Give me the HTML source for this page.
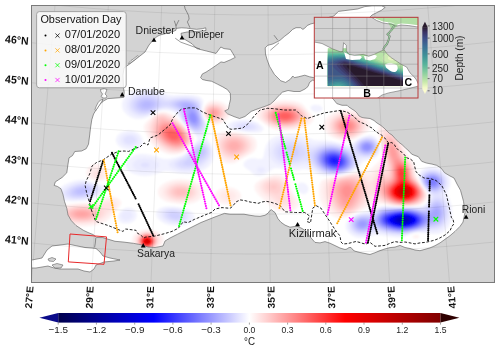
<!DOCTYPE html><html><head><meta charset="utf-8"><style>html,body{margin:0;padding:0;background:#fff;overflow:hidden}svg{display:block;will-change:transform} text{font-family:"Liberation Sans",sans-serif;}</style></head><body>
<svg width="500" height="350" viewBox="0 0 500 350">
<defs>
<clipPath id="frame"><rect x="31.2" y="5.4" width="463.1" height="276.90000000000003"/></clipPath>
<clipPath id="sea"><polygon points="96.5,237.5 93.0,234.5 88.0,232.5 83.4,230.3 76.0,225.5 71.3,220.6 68.0,215.0 66.8,208.3 64.5,201.4 63.0,194.5 61.0,188.8 57.6,186.5 54.2,185.4 55.3,181.9 58.7,179.7 62.2,177.4 66.8,172.8 67.9,164.8 69.0,157.9 72.5,155.6 74.8,151.5 81.6,151.0 86.2,148.7 88.5,144.2 89.7,135.0 90.5,128.0 91.8,119.7 93.6,114.0 96.4,109.4 99.8,104.3 103.8,100.8 107.8,98.6 116.0,98.0 123.8,97.4 124.2,92.0 123.5,88.0 123.0,75.0 124.0,68.0 126.4,66.3 132.0,62.2 138.0,57.5 145.0,52.0 149.0,45.0 153.6,39.5 157.0,36.5 160.0,35.0 168.0,33.0 173.0,31.5 176.0,30.2 176.0,28.4 181.7,27.8 186.3,28.1 190.9,28.7 196.6,29.3 202.3,28.7 205.7,27.8 206.0,30.5 196.0,31.5 187.0,32.0 181.0,33.3 181.6,37.4 192.0,43.8 196.8,48.6 206.4,51.0 216.0,53.4 220.8,47.0 224.0,48.6 230.4,49.4 232.8,53.4 235.2,57.4 230.4,59.8 224.0,62.5 221.0,61.9 217.3,64.6 211.7,68.4 206.1,72.1 202.4,73.9 200.6,77.6 202.4,79.5 206.1,80.4 211.7,81.3 217.3,84.1 222.8,86.9 227.5,89.7 230.3,93.4 230.6,99.0 229.3,104.5 228.4,109.2 224.7,111.0 227.5,113.8 234.0,116.6 239.5,118.5 245.0,116.5 251.2,111.4 256.0,109.5 260.8,107.8 266.0,106.0 270.4,104.2 274.0,101.0 277.6,97.0 280.0,94.5 282.4,92.2 288.0,90.5 294.0,91.5 300.0,91.5 305.0,89.0 308.0,86.5 309.6,82.4 312.8,80.0 318.0,82.0 326.0,92.0 333.4,99.3 336.8,103.6 342.0,105.3 347.1,105.3 348.8,107.0 355.0,111.0 357.0,113.0 359.0,116.0 362.0,117.5 365.0,118.0 370.0,118.5 374.0,120.5 377.0,123.0 381.0,125.5 384.0,128.0 387.0,131.0 389.5,133.5 391.9,134.9 395.3,138.7 398.7,142.1 402.1,144.7 405.6,148.1 409.0,151.1 411.6,154.1 413.7,155.0 418.3,156.7 421.7,161.3 426.3,163.0 432.0,164.1 436.5,165.3 441.1,168.1 444.5,172.7 450.0,176.0 454.0,178.0 457.0,184.0 460.5,190.3 463.5,201.3 465.0,212.4 463.0,222.1 460.0,226.4 455.0,231.4 450.0,235.7 445.0,239.3 440.0,242.9 435.0,245.7 430.0,247.9 425.0,249.3 420.0,250.7 415.0,250.0 410.0,248.5 405.0,247.5 400.0,245.4 395.0,247.1 390.0,247.6 385.0,248.9 380.0,250.6 375.0,252.7 370.0,254.5 365.0,253.5 360.0,252.5 355.0,251.2 353.0,250.0 351.0,247.5 349.0,247.5 347.0,249.0 345.0,249.5 340.0,248.0 335.0,245.6 330.0,243.2 325.0,241.6 320.0,242.9 315.0,242.4 310.0,236.8 306.0,231.0 302.0,228.5 297.0,226.0 295.0,226.4 290.0,227.2 285.0,225.1 281.0,222.3 278.0,218.8 276.0,214.6 275.0,212.5 273.0,211.1 271.5,209.7 270.0,210.4 268.0,213.2 265.0,215.3 260.0,216.3 255.0,216.0 250.0,215.3 244.0,214.2 230.0,214.2 224.4,213.4 214.0,217.3 201.0,222.5 188.0,229.0 177.6,234.2 170.0,238.0 165.0,241.0 163.0,246.0 155.0,247.5 148.0,247.0 140.0,244.5 133.4,243.3 123.0,242.0 115.0,241.3 102.8,237.6"/></clipPath>
<clipPath id="iclip"><rect x="314.3" y="17.3" width="103.69999999999999" height="80.7"/></clipPath>
<clipPath id="isea"><polygon points="314.3,42.0 322.0,43.5 332.8,49.0 340.0,51.7 342.8,51.5 343.6,42.7 346.3,45.4 346.3,50.8 349.0,54.4 354.4,55.3 363.4,54.4 368.8,56.2 374.2,54.4 379.6,51.7 384.1,49.9 386.8,53.5 390.4,57.1 395.8,60.7 401.2,64.3 406.6,67.0 410.0,72.9 414.3,77.0 416.5,80.0 418.5,84.3 418.5,86.0 408.6,88.6 398.0,91.0 388.6,92.9 382.0,95.0 377.0,98.5 314.0,98.5"/></clipPath>
<linearGradient id="cb" x1="0" x2="1" y1="0" y2="0"><stop offset="0.000" stop-color="#00004c"/><stop offset="0.025" stop-color="#00005e"/><stop offset="0.050" stop-color="#000070"/><stop offset="0.075" stop-color="#000082"/><stop offset="0.100" stop-color="#000094"/><stop offset="0.125" stop-color="#0000a6"/><stop offset="0.150" stop-color="#0000b8"/><stop offset="0.175" stop-color="#0000c9"/><stop offset="0.200" stop-color="#0000db"/><stop offset="0.225" stop-color="#0000ed"/><stop offset="0.250" stop-color="#0000ff"/><stop offset="0.275" stop-color="#1a1aff"/><stop offset="0.300" stop-color="#3333ff"/><stop offset="0.325" stop-color="#4d4dff"/><stop offset="0.350" stop-color="#6666ff"/><stop offset="0.375" stop-color="#8080ff"/><stop offset="0.400" stop-color="#9999ff"/><stop offset="0.425" stop-color="#b3b3ff"/><stop offset="0.450" stop-color="#ccccff"/><stop offset="0.475" stop-color="#e6e6ff"/><stop offset="0.500" stop-color="#ffffff"/><stop offset="0.525" stop-color="#ffe5e5"/><stop offset="0.550" stop-color="#ffcccc"/><stop offset="0.575" stop-color="#ffb2b2"/><stop offset="0.600" stop-color="#ff9999"/><stop offset="0.625" stop-color="#ff8080"/><stop offset="0.650" stop-color="#ff6666"/><stop offset="0.675" stop-color="#ff4c4c"/><stop offset="0.700" stop-color="#ff3333"/><stop offset="0.725" stop-color="#ff1919"/><stop offset="0.750" stop-color="#ff0000"/><stop offset="0.775" stop-color="#f20000"/><stop offset="0.800" stop-color="#e50000"/><stop offset="0.825" stop-color="#d90000"/><stop offset="0.850" stop-color="#cc0000"/><stop offset="0.875" stop-color="#bf0000"/><stop offset="0.900" stop-color="#b20000"/><stop offset="0.925" stop-color="#a60000"/><stop offset="0.950" stop-color="#990000"/><stop offset="0.975" stop-color="#8c0000"/><stop offset="1.000" stop-color="#800000"/></linearGradient>
<linearGradient id="deepv" x1="0" x2="0" y1="1" y2="0"><stop offset="0" stop-color="#fdfecc"/><stop offset="0.12" stop-color="#c6e8aa"/><stop offset="0.25" stop-color="#8fd1a0"/><stop offset="0.4" stop-color="#56b39b"/><stop offset="0.55" stop-color="#3e8f98"/><stop offset="0.7" stop-color="#3c6c95"/><stop offset="0.82" stop-color="#3e4d88"/><stop offset="0.92" stop-color="#3b3264"/><stop offset="1" stop-color="#281a2c"/></linearGradient>
<filter id="fblur" x="-5%" y="-5%" width="110%" height="110%"><feGaussianBlur stdDeviation="1.3"/></filter>
</defs>
<rect width="500" height="350" fill="#fff"/>
<g clip-path="url(#frame)">
<rect x="31.2" y="5.4" width="463.1" height="276.90000000000003" fill="#d3d3d3"/>
<polygon points="96.5,237.5 93.0,234.5 88.0,232.5 83.4,230.3 76.0,225.5 71.3,220.6 68.0,215.0 66.8,208.3 64.5,201.4 63.0,194.5 61.0,188.8 57.6,186.5 54.2,185.4 55.3,181.9 58.7,179.7 62.2,177.4 66.8,172.8 67.9,164.8 69.0,157.9 72.5,155.6 74.8,151.5 81.6,151.0 86.2,148.7 88.5,144.2 89.7,135.0 90.5,128.0 91.8,119.7 93.6,114.0 96.4,109.4 99.8,104.3 103.8,100.8 107.8,98.6 116.0,98.0 123.8,97.4 124.2,92.0 123.5,88.0 123.0,75.0 124.0,68.0 126.4,66.3 132.0,62.2 138.0,57.5 145.0,52.0 149.0,45.0 153.6,39.5 157.0,36.5 160.0,35.0 168.0,33.0 173.0,31.5 176.0,30.2 176.0,28.4 181.7,27.8 186.3,28.1 190.9,28.7 196.6,29.3 202.3,28.7 205.7,27.8 206.0,30.5 196.0,31.5 187.0,32.0 181.0,33.3 181.6,37.4 192.0,43.8 196.8,48.6 206.4,51.0 216.0,53.4 220.8,47.0 224.0,48.6 230.4,49.4 232.8,53.4 235.2,57.4 230.4,59.8 224.0,62.5 221.0,61.9 217.3,64.6 211.7,68.4 206.1,72.1 202.4,73.9 200.6,77.6 202.4,79.5 206.1,80.4 211.7,81.3 217.3,84.1 222.8,86.9 227.5,89.7 230.3,93.4 230.6,99.0 229.3,104.5 228.4,109.2 224.7,111.0 227.5,113.8 234.0,116.6 239.5,118.5 245.0,116.5 251.2,111.4 256.0,109.5 260.8,107.8 266.0,106.0 270.4,104.2 274.0,101.0 277.6,97.0 280.0,94.5 282.4,92.2 288.0,90.5 294.0,91.5 300.0,91.5 305.0,89.0 308.0,86.5 309.6,82.4 312.8,80.0 318.0,82.0 326.0,92.0 333.4,99.3 336.8,103.6 342.0,105.3 347.1,105.3 348.8,107.0 355.0,111.0 357.0,113.0 359.0,116.0 362.0,117.5 365.0,118.0 370.0,118.5 374.0,120.5 377.0,123.0 381.0,125.5 384.0,128.0 387.0,131.0 389.5,133.5 391.9,134.9 395.3,138.7 398.7,142.1 402.1,144.7 405.6,148.1 409.0,151.1 411.6,154.1 413.7,155.0 418.3,156.7 421.7,161.3 426.3,163.0 432.0,164.1 436.5,165.3 441.1,168.1 444.5,172.7 450.0,176.0 454.0,178.0 457.0,184.0 460.5,190.3 463.5,201.3 465.0,212.4 463.0,222.1 460.0,226.4 455.0,231.4 450.0,235.7 445.0,239.3 440.0,242.9 435.0,245.7 430.0,247.9 425.0,249.3 420.0,250.7 415.0,250.0 410.0,248.5 405.0,247.5 400.0,245.4 395.0,247.1 390.0,247.6 385.0,248.9 380.0,250.6 375.0,252.7 370.0,254.5 365.0,253.5 360.0,252.5 355.0,251.2 353.0,250.0 351.0,247.5 349.0,247.5 347.0,249.0 345.0,249.5 340.0,248.0 335.0,245.6 330.0,243.2 325.0,241.6 320.0,242.9 315.0,242.4 310.0,236.8 306.0,231.0 302.0,228.5 297.0,226.0 295.0,226.4 290.0,227.2 285.0,225.1 281.0,222.3 278.0,218.8 276.0,214.6 275.0,212.5 273.0,211.1 271.5,209.7 270.0,210.4 268.0,213.2 265.0,215.3 260.0,216.3 255.0,216.0 250.0,215.3 244.0,214.2 230.0,214.2 224.4,213.4 214.0,217.3 201.0,222.5 188.0,229.0 177.6,234.2 170.0,238.0 165.0,241.0 163.0,246.0 155.0,247.5 148.0,247.0 140.0,244.5 133.4,243.3 123.0,242.0 115.0,241.3 102.8,237.6" fill="#fff"/>
<polygon points="265.2,47.8 267.8,45.3 272.8,44.0 277.8,41.5 280.0,40.3 284.6,36.3 289.1,32.9 292.6,29.4 296.0,27.7 300.6,27.7 302.9,29.4 304.6,28.3 307.4,25.4 310.9,23.9 314.3,23.1 320.0,21.0 330.0,17.0 333.6,16.2 338.4,11.4 348.0,10.2 357.6,9.0 364.8,6.6 372.0,5.9 381.6,5.9 385.2,7.3 381.6,10.2 376.8,12.6 372.0,15.0 369.6,17.5 400.0,30.0 400.0,60.0 330.0,80.0 316.0,79.0 313.6,77.6 309.6,76.8 304.8,75.2 298.4,76.8 294.4,77.6 292.8,76.0 290.4,79.2 285.6,82.4 280.8,80.8 274.4,74.4 269.6,66.4 267.2,60.0 265.5,54.0" fill="#fff"/>
<polygon points="25.0,259.0 32.0,260.0 42.0,258.0 47.0,250.0 52.0,246.0 60.0,245.0 68.0,244.0 75.0,245.5 85.0,247.5 92.0,248.0 96.0,248.5 100.0,252.0 103.0,256.0 110.0,258.0 118.0,259.6 120.0,260.0 114.0,261.0 104.0,262.0 96.0,265.0 94.0,269.0 90.0,272.0 84.0,271.0 78.0,269.0 70.0,269.0 60.0,269.0 54.0,268.0 48.0,266.0 42.0,267.0 36.0,268.0 25.0,268.0" fill="#fff"/>
<g clip-path="url(#sea)"><g filter="url(#fblur)">
<path fill="#fff2f2" fill-rule="evenodd" d="M208.6 102.0 210.0 101.1 212.0 100.6 214.0 100.5 216.0 100.5 218.0 100.8 220.0 101.4 221.5 102.0 222.0 102.2 224.0 103.2 225.2 104.0 226.0 104.6 227.5 106.0 228.0 106.7 229.0 108.0 229.9 110.0 230.0 110.7 230.3 112.0 230.3 114.0 230.0 114.8 229.7 116.0 228.3 118.0 228.0 118.3 226.2 120.0 226.0 120.1 224.0 121.5 223.2 122.0 222.0 122.7 220.0 123.7 218.9 124.0 218.0 124.4 216.0 124.9 214.0 124.9 212.0 124.3 211.5 124.0 210.0 123.3 208.5 122.0 208.0 121.6 206.7 120.0 206.0 119.1 205.4 118.0 204.4 116.0 204.0 114.9 203.7 114.0 203.4 112.0 203.4 110.0 203.9 108.0 204.0 107.6 204.8 106.0 206.0 104.1 206.2 104.0 208.0 102.3 208.6 102.0ZM272.1 102.0 274.0 101.4 276.0 101.0 278.0 100.7 280.0 100.5 282.0 100.4 284.0 100.3 286.0 100.3 288.0 100.4 290.0 100.5 292.0 100.7 294.0 101.0 296.0 101.5 297.6 102.0 298.0 102.1 300.0 102.7 302.0 103.9 302.2 104.0 304.0 105.7 304.2 106.0 305.5 108.0 306.0 108.6 307.0 110.0 308.0 111.1 308.9 112.0 310.0 113.1 311.2 114.0 312.0 115.0 313.1 116.0 313.9 118.0 313.5 120.0 312.2 122.0 312.0 122.2 310.1 124.0 310.0 124.1 308.0 125.5 307.1 126.0 306.0 126.6 304.0 127.4 302.2 128.0 302.0 128.1 300.0 128.7 298.0 129.2 296.0 129.5 294.0 129.8 292.0 130.0 291.9 130.0 290.0 130.2 288.0 130.4 286.0 130.4 284.0 130.5 282.0 130.4 280.0 130.3 278.0 130.0 277.8 130.0 276.0 129.8 274.0 129.3 272.0 128.6 271.0 128.0 270.0 127.6 268.0 126.4 267.5 126.0 266.0 125.1 264.6 124.0 264.0 123.6 262.0 122.1 261.8 122.0 260.0 120.6 259.2 120.0 258.0 118.7 257.1 118.0 256.1 116.0 256.0 114.5 256.0 114.0 256.0 113.9 256.5 112.0 257.8 110.0 258.0 109.8 259.7 108.0 260.0 107.8 262.0 106.3 262.4 106.0 264.0 105.0 266.0 104.1 266.2 104.0 268.0 103.2 270.0 102.5 272.0 102.0 272.1 102.0ZM341.4 110.0 342.0 109.9 344.0 109.6 346.0 109.4 348.0 109.4 350.0 109.6 352.0 109.9 352.6 110.0 354.0 110.2 356.0 110.7 358.0 111.4 359.2 112.0 360.0 112.3 362.0 113.4 362.9 114.0 364.0 114.8 365.4 116.0 366.0 116.6 367.3 118.0 368.0 119.0 368.7 120.0 369.6 122.0 370.0 123.6 370.2 124.0 370.3 126.0 370.0 127.6 369.9 128.0 369.0 130.0 368.0 130.9 367.0 132.0 366.0 132.6 364.0 133.9 363.8 134.0 362.0 134.9 360.1 136.0 360.0 136.1 358.0 137.1 356.4 138.0 356.0 138.2 354.0 139.3 352.3 140.0 352.0 140.1 350.0 140.8 348.0 141.2 346.0 141.2 344.0 140.9 342.0 140.6 340.0 140.1 339.6 140.0 338.0 139.6 336.0 138.9 334.0 138.1 333.7 138.0 332.0 137.2 330.0 136.1 329.9 136.0 328.0 134.5 327.4 134.0 326.0 132.3 325.8 132.0 324.7 130.0 324.1 128.0 324.0 127.2 323.8 126.0 323.9 124.0 324.0 123.5 324.3 122.0 325.1 120.0 326.0 118.9 326.6 118.0 328.0 116.6 328.6 116.0 330.0 114.9 331.3 114.0 332.0 113.5 334.0 112.4 334.9 112.0 336.0 111.5 338.0 110.7 340.0 110.2 341.4 110.0ZM155.8 114.0 156.0 113.9 158.0 113.0 160.0 112.3 162.0 112.1 164.0 112.0 166.0 112.3 168.0 112.8 170.0 113.5 171.3 114.0 172.0 114.4 174.0 115.6 174.5 116.0 176.0 117.2 176.7 118.0 178.0 119.2 178.7 120.0 180.0 121.3 180.6 122.0 182.0 123.4 182.5 124.0 184.0 125.6 184.3 126.0 186.0 127.8 186.1 128.0 187.9 130.0 188.0 130.1 189.7 132.0 190.0 132.4 191.4 134.0 192.0 134.9 192.9 136.0 193.8 138.0 193.8 140.0 193.1 142.0 192.0 143.6 191.8 144.0 190.2 146.0 190.0 146.2 188.3 148.0 188.0 148.3 186.2 150.0 186.0 150.2 184.0 151.8 183.6 152.0 182.0 152.9 180.0 153.7 178.8 154.0 178.0 154.2 176.0 154.6 174.0 154.7 172.0 154.6 170.0 154.4 168.2 154.0 168.0 154.0 166.0 153.4 164.0 152.6 162.7 152.0 162.0 151.6 160.0 150.6 159.1 150.0 158.0 149.3 156.2 148.0 156.0 147.9 154.0 146.2 153.8 146.0 152.0 144.1 151.9 144.0 150.4 142.0 150.0 141.3 149.2 140.0 148.2 138.0 148.0 137.7 147.1 136.0 146.1 134.0 146.0 133.8 145.1 132.0 144.3 130.0 144.0 128.7 143.8 128.0 143.9 126.0 144.0 125.8 144.7 124.0 146.0 122.5 146.3 122.0 148.0 120.5 148.5 120.0 150.0 118.7 150.6 118.0 152.0 116.9 152.9 116.0 154.0 115.2 155.8 114.0ZM383.2 122.0 384.0 121.7 386.0 121.8 386.5 122.0 388.0 122.5 390.0 123.6 390.4 124.0 392.0 125.2 392.8 126.0 394.0 127.3 394.6 128.0 396.0 129.8 396.1 130.0 397.6 132.0 398.0 132.7 398.8 134.0 399.9 136.0 400.0 136.2 401.0 138.0 401.9 140.0 402.0 140.3 402.9 142.0 403.6 144.0 404.0 145.1 404.4 146.0 405.2 148.0 405.8 150.0 406.0 150.4 406.8 152.0 407.7 154.0 408.0 154.5 409.1 156.0 410.0 157.4 410.5 158.0 411.9 160.0 412.0 160.2 413.2 162.0 414.0 163.9 414.0 164.0 414.9 166.0 415.4 168.0 415.6 170.0 415.8 172.0 416.0 174.0 416.0 174.2 416.5 176.0 417.2 178.0 418.0 179.3 418.3 180.0 419.5 182.0 420.0 182.7 420.8 184.0 422.0 185.8 422.1 186.0 423.5 188.0 424.0 188.8 424.9 190.0 426.0 191.9 426.1 192.0 427.1 194.0 427.4 196.0 427.0 198.0 426.0 199.9 426.0 200.0 424.4 202.0 424.0 202.4 422.0 204.0 422.0 204.0 420.0 204.9 418.0 205.5 416.0 205.8 414.6 206.0 414.0 206.1 412.0 206.2 410.0 206.3 408.0 206.4 406.0 206.4 404.0 206.4 402.0 206.4 400.0 206.3 398.0 206.2 396.0 206.1 394.9 206.0 394.0 205.9 392.0 205.7 390.0 205.3 388.0 204.9 386.0 204.6 384.0 204.2 382.1 204.0 382.0 204.0 380.0 203.8 378.0 203.7 376.0 203.7 374.0 204.0 373.9 204.0 372.0 204.6 370.0 205.7 369.6 206.0 368.0 206.9 366.1 208.0 366.0 208.0 364.0 208.9 362.0 209.9 361.7 210.0 360.0 210.7 358.0 211.6 357.2 212.0 356.0 212.5 354.0 213.5 353.0 214.0 352.0 214.5 350.0 215.5 348.8 216.0 348.0 216.5 346.0 217.3 344.0 218.0 343.7 218.0 342.0 218.4 340.0 218.5 338.0 218.2 337.4 218.0 336.0 217.6 334.0 216.7 332.8 216.0 332.0 215.5 330.0 214.0 330.0 214.0 328.0 212.2 327.7 212.0 326.0 210.1 325.9 210.0 324.3 208.0 324.0 207.5 322.9 206.0 322.0 204.2 321.9 204.0 320.9 202.0 320.2 200.0 320.0 199.1 319.7 198.0 319.4 196.0 319.2 194.0 319.1 192.0 319.1 190.0 319.1 188.0 319.3 186.0 319.8 184.0 320.0 183.5 320.7 182.0 322.0 180.6 322.7 180.0 324.0 179.4 326.0 178.7 328.0 178.1 328.4 178.0 330.0 177.7 332.0 177.4 334.0 177.1 336.0 176.7 338.0 176.3 339.8 176.0 340.0 176.0 342.0 175.6 344.0 175.2 346.0 174.8 348.0 174.3 349.1 174.0 350.0 173.8 352.0 173.2 354.0 172.7 356.0 172.1 356.6 172.0 358.0 171.6 360.0 171.1 362.0 170.8 364.0 170.7 366.0 170.6 368.0 170.4 369.1 170.0 370.0 169.6 372.0 168.0 372.0 168.0 373.9 166.0 374.0 165.9 376.0 164.1 376.1 164.0 378.0 162.4 378.5 162.0 380.0 160.3 380.1 160.0 380.9 158.0 381.3 156.0 381.6 154.0 381.7 152.0 381.7 150.0 381.7 148.0 381.5 146.0 381.2 144.0 380.7 142.0 380.1 140.0 380.0 139.4 379.5 138.0 378.8 136.0 378.3 134.0 378.0 132.3 377.9 132.0 377.8 130.0 378.0 129.0 378.1 128.0 378.8 126.0 380.0 124.2 380.2 124.0 382.0 122.4 383.2 122.0ZM222.0 132.0 224.0 131.7 226.0 131.6 228.0 131.6 230.0 131.7 232.0 131.9 233.1 132.0 234.0 132.1 236.0 132.3 238.0 132.6 240.0 133.0 242.0 133.3 244.0 133.7 245.3 134.0 246.0 134.2 248.0 134.8 250.0 135.4 251.7 136.0 252.0 136.2 254.0 137.5 254.7 138.0 255.9 140.0 256.0 140.2 256.6 142.0 256.8 144.0 256.7 146.0 256.3 148.0 256.0 148.6 255.4 150.0 254.0 151.7 253.7 152.0 252.0 153.2 250.7 154.0 250.0 154.3 248.0 155.4 246.8 156.0 246.0 156.4 244.0 157.5 243.1 158.0 242.0 158.7 240.0 159.9 239.9 160.0 238.0 161.3 236.5 162.0 236.0 162.4 234.0 163.2 232.0 163.6 230.0 163.6 228.0 163.5 226.0 163.0 224.0 162.2 223.7 162.0 222.0 161.1 220.9 160.0 220.0 159.1 219.2 158.0 218.2 156.0 218.0 155.7 217.4 154.0 216.7 152.0 216.2 150.0 216.0 149.4 215.6 148.0 215.1 146.0 214.7 144.0 214.3 142.0 214.2 140.0 214.4 138.0 215.2 136.0 216.0 135.0 217.0 134.0 218.0 133.4 220.0 132.5 222.0 132.0 222.0 132.0ZM94.5 164.0 96.0 163.7 98.0 163.7 99.4 164.0 100.0 164.1 102.0 164.9 103.7 166.0 104.0 166.2 105.7 168.0 106.0 168.4 107.0 170.0 107.7 172.0 107.9 174.0 107.7 176.0 106.7 178.0 106.0 178.7 104.3 180.0 104.0 180.1 102.0 180.8 100.0 181.1 98.0 181.1 96.0 180.8 94.0 180.3 93.1 180.0 92.0 179.5 90.0 178.5 89.1 178.0 88.0 176.9 87.0 176.0 86.2 174.0 86.3 172.0 86.9 170.0 88.0 168.2 88.1 168.0 90.0 166.1 90.2 166.0 92.0 164.8 94.0 164.1 94.5 164.0ZM270.0 176.0 270.0 176.0 272.0 175.3 274.0 174.8 276.0 174.6 278.0 174.7 280.0 175.0 282.0 175.6 283.0 176.0 284.0 176.5 286.0 177.8 286.3 178.0 288.0 179.9 288.1 180.0 289.1 182.0 289.6 184.0 290.0 186.0 290.0 186.0 290.5 188.0 291.2 190.0 292.0 191.6 292.2 192.0 293.6 194.0 294.0 194.5 295.2 196.0 296.0 197.1 296.8 198.0 298.0 199.9 298.1 200.0 298.9 202.0 299.0 204.0 298.2 206.0 298.0 206.3 296.6 208.0 296.0 208.5 294.0 209.7 293.4 210.0 292.0 210.6 290.0 211.2 288.0 211.6 286.0 211.8 284.0 211.8 282.0 211.6 280.0 211.3 278.0 210.8 276.1 210.0 276.0 210.0 274.0 209.0 272.5 208.0 272.0 207.6 270.1 206.0 270.0 205.9 268.1 204.0 268.0 203.9 266.2 202.0 266.0 201.8 264.1 200.0 264.0 199.9 262.0 198.2 261.8 198.0 260.0 196.5 259.5 196.0 258.0 194.5 257.5 194.0 256.0 192.0 256.0 191.9 255.0 190.0 254.5 188.0 254.5 186.0 255.2 184.0 256.0 183.1 257.0 182.0 258.0 181.4 260.0 180.2 260.4 180.0 262.0 179.3 264.0 178.4 265.0 178.0 266.0 177.6 268.0 176.7 270.0 176.0ZM173.4 180.0 174.0 179.9 176.0 179.6 178.0 179.4 180.0 179.3 182.0 179.3 184.0 179.4 186.0 179.6 188.0 179.9 188.4 180.0 190.0 180.3 192.0 180.7 194.0 181.3 195.5 182.0 196.0 182.2 198.0 183.2 199.2 184.0 200.0 184.6 201.5 186.0 202.0 186.6 203.1 188.0 204.0 190.0 204.0 190.1 204.4 192.0 204.2 194.0 204.0 194.3 203.3 196.0 202.0 197.6 201.6 198.0 200.0 199.4 199.3 200.0 198.0 200.8 196.0 201.9 195.6 202.0 194.0 202.7 192.0 203.3 190.0 203.7 188.0 204.0 187.7 204.0 186.0 204.1 184.0 204.2 182.0 204.1 180.0 204.0 180.0 204.0 178.0 203.8 176.0 203.6 174.0 203.3 172.0 203.0 170.0 202.6 168.0 202.1 167.8 202.0 166.0 201.4 164.0 200.5 163.0 200.0 162.0 199.3 160.5 198.0 160.0 197.3 159.0 196.0 158.2 194.0 158.0 192.5 157.9 192.0 158.0 191.5 158.2 190.0 159.0 188.0 160.0 186.8 160.6 186.0 162.0 184.8 163.0 184.0 164.0 183.4 166.0 182.3 166.7 182.0 168.0 181.4 170.0 180.7 172.0 180.2 173.4 180.0ZM223.1 188.0 224.0 187.7 226.0 187.4 228.0 187.3 230.0 187.4 232.0 187.8 232.8 188.0 234.0 188.3 236.0 189.2 237.4 190.0 238.0 190.5 239.6 192.0 240.0 192.7 240.7 194.0 241.1 196.0 240.7 198.0 240.0 199.2 239.5 200.0 238.0 201.5 237.3 202.0 236.0 202.8 234.0 203.7 232.8 204.0 232.0 204.2 230.0 204.6 228.0 204.7 226.0 204.6 224.0 204.2 223.2 204.0 222.0 203.7 220.0 202.8 218.6 202.0 218.0 201.5 216.3 200.0 216.0 199.5 215.0 198.0 214.5 196.0 214.8 194.0 216.0 192.2 216.1 192.0 218.0 190.3 218.4 190.0 220.0 189.1 222.0 188.3 223.1 188.0ZM105.0 198.0 106.0 197.6 108.0 197.1 110.0 196.8 112.0 196.8 114.0 197.0 116.0 197.5 117.3 198.0 118.0 198.3 120.0 199.9 120.1 200.0 121.2 202.0 121.1 204.0 120.1 206.0 120.0 206.1 118.5 208.0 118.0 208.5 116.6 210.0 116.0 210.7 114.8 212.0 114.0 213.0 113.1 214.0 112.0 215.6 111.6 216.0 110.0 218.0 110.0 218.0 108.0 220.0 107.9 220.0 106.0 221.4 104.7 222.0 104.0 222.4 102.0 223.3 100.0 223.9 99.6 224.0 98.0 224.6 96.0 225.1 94.0 225.5 92.0 225.8 90.0 226.0 89.7 226.0 88.0 226.2 86.0 226.4 84.0 226.5 82.0 226.5 80.0 226.5 78.0 226.4 76.0 226.2 74.3 226.0 74.0 226.0 72.0 225.8 70.0 225.5 68.0 225.1 66.0 224.5 64.4 224.0 64.0 223.9 62.0 223.2 60.0 222.3 59.4 222.0 58.0 221.3 56.1 220.0 56.0 219.9 54.0 218.0 54.0 217.9 52.8 216.0 52.4 214.0 52.8 212.0 54.0 210.2 54.2 210.0 56.0 208.4 56.5 208.0 58.0 207.2 60.0 206.3 61.0 206.0 62.0 205.7 64.0 205.2 66.0 204.8 68.0 204.4 70.0 204.2 71.7 204.0 72.0 204.0 74.0 203.8 76.0 203.6 78.0 203.4 80.0 203.3 82.0 203.2 84.0 203.1 86.0 203.0 88.0 202.9 90.0 202.8 92.0 202.6 94.0 202.3 95.4 202.0 96.0 201.8 98.0 201.1 100.0 200.2 100.4 200.0 102.0 199.2 104.0 198.4 105.0 198.0ZM143.5 230.0 144.0 229.9 146.0 229.5 148.0 229.4 150.0 229.6 151.8 230.0 152.0 230.0 154.0 230.4 156.0 231.1 157.8 232.0 158.0 232.1 160.0 233.3 160.9 234.0 162.0 235.2 162.7 236.0 163.6 238.0 163.9 240.0 163.6 242.0 162.7 244.0 162.0 244.8 161.0 246.0 160.0 246.8 158.4 248.0 158.0 248.3 156.0 249.5 154.9 250.0 154.0 250.5 152.0 251.3 150.0 251.7 148.0 251.9 146.0 251.9 144.0 251.7 142.0 251.2 140.0 250.1 139.9 250.0 138.0 249.0 136.7 248.0 136.0 247.4 134.5 246.0 134.0 245.2 133.1 244.0 132.3 242.0 132.0 240.0 132.3 238.0 133.2 236.0 134.0 235.1 135.0 234.0 136.0 233.2 137.9 232.0 138.0 232.0 140.0 230.9 142.0 230.3 143.5 230.0ZM412.5 236.0 414.0 235.3 416.0 234.8 418.0 235.0 419.9 236.0 418.2 238.0 418.0 238.1 416.0 238.5 414.0 238.3 413.4 238.0 412.5 236.0Z"/>
<path fill="#ffeaea" fill-rule="evenodd" d="M208.2 104.0 210.0 103.0 212.0 102.5 214.0 102.4 216.0 102.5 218.0 102.9 220.0 103.5 221.0 104.0 222.0 104.5 224.0 105.9 224.2 106.0 226.0 108.0 226.0 108.0 227.2 110.0 227.7 112.0 227.7 114.0 227.1 116.0 226.0 117.6 225.8 118.0 224.0 119.6 223.5 120.0 222.0 121.0 220.0 122.0 219.9 122.0 218.0 122.8 216.0 123.2 214.0 123.2 212.0 122.9 210.2 122.0 210.0 121.9 208.0 120.5 207.6 120.0 206.0 118.0 206.0 118.0 205.0 116.0 204.3 114.0 204.0 112.1 204.0 112.0 204.0 111.8 204.1 110.0 204.7 108.0 205.9 106.0 206.0 105.9 208.0 104.1 208.2 104.0ZM272.7 104.0 274.0 103.6 276.0 103.1 278.0 102.7 280.0 102.5 282.0 102.4 284.0 102.3 286.0 102.3 288.0 102.4 290.0 102.5 292.0 102.7 294.0 103.1 296.0 103.6 297.0 104.0 298.0 104.3 300.0 105.1 301.3 106.0 302.0 106.5 303.5 108.0 304.0 108.5 305.3 110.0 306.0 110.8 307.1 112.0 308.0 113.1 308.9 114.0 310.0 115.9 310.0 116.0 310.3 118.0 310.0 118.9 309.6 120.0 308.1 122.0 308.0 122.1 306.0 123.8 305.7 124.0 304.0 125.1 302.0 126.0 302.0 126.0 300.0 126.9 298.0 127.5 296.0 127.9 295.6 128.0 294.0 128.4 292.0 128.7 290.0 128.9 288.0 129.1 286.0 129.2 284.0 129.2 282.0 129.1 280.0 128.9 278.0 128.6 276.0 128.2 275.4 128.0 274.0 127.7 272.0 126.9 270.2 126.0 270.0 125.9 268.0 124.8 266.8 124.0 266.0 123.5 264.0 122.0 264.0 122.0 262.0 120.2 261.7 120.0 260.1 118.0 260.0 117.6 259.4 116.0 259.5 114.0 260.0 112.8 260.3 112.0 261.8 110.0 262.0 109.8 264.0 108.1 264.1 108.0 266.0 106.7 267.4 106.0 268.0 105.7 270.0 104.8 272.0 104.2 272.7 104.0ZM343.4 112.0 344.0 111.9 346.0 111.7 348.0 111.7 350.0 111.9 350.6 112.0 352.0 112.2 354.0 112.6 356.0 113.2 357.7 114.0 358.0 114.1 360.0 115.1 361.2 116.0 362.0 116.6 363.5 118.0 364.0 118.6 365.2 120.0 366.0 121.7 366.2 122.0 366.8 124.0 367.0 126.0 366.7 128.0 366.0 129.5 365.8 130.0 364.1 132.0 364.0 132.1 362.0 133.6 361.5 134.0 360.0 134.9 358.1 136.0 358.0 136.1 356.0 137.1 354.1 138.0 354.0 138.1 352.0 138.9 350.0 139.4 348.0 139.7 346.0 139.7 344.0 139.5 342.0 139.2 340.0 138.7 338.0 138.1 337.9 138.0 336.0 137.3 334.0 136.3 333.5 136.0 332.0 135.0 330.8 134.0 330.0 133.1 329.0 132.0 328.0 130.1 327.9 130.0 327.2 128.0 327.0 126.0 327.1 124.0 327.8 122.0 328.0 121.6 328.8 120.0 330.0 118.5 330.4 118.0 332.0 116.6 332.8 116.0 334.0 115.2 336.0 114.1 336.3 114.0 338.0 113.2 340.0 112.6 342.0 112.2 343.4 112.0ZM157.4 114.0 158.0 113.7 160.0 113.1 162.0 112.9 164.0 112.9 166.0 113.3 168.0 113.9 168.2 114.0 170.0 114.8 172.0 115.9 172.2 116.0 174.0 117.1 175.1 118.0 176.0 118.6 177.5 120.0 178.0 120.4 179.7 122.0 180.0 122.3 181.7 124.0 182.0 124.3 183.6 126.0 184.0 126.4 185.4 128.0 186.0 128.7 187.2 130.0 188.0 131.0 188.9 132.0 190.0 133.4 190.5 134.0 191.8 136.0 192.0 136.6 192.6 138.0 192.7 140.0 192.0 142.0 192.0 142.0 190.8 144.0 190.0 145.0 189.2 146.0 188.0 147.2 187.2 148.0 186.0 149.1 184.8 150.0 184.0 150.7 182.0 151.8 181.4 152.0 180.0 152.6 178.0 153.1 176.0 153.3 174.0 153.3 172.0 153.1 170.0 152.8 168.0 152.2 167.6 152.0 166.0 151.4 164.0 150.5 163.2 150.0 162.0 149.3 160.0 148.0 160.0 148.0 158.0 146.6 157.3 146.0 156.0 144.8 155.1 144.0 154.0 142.8 153.3 142.0 152.0 140.2 151.9 140.0 150.6 138.0 150.0 136.9 149.5 136.0 148.5 134.0 148.0 132.7 147.7 132.0 147.1 130.0 146.9 128.0 147.1 126.0 147.8 124.0 148.0 123.8 149.0 122.0 150.0 120.9 150.6 120.0 152.0 118.5 152.3 118.0 154.0 116.4 154.3 116.0 156.0 114.8 157.4 114.0ZM382.6 128.0 384.0 126.8 386.0 126.3 388.0 126.6 390.0 127.6 390.5 128.0 392.0 129.1 392.9 130.0 394.0 131.2 394.7 132.0 396.0 133.8 396.1 134.0 397.5 136.0 398.0 136.9 398.7 138.0 399.7 140.0 400.0 140.7 400.7 142.0 401.5 144.0 402.0 145.3 402.3 146.0 403.1 148.0 403.8 150.0 404.0 150.6 404.6 152.0 405.5 154.0 406.0 154.9 406.7 156.0 408.0 157.9 408.1 158.0 409.7 160.0 410.0 160.5 411.1 162.0 412.0 163.7 412.2 164.0 413.1 166.0 413.7 168.0 414.0 169.6 414.1 170.0 414.5 172.0 414.9 174.0 415.4 176.0 416.0 177.2 416.3 178.0 417.6 180.0 418.0 180.5 418.9 182.0 420.0 183.5 420.3 184.0 421.6 186.0 422.0 186.5 423.0 188.0 424.0 189.6 424.3 190.0 425.4 192.0 426.0 193.6 426.2 194.0 426.4 196.0 426.0 197.7 425.9 198.0 424.8 200.0 424.0 201.1 423.1 202.0 422.0 202.9 420.2 204.0 420.0 204.1 418.0 204.8 416.0 205.3 414.0 205.6 412.0 205.8 410.0 205.9 408.9 206.0 408.0 206.0 406.0 206.1 404.0 206.1 402.0 206.1 400.3 206.0 400.0 206.0 398.0 205.9 396.0 205.7 394.0 205.5 392.0 205.1 390.0 204.7 388.0 204.3 386.8 204.0 386.0 203.8 384.0 203.2 382.0 202.7 380.0 202.2 379.3 202.0 378.0 201.5 376.0 200.8 374.0 200.1 372.0 200.0 370.0 201.1 369.1 202.0 368.0 203.0 367.2 204.0 366.0 205.0 365.0 206.0 364.0 206.7 362.2 208.0 362.0 208.1 360.0 209.3 358.8 210.0 358.0 210.4 356.0 211.4 355.0 212.0 354.0 212.5 352.0 213.4 350.7 214.0 350.0 214.3 348.0 215.1 346.0 215.7 344.0 216.0 342.0 216.0 340.0 215.7 338.0 215.1 336.0 214.1 335.9 214.0 334.0 212.8 333.0 212.0 332.0 211.1 330.9 210.0 330.0 209.0 329.2 208.0 328.0 206.3 327.8 206.0 326.5 204.0 326.0 203.1 325.4 202.0 324.5 200.0 324.0 198.5 323.8 198.0 323.3 196.0 322.9 194.0 322.7 192.0 322.6 190.0 322.8 188.0 323.1 186.0 323.8 184.0 324.0 183.6 325.0 182.0 326.0 181.1 327.5 180.0 328.0 179.8 330.0 179.0 332.0 178.4 333.3 178.0 334.0 177.9 336.0 177.4 338.0 177.0 340.0 176.6 342.0 176.2 342.9 176.0 344.0 175.8 346.0 175.4 348.0 175.0 350.0 174.5 352.0 174.1 352.7 174.0 354.0 173.7 356.0 173.4 358.0 173.2 360.0 173.2 362.0 173.5 363.7 174.0 364.0 174.1 366.0 174.9 368.0 175.7 370.0 175.6 372.0 174.2 372.1 174.0 373.7 172.0 374.0 171.7 375.3 170.0 376.0 169.2 377.3 168.0 378.0 167.3 379.9 166.0 380.0 165.9 382.0 164.3 382.2 164.0 382.9 162.0 383.0 160.0 383.0 158.0 382.9 156.0 382.8 154.0 382.7 152.0 382.6 150.0 382.5 148.0 382.3 146.0 382.0 144.0 382.0 144.0 381.6 142.0 381.2 140.0 380.8 138.0 380.6 136.0 380.5 134.0 380.7 132.0 381.3 130.0 382.0 128.7 382.6 128.0ZM223.0 134.0 224.0 133.7 226.0 133.3 228.0 133.0 230.0 133.0 232.0 133.0 234.0 133.1 236.0 133.3 238.0 133.6 240.0 133.9 240.3 134.0 242.0 134.4 244.0 134.9 246.0 135.6 247.3 136.0 248.0 136.4 250.0 137.6 250.6 138.0 252.0 139.7 252.3 140.0 253.2 142.0 253.6 144.0 253.6 146.0 253.2 148.0 252.2 150.0 252.0 150.2 250.3 152.0 250.0 152.2 248.0 153.6 247.4 154.0 246.0 154.8 244.0 156.0 243.9 156.0 242.0 157.1 240.2 158.0 240.0 158.2 238.0 159.2 236.0 159.9 235.7 160.0 234.0 160.5 232.0 160.8 230.0 160.7 228.0 160.4 226.8 160.0 226.0 159.8 224.0 158.9 222.8 158.0 222.0 157.4 220.7 156.0 220.0 155.1 219.4 154.0 218.4 152.0 218.0 150.8 217.7 150.0 217.1 148.0 216.7 146.0 216.4 144.0 216.4 142.0 216.7 140.0 217.6 138.0 218.0 137.4 219.3 136.0 220.0 135.5 222.0 134.4 223.0 134.0ZM93.9 168.0 94.0 168.0 96.0 167.4 98.0 167.4 100.0 168.0 100.0 168.0 102.0 169.3 102.7 170.0 103.9 172.0 104.0 172.5 104.3 174.0 104.0 175.6 103.9 176.0 102.4 178.0 102.0 178.3 100.0 179.1 98.0 179.3 96.0 179.1 94.0 178.5 92.8 178.0 92.0 177.4 90.6 176.0 90.0 174.4 89.9 174.0 90.0 172.9 90.1 172.0 91.3 170.0 92.0 169.3 93.9 168.0ZM269.0 178.0 270.0 177.6 272.0 177.0 274.0 176.7 276.0 176.6 278.0 176.9 280.0 177.4 281.4 178.0 282.0 178.3 284.0 179.7 284.4 180.0 286.0 182.0 286.0 182.1 286.9 184.0 287.5 186.0 288.0 187.8 288.0 188.0 288.7 190.0 289.6 192.0 290.0 192.6 290.9 194.0 292.0 195.6 292.3 196.0 293.6 198.0 294.0 198.9 294.5 200.0 294.8 202.0 294.3 204.0 294.0 204.4 292.5 206.0 292.0 206.4 290.0 207.4 288.0 208.0 288.0 208.0 286.0 208.3 284.0 208.3 282.0 208.1 281.5 208.0 280.0 207.7 278.0 206.9 276.3 206.0 276.0 205.8 274.0 204.3 273.6 204.0 272.0 202.4 271.6 202.0 270.0 200.4 269.6 200.0 268.0 198.6 267.4 198.0 266.0 197.0 264.8 196.0 264.0 195.4 262.4 194.0 262.0 193.6 260.5 192.0 260.0 191.2 259.3 190.0 258.6 188.0 258.6 186.0 259.3 184.0 260.0 183.2 261.1 182.0 262.0 181.4 264.0 180.2 264.3 180.0 266.0 179.2 268.0 178.3 269.0 178.0ZM175.1 182.0 176.0 181.8 178.0 181.6 180.0 181.4 182.0 181.4 184.0 181.6 186.0 181.8 186.8 182.0 188.0 182.2 190.0 182.7 192.0 183.4 193.3 184.0 194.0 184.3 196.0 185.6 196.5 186.0 198.0 187.5 198.5 188.0 199.6 190.0 199.9 192.0 199.6 194.0 198.5 196.0 198.0 196.6 196.6 198.0 196.0 198.4 194.0 199.7 193.3 200.0 192.0 200.6 190.0 201.3 188.0 201.8 186.6 202.0 186.0 202.1 184.0 202.3 182.0 202.4 180.0 202.3 178.0 202.2 176.7 202.0 176.0 201.9 174.0 201.6 172.0 201.1 170.0 200.4 168.9 200.0 168.0 199.6 166.0 198.4 165.5 198.0 164.0 196.5 163.5 196.0 162.5 194.0 162.2 192.0 162.5 190.0 163.5 188.0 164.0 187.5 165.5 186.0 166.0 185.6 168.0 184.4 168.7 184.0 170.0 183.4 172.0 182.7 174.0 182.2 175.1 182.0ZM222.3 192.0 224.0 191.2 226.0 190.7 228.0 190.5 230.0 190.7 232.0 191.2 233.6 192.0 234.0 192.3 235.7 194.0 236.0 195.1 236.2 196.0 236.0 196.9 235.7 198.0 234.0 199.7 233.6 200.0 232.0 200.8 230.0 201.3 228.0 201.5 226.0 201.3 224.0 200.8 222.4 200.0 222.0 199.7 220.3 198.0 220.0 197.1 219.7 196.0 220.0 194.9 220.3 194.0 222.0 192.2 222.3 192.0ZM106.9 200.0 108.0 199.7 110.0 199.6 112.0 199.7 113.2 200.0 114.0 200.3 116.0 201.5 116.6 202.0 117.4 204.0 116.9 206.0 116.0 207.4 115.6 208.0 114.0 209.8 113.8 210.0 112.0 211.7 111.7 212.0 110.0 213.8 109.8 214.0 108.0 215.9 107.9 216.0 106.0 217.7 105.7 218.0 104.0 219.2 102.7 220.0 102.0 220.4 100.0 221.4 98.2 222.0 98.0 222.1 96.0 222.8 94.0 223.3 92.0 223.7 90.0 224.0 89.6 224.0 88.0 224.2 86.0 224.4 84.0 224.6 82.0 224.6 80.0 224.6 78.0 224.4 76.0 224.2 74.4 224.0 74.0 224.0 72.0 223.7 70.0 223.3 68.0 222.8 66.0 222.1 65.8 222.0 64.0 221.3 62.0 220.3 61.5 220.0 60.0 218.9 58.9 218.0 58.0 216.7 57.5 216.0 57.0 214.0 57.5 212.0 58.0 211.4 59.0 210.0 60.0 209.3 62.0 208.0 62.0 208.0 64.0 207.1 66.0 206.4 67.6 206.0 68.0 205.9 70.0 205.5 72.0 205.1 74.0 204.8 76.0 204.6 78.0 204.4 80.0 204.3 82.0 204.2 84.0 204.2 86.0 204.2 88.0 204.2 90.0 204.2 92.0 204.2 94.0 204.1 95.4 204.0 96.0 203.9 98.0 203.5 100.0 202.8 101.7 202.0 102.0 201.9 104.0 201.0 106.0 200.2 106.9 200.0ZM141.8 232.0 142.0 231.9 144.0 231.2 146.0 230.9 148.0 230.8 150.0 231.0 152.0 231.5 153.3 232.0 154.0 232.2 156.0 233.1 157.4 234.0 158.0 234.5 159.6 236.0 160.0 236.8 160.8 238.0 161.2 240.0 160.9 242.0 160.0 243.5 159.8 244.0 158.0 246.0 158.0 246.0 156.0 247.7 155.6 248.0 154.0 249.1 152.0 249.9 151.6 250.0 150.0 250.6 148.0 251.0 146.0 251.0 144.0 250.5 142.8 250.0 142.0 249.8 140.0 248.8 138.9 248.0 138.0 247.2 136.8 246.0 136.0 244.7 135.4 244.0 134.6 242.0 134.4 240.0 134.8 238.0 136.0 236.1 136.1 236.0 138.0 234.1 138.1 234.0 140.0 232.7 141.8 232.0Z"/>
<path fill="#ffe1e1" fill-rule="evenodd" d="M211.5 104.0 212.0 103.9 214.0 103.7 216.0 103.9 216.5 104.0 218.0 104.3 220.0 105.0 221.7 106.0 222.0 106.2 224.0 108.0 224.0 108.0 225.3 110.0 225.9 112.0 225.9 114.0 225.3 116.0 224.0 117.7 223.8 118.0 222.0 119.5 221.2 120.0 220.0 120.7 218.0 121.5 216.0 121.9 214.0 122.0 212.0 121.7 210.0 120.9 208.8 120.0 208.0 119.4 206.8 118.0 206.0 116.8 205.6 116.0 204.9 114.0 204.6 112.0 204.8 110.0 205.6 108.0 206.0 107.3 207.3 106.0 208.0 105.3 210.0 104.3 211.5 104.0ZM279.2 104.0 280.0 103.9 282.0 103.6 284.0 103.5 286.0 103.5 288.0 103.6 290.0 103.9 290.8 104.0 292.0 104.2 294.0 104.5 296.0 105.0 298.0 105.8 298.3 106.0 300.0 106.8 301.6 108.0 302.0 108.3 303.7 110.0 304.0 110.3 305.6 112.0 306.0 112.6 307.1 114.0 307.9 116.0 308.0 118.0 307.2 120.0 306.0 121.4 305.4 122.0 304.0 123.2 302.7 124.0 302.0 124.4 300.0 125.4 298.3 126.0 298.0 126.1 296.0 126.8 294.0 127.2 292.0 127.6 290.0 127.8 288.0 128.0 286.8 128.0 286.0 128.0 284.0 128.0 283.3 128.0 282.0 127.9 280.0 127.8 278.0 127.5 276.0 127.1 274.0 126.5 272.9 126.0 272.0 125.7 270.0 124.7 268.8 124.0 268.0 123.5 266.0 122.1 265.9 122.0 264.0 120.3 263.7 120.0 262.3 118.0 262.0 116.9 261.7 116.0 261.9 114.0 262.0 113.8 262.8 112.0 264.0 110.5 264.5 110.0 266.0 108.7 267.1 108.0 268.0 107.4 270.0 106.4 271.2 106.0 272.0 105.6 274.0 105.0 276.0 104.5 278.0 104.1 279.2 104.0ZM159.7 114.0 160.0 113.9 162.0 113.7 164.0 113.8 164.7 114.0 166.0 114.4 168.0 115.2 169.7 116.0 170.0 116.2 172.0 117.2 173.2 118.0 174.0 118.4 176.0 119.8 176.2 120.0 178.0 121.4 178.6 122.0 180.0 123.2 180.8 124.0 182.0 125.1 182.8 126.0 184.0 127.2 184.7 128.0 186.0 129.5 186.5 130.0 188.0 131.9 188.1 132.0 189.6 134.0 190.0 134.7 190.9 136.0 191.6 138.0 191.7 140.0 191.0 142.0 190.0 143.7 189.8 144.0 188.2 146.0 188.0 146.2 186.1 148.0 186.0 148.1 184.0 149.6 183.3 150.0 182.0 150.8 180.0 151.5 178.0 151.9 177.3 152.0 176.0 152.1 174.0 152.1 173.5 152.0 172.0 151.8 170.0 151.4 168.0 150.7 166.5 150.0 166.0 149.8 164.0 148.7 162.8 148.0 162.0 147.5 160.0 146.0 160.0 146.0 158.0 144.4 157.6 144.0 156.0 142.4 155.6 142.0 154.0 140.0 154.0 140.0 152.6 138.0 152.0 137.0 151.4 136.0 150.5 134.0 150.0 132.6 149.8 132.0 149.3 130.0 149.1 128.0 149.4 126.0 150.0 124.3 150.1 124.0 151.1 122.0 152.0 120.7 152.4 120.0 153.8 118.0 154.0 117.8 155.7 116.0 156.0 115.8 158.0 114.6 159.7 114.0ZM341.1 114.0 342.0 113.7 344.0 113.4 346.0 113.2 348.0 113.2 350.0 113.4 352.0 113.7 352.9 114.0 354.0 114.3 356.0 114.9 358.0 116.0 358.0 116.0 360.0 117.2 360.9 118.0 362.0 119.1 362.8 120.0 363.9 122.0 364.0 122.2 364.7 124.0 364.9 126.0 364.6 128.0 364.0 129.3 363.7 130.0 362.1 132.0 362.0 132.1 360.0 133.7 359.6 134.0 358.0 135.0 356.1 136.0 356.0 136.1 354.0 137.0 352.0 137.7 350.7 138.0 350.0 138.2 348.0 138.5 346.0 138.5 344.0 138.3 342.5 138.0 342.0 137.9 340.0 137.4 338.0 136.7 336.5 136.0 336.0 135.8 334.0 134.5 333.3 134.0 332.0 132.7 331.3 132.0 330.1 130.0 330.0 129.7 329.4 128.0 329.1 126.0 329.3 124.0 330.0 122.1 330.0 122.0 331.2 120.0 332.0 119.1 333.1 118.0 334.0 117.2 336.0 116.0 336.0 116.0 338.0 114.9 340.0 114.3 341.1 114.0ZM385.1 130.0 386.0 129.5 388.0 129.5 389.1 130.0 390.0 130.3 392.0 131.8 392.2 132.0 394.0 133.9 394.1 134.0 395.6 136.0 396.0 136.5 397.0 138.0 398.0 139.8 398.1 140.0 399.2 142.0 400.0 143.9 400.1 144.0 401.0 146.0 401.7 148.0 402.0 149.0 402.4 150.0 403.2 152.0 404.0 154.0 404.0 154.1 405.1 156.0 406.0 157.3 406.5 158.0 408.0 159.9 408.1 160.0 409.6 162.0 410.0 162.6 410.9 164.0 411.9 166.0 412.0 166.5 412.6 168.0 413.2 170.0 413.5 172.0 413.8 174.0 414.0 174.6 414.5 176.0 415.5 178.0 416.0 178.7 416.9 180.0 418.0 181.4 418.4 182.0 419.8 184.0 420.0 184.3 421.2 186.0 422.0 187.2 422.5 188.0 423.8 190.0 424.0 190.6 424.8 192.0 425.5 194.0 425.6 196.0 425.0 198.0 424.0 199.6 423.8 200.0 422.0 201.8 421.8 202.0 420.0 203.2 418.3 204.0 418.0 204.1 416.0 204.7 414.0 205.1 412.0 205.4 410.0 205.6 408.0 205.7 406.0 205.8 404.0 205.8 402.0 205.7 400.0 205.7 398.0 205.5 396.0 205.3 394.0 205.0 392.0 204.6 390.0 204.1 389.4 204.0 388.0 203.6 386.0 202.9 384.0 202.2 383.3 202.0 382.0 201.5 380.0 200.5 379.0 200.0 378.0 199.3 376.3 198.0 376.0 197.7 374.1 196.0 374.0 195.9 372.0 194.5 370.0 195.0 369.3 196.0 368.0 197.8 367.9 198.0 366.7 200.0 366.0 201.0 365.4 202.0 364.0 203.7 363.8 204.0 362.0 205.9 361.9 206.0 360.0 207.6 359.5 208.0 358.0 209.0 356.5 210.0 356.0 210.3 354.0 211.4 352.8 212.0 352.0 212.4 350.0 213.2 348.0 213.9 347.2 214.0 346.0 214.3 344.0 214.4 342.0 214.2 341.2 214.0 340.0 213.7 338.0 212.9 336.6 212.0 336.0 211.6 334.1 210.0 334.0 209.9 332.3 208.0 332.0 207.6 330.8 206.0 330.0 204.7 329.6 204.0 328.5 202.0 328.0 201.0 327.5 200.0 326.7 198.0 326.1 196.0 326.0 195.3 325.7 194.0 325.4 192.0 325.4 190.0 325.5 188.0 325.9 186.0 326.0 185.8 326.7 184.0 328.0 182.2 328.1 182.0 330.0 180.6 330.9 180.0 332.0 179.6 334.0 178.9 336.0 178.2 336.8 178.0 338.0 177.7 340.0 177.3 342.0 176.9 344.0 176.5 346.0 176.0 346.2 176.0 348.0 175.7 350.0 175.3 352.0 175.0 354.0 174.8 356.0 174.7 358.0 174.8 360.0 175.2 362.0 176.0 362.0 176.0 364.0 177.3 364.9 178.0 366.0 179.1 367.1 180.0 368.0 181.0 370.0 182.0 372.0 180.5 372.2 180.0 373.3 178.0 374.0 177.0 374.5 176.0 375.8 174.0 376.0 173.7 377.4 172.0 378.0 171.4 379.8 170.0 380.0 169.9 382.0 169.0 384.0 168.3 384.4 168.0 385.4 166.0 385.5 164.0 385.3 162.0 384.9 160.0 384.5 158.0 384.2 156.0 384.0 154.7 383.9 154.0 383.6 152.0 383.4 150.0 383.3 148.0 383.0 146.0 382.8 144.0 382.5 142.0 382.3 140.0 382.1 138.0 382.1 136.0 382.4 134.0 383.2 132.0 384.0 130.7 385.1 130.0ZM223.2 136.0 224.0 135.6 226.0 134.9 228.0 134.4 230.0 134.2 232.0 134.1 234.0 134.2 236.0 134.4 238.0 134.6 240.0 135.0 242.0 135.5 243.5 136.0 244.0 136.2 246.0 137.2 247.4 138.0 248.0 138.6 249.4 140.0 250.0 141.0 250.5 142.0 251.1 144.0 251.2 146.0 250.7 148.0 250.0 149.3 249.6 150.0 248.0 151.7 247.7 152.0 246.0 153.2 244.9 154.0 244.0 154.5 242.0 155.6 241.3 156.0 240.0 156.7 238.0 157.5 236.5 158.0 236.0 158.2 234.0 158.7 232.0 158.8 230.0 158.7 228.0 158.2 227.4 158.0 226.0 157.5 224.0 156.4 223.5 156.0 222.0 154.6 221.5 154.0 220.2 152.0 220.0 151.6 219.3 150.0 218.7 148.0 218.3 146.0 218.2 144.0 218.4 142.0 219.1 140.0 220.0 138.6 220.5 138.0 222.0 136.7 223.2 136.0ZM94.4 172.0 96.0 171.1 98.0 171.1 99.7 172.0 100.0 172.5 100.6 174.0 100.0 175.8 99.9 176.0 98.0 176.8 96.0 176.7 94.6 176.0 94.0 175.2 93.5 174.0 94.0 172.6 94.4 172.0ZM267.8 180.0 268.0 179.9 270.0 179.2 272.0 178.7 274.0 178.4 276.0 178.5 278.0 178.9 280.0 179.6 280.6 180.0 282.0 181.0 283.1 182.0 284.0 183.4 284.4 184.0 285.2 186.0 285.7 188.0 286.0 189.1 286.3 190.0 287.0 192.0 288.0 193.8 288.1 194.0 289.4 196.0 290.0 197.0 290.6 198.0 291.2 200.0 291.0 202.0 290.0 203.5 289.4 204.0 288.0 204.8 286.0 205.3 284.0 205.4 282.0 205.2 280.0 204.5 278.9 204.0 278.0 203.4 276.1 202.0 276.0 201.9 274.0 200.0 274.0 200.0 272.0 198.1 271.9 198.0 270.0 196.6 269.2 196.0 268.0 195.2 266.4 194.0 266.0 193.7 264.0 192.0 264.0 192.0 262.5 190.0 262.0 188.9 261.6 188.0 261.6 186.0 262.0 184.9 262.4 184.0 264.0 182.3 264.3 182.0 266.0 180.9 267.8 180.0ZM174.1 184.0 176.0 183.5 178.0 183.2 180.0 183.1 182.0 183.1 184.0 183.2 186.0 183.5 187.9 184.0 188.0 184.0 190.0 184.7 192.0 185.6 192.7 186.0 194.0 186.9 195.2 188.0 196.0 189.3 196.5 190.0 196.9 192.0 196.5 194.0 196.0 194.8 195.2 196.0 194.0 197.1 192.7 198.0 192.0 198.4 190.0 199.3 188.0 200.0 187.9 200.0 186.0 200.5 184.0 200.7 182.0 200.9 180.0 200.8 178.0 200.7 176.0 200.4 174.4 200.0 174.0 199.9 172.0 199.3 170.0 198.4 169.3 198.0 168.0 197.0 166.8 196.0 166.0 194.7 165.5 194.0 165.1 192.0 165.5 190.0 166.0 189.3 166.8 188.0 168.0 187.0 169.3 186.0 170.0 185.6 172.0 184.7 174.0 184.0 174.1 184.0ZM227.8 194.0 228.0 194.0 228.2 194.0 230.0 194.8 230.9 196.0 230.0 197.2 228.2 198.0 228.0 198.0 227.8 198.0 226.0 197.2 225.1 196.0 226.0 194.8 227.8 194.0ZM103.8 204.0 104.0 203.9 106.0 203.1 108.0 202.6 110.0 202.5 112.0 203.1 113.1 204.0 113.3 206.0 112.1 208.0 112.0 208.1 110.0 210.0 110.0 210.0 108.0 211.8 107.8 212.0 106.1 214.0 106.0 214.1 104.4 216.0 104.0 216.3 102.1 218.0 102.0 218.0 100.0 219.3 98.7 220.0 98.0 220.3 96.0 221.1 94.0 221.7 92.7 222.0 92.0 222.2 90.0 222.6 88.0 222.9 86.0 223.1 84.0 223.2 82.0 223.3 80.0 223.2 78.0 223.1 76.0 222.9 74.0 222.6 72.0 222.2 71.3 222.0 70.0 221.7 68.0 221.1 66.0 220.3 65.5 220.0 64.0 219.2 62.4 218.0 62.0 217.6 60.7 216.0 60.2 214.0 60.7 212.0 62.0 210.5 62.5 210.0 64.0 209.0 66.0 208.0 66.0 208.0 68.0 207.2 70.0 206.7 72.0 206.2 73.4 206.0 74.0 205.9 76.0 205.6 78.0 205.4 80.0 205.3 82.0 205.2 84.0 205.1 86.0 205.2 88.0 205.3 90.0 205.4 92.0 205.5 94.0 205.7 96.0 205.7 98.0 205.7 100.0 205.4 102.0 204.8 103.8 204.0ZM145.6 232.0 146.0 231.9 148.0 231.8 149.1 232.0 150.0 232.1 152.0 232.5 154.0 233.3 155.2 234.0 156.0 234.6 157.6 236.0 158.0 236.6 159.0 238.0 159.4 240.0 159.2 242.0 158.1 244.0 158.0 244.1 156.6 246.0 156.0 246.5 154.0 248.0 154.0 248.0 152.0 249.3 150.0 249.8 148.3 250.0 148.0 250.1 146.0 250.0 145.8 250.0 144.0 249.8 142.0 249.1 140.3 248.0 140.0 247.8 138.1 246.0 138.0 245.8 136.6 244.0 136.0 242.0 136.0 241.0 135.9 240.0 136.0 239.7 136.3 238.0 137.5 236.0 138.0 235.6 139.9 234.0 140.0 233.9 142.0 232.7 144.0 232.2 145.6 232.0Z"/>
<path fill="#ffd9d9" fill-rule="evenodd" d="M208.9 106.0 210.0 105.4 212.0 104.8 214.0 104.7 216.0 104.9 218.0 105.4 219.3 106.0 220.0 106.3 222.0 107.8 222.3 108.0 223.8 110.0 224.0 110.7 224.5 112.0 224.5 114.0 224.0 115.3 223.7 116.0 222.1 118.0 222.0 118.1 220.0 119.5 218.9 120.0 218.0 120.4 216.0 120.9 214.0 121.1 212.0 120.8 210.1 120.0 210.0 120.0 208.0 118.5 207.6 118.0 206.2 116.0 206.0 115.5 205.5 114.0 205.2 112.0 205.5 110.0 206.0 108.9 206.6 108.0 208.0 106.5 208.9 106.0ZM274.6 106.0 276.0 105.6 278.0 105.1 280.0 104.8 282.0 104.6 284.0 104.5 286.0 104.5 288.0 104.6 290.0 104.8 292.0 105.1 294.0 105.6 295.2 106.0 296.0 106.2 298.0 107.0 299.7 108.0 300.0 108.2 302.0 109.8 302.3 110.0 304.0 111.9 304.1 112.0 305.6 114.0 306.0 115.3 306.3 116.0 306.1 118.0 306.0 118.3 305.2 120.0 304.0 121.3 303.3 122.0 302.0 123.0 300.2 124.0 300.0 124.1 298.0 125.0 296.0 125.7 294.8 126.0 294.0 126.2 292.0 126.7 290.0 127.0 288.0 127.2 286.0 127.2 284.0 127.2 282.0 127.1 280.0 126.9 278.0 126.6 276.0 126.0 275.9 126.0 274.0 125.5 272.0 124.6 270.8 124.0 270.0 123.6 268.0 122.3 267.6 122.0 266.0 120.6 265.4 120.0 264.0 118.0 264.0 117.8 263.5 116.0 263.8 114.0 264.0 113.6 264.8 112.0 266.0 110.6 266.6 110.0 268.0 109.0 269.6 108.0 270.0 107.8 272.0 106.8 274.0 106.2 274.6 106.0ZM157.3 116.0 158.0 115.6 160.0 114.8 162.0 114.6 164.0 114.8 166.0 115.5 167.2 116.0 168.0 116.4 170.0 117.5 171.0 118.0 172.0 118.5 174.0 119.6 174.6 120.0 176.0 120.8 177.5 122.0 178.0 122.4 179.9 124.0 180.0 124.1 182.0 125.9 182.1 126.0 184.0 128.0 184.0 128.0 185.7 130.0 186.0 130.3 187.4 132.0 188.0 132.9 188.8 134.0 189.9 136.0 190.0 136.2 190.7 138.0 190.7 140.0 190.1 142.0 190.0 142.1 188.9 144.0 188.0 145.1 187.2 146.0 186.0 147.1 184.9 148.0 184.0 148.7 182.0 149.8 181.4 150.0 180.0 150.5 178.0 151.0 176.0 151.1 174.0 151.0 172.0 150.7 170.0 150.1 169.8 150.0 168.0 149.4 166.0 148.4 165.3 148.0 164.0 147.3 162.1 146.0 162.0 145.9 160.0 144.4 159.6 144.0 158.0 142.6 157.4 142.0 156.0 140.4 155.7 140.0 154.3 138.0 154.0 137.6 153.0 136.0 152.1 134.0 152.0 133.6 151.4 132.0 151.0 130.0 150.9 128.0 151.2 126.0 151.9 124.0 152.0 123.9 152.8 122.0 153.9 120.0 154.0 119.9 155.2 118.0 156.0 117.2 157.3 116.0ZM338.9 116.0 340.0 115.5 342.0 114.9 344.0 114.6 346.0 114.4 348.0 114.4 350.0 114.6 352.0 114.9 354.0 115.5 355.1 116.0 356.0 116.4 358.0 117.5 358.7 118.0 360.0 119.1 360.9 120.0 362.0 121.7 362.2 122.0 363.0 124.0 363.2 126.0 362.9 128.0 362.0 130.0 362.0 130.0 360.4 132.0 360.0 132.3 358.0 133.9 357.8 134.0 356.0 135.0 354.0 136.0 353.9 136.0 352.0 136.7 350.0 137.2 348.0 137.4 346.0 137.4 344.0 137.2 342.0 136.9 340.0 136.3 339.4 136.0 338.0 135.5 336.0 134.3 335.5 134.0 334.0 132.8 333.2 132.0 332.0 130.2 331.8 130.0 331.0 128.0 330.8 126.0 331.0 124.0 331.8 122.0 332.0 121.7 333.1 120.0 334.0 119.1 335.3 118.0 336.0 117.5 338.0 116.4 338.9 116.0ZM387.5 132.0 388.0 131.9 388.2 132.0 390.0 132.5 392.0 133.9 392.1 134.0 394.0 136.0 394.0 136.0 395.5 138.0 396.0 138.7 396.8 140.0 397.9 142.0 398.0 142.2 398.9 144.0 399.8 146.0 400.0 146.6 400.6 148.0 401.3 150.0 402.0 152.0 402.0 152.0 402.9 154.0 403.8 156.0 404.0 156.3 405.2 158.0 406.0 159.0 406.9 160.0 408.0 161.4 408.5 162.0 409.8 164.0 410.0 164.3 411.0 166.0 411.7 168.0 412.0 169.2 412.2 170.0 412.7 172.0 413.1 174.0 413.6 176.0 414.0 176.8 414.7 178.0 416.0 179.8 416.1 180.0 417.8 182.0 418.0 182.2 419.3 184.0 420.0 184.9 420.7 186.0 422.0 187.9 422.1 188.0 423.3 190.0 424.0 191.7 424.2 192.0 424.8 194.0 424.8 196.0 424.1 198.0 424.0 198.1 422.7 200.0 422.0 200.8 420.6 202.0 420.0 202.4 418.0 203.4 416.4 204.0 416.0 204.1 414.0 204.6 412.0 205.0 410.0 205.2 408.0 205.4 406.0 205.4 404.0 205.5 402.0 205.4 400.0 205.3 398.0 205.1 396.0 204.9 394.0 204.6 392.0 204.1 391.5 204.0 390.0 203.6 388.0 202.9 386.0 202.1 385.8 202.0 384.0 201.2 382.0 200.1 381.7 200.0 380.0 198.8 379.0 198.0 378.0 197.0 377.1 196.0 376.0 194.4 375.7 194.0 374.7 192.0 374.1 190.0 374.0 189.3 373.7 188.0 373.8 186.0 374.0 184.9 374.1 184.0 374.6 182.0 375.3 180.0 376.0 178.4 376.2 178.0 377.4 176.0 378.0 175.1 379.2 174.0 380.0 173.3 382.0 172.5 384.0 172.4 386.0 172.3 386.3 172.0 387.6 170.0 387.8 168.0 387.7 166.0 387.3 164.0 386.8 162.0 386.3 160.0 386.0 158.8 385.8 158.0 385.2 156.0 384.8 154.0 384.5 152.0 384.3 150.0 384.0 148.0 384.0 147.6 383.8 146.0 383.6 144.0 383.4 142.0 383.3 140.0 383.3 138.0 383.6 136.0 384.0 134.8 384.4 134.0 386.0 132.3 387.5 132.0ZM227.4 136.0 228.0 135.8 230.0 135.5 232.0 135.3 234.0 135.3 236.0 135.4 238.0 135.7 239.3 136.0 240.0 136.2 242.0 136.8 244.0 137.8 244.5 138.0 246.0 139.2 246.9 140.0 248.0 141.6 248.2 142.0 248.9 144.0 249.0 146.0 248.6 148.0 248.0 149.0 247.4 150.0 246.0 151.5 245.4 152.0 244.0 153.0 242.5 154.0 242.0 154.3 240.0 155.3 238.3 156.0 238.0 156.1 236.0 156.7 234.0 157.1 232.0 157.2 230.0 156.9 228.0 156.4 227.0 156.0 226.0 155.5 224.0 154.2 223.8 154.0 222.0 152.0 222.0 151.9 220.9 150.0 220.2 148.0 220.0 146.7 219.9 146.0 219.9 144.0 220.0 143.4 220.3 142.0 221.3 140.0 222.0 139.2 223.3 138.0 224.0 137.5 226.0 136.5 227.4 136.0ZM351.5 176.0 352.0 175.9 354.0 175.9 355.9 176.0 356.0 176.0 358.0 176.4 360.0 177.2 361.3 178.0 362.0 178.6 363.4 180.0 364.0 180.8 364.9 182.0 365.9 184.0 366.0 184.2 366.8 186.0 367.2 188.0 367.3 190.0 367.1 192.0 366.6 194.0 366.0 195.5 365.9 196.0 365.0 198.0 364.0 199.9 363.9 200.0 362.8 202.0 362.0 203.0 361.3 204.0 360.0 205.5 359.5 206.0 358.0 207.4 357.3 208.0 356.0 208.9 354.4 210.0 354.0 210.2 352.0 211.3 350.3 212.0 350.0 212.1 348.0 212.7 346.0 213.1 344.0 213.1 342.0 212.8 340.0 212.0 339.9 212.0 338.0 211.0 336.7 210.0 336.0 209.4 334.7 208.0 334.0 207.1 333.2 206.0 332.0 204.1 332.0 204.0 330.8 202.0 330.0 200.1 329.9 200.0 329.1 198.0 328.4 196.0 328.0 194.0 328.0 194.0 327.7 192.0 327.6 190.0 327.8 188.0 328.0 187.1 328.2 186.0 329.1 184.0 330.0 182.8 330.7 182.0 332.0 181.1 333.8 180.0 334.0 179.9 336.0 179.2 338.0 178.6 339.9 178.0 340.0 178.0 342.0 177.6 344.0 177.2 346.0 176.8 348.0 176.4 350.0 176.1 351.5 176.0ZM267.4 182.0 268.0 181.7 270.0 180.9 272.0 180.3 274.0 180.1 276.0 180.3 278.0 180.9 280.0 182.0 280.0 182.0 281.8 184.0 282.0 184.4 282.8 186.0 283.3 188.0 283.7 190.0 284.0 191.6 284.1 192.0 284.7 194.0 285.8 196.0 286.0 196.4 286.7 198.0 286.9 200.0 286.0 201.2 284.0 202.0 282.0 201.6 280.0 200.6 279.1 200.0 278.0 199.1 276.7 198.0 276.0 197.5 274.0 196.1 273.9 196.0 272.0 194.9 270.5 194.0 270.0 193.7 268.0 192.4 267.4 192.0 266.0 190.7 265.4 190.0 264.4 188.0 264.2 186.0 265.1 184.0 266.0 183.2 267.4 182.0ZM173.1 186.0 174.0 185.6 176.0 185.1 178.0 184.7 180.0 184.5 182.0 184.5 184.0 184.7 186.0 185.0 188.0 185.6 188.9 186.0 190.0 186.5 192.0 187.8 192.3 188.0 193.8 190.0 194.0 190.6 194.3 192.0 194.0 193.4 193.8 194.0 192.3 196.0 192.0 196.2 190.0 197.5 188.9 198.0 188.0 198.4 186.0 198.9 184.0 199.3 182.0 199.5 180.0 199.4 178.0 199.3 176.0 198.9 174.0 198.4 173.1 198.0 172.0 197.5 170.0 196.2 169.7 196.0 168.2 194.0 168.0 193.3 167.7 192.0 168.0 190.7 168.2 190.0 169.7 188.0 170.0 187.8 172.0 186.5 173.1 186.0ZM69.5 208.0 70.0 207.8 72.0 207.3 74.0 206.9 76.0 206.5 78.0 206.3 80.0 206.2 82.0 206.1 84.0 206.1 86.0 206.2 88.0 206.3 90.0 206.5 92.0 206.7 94.0 207.0 96.0 207.4 98.0 207.7 99.8 208.0 100.0 208.1 102.0 208.6 103.7 210.0 103.6 212.0 102.8 214.0 102.0 215.1 101.4 216.0 100.0 217.2 99.1 218.0 98.0 218.6 96.0 219.6 95.1 220.0 94.0 220.4 92.0 221.0 90.0 221.4 88.0 221.7 86.0 221.9 85.1 222.0 84.0 222.1 82.0 222.1 80.0 222.1 78.9 222.0 78.0 221.9 76.0 221.7 74.0 221.4 72.0 221.0 70.0 220.4 69.0 220.0 68.0 219.6 66.0 218.5 65.2 218.0 64.0 216.8 63.3 216.0 62.7 214.0 63.3 212.0 64.0 211.3 65.3 210.0 66.0 209.6 68.0 208.6 69.5 208.0ZM141.2 234.0 142.0 233.5 144.0 232.7 146.0 232.4 148.0 232.4 150.0 232.6 152.0 233.2 153.5 234.0 154.0 234.2 156.0 235.8 156.2 236.0 157.7 238.0 158.0 239.4 158.2 240.0 158.0 241.2 157.9 242.0 157.2 244.0 156.0 245.4 155.6 246.0 154.0 247.4 153.0 248.0 152.0 248.6 150.0 249.4 148.0 249.7 146.0 249.7 144.0 249.3 142.0 248.5 141.3 248.0 140.0 247.1 138.8 246.0 138.0 244.7 137.5 244.0 136.7 242.0 136.7 240.0 137.2 238.0 138.0 236.9 138.6 236.0 140.0 234.7 141.2 234.0Z"/>
<path fill="#ffd0d0" fill-rule="evenodd" d="M211.2 106.0 212.0 105.8 214.0 105.6 216.0 105.9 216.4 106.0 218.0 106.5 220.0 107.5 220.6 108.0 222.0 109.4 222.4 110.0 223.2 112.0 223.2 114.0 222.4 116.0 222.0 116.5 220.5 118.0 220.0 118.4 218.0 119.4 216.0 120.0 215.8 120.0 214.0 120.2 212.8 120.0 212.0 119.9 210.0 119.1 208.5 118.0 208.0 117.5 206.9 116.0 206.1 114.0 206.0 113.4 205.9 112.0 206.0 111.2 206.3 110.0 207.6 108.0 208.0 107.6 210.0 106.3 211.2 106.0ZM278.4 106.0 280.0 105.7 282.0 105.5 284.0 105.3 286.0 105.3 288.0 105.5 290.0 105.7 291.5 106.0 292.0 106.1 294.0 106.5 296.0 107.2 297.8 108.0 298.0 108.1 300.0 109.3 300.8 110.0 302.0 111.1 302.8 112.0 304.0 113.7 304.2 114.0 304.8 116.0 304.6 118.0 304.0 119.1 303.5 120.0 302.0 121.5 301.4 122.0 300.0 123.0 298.0 124.0 297.9 124.0 296.0 124.8 294.0 125.4 292.0 125.8 290.7 126.0 290.0 126.1 288.0 126.4 286.0 126.5 284.0 126.5 282.0 126.3 280.0 126.1 279.6 126.0 278.0 125.7 276.0 125.2 274.0 124.6 272.8 124.0 272.0 123.7 270.0 122.5 269.2 122.0 268.0 121.0 266.9 120.0 266.0 118.7 265.5 118.0 265.0 116.0 265.3 114.0 266.0 112.8 266.4 112.0 268.0 110.4 268.5 110.0 270.0 109.0 271.9 108.0 272.0 107.9 274.0 107.1 276.0 106.5 278.0 106.1 278.4 106.0ZM159.4 116.0 160.0 115.8 162.0 115.6 164.0 115.9 164.4 116.0 166.0 116.7 168.0 117.7 168.6 118.0 170.0 118.7 172.0 119.6 172.7 120.0 174.0 120.6 176.0 121.8 176.2 122.0 178.0 123.2 178.9 124.0 180.0 124.9 181.2 126.0 182.0 126.7 183.2 128.0 184.0 128.8 185.0 130.0 186.0 131.2 186.6 132.0 188.0 134.0 188.0 134.0 189.1 136.0 189.8 138.0 189.8 140.0 189.2 142.0 188.0 143.9 188.0 144.0 186.1 146.0 186.0 146.1 184.0 147.7 183.5 148.0 182.0 148.9 180.0 149.6 178.0 150.0 177.9 150.0 176.0 150.1 174.5 150.0 174.0 150.0 172.0 149.6 170.0 149.0 168.0 148.2 167.6 148.0 166.0 147.2 164.0 146.0 164.0 146.0 162.0 144.6 161.3 144.0 160.0 142.9 159.0 142.0 158.0 140.9 157.2 140.0 156.0 138.4 155.7 138.0 154.5 136.0 154.0 134.9 153.5 134.0 152.9 132.0 152.5 130.0 152.5 128.0 152.9 126.0 153.6 124.0 154.0 123.0 154.5 122.0 155.4 120.0 156.0 119.0 156.7 118.0 158.0 116.8 159.4 116.0ZM342.4 116.0 344.0 115.6 346.0 115.4 348.0 115.4 350.0 115.6 351.6 116.0 352.0 116.1 354.0 116.7 356.0 117.6 356.6 118.0 358.0 119.0 359.2 120.0 360.0 121.1 360.7 122.0 361.5 124.0 361.8 126.0 361.5 128.0 360.5 130.0 360.0 130.7 358.8 132.0 358.0 132.6 356.0 134.0 356.0 134.0 354.0 135.0 352.0 135.7 350.7 136.0 350.0 136.2 348.0 136.4 346.0 136.5 344.0 136.2 342.9 136.0 342.0 135.8 340.0 135.2 338.0 134.3 337.5 134.0 336.0 132.9 334.9 132.0 334.0 130.9 333.3 130.0 332.5 128.0 332.2 126.0 332.5 124.0 333.3 122.0 334.0 121.0 334.8 120.0 336.0 119.0 337.4 118.0 338.0 117.6 340.0 116.7 342.0 116.1 342.4 116.0ZM385.4 136.0 386.0 135.1 388.0 134.1 390.0 134.5 392.0 135.8 392.2 136.0 394.0 137.8 394.1 138.0 395.6 140.0 396.0 140.6 396.8 142.0 397.8 144.0 398.0 144.3 398.8 146.0 399.6 148.0 400.0 149.1 400.3 150.0 401.1 152.0 401.8 154.0 402.0 154.4 402.8 156.0 404.0 157.9 404.1 158.0 405.7 160.0 406.0 160.3 407.5 162.0 408.0 162.6 409.0 164.0 410.0 165.8 410.1 166.0 411.0 168.0 411.6 170.0 411.9 172.0 412.0 172.5 412.3 174.0 412.9 176.0 413.8 178.0 414.0 178.2 415.4 180.0 416.0 180.6 417.2 182.0 418.0 182.9 418.8 184.0 420.0 185.6 420.3 186.0 421.6 188.0 422.0 188.7 422.8 190.0 423.6 192.0 424.0 193.7 424.1 194.0 424.0 195.4 424.0 196.0 423.2 198.0 422.0 199.7 421.8 200.0 420.0 201.6 419.4 202.0 418.0 202.8 416.0 203.6 414.6 204.0 414.0 204.2 412.0 204.6 410.0 204.8 408.0 205.0 406.0 205.1 404.0 205.1 402.0 205.1 400.0 205.0 398.0 204.8 396.0 204.5 394.0 204.1 393.5 204.0 392.0 203.6 390.0 203.0 388.0 202.2 387.6 202.0 386.0 201.2 384.0 200.2 383.7 200.0 382.0 198.8 380.9 198.0 380.0 197.0 379.0 196.0 378.0 194.4 377.7 194.0 376.8 192.0 376.2 190.0 376.0 188.0 376.0 186.0 376.3 184.0 376.8 182.0 377.6 180.0 378.0 179.1 378.8 178.0 380.0 176.6 381.1 176.0 382.0 175.6 384.0 175.5 386.0 175.7 388.0 175.1 388.6 174.0 389.1 172.0 389.3 170.0 389.2 168.0 389.0 166.0 388.6 164.0 388.1 162.0 388.0 161.7 387.4 160.0 386.8 158.0 386.2 156.0 386.0 155.0 385.7 154.0 385.3 152.0 385.0 150.0 384.8 148.0 384.6 146.0 384.4 144.0 384.3 142.0 384.4 140.0 384.7 138.0 385.4 136.0ZM226.3 138.0 228.0 137.3 230.0 136.8 232.0 136.5 234.0 136.4 236.0 136.6 238.0 136.9 240.0 137.5 241.4 138.0 242.0 138.3 244.0 139.6 244.5 140.0 246.0 141.8 246.1 142.0 246.9 144.0 247.1 146.0 246.6 148.0 246.0 149.1 245.4 150.0 244.0 151.4 243.3 152.0 242.0 152.8 240.0 154.0 239.9 154.0 238.0 154.8 236.0 155.4 234.0 155.7 232.0 155.7 230.0 155.4 228.0 154.8 226.5 154.0 226.0 153.7 224.0 152.0 224.0 152.0 222.6 150.0 222.0 148.5 221.8 148.0 221.5 146.0 221.6 144.0 222.0 142.6 222.2 142.0 223.6 140.0 224.0 139.6 226.0 138.2 226.3 138.0ZM343.3 178.0 344.0 177.9 346.0 177.5 348.0 177.2 350.0 177.0 352.0 177.0 354.0 177.0 356.0 177.4 357.8 178.0 358.0 178.1 360.0 179.4 360.7 180.0 362.0 181.5 362.4 182.0 363.5 184.0 364.0 185.5 364.2 186.0 364.6 188.0 364.8 190.0 364.6 192.0 364.2 194.0 364.0 194.7 363.6 196.0 362.8 198.0 362.0 199.5 361.8 200.0 360.6 202.0 360.0 202.8 359.2 204.0 358.0 205.4 357.5 206.0 356.0 207.4 355.4 208.0 354.0 208.9 352.3 210.0 352.0 210.2 350.0 211.0 348.0 211.6 346.0 211.9 344.0 211.8 342.0 211.4 340.0 210.5 339.1 210.0 338.0 209.2 336.7 208.0 336.0 207.1 335.1 206.0 334.0 204.1 333.9 204.0 332.9 202.0 332.0 200.1 332.0 200.0 331.1 198.0 330.5 196.0 330.0 194.1 330.0 194.0 329.6 192.0 329.6 190.0 329.8 188.0 330.0 187.1 330.3 186.0 331.2 184.0 332.0 183.1 333.0 182.0 334.0 181.4 336.0 180.2 336.4 180.0 338.0 179.5 340.0 178.8 342.0 178.3 343.3 178.0ZM273.7 182.0 274.0 182.0 274.1 182.0 276.0 182.4 278.0 183.4 278.8 184.0 280.0 185.8 280.1 186.0 280.6 188.0 280.5 190.0 280.0 191.9 280.0 192.0 278.0 193.4 276.0 193.4 274.0 192.9 272.0 192.1 271.8 192.0 270.0 191.0 268.7 190.0 268.0 189.2 267.2 188.0 267.0 186.0 268.0 184.2 268.2 184.0 270.0 182.9 272.0 182.2 273.7 182.0ZM178.6 186.0 180.0 185.9 182.0 185.9 183.4 186.0 184.0 186.1 186.0 186.5 188.0 187.3 189.3 188.0 190.0 188.6 191.4 190.0 192.0 192.0 191.4 194.0 190.0 195.4 189.3 196.0 188.0 196.7 186.0 197.5 184.0 197.9 183.3 198.0 182.0 198.1 180.0 198.1 178.7 198.0 178.0 197.9 176.0 197.5 174.0 196.7 172.7 196.0 172.0 195.4 170.6 194.0 170.0 192.0 170.6 190.0 172.0 188.6 172.7 188.0 174.0 187.3 176.0 186.5 178.0 186.1 178.6 186.0ZM73.2 208.0 74.0 207.8 76.0 207.4 78.0 207.2 80.0 207.0 82.0 206.9 84.0 206.9 86.0 207.0 88.0 207.2 90.0 207.5 92.0 207.9 92.5 208.0 94.0 208.4 96.0 209.0 98.0 209.8 98.4 210.0 100.0 211.9 100.1 212.0 100.0 214.0 100.0 214.0 98.9 216.0 98.0 216.7 96.3 218.0 96.0 218.2 94.0 219.1 92.0 219.8 91.4 220.0 90.0 220.4 88.0 220.8 86.0 221.0 84.0 221.2 82.0 221.2 80.0 221.2 78.0 221.0 76.0 220.8 74.0 220.4 72.6 220.0 72.0 219.8 70.0 219.1 68.0 218.1 67.8 218.0 66.0 216.4 65.6 216.0 64.9 214.0 65.6 212.0 66.0 211.7 68.0 210.0 68.0 210.0 70.0 209.0 72.0 208.3 73.2 208.0ZM142.5 234.0 144.0 233.3 146.0 232.8 148.0 232.8 150.0 233.1 152.0 233.9 152.2 234.0 154.0 234.9 155.3 236.0 156.0 236.9 156.8 238.0 157.4 240.0 157.3 242.0 156.4 244.0 156.0 244.4 154.9 246.0 154.0 246.7 152.0 248.0 152.0 248.0 150.0 249.0 148.0 249.3 146.0 249.3 144.0 248.9 142.3 248.0 142.0 247.9 140.0 246.4 139.6 246.0 138.2 244.0 138.0 243.3 137.4 242.0 137.4 240.0 138.0 238.3 138.1 238.0 139.5 236.0 140.0 235.5 142.0 234.2 142.5 234.0Z"/>
<path fill="#ffc8c8" fill-rule="evenodd" d="M208.8 108.0 210.0 107.2 212.0 106.6 214.0 106.5 216.0 106.8 218.0 107.4 219.0 108.0 220.0 108.8 221.2 110.0 222.0 111.9 222.1 112.0 222.0 114.0 222.0 114.1 221.1 116.0 220.0 117.2 218.9 118.0 218.0 118.5 216.0 119.1 214.0 119.4 212.0 119.1 210.0 118.3 209.6 118.0 208.0 116.5 207.7 116.0 206.8 114.0 206.6 112.0 207.1 110.0 208.0 108.7 208.8 108.0ZM274.1 108.0 276.0 107.3 278.0 106.8 280.0 106.4 282.0 106.2 284.0 106.1 286.0 106.1 288.0 106.2 290.0 106.4 292.0 106.8 294.0 107.3 295.7 108.0 296.0 108.1 298.0 109.1 299.4 110.0 300.0 110.5 301.6 112.0 302.0 112.6 303.0 114.0 303.5 116.0 303.2 118.0 302.0 120.0 302.0 120.0 300.0 121.8 299.7 122.0 298.0 123.0 296.0 123.9 295.7 124.0 294.0 124.6 292.0 125.1 290.0 125.4 288.0 125.7 286.0 125.8 284.0 125.7 282.0 125.6 280.0 125.4 278.0 125.0 276.0 124.5 274.8 124.0 274.0 123.7 272.0 122.8 270.7 122.0 270.0 121.5 268.3 120.0 268.0 119.6 266.9 118.0 266.4 116.0 266.7 114.0 267.9 112.0 268.0 111.9 270.0 110.1 270.2 110.0 272.0 108.9 274.0 108.0 274.1 108.0ZM158.5 118.0 160.0 117.1 162.0 116.8 164.0 117.2 166.0 118.0 166.0 118.0 168.0 118.9 170.0 119.8 170.4 120.0 172.0 120.6 174.0 121.6 174.7 122.0 176.0 122.7 177.9 124.0 178.0 124.1 180.0 125.6 180.4 126.0 182.0 127.5 182.5 128.0 184.0 129.6 184.3 130.0 185.9 132.0 186.0 132.1 187.3 134.0 188.0 135.4 188.3 136.0 188.9 138.0 189.0 140.0 188.3 142.0 188.0 142.5 187.0 144.0 186.0 145.1 185.0 146.0 184.0 146.8 182.0 148.0 181.9 148.0 180.0 148.7 178.0 149.1 176.0 149.2 174.0 149.1 172.0 148.7 170.0 148.0 170.0 148.0 168.0 147.2 166.0 146.1 165.8 146.0 164.0 144.9 162.8 144.0 162.0 143.3 160.5 142.0 160.0 141.5 158.6 140.0 158.0 139.3 157.0 138.0 156.0 136.4 155.8 136.0 154.8 134.0 154.2 132.0 154.0 130.7 153.9 130.0 153.9 128.0 154.0 127.6 154.3 126.0 155.1 124.0 156.0 122.1 156.0 122.0 157.0 120.0 158.0 118.5 158.5 118.0ZM339.5 118.0 340.0 117.7 342.0 117.0 344.0 116.6 346.0 116.4 348.0 116.4 350.0 116.6 352.0 117.0 354.0 117.7 354.5 118.0 356.0 118.8 357.6 120.0 358.0 120.4 359.3 122.0 360.0 123.5 360.2 124.0 360.5 126.0 360.2 128.0 360.0 128.4 359.2 130.0 358.0 131.3 357.3 132.0 356.0 132.9 354.1 134.0 354.0 134.0 352.0 134.8 350.0 135.3 348.0 135.6 346.0 135.6 344.0 135.4 342.0 134.9 340.0 134.2 339.6 134.0 338.0 133.1 336.5 132.0 336.0 131.5 334.7 130.0 334.0 128.4 333.8 128.0 333.5 126.0 333.8 124.0 334.0 123.5 334.7 122.0 336.0 120.4 336.4 120.0 338.0 118.8 339.5 118.0ZM230.5 138.0 232.0 137.7 234.0 137.6 236.0 137.8 237.2 138.0 238.0 138.2 240.0 138.9 242.0 140.0 242.0 140.0 244.0 142.0 244.0 142.0 245.0 144.0 245.2 146.0 244.8 148.0 244.0 149.2 243.4 150.0 242.0 151.2 241.0 152.0 240.0 152.6 238.0 153.5 236.2 154.0 236.0 154.1 234.0 154.3 232.0 154.3 230.5 154.0 230.0 153.9 228.0 153.1 226.3 152.0 226.0 151.8 224.4 150.0 224.0 149.2 223.5 148.0 223.1 146.0 223.3 144.0 224.0 142.3 224.1 142.0 226.0 140.0 226.0 140.0 228.0 138.8 230.0 138.1 230.5 138.0ZM386.1 138.0 388.0 136.2 390.0 136.3 392.0 137.5 392.5 138.0 394.0 139.5 394.3 140.0 395.7 142.0 396.0 142.4 396.9 144.0 397.8 146.0 398.0 146.4 398.7 148.0 399.4 150.0 400.0 151.6 400.2 152.0 400.9 154.0 401.8 156.0 402.0 156.3 403.1 158.0 404.0 159.1 404.7 160.0 406.0 161.3 406.6 162.0 408.0 163.8 408.2 164.0 409.4 166.0 410.0 167.4 410.3 168.0 410.9 170.0 411.4 172.0 411.7 174.0 412.0 175.4 412.2 176.0 413.2 178.0 414.0 179.1 414.7 180.0 416.0 181.3 416.6 182.0 418.0 183.6 418.3 184.0 419.8 186.0 420.0 186.2 421.2 188.0 422.0 189.5 422.3 190.0 423.1 192.0 423.5 194.0 423.3 196.0 422.4 198.0 422.0 198.6 420.9 200.0 420.0 200.8 418.2 202.0 418.0 202.1 416.0 203.0 414.0 203.7 412.7 204.0 412.0 204.1 410.0 204.5 408.0 204.7 406.0 204.8 404.0 204.8 402.0 204.8 400.0 204.6 398.0 204.4 396.0 204.1 395.5 204.0 394.0 203.7 392.0 203.1 390.0 202.4 389.1 202.0 388.0 201.5 386.0 200.4 385.3 200.0 384.0 199.1 382.5 198.0 382.0 197.4 380.6 196.0 380.0 195.1 379.3 194.0 378.4 192.0 378.0 190.4 377.9 190.0 377.6 188.0 377.7 186.0 378.0 184.5 378.1 184.0 378.8 182.0 380.0 180.0 380.0 180.0 382.0 178.4 384.0 178.1 386.0 178.1 386.5 178.0 388.0 177.7 389.7 176.0 390.0 175.4 390.3 174.0 390.4 172.0 390.4 170.0 390.3 168.0 390.1 166.0 390.0 165.3 389.7 164.0 389.1 162.0 388.5 160.0 388.0 158.6 387.8 158.0 387.1 156.0 386.6 154.0 386.1 152.0 386.0 151.2 385.8 150.0 385.5 148.0 385.4 146.0 385.3 144.0 385.3 142.0 385.5 140.0 386.0 138.2 386.1 138.0ZM348.7 178.0 350.0 177.9 352.0 178.0 352.3 178.0 354.0 178.2 356.0 178.9 358.0 179.9 358.1 180.0 360.0 181.8 360.1 182.0 361.4 184.0 362.0 185.5 362.2 186.0 362.6 188.0 362.8 190.0 362.7 192.0 362.3 194.0 362.0 194.9 361.7 196.0 360.8 198.0 360.0 199.6 359.8 200.0 358.7 202.0 358.0 203.0 357.3 204.0 356.0 205.6 355.7 206.0 354.0 207.6 353.5 208.0 352.0 208.9 350.0 209.9 349.8 210.0 348.0 210.5 346.0 210.8 344.0 210.6 342.0 210.1 341.8 210.0 340.0 209.0 338.7 208.0 338.0 207.3 336.9 206.0 336.0 204.5 335.7 204.0 334.7 202.0 334.0 200.5 333.8 200.0 333.0 198.0 332.3 196.0 332.0 194.9 331.8 194.0 331.4 192.0 331.3 190.0 331.6 188.0 332.0 186.5 332.1 186.0 333.2 184.0 334.0 183.2 335.2 182.0 336.0 181.5 338.0 180.5 339.1 180.0 340.0 179.7 342.0 179.2 344.0 178.7 346.0 178.3 348.0 178.0 348.7 178.0ZM271.0 186.0 272.0 185.2 274.0 184.9 276.0 185.8 276.2 186.0 276.5 188.0 276.0 188.6 274.0 189.2 272.0 188.5 271.3 188.0 271.0 186.0ZM176.2 188.0 178.0 187.5 180.0 187.2 182.0 187.2 184.0 187.5 185.8 188.0 186.0 188.1 188.0 189.3 188.8 190.0 189.6 192.0 188.8 194.0 188.0 194.7 186.0 195.9 185.8 196.0 184.0 196.5 182.0 196.8 180.0 196.7 178.0 196.5 176.2 196.0 176.0 195.9 174.0 194.7 173.2 194.0 172.4 192.0 173.2 190.0 174.0 189.3 176.0 188.1 176.2 188.0ZM78.1 208.0 80.0 207.8 82.0 207.8 84.0 207.8 86.0 207.9 86.6 208.0 88.0 208.2 90.0 208.5 92.0 209.0 94.0 209.7 94.7 210.0 96.0 210.9 97.3 212.0 97.6 214.0 96.5 216.0 96.0 216.4 94.0 217.8 93.7 218.0 92.0 218.7 90.0 219.3 88.0 219.8 86.7 220.0 86.0 220.1 84.0 220.3 82.0 220.3 80.0 220.3 78.0 220.1 77.4 220.0 76.0 219.8 74.0 219.3 72.0 218.7 70.4 218.0 70.0 217.8 68.0 216.2 67.8 216.0 67.0 214.0 67.8 212.0 68.0 211.8 70.0 210.3 70.5 210.0 72.0 209.4 74.0 208.8 76.0 208.3 78.0 208.0 78.1 208.0ZM143.6 234.0 144.0 233.8 146.0 233.3 148.0 233.2 150.0 233.6 150.9 234.0 152.0 234.4 154.0 235.6 154.5 236.0 156.0 238.0 156.0 238.1 156.7 240.0 156.6 242.0 156.0 243.2 155.8 244.0 154.1 246.0 154.0 246.1 152.0 247.6 151.1 248.0 150.0 248.6 148.0 249.0 146.0 249.0 144.0 248.5 143.1 248.0 142.0 247.5 140.2 246.0 140.0 245.8 138.6 244.0 138.1 242.0 138.0 240.0 138.6 238.0 140.0 236.2 140.2 236.0 142.0 234.6 143.6 234.0Z"/>
<path fill="#ffbfbf" fill-rule="evenodd" d="M210.3 108.0 212.0 107.4 214.0 107.3 216.0 107.6 217.0 108.0 218.0 108.5 219.9 110.0 220.0 110.1 220.9 112.0 220.9 114.0 220.0 115.8 219.9 116.0 218.0 117.5 216.9 118.0 216.0 118.3 214.0 118.6 212.0 118.3 211.2 118.0 210.0 117.4 208.5 116.0 208.0 115.2 207.5 114.0 207.3 112.0 207.9 110.0 208.0 109.9 210.0 108.1 210.3 108.0ZM276.4 108.0 278.0 107.5 280.0 107.1 282.0 106.9 284.0 106.7 286.0 106.7 288.0 106.9 290.0 107.1 292.0 107.5 293.6 108.0 294.0 108.1 296.0 108.9 298.0 110.0 298.0 110.0 300.0 111.7 300.4 112.0 301.8 114.0 302.0 114.9 302.3 116.0 302.0 117.8 302.0 118.0 300.7 120.0 300.0 120.6 298.1 122.0 298.0 122.1 296.0 123.1 294.0 123.8 293.4 124.0 292.0 124.4 290.0 124.8 288.0 125.0 286.0 125.2 284.0 125.1 282.0 125.0 280.0 124.8 278.0 124.3 276.9 124.0 276.0 123.7 274.0 122.9 272.2 122.0 272.0 121.9 270.0 120.4 269.6 120.0 268.1 118.0 268.0 117.5 267.6 116.0 268.0 114.0 268.0 114.0 269.3 112.0 270.0 111.4 271.8 110.0 272.0 109.9 274.0 108.8 276.0 108.1 276.4 108.0ZM341.9 118.0 342.0 117.9 344.0 117.4 346.0 117.2 348.0 117.2 350.0 117.4 352.0 117.9 352.1 118.0 354.0 118.8 356.0 120.0 356.0 120.0 358.0 122.0 358.0 122.0 359.0 124.0 359.3 126.0 359.0 128.0 358.0 129.8 357.9 130.0 356.0 131.9 355.8 132.0 354.0 133.1 352.0 133.9 351.8 134.0 350.0 134.5 348.0 134.8 346.0 134.8 344.0 134.5 342.0 134.0 342.0 134.0 340.0 133.2 338.0 132.0 338.0 132.0 336.0 130.0 336.0 129.9 335.0 128.0 334.7 126.0 335.0 124.0 336.0 122.0 336.0 122.0 338.0 120.0 338.0 120.0 340.0 118.8 341.9 118.0ZM159.0 120.0 160.0 119.0 162.0 118.3 164.0 118.6 166.0 119.4 167.6 120.0 168.0 120.1 170.0 120.8 172.0 121.5 173.0 122.0 174.0 122.4 176.0 123.5 176.7 124.0 178.0 124.8 179.5 126.0 180.0 126.4 181.7 128.0 182.0 128.3 183.6 130.0 184.0 130.5 185.2 132.0 186.0 133.2 186.6 134.0 187.6 136.0 188.0 137.6 188.1 138.0 188.1 140.0 188.0 140.3 187.4 142.0 186.1 144.0 186.0 144.1 184.0 145.9 183.9 146.0 182.0 147.1 180.0 147.9 179.4 148.0 178.0 148.3 176.0 148.4 174.0 148.2 173.2 148.0 172.0 147.8 170.0 147.1 168.0 146.2 167.6 146.0 166.0 145.1 164.3 144.0 164.0 143.8 162.0 142.2 161.8 142.0 160.0 140.2 159.8 140.0 158.2 138.0 158.0 137.7 156.9 136.0 156.0 134.0 156.0 134.0 155.4 132.0 155.1 130.0 155.2 128.0 155.7 126.0 156.0 125.4 156.6 124.0 157.7 122.0 158.0 121.4 159.0 120.0ZM229.0 140.0 230.0 139.6 232.0 139.1 234.0 139.0 236.0 139.1 238.0 139.6 239.0 140.0 240.0 140.5 241.9 142.0 242.0 142.2 243.1 144.0 243.4 146.0 242.8 148.0 242.0 149.2 241.3 150.0 240.0 151.0 238.2 152.0 238.0 152.1 236.0 152.7 234.0 152.9 232.0 152.9 230.0 152.4 229.2 152.0 228.0 151.3 226.4 150.0 226.0 149.4 225.2 148.0 224.8 146.0 225.1 144.0 226.0 142.4 226.3 142.0 228.0 140.6 229.0 140.0ZM386.9 140.0 388.0 138.4 390.0 138.1 392.0 139.1 392.9 140.0 394.0 141.2 394.6 142.0 395.9 144.0 396.0 144.2 396.9 146.0 397.8 148.0 398.0 148.4 398.6 150.0 399.3 152.0 400.0 153.9 400.0 154.0 400.9 156.0 402.0 157.9 402.1 158.0 403.8 160.0 404.0 160.2 405.7 162.0 406.0 162.3 407.4 164.0 408.0 164.8 408.8 166.0 409.7 168.0 410.0 169.0 410.3 170.0 410.8 172.0 411.2 174.0 411.6 176.0 412.0 177.1 412.5 178.0 414.0 180.0 414.0 180.0 416.0 182.0 416.0 182.0 417.8 184.0 418.0 184.2 419.4 186.0 420.0 186.9 420.8 188.0 421.8 190.0 422.0 190.5 422.6 192.0 422.9 194.0 422.6 196.0 422.0 197.3 421.7 198.0 420.0 199.9 419.9 200.0 418.0 201.5 417.1 202.0 416.0 202.5 414.0 203.2 412.0 203.7 410.6 204.0 410.0 204.1 408.0 204.3 406.0 204.5 404.0 204.5 402.0 204.4 400.0 204.3 398.0 204.1 397.6 204.0 396.0 203.7 394.0 203.2 392.0 202.6 390.5 202.0 390.0 201.8 388.0 200.8 386.6 200.0 386.0 199.5 384.0 198.0 384.0 198.0 382.0 196.0 382.0 196.0 380.6 194.0 380.0 192.5 379.7 192.0 379.2 190.0 379.1 188.0 379.3 186.0 379.9 184.0 380.0 183.7 381.1 182.0 382.0 181.1 384.0 180.2 385.4 180.0 386.0 179.9 388.0 179.4 390.0 178.1 390.1 178.0 390.9 176.0 391.2 174.0 391.3 172.0 391.2 170.0 391.1 168.0 391.0 166.0 390.6 164.0 390.1 162.0 390.0 161.7 389.4 160.0 388.7 158.0 388.0 156.0 388.0 156.0 387.4 154.0 386.9 152.0 386.6 150.0 386.3 148.0 386.2 146.0 386.1 144.0 386.3 142.0 386.9 140.0ZM342.0 180.0 344.0 179.6 346.0 179.2 348.0 179.0 350.0 179.0 352.0 179.1 354.0 179.6 355.1 180.0 356.0 180.5 358.0 182.0 358.0 182.1 359.4 184.0 360.0 185.2 360.4 186.0 360.9 188.0 361.0 190.0 360.9 192.0 360.5 194.0 360.0 195.6 359.9 196.0 359.0 198.0 358.0 200.0 358.0 200.0 356.9 202.0 356.0 203.4 355.6 204.0 354.0 205.9 353.9 206.0 352.0 207.6 351.4 208.0 350.0 208.7 348.0 209.4 346.0 209.6 344.0 209.4 342.0 208.7 340.8 208.0 340.0 207.4 338.6 206.0 338.0 205.1 337.3 204.0 336.3 202.0 336.0 201.2 335.5 200.0 334.7 198.0 334.0 196.0 334.0 196.0 333.5 194.0 333.1 192.0 333.0 190.0 333.3 188.0 333.9 186.0 334.0 185.8 335.1 184.0 336.0 183.2 337.4 182.0 338.0 181.7 340.0 180.8 342.0 180.0 342.0 180.0ZM176.4 190.0 178.0 189.3 180.0 188.9 182.0 188.9 184.0 189.3 185.6 190.0 186.0 190.5 186.8 192.0 186.0 193.5 185.6 194.0 184.0 194.7 182.0 195.1 180.0 195.1 178.0 194.7 176.4 194.0 176.0 193.5 175.2 192.0 176.0 190.5 176.4 190.0ZM73.3 210.0 74.0 209.8 76.0 209.2 78.0 208.9 80.0 208.7 82.0 208.6 84.0 208.6 86.0 208.8 88.0 209.1 90.0 209.6 91.4 210.0 92.0 210.3 94.0 211.4 94.8 212.0 95.4 214.0 94.3 216.0 94.0 216.2 92.0 217.5 90.9 218.0 90.0 218.3 88.0 218.9 86.0 219.2 84.0 219.4 82.0 219.5 80.0 219.4 78.0 219.2 76.0 218.8 74.0 218.3 73.1 218.0 72.0 217.4 70.0 216.1 69.9 216.0 69.0 214.0 69.9 212.0 70.0 211.9 72.0 210.6 73.3 210.0ZM145.1 234.0 146.0 233.7 148.0 233.7 149.4 234.0 150.0 234.1 152.0 234.8 153.7 236.0 154.0 236.3 155.5 238.0 156.0 239.8 156.1 240.0 156.0 241.2 156.0 242.0 155.3 244.0 154.0 245.6 153.6 246.0 152.0 247.3 150.3 248.0 150.0 248.1 148.0 248.7 146.0 248.6 144.0 248.0 143.9 248.0 142.0 247.2 140.6 246.0 140.0 245.2 139.0 244.0 138.4 242.0 138.4 240.0 139.1 238.0 140.0 236.8 140.8 236.0 142.0 235.0 144.0 234.2 145.1 234.0Z"/>
<path fill="#ffb7b7" fill-rule="evenodd" d="M279.0 108.0 280.0 107.8 282.0 107.5 284.0 107.4 286.0 107.4 288.0 107.5 290.0 107.8 290.9 108.0 292.0 108.2 294.0 108.8 296.0 109.7 296.5 110.0 298.0 111.0 299.2 112.0 300.0 113.1 300.7 114.0 301.2 116.0 300.8 118.0 300.0 119.2 299.4 120.0 298.0 121.1 296.6 122.0 296.0 122.3 294.0 123.1 292.0 123.7 290.6 124.0 290.0 124.1 288.0 124.4 286.0 124.6 284.0 124.5 282.0 124.4 280.0 124.1 279.6 124.0 278.0 123.7 276.0 123.0 274.0 122.2 273.7 122.0 272.0 120.9 270.8 120.0 270.0 119.0 269.3 118.0 268.7 116.0 269.2 114.0 270.0 112.8 270.6 112.0 272.0 110.9 273.3 110.0 274.0 109.6 276.0 108.8 278.0 108.2 279.0 108.0ZM209.0 110.0 210.0 109.1 212.0 108.3 214.0 108.1 216.0 108.5 218.0 109.5 218.6 110.0 219.8 112.0 219.8 114.0 218.6 116.0 218.0 116.4 216.0 117.4 214.0 117.8 212.0 117.5 210.0 116.5 209.5 116.0 208.2 114.0 208.0 112.0 209.0 110.0ZM339.6 120.0 340.0 119.7 342.0 118.8 344.0 118.3 346.0 118.0 348.0 118.0 350.0 118.3 352.0 118.8 354.0 119.7 354.4 120.0 356.0 121.3 356.7 122.0 357.9 124.0 358.0 124.8 358.2 126.0 358.0 127.1 357.8 128.0 356.7 130.0 356.0 130.6 354.3 132.0 354.0 132.2 352.0 133.1 350.0 133.7 348.0 133.9 346.0 134.0 344.0 133.7 342.0 133.1 340.0 132.2 339.6 132.0 338.0 130.7 337.3 130.0 336.1 128.0 336.0 127.2 335.8 126.0 336.0 124.8 336.1 124.0 337.3 122.0 338.0 121.3 339.6 120.0ZM159.7 122.0 160.0 121.6 162.0 120.3 164.0 120.3 166.0 120.7 168.0 121.2 170.0 121.8 170.7 122.0 172.0 122.4 174.0 123.2 175.4 124.0 176.0 124.3 178.0 125.6 178.5 126.0 180.0 127.2 180.9 128.0 182.0 129.1 182.8 130.0 184.0 131.4 184.5 132.0 185.8 134.0 186.0 134.4 186.8 136.0 187.3 138.0 187.3 140.0 186.5 142.0 186.0 142.8 185.0 144.0 184.0 145.0 182.5 146.0 182.0 146.3 180.0 147.1 178.0 147.5 176.0 147.6 174.0 147.4 172.0 146.9 170.0 146.2 169.5 146.0 168.0 145.3 166.0 144.1 165.8 144.0 164.0 142.7 163.1 142.0 162.0 141.0 161.0 140.0 160.0 138.9 159.3 138.0 158.0 136.0 158.0 135.9 157.1 134.0 156.5 132.0 156.3 130.0 156.5 128.0 157.1 126.0 158.0 124.3 158.2 124.0 159.7 122.0ZM389.6 140.0 390.0 139.9 390.3 140.0 392.0 140.7 393.2 142.0 394.0 142.8 394.8 144.0 396.0 146.0 396.0 146.0 396.9 148.0 397.8 150.0 398.0 150.7 398.5 152.0 399.2 154.0 400.0 156.0 400.0 156.0 401.1 158.0 402.0 159.1 402.8 160.0 404.0 161.1 404.8 162.0 406.0 163.2 406.7 164.0 408.0 165.8 408.1 166.0 409.1 168.0 409.8 170.0 410.0 171.0 410.3 172.0 410.6 174.0 411.1 176.0 411.8 178.0 412.0 178.3 413.3 180.0 414.0 180.6 415.4 182.0 416.0 182.6 417.3 184.0 418.0 184.8 419.0 186.0 420.0 187.5 420.3 188.0 421.4 190.0 422.0 191.8 422.1 192.0 422.3 194.0 422.0 195.8 422.0 196.0 421.0 198.0 420.0 199.1 419.1 200.0 418.0 200.8 416.0 202.0 415.9 202.0 414.0 202.8 412.0 203.4 410.0 203.7 408.0 204.0 407.9 204.0 406.0 204.1 404.0 204.2 402.0 204.1 400.4 204.0 400.0 204.0 398.0 203.7 396.0 203.3 394.0 202.8 392.0 202.1 391.8 202.0 390.0 201.2 388.0 200.1 387.8 200.0 386.0 198.7 385.1 198.0 384.0 196.9 383.1 196.0 382.0 194.2 381.8 194.0 380.9 192.0 380.5 190.0 380.5 188.0 380.9 186.0 381.8 184.0 382.0 183.7 384.0 182.2 384.4 182.0 386.0 181.4 388.0 180.7 389.3 180.0 390.0 179.6 391.2 178.0 391.9 176.0 392.0 175.2 392.1 174.0 392.1 172.0 392.0 170.0 392.0 168.8 392.0 168.0 391.8 166.0 391.5 164.0 391.0 162.0 390.3 160.0 390.0 159.1 389.6 158.0 388.9 156.0 388.2 154.0 388.0 153.2 387.7 152.0 387.4 150.0 387.1 148.0 387.0 146.0 387.1 144.0 387.6 142.0 388.0 140.9 389.6 140.0ZM228.8 142.0 230.0 141.3 232.0 140.6 234.0 140.4 236.0 140.6 238.0 141.3 239.2 142.0 240.0 142.7 241.0 144.0 241.4 146.0 240.8 148.0 240.0 148.9 238.8 150.0 238.0 150.4 236.0 151.2 234.0 151.5 232.0 151.3 230.0 150.6 229.0 150.0 228.0 149.1 227.2 148.0 226.7 146.0 227.1 144.0 228.0 142.8 228.8 142.0ZM347.5 180.0 348.0 180.0 350.0 180.0 350.0 180.0 352.0 180.3 354.0 181.1 355.6 182.0 356.0 182.4 357.5 184.0 358.0 184.9 358.6 186.0 359.2 188.0 359.4 190.0 359.2 192.0 358.8 194.0 358.1 196.0 358.0 196.3 357.3 198.0 356.3 200.0 356.0 200.5 355.2 202.0 354.0 203.8 353.9 204.0 352.1 206.0 352.0 206.1 350.0 207.4 348.7 208.0 348.0 208.2 346.0 208.5 344.0 208.2 343.5 208.0 342.0 207.3 340.4 206.0 340.0 205.5 339.0 204.0 338.0 202.1 337.9 202.0 337.1 200.0 336.4 198.0 336.0 196.9 335.7 196.0 335.1 194.0 334.8 192.0 334.7 190.0 335.0 188.0 335.7 186.0 336.0 185.5 337.1 184.0 338.0 183.2 339.8 182.0 340.0 181.9 342.0 181.1 344.0 180.5 346.0 180.1 347.5 180.0ZM76.7 210.0 78.0 209.7 80.0 209.5 82.0 209.4 84.0 209.5 86.0 209.7 87.8 210.0 88.0 210.1 90.0 210.8 92.0 211.8 92.3 212.0 93.3 214.0 92.1 216.0 92.0 216.0 90.0 217.1 88.0 217.9 87.6 218.0 86.0 218.3 84.0 218.5 82.0 218.6 80.0 218.5 78.0 218.3 76.5 218.0 76.0 217.9 74.0 217.1 72.1 216.0 72.0 215.9 71.0 214.0 72.0 212.2 72.1 212.0 74.0 211.0 76.0 210.2 76.7 210.0ZM141.3 236.0 142.0 235.5 144.0 234.5 146.0 234.1 148.0 234.1 150.0 234.4 152.0 235.2 153.2 236.0 154.0 236.8 155.0 238.0 155.7 240.0 155.6 242.0 154.9 244.0 154.0 245.1 153.2 246.0 152.0 247.0 150.0 247.8 149.2 248.0 148.0 248.3 146.0 248.3 145.0 248.0 144.0 247.8 142.0 246.8 141.0 246.0 140.0 244.7 139.5 244.0 138.7 242.0 138.7 240.0 139.5 238.0 140.0 237.4 141.3 236.0Z"/>
<path fill="#ffaeae" fill-rule="evenodd" d="M283.6 108.0 284.0 108.0 286.0 108.0 286.3 108.0 288.0 108.1 290.0 108.4 292.0 108.9 294.0 109.5 295.0 110.0 296.0 110.5 298.0 112.0 298.0 112.0 299.6 114.0 300.0 115.5 300.1 116.0 300.0 116.6 299.7 118.0 298.1 120.0 298.0 120.1 296.0 121.5 295.0 122.0 294.0 122.4 292.0 123.1 290.0 123.5 288.0 123.8 286.0 124.0 284.0 124.0 282.0 123.8 280.0 123.5 278.0 123.0 276.0 122.4 275.2 122.0 274.0 121.4 272.0 120.0 272.0 120.0 270.4 118.0 270.0 116.6 269.8 116.0 270.0 115.3 270.3 114.0 271.8 112.0 272.0 111.9 274.0 110.5 274.9 110.0 276.0 109.5 278.0 108.8 280.0 108.4 282.0 108.1 283.6 108.0ZM210.2 110.0 212.0 109.2 214.0 109.0 216.0 109.4 217.0 110.0 218.0 111.0 218.7 112.0 218.7 114.0 218.0 115.0 217.0 116.0 216.0 116.5 214.0 116.9 212.0 116.6 210.8 116.0 210.0 115.4 209.1 114.0 209.0 112.0 210.0 110.2 210.2 110.0ZM341.4 120.0 342.0 119.7 344.0 119.1 346.0 118.8 348.0 118.8 350.0 119.1 352.0 119.7 352.6 120.0 354.0 120.8 355.4 122.0 356.0 122.8 356.7 124.0 357.1 126.0 356.7 128.0 356.0 129.1 355.4 130.0 354.0 131.1 352.5 132.0 352.0 132.2 350.0 132.9 348.0 133.2 346.0 133.2 344.0 132.9 342.0 132.3 341.4 132.0 340.0 131.2 338.6 130.0 338.0 129.2 337.3 128.0 336.9 126.0 337.3 124.0 338.0 122.8 338.6 122.0 340.0 120.8 341.4 120.0ZM163.3 122.0 164.0 121.8 166.0 121.9 166.6 122.0 168.0 122.2 170.0 122.6 172.0 123.2 173.9 124.0 174.0 124.0 176.0 125.0 177.5 126.0 178.0 126.4 180.0 127.9 180.1 128.0 182.0 129.9 182.1 130.0 183.8 132.0 184.0 132.3 185.1 134.0 186.0 135.9 186.1 136.0 186.6 138.0 186.4 140.0 186.0 141.2 185.6 142.0 184.0 144.0 184.0 144.0 182.0 145.4 180.7 146.0 180.0 146.3 178.0 146.7 176.0 146.8 174.0 146.6 172.0 146.1 171.7 146.0 170.0 145.4 168.0 144.4 167.2 144.0 166.0 143.2 164.3 142.0 164.0 141.7 162.1 140.0 162.0 139.9 160.4 138.0 160.0 137.4 159.0 136.0 158.1 134.0 158.0 133.6 157.5 132.0 157.4 130.0 157.7 128.0 158.0 127.1 158.5 126.0 159.9 124.0 160.0 123.9 162.0 122.3 163.3 122.0ZM389.8 142.0 390.0 141.8 390.5 142.0 392.0 142.4 393.5 144.0 394.0 144.5 394.9 146.0 396.0 147.9 396.1 148.0 396.9 150.0 397.6 152.0 398.0 153.1 398.3 154.0 399.0 156.0 400.0 157.7 400.2 158.0 401.8 160.0 402.0 160.1 404.0 162.0 404.0 162.0 406.0 164.0 406.0 164.0 407.5 166.0 408.0 166.8 408.6 168.0 409.3 170.0 409.8 172.0 410.0 173.5 410.1 174.0 410.5 176.0 411.2 178.0 412.0 179.1 412.7 180.0 414.0 181.2 414.8 182.0 416.0 183.1 416.8 184.0 418.0 185.3 418.5 186.0 419.9 188.0 420.0 188.2 421.0 190.0 421.6 192.0 421.8 194.0 421.4 196.0 420.3 198.0 420.0 198.3 418.3 200.0 418.0 200.2 416.0 201.5 414.8 202.0 414.0 202.3 412.0 203.0 410.0 203.4 408.0 203.7 406.0 203.8 404.0 203.9 402.0 203.8 400.0 203.7 398.0 203.4 396.0 203.0 394.0 202.4 393.0 202.0 392.0 201.6 390.0 200.6 388.9 200.0 388.0 199.4 386.2 198.0 386.0 197.8 384.2 196.0 384.0 195.6 382.9 194.0 382.1 192.0 382.0 191.5 381.7 190.0 381.8 188.0 382.0 187.2 382.4 186.0 384.0 184.0 384.0 184.0 386.0 182.8 387.7 182.0 388.0 181.9 390.0 180.7 390.8 180.0 392.0 178.4 392.2 178.0 392.6 176.0 392.6 174.0 392.6 172.0 392.6 170.0 392.6 168.0 392.5 166.0 392.3 164.0 392.0 162.4 391.9 162.0 391.3 160.0 390.5 158.0 390.0 156.8 389.7 156.0 389.1 154.0 388.6 152.0 388.2 150.0 388.0 148.6 387.9 148.0 387.9 146.0 388.0 145.3 388.3 144.0 389.8 142.0ZM229.7 144.0 230.0 143.7 232.0 142.5 234.0 142.2 236.0 142.5 238.0 143.7 238.3 144.0 239.0 146.0 238.2 148.0 238.0 148.2 236.0 149.3 234.0 149.7 232.0 149.4 230.0 148.2 229.8 148.0 229.0 146.0 229.7 144.0ZM342.8 182.0 344.0 181.6 346.0 181.3 348.0 181.1 350.0 181.3 352.0 181.7 352.6 182.0 354.0 182.8 355.4 184.0 356.0 184.8 356.7 186.0 357.4 188.0 357.7 190.0 357.6 192.0 357.1 194.0 356.4 196.0 356.0 196.9 355.5 198.0 354.5 200.0 354.0 200.9 353.4 202.0 352.1 204.0 352.0 204.1 350.0 206.0 350.0 206.0 348.0 206.8 346.0 207.1 344.0 206.7 342.6 206.0 342.0 205.5 340.7 204.0 340.0 202.8 339.6 202.0 338.8 200.0 338.1 198.0 338.0 197.8 337.4 196.0 336.8 194.0 336.4 192.0 336.3 190.0 336.7 188.0 337.5 186.0 338.0 185.3 339.2 184.0 340.0 183.4 342.0 182.3 342.8 182.0ZM74.6 212.0 76.0 211.4 78.0 210.8 80.0 210.5 82.0 210.3 84.0 210.4 86.0 210.7 88.0 211.3 89.7 212.0 90.0 212.4 91.0 214.0 90.0 215.5 89.5 216.0 88.0 216.7 86.0 217.2 84.0 217.6 82.0 217.7 80.0 217.6 78.0 217.2 76.0 216.6 74.5 216.0 74.0 215.3 73.2 214.0 74.0 212.7 74.6 212.0ZM141.9 236.0 142.0 235.9 144.0 234.7 146.0 234.3 148.0 234.3 150.0 234.6 152.0 235.6 152.6 236.0 154.0 237.4 154.5 238.0 155.3 240.0 155.3 242.0 154.5 244.0 154.0 244.6 152.8 246.0 152.0 246.6 150.0 247.6 148.0 248.0 146.0 248.0 144.0 247.6 142.0 246.4 141.5 246.0 140.0 244.1 139.9 244.0 139.1 242.0 139.1 240.0 140.0 238.0 140.0 238.0 141.9 236.0Z"/>
<path fill="#ffa6a6" fill-rule="evenodd" d="M212.7 110.0 214.0 109.9 214.5 110.0 216.0 110.6 217.3 112.0 217.3 114.0 216.0 115.3 214.2 116.0 214.0 116.0 213.7 116.0 212.0 115.6 210.1 114.0 210.0 113.0 209.9 112.0 210.0 111.9 212.0 110.1 212.7 110.0ZM276.5 110.0 278.0 109.5 280.0 109.0 282.0 108.7 284.0 108.5 286.0 108.5 288.0 108.7 290.0 109.0 292.0 109.5 293.4 110.0 294.0 110.3 296.0 111.4 296.9 112.0 298.0 113.3 298.6 114.0 299.1 116.0 298.6 118.0 298.0 118.8 296.9 120.0 296.0 120.6 294.0 121.7 293.3 122.0 292.0 122.5 290.0 123.0 288.0 123.3 286.0 123.4 284.0 123.4 282.0 123.3 280.0 122.9 278.0 122.4 276.8 122.0 276.0 121.7 274.0 120.6 273.2 120.0 272.0 118.7 271.4 118.0 270.9 116.0 271.4 114.0 272.0 113.2 273.0 112.0 274.0 111.3 276.0 110.2 276.5 110.0ZM343.7 120.0 344.0 119.9 346.0 119.6 348.0 119.6 350.0 119.9 350.3 120.0 352.0 120.6 354.0 121.9 354.1 122.0 355.6 124.0 356.0 125.7 356.1 126.0 356.0 126.2 355.6 128.0 354.1 130.0 354.0 130.1 352.0 131.3 350.2 132.0 350.0 132.1 348.0 132.4 346.0 132.4 344.0 132.1 343.7 132.0 342.0 131.3 340.0 130.1 339.9 130.0 338.4 128.0 338.0 126.3 337.9 126.0 338.0 125.7 338.4 124.0 339.9 122.0 340.0 121.9 342.0 120.6 343.7 120.0ZM162.0 124.0 164.0 123.2 166.0 123.0 168.0 123.1 170.0 123.5 171.9 124.0 172.0 124.0 174.0 124.8 176.0 125.8 176.3 126.0 178.0 127.1 179.1 128.0 180.0 128.7 181.3 130.0 182.0 130.8 183.0 132.0 184.0 133.4 184.4 134.0 185.3 136.0 185.8 138.0 185.6 140.0 184.7 142.0 184.0 142.9 182.8 144.0 182.0 144.5 180.0 145.5 178.0 145.9 176.8 146.0 176.0 146.0 175.7 146.0 174.0 145.8 172.0 145.3 170.0 144.6 168.8 144.0 168.0 143.6 166.0 142.3 165.5 142.0 164.0 140.8 163.2 140.0 162.0 138.7 161.4 138.0 160.0 136.0 160.0 135.9 159.1 134.0 158.6 132.0 158.5 130.0 158.9 128.0 159.9 126.0 160.0 125.9 162.0 124.0 162.0 124.0ZM389.3 146.0 390.0 144.2 392.0 144.3 393.7 146.0 394.0 146.3 394.9 148.0 396.0 150.0 396.0 150.1 396.7 152.0 397.3 154.0 398.0 155.8 398.1 156.0 399.0 158.0 400.0 159.1 400.7 160.0 402.0 161.0 403.1 162.0 404.0 162.7 405.3 164.0 406.0 164.8 406.9 166.0 408.0 167.9 408.1 168.0 408.9 170.0 409.3 172.0 409.6 174.0 410.0 176.0 410.0 176.1 410.7 178.0 412.0 180.0 412.0 180.0 414.0 181.8 414.2 182.0 416.0 183.7 416.3 184.0 418.0 185.9 418.1 186.0 419.5 188.0 420.0 189.0 420.5 190.0 421.2 192.0 421.3 194.0 420.8 196.0 420.0 197.4 419.6 198.0 418.0 199.6 417.5 200.0 416.0 201.0 414.0 201.9 413.7 202.0 412.0 202.6 410.0 203.1 408.0 203.4 406.0 203.5 404.0 203.6 402.0 203.5 400.0 203.3 398.0 203.0 396.0 202.6 394.1 202.0 394.0 202.0 392.0 201.1 390.0 200.1 389.9 200.0 388.0 198.7 387.1 198.0 386.0 196.9 385.1 196.0 384.0 194.2 383.9 194.0 383.1 192.0 382.8 190.0 383.0 188.0 383.9 186.0 384.0 185.9 386.0 184.1 386.1 184.0 388.0 182.9 389.5 182.0 390.0 181.7 391.9 180.0 392.0 179.9 392.9 178.0 393.2 176.0 393.2 174.0 393.2 172.0 393.2 170.0 393.2 168.0 393.2 166.0 393.1 164.0 392.9 162.0 392.3 160.0 392.0 159.3 391.5 158.0 390.8 156.0 390.0 154.1 390.0 154.0 389.5 152.0 389.1 150.0 389.0 148.0 389.3 146.0ZM341.7 184.0 342.0 183.8 344.0 183.0 346.0 182.5 348.0 182.4 350.0 182.7 352.0 183.4 352.9 184.0 354.0 185.0 354.7 186.0 355.6 188.0 356.0 190.0 355.8 192.0 355.3 194.0 354.5 196.0 354.0 197.2 353.6 198.0 352.6 200.0 352.0 201.1 351.4 202.0 350.0 203.9 349.9 204.0 348.0 205.2 346.0 205.5 344.0 204.9 342.9 204.0 342.0 202.9 341.5 202.0 340.7 200.0 340.0 198.3 339.9 198.0 339.2 196.0 338.6 194.0 338.1 192.0 338.1 190.0 338.5 188.0 339.5 186.0 340.0 185.4 341.7 184.0ZM77.8 212.0 78.0 211.9 80.0 211.6 82.0 211.4 84.0 211.5 86.0 211.9 86.3 212.0 88.0 213.4 88.5 214.0 88.0 214.5 86.3 216.0 86.0 216.1 84.0 216.5 82.0 216.6 80.0 216.5 78.0 216.1 77.8 216.0 76.0 214.4 75.6 214.0 76.0 213.6 77.8 212.0ZM142.4 236.0 144.0 235.0 146.0 234.5 148.0 234.5 150.0 234.9 152.0 236.0 152.0 236.0 154.0 238.0 154.0 238.0 155.0 240.0 155.0 242.0 154.1 244.0 154.0 244.1 152.3 246.0 152.0 246.3 150.0 247.4 148.0 247.8 146.0 247.8 144.0 247.3 142.0 246.1 141.9 246.0 140.2 244.0 140.0 243.4 139.4 242.0 139.4 240.0 140.0 238.8 140.3 238.0 142.0 236.2 142.4 236.0Z"/>
<path fill="#ff9d9d" fill-rule="evenodd" d="M278.4 110.0 280.0 109.6 282.0 109.2 284.0 109.0 286.0 109.0 288.0 109.2 290.0 109.6 291.6 110.0 292.0 110.1 294.0 111.0 295.7 112.0 296.0 112.3 297.5 114.0 298.0 115.6 298.1 116.0 298.0 116.4 297.6 118.0 296.0 119.7 295.7 120.0 294.0 121.0 292.0 121.8 291.5 122.0 290.0 122.4 288.0 122.7 286.0 122.9 284.0 122.9 282.0 122.7 280.0 122.4 278.6 122.0 278.0 121.8 276.0 120.9 274.4 120.0 274.0 119.7 272.5 118.0 272.0 116.4 271.9 116.0 272.0 115.5 272.4 114.0 274.0 112.2 274.3 112.0 276.0 111.0 278.0 110.1 278.4 110.0ZM211.6 112.0 212.0 111.6 214.0 111.3 215.6 112.0 215.5 114.0 214.0 114.6 212.0 114.3 211.7 114.0 211.6 112.0ZM341.4 122.0 342.0 121.6 344.0 120.8 346.0 120.4 348.0 120.4 350.0 120.8 352.0 121.6 352.6 122.0 354.0 123.4 354.4 124.0 354.9 126.0 354.4 128.0 354.0 128.6 352.6 130.0 352.0 130.4 350.0 131.2 348.0 131.6 346.0 131.6 344.0 131.2 342.0 130.4 341.4 130.0 340.0 128.6 339.6 128.0 339.1 126.0 339.6 124.0 340.0 123.4 341.4 122.0ZM161.5 126.0 162.0 125.5 164.0 124.4 166.0 124.0 168.0 124.0 170.0 124.3 172.0 124.8 174.0 125.5 174.9 126.0 176.0 126.5 178.0 127.8 178.2 128.0 180.0 129.5 180.5 130.0 182.0 131.7 182.3 132.0 183.6 134.0 184.0 134.8 184.6 136.0 185.0 138.0 184.7 140.0 184.0 141.5 183.7 142.0 182.0 143.6 181.4 144.0 180.0 144.7 178.0 145.2 176.0 145.3 174.0 145.1 172.0 144.6 170.5 144.0 170.0 143.8 168.0 142.8 166.8 142.0 166.0 141.4 164.3 140.0 164.0 139.7 162.4 138.0 162.0 137.4 161.0 136.0 160.1 134.0 160.0 133.7 159.6 132.0 159.5 130.0 160.0 128.3 160.1 128.0 161.5 126.0ZM390.5 148.0 392.0 146.6 393.4 148.0 394.0 148.5 394.7 150.0 395.5 152.0 396.0 153.2 396.2 154.0 396.8 156.0 397.8 158.0 398.0 158.2 399.5 160.0 400.0 160.3 402.0 161.9 402.1 162.0 404.0 163.4 404.6 164.0 406.0 165.5 406.4 166.0 407.6 168.0 408.0 169.0 408.4 170.0 408.9 172.0 409.2 174.0 409.5 176.0 410.0 177.7 410.1 178.0 411.4 180.0 412.0 180.5 413.6 182.0 414.0 182.4 415.8 184.0 416.0 184.2 417.6 186.0 418.0 186.5 419.1 188.0 420.0 189.8 420.1 190.0 420.7 192.0 420.8 194.0 420.2 196.0 420.0 196.4 419.0 198.0 418.0 199.0 416.7 200.0 416.0 200.5 414.0 201.5 412.6 202.0 412.0 202.2 410.0 202.7 408.0 203.0 406.0 203.2 404.0 203.3 402.0 203.2 400.0 203.0 398.0 202.7 396.0 202.2 395.3 202.0 394.0 201.6 392.0 200.7 390.8 200.0 390.0 199.5 388.0 198.0 388.0 198.0 386.1 196.0 386.0 195.9 384.7 194.0 384.0 192.0 384.0 191.7 383.8 190.0 384.0 188.9 384.2 188.0 385.3 186.0 386.0 185.4 387.8 184.0 388.0 183.9 390.0 182.6 390.7 182.0 392.0 180.8 392.7 180.0 393.5 178.0 393.8 176.0 393.8 174.0 393.7 172.0 393.7 170.0 393.8 168.0 393.9 166.0 393.9 164.0 393.8 162.0 393.5 160.0 392.9 158.0 392.0 156.4 391.9 156.0 391.2 154.0 390.6 152.0 390.3 150.0 390.5 148.0ZM346.5 184.0 348.0 184.0 348.3 184.0 350.0 184.4 352.0 185.7 352.4 186.0 353.6 188.0 354.0 189.8 354.0 190.0 354.0 190.6 353.9 192.0 353.3 194.0 352.4 196.0 352.0 196.9 351.3 198.0 350.2 200.0 350.0 200.4 348.6 202.0 348.0 202.6 346.0 203.0 344.2 202.0 344.0 201.9 343.0 200.0 342.1 198.0 342.0 197.9 341.3 196.0 340.5 194.0 340.0 192.0 340.0 190.8 340.0 190.0 340.0 189.9 340.5 188.0 341.9 186.0 342.0 185.9 344.0 184.7 346.0 184.0 346.5 184.0ZM79.6 214.0 80.0 213.8 82.0 213.4 84.0 213.8 84.5 214.0 84.0 214.2 82.0 214.6 80.0 214.2 79.6 214.0ZM142.8 236.0 144.0 235.3 146.0 234.8 148.0 234.7 150.0 235.2 151.5 236.0 152.0 236.3 153.7 238.0 154.0 238.7 154.6 240.0 154.6 242.0 154.0 243.4 153.8 244.0 152.0 245.9 151.9 246.0 150.0 247.2 148.0 247.6 146.0 247.6 144.0 247.1 142.3 246.0 142.0 245.8 140.4 244.0 140.0 242.6 139.7 242.0 139.8 240.0 140.0 239.6 140.6 238.0 142.0 236.5 142.8 236.0Z"/>
<path fill="#ff9191" fill-rule="evenodd" d="M280.7 110.0 282.0 109.8 284.0 109.6 286.0 109.6 288.0 109.8 289.3 110.0 290.0 110.1 292.0 110.8 294.0 111.7 294.5 112.0 296.0 113.4 296.5 114.0 297.1 116.0 296.5 118.0 296.0 118.6 294.5 120.0 294.0 120.3 292.0 121.2 290.0 121.8 289.1 122.0 288.0 122.2 286.0 122.4 284.0 122.4 282.0 122.2 281.0 122.0 280.0 121.8 278.0 121.2 276.0 120.2 275.6 120.0 274.0 118.5 273.5 118.0 272.9 116.0 273.5 114.0 274.0 113.4 275.5 112.0 276.0 111.7 278.0 110.8 280.0 110.1 280.7 110.0ZM343.2 122.0 344.0 121.7 346.0 121.2 348.0 121.2 350.0 121.7 350.8 122.0 352.0 122.8 353.2 124.0 353.8 126.0 353.1 128.0 352.0 129.2 350.7 130.0 350.0 130.3 348.0 130.7 346.0 130.8 344.0 130.3 343.2 130.0 342.0 129.2 340.8 128.0 340.2 126.0 340.8 124.0 342.0 122.8 343.2 122.0ZM163.4 126.0 164.0 125.6 166.0 125.0 168.0 124.9 170.0 125.1 172.0 125.5 173.2 126.0 174.0 126.3 176.0 127.3 177.1 128.0 178.0 128.6 179.6 130.0 180.0 130.3 181.5 132.0 182.0 132.7 182.9 134.0 183.8 136.0 184.0 137.1 184.2 138.0 184.0 139.2 183.9 140.0 182.6 142.0 182.0 142.6 180.0 143.8 179.5 144.0 178.0 144.4 176.0 144.5 174.0 144.3 172.7 144.0 172.0 143.8 170.0 143.0 168.1 142.0 168.0 142.0 166.0 140.5 165.4 140.0 164.0 138.7 163.4 138.0 162.0 136.1 162.0 136.0 161.0 134.0 160.5 132.0 160.6 130.0 161.4 128.0 162.0 127.2 163.4 126.0ZM393.7 154.0 394.0 152.9 394.2 154.0 394.0 155.2 393.7 154.0ZM395.6 160.0 396.0 159.0 397.1 160.0 398.0 160.2 400.0 161.4 400.8 162.0 402.0 162.6 403.8 164.0 404.0 164.1 405.8 166.0 406.0 166.3 407.1 168.0 407.9 170.0 408.0 170.3 408.5 172.0 408.8 174.0 409.1 176.0 409.6 178.0 410.0 178.7 410.9 180.0 412.0 181.1 413.0 182.0 414.0 182.8 415.3 184.0 416.0 184.7 417.2 186.0 418.0 187.1 418.7 188.0 419.7 190.0 420.0 191.2 420.2 192.0 420.3 194.0 420.0 195.0 419.7 196.0 418.3 198.0 418.0 198.3 416.0 200.0 416.0 200.0 414.0 201.1 412.0 201.8 411.4 202.0 410.0 202.4 408.0 202.7 406.0 202.9 404.0 203.0 402.0 202.9 400.0 202.7 398.0 202.4 396.6 202.0 396.0 201.8 394.0 201.2 392.0 200.2 391.6 200.0 390.0 198.9 388.8 198.0 388.0 197.2 386.8 196.0 386.0 194.7 385.5 194.0 384.8 192.0 384.7 190.0 385.2 188.0 386.0 186.8 386.6 186.0 388.0 184.8 389.0 184.0 390.0 183.4 391.7 182.0 392.0 181.8 393.4 180.0 394.0 178.5 394.2 178.0 394.3 176.0 394.3 174.0 394.2 172.0 394.2 170.0 394.4 168.0 394.5 166.0 394.8 164.0 395.1 162.0 395.6 160.0ZM343.3 188.0 344.0 187.3 346.0 186.2 348.0 186.1 350.0 187.1 350.8 188.0 351.6 190.0 351.4 192.0 350.6 194.0 350.0 195.2 349.2 196.0 348.0 197.3 346.0 197.6 344.4 196.0 344.0 195.6 343.2 194.0 342.5 192.0 342.4 190.0 343.3 188.0ZM143.3 236.0 144.0 235.6 146.0 235.0 148.0 235.0 150.0 235.5 151.0 236.0 152.0 236.6 153.4 238.0 154.0 239.4 154.3 240.0 154.3 242.0 154.0 242.7 153.5 244.0 152.0 245.7 151.5 246.0 150.0 247.0 148.0 247.5 146.0 247.4 144.0 246.9 142.6 246.0 142.0 245.5 140.7 244.0 140.0 242.0 140.1 240.0 140.9 238.0 142.0 236.9 143.3 236.0Z"/>
<path fill="#ff8080" fill-rule="evenodd" d="M278.2 112.0 280.0 111.4 282.0 110.9 284.0 110.7 286.0 110.7 288.0 110.9 290.0 111.4 291.7 112.0 292.0 112.1 294.0 113.6 294.4 114.0 295.1 116.0 294.4 118.0 294.0 118.4 292.0 119.8 291.7 120.0 290.0 120.6 288.0 121.1 286.0 121.3 284.0 121.3 282.0 121.1 280.0 120.6 278.3 120.0 278.0 119.8 276.0 118.3 275.6 118.0 274.9 116.0 275.6 114.0 276.0 113.6 278.0 112.1 278.2 112.0ZM344.2 124.0 346.0 123.4 348.0 123.4 349.8 124.0 350.0 124.2 350.9 126.0 350.0 127.8 349.8 128.0 348.0 128.6 346.0 128.6 344.2 128.0 344.0 127.8 343.1 126.0 344.0 124.2 344.2 124.0ZM164.3 128.0 166.0 127.1 168.0 126.7 170.0 126.7 172.0 127.1 174.0 127.8 174.5 128.0 176.0 128.8 177.7 130.0 178.0 130.2 179.8 132.0 180.0 132.2 181.3 134.0 182.0 135.6 182.2 136.0 182.4 138.0 182.0 139.7 181.9 140.0 180.0 142.0 180.0 142.0 178.0 142.8 176.0 143.0 174.0 142.8 172.0 142.3 171.2 142.0 170.0 141.4 168.0 140.3 167.6 140.0 166.0 138.6 165.4 138.0 164.0 136.2 163.9 136.0 162.9 134.0 162.6 132.0 162.9 130.0 164.0 128.3 164.3 128.0ZM396.9 164.0 398.0 163.0 400.0 163.2 401.9 164.0 402.0 164.0 404.0 165.4 404.5 166.0 406.0 167.8 406.1 168.0 407.1 170.0 407.6 172.0 407.9 174.0 408.0 174.7 408.2 176.0 408.6 178.0 409.7 180.0 410.0 180.3 411.8 182.0 412.0 182.2 414.0 183.8 414.3 184.0 416.0 185.6 416.3 186.0 417.8 188.0 418.0 188.3 418.9 190.0 419.4 192.0 419.4 194.0 418.7 196.0 418.0 196.9 417.2 198.0 416.0 199.0 414.5 200.0 414.0 200.3 412.0 201.1 410.0 201.7 408.5 202.0 408.0 202.1 406.0 202.3 404.0 202.4 402.0 202.3 400.0 202.1 399.5 202.0 398.0 201.7 396.0 201.2 394.0 200.3 393.3 200.0 392.0 199.3 390.2 198.0 390.0 197.8 388.3 196.0 388.0 195.6 387.0 194.0 386.4 192.0 386.4 190.0 387.1 188.0 388.0 186.8 388.7 186.0 390.0 184.9 391.0 184.0 392.0 183.2 393.2 182.0 394.0 181.0 394.7 180.0 395.2 178.0 395.3 176.0 395.2 174.0 395.1 172.0 395.2 170.0 395.4 168.0 395.9 166.0 396.0 165.6 396.9 164.0ZM144.3 236.0 146.0 235.4 148.0 235.4 150.0 236.0 150.0 236.0 152.0 237.2 152.8 238.0 153.7 240.0 153.8 242.0 153.0 244.0 152.0 245.1 150.8 246.0 150.0 246.5 148.0 247.1 146.0 247.1 144.0 246.4 143.3 246.0 142.0 244.9 141.2 244.0 140.4 242.0 140.5 240.0 141.5 238.0 142.0 237.5 144.0 236.1 144.3 236.0Z"/>
<path fill="#ff6f6f" fill-rule="evenodd" d="M282.4 112.0 284.0 111.8 286.0 111.8 287.6 112.0 288.0 112.1 290.0 112.8 292.0 113.9 292.1 114.0 293.0 116.0 292.1 118.0 292.0 118.0 290.0 119.2 288.0 119.9 287.4 120.0 286.0 120.2 284.0 120.2 282.6 120.0 282.0 119.9 280.0 119.2 278.0 118.0 278.0 118.0 277.0 116.0 277.9 114.0 278.0 113.9 280.0 112.8 282.0 112.1 282.4 112.0ZM165.6 130.0 166.0 129.7 168.0 128.7 170.0 128.4 172.0 128.7 174.0 129.4 175.2 130.0 176.0 130.5 177.9 132.0 178.0 132.1 179.5 134.0 180.0 135.1 180.4 136.0 180.4 138.0 180.0 139.0 179.3 140.0 178.0 140.8 176.0 141.3 174.0 141.2 172.0 140.7 170.5 140.0 170.0 139.7 168.0 138.3 167.6 138.0 166.0 136.1 165.9 136.0 165.0 134.0 164.8 132.0 165.6 130.0ZM397.5 166.0 398.0 165.4 400.0 164.8 402.0 165.3 403.0 166.0 404.0 166.7 405.1 168.0 406.0 169.6 406.2 170.0 406.8 172.0 407.1 174.0 407.3 176.0 407.6 178.0 408.0 178.7 408.6 180.0 410.0 181.4 410.6 182.0 412.0 183.0 413.2 184.0 414.0 184.6 415.4 186.0 416.0 186.7 417.0 188.0 418.0 189.9 418.1 190.0 418.6 192.0 418.5 194.0 418.0 195.2 417.7 196.0 416.0 198.0 416.0 198.0 414.0 199.4 412.9 200.0 412.0 200.4 410.0 201.1 408.0 201.5 406.0 201.8 404.0 201.8 402.0 201.8 400.0 201.5 398.0 201.1 396.0 200.5 394.9 200.0 394.0 199.6 392.0 198.3 391.6 198.0 390.0 196.5 389.5 196.0 388.3 194.0 388.0 193.0 387.7 192.0 387.8 190.0 388.0 189.5 388.6 188.0 390.0 186.4 390.3 186.0 392.0 184.5 392.5 184.0 394.0 182.6 394.6 182.0 395.8 180.0 396.0 179.2 396.3 178.0 396.2 176.0 396.1 174.0 396.0 172.0 396.2 170.0 396.6 168.0 397.5 166.0ZM145.6 236.0 146.0 235.9 148.0 235.8 148.5 236.0 150.0 236.4 152.0 237.8 152.2 238.0 153.3 240.0 153.4 242.0 152.5 244.0 152.0 244.6 150.1 246.0 150.0 246.1 148.0 246.7 146.0 246.7 144.0 246.0 144.0 246.0 142.0 244.4 141.7 244.0 140.8 242.0 140.9 240.0 142.0 238.1 142.1 238.0 144.0 236.5 145.6 236.0Z"/>
<path fill="#ff5e5e" fill-rule="evenodd" d="M281.1 114.0 282.0 113.6 284.0 113.3 286.0 113.3 288.0 113.6 288.9 114.0 290.0 115.2 290.5 116.0 290.0 116.7 288.9 118.0 288.0 118.3 286.0 118.7 284.0 118.7 282.0 118.3 281.1 118.0 280.0 116.7 279.5 116.0 280.0 115.2 281.1 114.0ZM167.7 132.0 168.0 131.6 170.0 130.7 172.0 130.7 174.0 131.4 175.1 132.0 176.0 132.7 177.2 134.0 178.0 135.7 178.1 136.0 178.0 136.8 177.7 138.0 176.0 139.1 174.0 139.2 172.0 138.7 170.6 138.0 170.0 137.5 168.4 136.0 168.0 135.2 167.5 134.0 167.7 132.0ZM397.8 168.0 398.0 167.7 400.0 166.3 402.0 166.6 403.9 168.0 404.0 168.1 405.2 170.0 406.0 172.0 406.0 172.1 406.3 174.0 406.4 176.0 406.7 178.0 407.5 180.0 408.0 180.5 409.5 182.0 410.0 182.4 412.0 183.9 412.1 184.0 414.0 185.5 414.5 186.0 416.0 187.7 416.2 188.0 417.3 190.0 417.8 192.0 417.6 194.0 416.7 196.0 416.0 196.9 414.9 198.0 414.0 198.6 412.0 199.7 411.3 200.0 410.0 200.5 408.0 201.0 406.0 201.2 404.0 201.3 402.0 201.2 400.0 201.0 398.0 200.5 396.6 200.0 396.0 199.8 394.0 198.8 392.8 198.0 392.0 197.3 390.7 196.0 390.0 195.0 389.4 194.0 388.8 192.0 389.0 190.0 390.0 188.0 390.0 188.0 391.6 186.0 392.0 185.7 393.8 184.0 394.0 183.8 395.7 182.0 396.0 181.6 396.9 180.0 397.3 178.0 397.2 176.0 397.0 174.0 396.9 172.0 397.2 170.0 397.8 168.0ZM142.6 238.0 144.0 236.9 146.0 236.2 148.0 236.2 150.0 236.8 151.7 238.0 152.0 238.5 152.9 240.0 153.0 242.0 152.0 244.0 152.0 244.0 150.0 245.7 149.1 246.0 148.0 246.4 146.0 246.4 145.0 246.0 144.0 245.6 142.2 244.0 142.0 243.7 141.2 242.0 141.3 240.0 142.0 238.9 142.6 238.0Z"/>
<path fill="#ff4d4d" fill-rule="evenodd" d="M399.8 168.0 400.0 167.8 402.0 167.9 402.1 168.0 404.0 169.7 404.2 170.0 405.0 172.0 405.3 174.0 405.4 176.0 405.5 178.0 406.0 179.0 406.4 180.0 408.0 181.7 408.3 182.0 410.0 183.2 411.1 184.0 412.0 184.7 413.6 186.0 414.0 186.4 415.4 188.0 416.0 189.0 416.5 190.0 417.0 192.0 416.8 194.0 416.0 195.6 415.8 196.0 414.0 197.8 413.7 198.0 412.0 199.0 410.0 199.9 409.5 200.0 408.0 200.4 406.0 200.7 404.0 200.8 402.0 200.7 400.0 200.4 398.5 200.0 398.0 199.9 396.0 199.1 394.0 198.0 394.0 198.0 392.0 196.3 391.7 196.0 390.4 194.0 390.0 192.2 389.9 192.0 390.0 191.4 390.1 190.0 391.1 188.0 392.0 187.0 392.8 186.0 394.0 184.9 395.0 184.0 396.0 182.9 396.9 182.0 398.0 180.1 398.0 180.0 398.4 178.0 398.2 176.0 398.0 175.0 397.9 174.0 397.9 172.0 398.0 171.1 398.3 170.0 399.8 168.0ZM143.1 238.0 144.0 237.3 146.0 236.5 148.0 236.5 150.0 237.2 151.1 238.0 152.0 239.2 152.5 240.0 152.6 242.0 152.0 243.2 151.6 244.0 150.0 245.3 148.1 246.0 148.0 246.0 146.0 246.0 146.0 246.0 144.0 245.3 142.6 244.0 142.0 242.8 141.6 242.0 141.8 240.0 142.0 239.6 143.1 238.0Z"/>
<path fill="#ff3b3b" fill-rule="evenodd" d="M399.8 170.0 400.0 169.8 402.0 169.6 402.5 170.0 404.0 172.0 404.0 172.1 404.3 174.0 404.2 176.0 404.2 178.0 404.9 180.0 406.0 180.9 407.0 182.0 408.0 182.6 410.0 184.0 410.0 184.0 412.0 185.4 412.7 186.0 414.0 187.3 414.6 188.0 415.8 190.0 416.0 190.9 416.2 192.0 416.0 193.8 416.0 194.0 414.9 196.0 414.0 196.9 412.6 198.0 412.0 198.3 410.0 199.2 408.0 199.8 406.9 200.0 406.0 200.1 404.0 200.2 402.0 200.1 401.1 200.0 400.0 199.8 398.0 199.3 396.0 198.4 395.3 198.0 394.0 197.1 392.8 196.0 392.0 194.9 391.4 194.0 390.9 192.0 391.1 190.0 392.0 188.4 392.2 188.0 394.0 186.0 394.0 186.0 396.0 184.1 396.1 184.0 398.0 182.1 398.1 182.0 399.5 180.0 399.7 178.0 399.4 176.0 399.1 174.0 399.1 172.0 399.8 170.0ZM143.6 238.0 144.0 237.7 146.0 236.8 148.0 236.8 150.0 237.5 150.6 238.0 152.0 239.9 152.0 240.0 152.2 242.0 152.0 242.4 151.2 244.0 150.0 245.0 148.0 245.7 146.0 245.7 144.0 244.9 143.0 244.0 142.0 242.0 142.1 240.0 143.6 238.0Z"/>
<path fill="#ff2a2a" fill-rule="evenodd" d="M401.3 174.0 402.0 172.2 402.4 174.0 402.0 175.6 401.3 174.0ZM399.6 182.0 400.0 181.4 402.0 180.1 404.0 180.8 405.5 182.0 406.0 182.2 408.0 183.5 408.8 184.0 410.0 184.7 411.7 186.0 412.0 186.2 413.8 188.0 414.0 188.3 415.0 190.0 415.5 192.0 415.2 194.0 414.0 196.0 414.0 196.0 412.0 197.6 411.4 198.0 410.0 198.6 408.0 199.3 406.0 199.6 404.0 199.7 402.0 199.6 400.0 199.3 398.0 198.7 396.5 198.0 396.0 197.7 394.0 196.2 393.8 196.0 392.3 194.0 392.0 192.7 391.8 192.0 392.0 190.8 392.1 190.0 393.2 188.0 394.0 187.1 395.0 186.0 396.0 185.1 397.3 184.0 398.0 183.3 399.6 182.0ZM144.1 238.0 146.0 237.1 148.0 237.1 150.0 237.9 150.1 238.0 151.7 240.0 151.8 242.0 150.7 244.0 150.0 244.6 148.0 245.5 146.0 245.4 144.0 244.5 143.4 244.0 142.3 242.0 142.5 240.0 144.0 238.1 144.1 238.0Z"/>
<path fill="#ff1a1a" fill-rule="evenodd" d="M398.5 184.0 400.0 182.8 402.0 182.1 404.0 182.3 406.0 183.1 407.5 184.0 408.0 184.3 410.0 185.5 410.7 186.0 412.0 187.0 413.0 188.0 414.0 189.5 414.3 190.0 414.7 192.0 414.4 194.0 414.0 194.6 413.0 196.0 412.0 196.8 410.1 198.0 410.0 198.0 408.0 198.7 406.0 199.1 404.0 199.2 402.0 199.1 400.0 198.7 398.0 198.1 397.9 198.0 396.0 196.9 394.8 196.0 394.0 195.1 393.2 194.0 392.7 192.0 393.0 190.0 394.0 188.2 394.1 188.0 396.0 186.0 396.0 186.0 398.0 184.3 398.5 184.0ZM144.8 238.0 146.0 237.4 148.0 237.4 149.4 238.0 150.0 238.3 151.3 240.0 151.5 242.0 150.3 244.0 150.0 244.3 148.0 245.2 146.0 245.2 144.0 244.2 143.8 244.0 142.7 242.0 142.8 240.0 144.0 238.5 144.8 238.0Z"/>
<path fill="#ff0909" fill-rule="evenodd" d="M400.0 184.0 400.0 184.0 402.0 183.2 404.0 183.3 405.9 184.0 406.0 184.0 408.0 185.0 409.7 186.0 410.0 186.2 412.0 187.9 412.2 188.0 413.5 190.0 414.0 192.0 413.6 194.0 412.1 196.0 412.0 196.1 410.0 197.3 408.4 198.0 408.0 198.1 406.0 198.6 404.0 198.7 402.0 198.6 400.0 198.2 399.5 198.0 398.0 197.4 396.0 196.2 395.8 196.0 394.1 194.0 394.0 193.6 393.5 192.0 393.9 190.0 394.0 189.8 395.1 188.0 396.0 187.0 397.1 186.0 398.0 185.3 400.0 184.0ZM145.4 238.0 146.0 237.7 148.0 237.7 148.7 238.0 150.0 238.8 151.0 240.0 151.2 242.0 150.0 243.9 149.9 244.0 148.0 244.9 146.0 244.9 144.3 244.0 144.0 243.7 143.0 242.0 143.2 240.0 144.0 238.9 145.4 238.0Z"/>
<path fill="#fb0000" fill-rule="evenodd" d="M398.2 186.0 400.0 184.9 402.0 184.2 404.0 184.2 406.0 184.8 408.0 185.7 408.5 186.0 410.0 187.0 411.2 188.0 412.0 188.9 412.7 190.0 413.2 192.0 412.7 194.0 412.0 195.0 411.0 196.0 410.0 196.7 408.0 197.5 406.1 198.0 406.0 198.0 404.0 198.2 402.0 198.0 401.8 198.0 400.0 197.6 398.0 196.7 396.8 196.0 396.0 195.2 395.0 194.0 394.4 192.0 394.7 190.0 396.0 188.0 396.0 188.0 398.0 186.2 398.2 186.0ZM143.5 240.0 144.0 239.4 146.0 238.1 148.0 238.0 150.0 239.2 150.6 240.0 150.8 242.0 150.0 243.4 149.3 244.0 148.0 244.6 146.0 244.6 144.8 244.0 144.0 243.2 143.3 242.0 143.5 240.0Z"/>
<path fill="#f20000" fill-rule="evenodd" d="M399.6 186.0 400.0 185.7 402.0 185.0 404.0 185.0 406.0 185.5 407.1 186.0 408.0 186.4 410.0 187.7 410.3 188.0 411.9 190.0 412.0 190.3 412.4 192.0 412.0 193.7 411.9 194.0 410.0 196.0 410.0 196.0 408.0 196.9 406.0 197.4 404.0 197.6 402.0 197.5 400.0 196.9 398.0 196.0 397.9 196.0 396.0 194.1 395.9 194.0 395.2 192.0 395.6 190.0 396.0 189.4 397.0 188.0 398.0 187.1 399.6 186.0ZM143.9 240.0 144.0 239.8 146.0 238.4 148.0 238.4 150.0 239.7 150.3 240.0 150.5 242.0 150.0 242.8 148.7 244.0 148.0 244.3 146.0 244.3 145.4 244.0 144.0 242.7 143.6 242.0 143.9 240.0Z"/>
<path fill="#ea0000" fill-rule="evenodd" d="M401.6 186.0 402.0 185.8 404.0 185.7 405.0 186.0 406.0 186.2 408.0 187.2 409.3 188.0 410.0 188.7 411.1 190.0 411.6 192.0 411.0 194.0 410.0 195.0 408.7 196.0 408.0 196.3 406.0 196.9 404.0 197.0 402.0 196.9 400.0 196.3 399.3 196.0 398.0 195.1 396.8 194.0 396.1 192.0 396.5 190.0 398.0 188.0 398.0 188.0 400.0 186.6 401.6 186.0ZM144.3 240.0 146.0 238.7 148.0 238.7 149.9 240.0 150.0 240.6 150.2 242.0 150.0 242.3 148.1 244.0 148.0 244.1 146.0 244.0 145.9 244.0 144.0 242.1 143.9 242.0 144.0 241.5 144.3 240.0Z"/>
<path fill="#e10000" fill-rule="evenodd" d="M399.2 188.0 400.0 187.4 402.0 186.7 404.0 186.5 406.0 187.0 408.0 187.9 408.1 188.0 410.0 189.8 410.2 190.0 410.7 192.0 410.1 194.0 410.0 194.1 408.0 195.6 407.0 196.0 406.0 196.3 404.0 196.5 402.0 196.3 401.0 196.0 400.0 195.6 398.0 194.2 397.8 194.0 397.0 192.0 397.4 190.0 398.0 189.2 399.2 188.0ZM144.7 240.0 146.0 239.1 148.0 239.0 149.4 240.0 149.8 242.0 148.0 243.7 146.0 243.6 144.4 242.0 144.7 240.0Z"/>
<path fill="#d90000" fill-rule="evenodd" d="M400.7 188.0 402.0 187.5 404.0 187.3 406.0 187.7 406.6 188.0 408.0 188.9 409.1 190.0 409.8 192.0 408.9 194.0 408.0 194.7 406.0 195.6 404.0 195.8 402.0 195.6 400.0 194.7 399.0 194.0 398.0 192.2 397.9 192.0 398.0 191.7 398.4 190.0 400.0 188.4 400.7 188.0ZM145.2 240.0 146.0 239.4 148.0 239.4 148.9 240.0 149.3 242.0 148.0 243.2 146.0 243.2 144.8 242.0 145.2 240.0Z"/>
<path fill="#d00000" fill-rule="evenodd" d="M399.6 190.0 400.0 189.6 402.0 188.4 404.0 188.1 406.0 188.7 408.0 189.9 408.1 190.0 408.7 192.0 408.0 193.5 407.6 194.0 406.0 194.7 404.0 195.0 402.0 194.8 400.3 194.0 400.0 193.7 399.0 192.0 399.6 190.0ZM145.7 240.0 146.0 239.8 148.0 239.7 148.4 240.0 148.9 242.0 148.0 242.8 146.0 242.8 145.2 242.0 145.7 240.0Z"/>
<path fill="#c80000" fill-rule="evenodd" d="M401.2 190.0 402.0 189.5 404.0 189.2 406.0 189.7 406.5 190.0 407.5 192.0 406.0 193.8 405.5 194.0 404.0 194.2 402.3 194.0 402.0 193.9 400.3 192.0 401.2 190.0ZM145.7 242.0 146.0 240.6 148.0 240.4 148.4 242.0 148.0 242.4 146.0 242.3 145.7 242.0Z"/>
<path fill="#bf0000" fill-rule="evenodd" d="M402.2 192.0 404.0 190.8 405.5 192.0 404.0 192.6 402.2 192.0Z"/>
<path fill="#f2f2ff" fill-rule="evenodd" d="M137.5 90.0 138.0 89.8 140.0 89.3 142.0 89.0 144.0 88.8 146.0 88.7 148.0 88.7 150.0 88.8 152.0 89.0 154.0 89.3 156.0 89.8 156.5 90.0 158.0 90.4 160.0 91.0 162.0 91.9 162.2 92.0 164.0 92.8 166.0 93.8 166.5 94.0 168.0 94.5 170.0 94.9 172.0 95.2 174.0 95.2 176.0 95.2 178.0 95.1 180.0 95.0 182.0 94.9 184.0 94.8 186.0 94.8 188.0 94.8 190.0 94.8 192.0 95.0 194.0 95.2 196.0 95.7 197.0 96.0 198.0 96.3 200.0 97.2 201.1 98.0 202.0 98.8 202.8 100.0 203.3 102.0 203.1 104.0 202.6 106.0 202.3 108.0 202.1 110.0 202.2 112.0 202.6 114.0 203.2 116.0 204.0 117.9 204.0 118.0 205.1 120.0 206.0 121.8 206.1 122.0 207.3 124.0 208.0 125.8 208.1 126.0 208.5 128.0 208.2 130.0 208.0 130.5 207.5 132.0 206.6 134.0 206.0 135.9 206.0 136.0 206.0 136.1 206.4 138.0 207.9 140.0 208.0 140.1 209.5 142.0 210.0 142.6 210.8 144.0 211.8 146.0 212.0 146.4 212.6 148.0 213.1 150.0 213.5 152.0 213.7 154.0 213.7 156.0 213.4 158.0 212.9 160.0 212.0 162.0 212.0 162.0 210.7 164.0 210.0 164.9 209.0 166.0 208.0 166.9 206.7 168.0 206.0 168.5 204.0 169.8 203.5 170.0 202.0 170.8 200.0 171.6 198.9 172.0 198.0 172.3 196.0 172.9 194.0 173.2 192.0 173.5 190.0 173.7 188.0 173.7 186.0 173.8 184.0 173.7 182.0 173.6 180.0 173.4 178.0 173.1 176.0 172.8 174.0 172.4 172.3 172.0 172.0 171.9 170.0 171.5 168.0 171.2 166.0 171.1 164.0 171.3 162.0 171.8 161.6 172.0 160.0 172.6 158.0 173.3 156.0 174.0 156.0 174.0 154.0 174.6 152.0 175.1 150.0 175.5 148.0 175.7 146.0 175.8 144.0 175.8 142.0 175.7 140.0 175.5 138.0 175.1 136.0 174.6 134.3 174.0 134.0 173.9 132.0 173.0 130.2 172.0 130.0 171.8 128.0 170.2 127.8 170.0 126.3 168.0 126.0 167.0 125.7 166.0 125.6 164.0 126.0 163.0 126.3 162.0 127.7 160.0 128.0 159.7 130.0 158.0 130.0 158.0 132.0 156.6 133.3 156.0 134.0 155.6 136.0 154.8 138.0 154.4 140.0 154.1 142.0 154.0 144.0 154.1 146.0 154.2 148.0 154.4 150.0 154.7 152.0 155.2 154.0 155.8 154.7 156.0 156.0 156.4 158.0 157.2 160.0 157.9 160.3 158.0 162.0 158.6 164.0 159.0 166.0 159.2 168.0 159.0 170.0 158.8 172.0 158.4 173.6 158.0 174.0 157.9 176.0 157.5 178.0 157.0 180.0 156.3 180.7 156.0 182.0 155.5 184.0 154.3 184.4 154.0 186.0 152.8 186.7 152.0 188.0 150.8 188.6 150.0 190.0 148.5 190.5 148.0 192.0 146.3 192.3 146.0 194.0 144.0 194.0 144.0 195.7 142.0 196.0 141.5 197.1 140.0 197.3 138.0 196.0 136.2 195.9 136.0 194.0 134.3 193.8 134.0 192.0 132.5 191.6 132.0 190.0 130.5 189.5 130.0 188.0 128.4 187.6 128.0 186.0 126.2 185.8 126.0 184.1 124.0 184.0 123.9 182.4 122.0 182.0 121.5 180.8 120.0 180.0 118.8 179.3 118.0 178.0 116.0 178.0 116.0 176.4 114.0 176.0 113.6 174.0 112.2 173.5 112.0 172.0 111.4 170.0 110.8 168.0 110.4 166.0 110.2 164.0 110.2 162.0 110.3 160.0 110.7 158.0 111.4 156.5 112.0 156.0 112.2 154.0 113.3 152.7 114.0 152.0 114.5 150.0 115.7 149.4 116.0 148.0 116.9 146.0 117.7 145.0 118.0 144.0 118.4 142.0 118.8 140.0 119.1 138.0 119.1 136.0 118.9 134.0 118.4 132.9 118.0 132.0 117.7 130.0 116.8 128.8 116.0 128.0 115.5 126.2 114.0 126.0 113.8 124.4 112.0 124.0 111.4 123.1 110.0 122.3 108.0 122.0 106.1 122.0 106.0 122.0 104.0 122.0 103.9 122.3 102.0 123.1 100.0 124.0 98.6 124.4 98.0 126.0 96.1 126.1 96.0 128.0 94.4 128.5 94.0 130.0 93.0 132.0 92.0 132.0 92.0 134.0 91.1 136.0 90.4 137.5 90.0ZM311.3 106.0 312.0 105.5 314.0 104.9 316.0 104.8 318.0 105.1 320.0 105.7 320.6 106.0 322.0 107.2 322.6 108.0 322.3 110.0 322.0 110.3 320.0 111.5 318.3 112.0 318.0 112.0 316.0 112.0 316.0 112.0 314.0 111.5 312.0 110.4 311.5 110.0 310.3 108.0 311.3 106.0ZM239.4 120.0 240.0 119.9 242.0 119.7 244.0 119.7 246.0 119.7 248.0 120.0 248.2 120.0 250.0 120.2 252.0 120.7 254.0 121.3 255.7 122.0 256.0 122.1 258.0 123.1 259.4 124.0 260.0 124.5 261.9 126.0 262.0 126.1 263.4 128.0 263.3 130.0 262.0 131.2 260.0 132.0 260.0 132.0 258.0 132.4 256.0 132.6 254.0 132.6 252.0 132.5 250.0 132.4 248.0 132.2 246.7 132.0 246.0 131.9 244.0 131.6 242.0 131.3 240.0 131.0 238.0 130.6 236.0 130.3 234.7 130.0 234.0 129.8 232.0 129.2 230.0 128.6 228.3 128.0 228.0 127.6 226.8 126.0 228.0 124.4 228.2 124.0 230.0 122.9 231.6 122.0 232.0 121.8 234.0 121.0 236.0 120.5 238.0 120.1 239.4 120.0ZM122.6 132.0 124.0 131.4 126.0 130.9 128.0 130.6 130.0 130.6 132.0 130.7 134.0 131.2 136.0 132.0 136.0 132.0 138.0 133.1 139.1 134.0 140.0 134.8 141.0 136.0 142.0 137.8 142.1 138.0 142.7 140.0 142.8 142.0 142.3 144.0 142.0 144.6 141.1 146.0 140.0 147.2 138.8 148.0 138.0 148.6 136.0 149.5 134.0 149.9 132.9 150.0 132.0 150.1 130.0 150.0 129.8 150.0 128.0 149.8 126.0 149.5 124.0 148.8 122.2 148.0 122.0 147.9 120.0 146.8 119.0 146.0 118.0 145.0 117.1 144.0 116.2 142.0 116.0 140.8 115.9 140.0 116.0 139.2 116.2 138.0 117.2 136.0 118.0 135.0 119.1 134.0 120.0 133.3 122.0 132.2 122.6 132.0ZM277.5 136.0 278.0 135.9 280.0 135.5 282.0 135.2 284.0 134.9 286.0 134.8 288.0 134.6 290.0 134.5 292.0 134.5 294.0 134.5 296.0 134.6 298.0 134.8 300.0 135.1 302.0 135.6 303.5 136.0 304.0 136.1 306.0 136.8 308.0 137.7 308.7 138.0 310.0 138.5 312.0 139.3 314.0 139.9 314.4 140.0 316.0 140.2 318.0 140.3 320.0 140.4 322.0 140.4 324.0 140.4 326.0 140.5 328.0 140.7 330.0 141.0 332.0 141.3 334.0 141.7 335.2 142.0 336.0 142.2 338.0 142.6 340.0 143.1 342.0 143.6 343.4 144.0 344.0 144.1 346.0 144.6 348.0 144.9 350.0 144.7 351.2 144.0 352.0 143.6 354.0 142.0 354.0 142.0 356.0 140.5 356.7 140.0 358.0 139.2 360.0 138.1 360.2 138.0 362.0 137.1 364.0 136.3 365.3 136.0 366.0 135.7 368.0 135.3 370.0 135.1 372.0 135.4 373.5 136.0 374.0 136.2 376.0 137.7 376.2 138.0 377.8 140.0 378.0 140.4 378.8 142.0 379.5 144.0 379.9 146.0 380.0 148.0 379.9 150.0 379.5 152.0 378.6 154.0 378.0 154.9 377.0 156.0 376.0 156.9 374.0 158.0 374.0 158.0 372.0 159.0 370.0 159.6 368.0 160.0 367.8 160.0 366.0 160.5 364.0 161.2 362.7 162.0 362.0 162.7 361.2 164.0 360.0 165.7 359.8 166.0 358.0 167.9 357.9 168.0 356.0 169.3 355.1 170.0 354.0 170.5 352.0 171.5 350.8 172.0 350.0 172.3 348.0 173.0 346.0 173.5 344.1 174.0 344.0 174.0 342.0 174.5 340.0 174.9 338.0 175.2 336.0 175.4 334.0 175.6 332.0 175.7 330.0 175.8 328.0 175.8 326.0 175.7 324.0 175.5 322.0 175.2 320.0 174.7 318.1 174.0 318.0 174.0 316.0 173.2 314.0 172.2 313.5 172.0 312.0 171.2 310.0 170.2 309.4 170.0 308.0 169.5 306.0 169.2 304.0 169.2 302.0 169.5 300.0 169.8 298.6 170.0 298.0 170.1 296.0 170.4 294.0 170.5 292.0 170.4 290.0 170.3 288.0 170.0 287.8 170.0 286.0 169.7 284.0 169.4 282.0 169.0 280.0 168.6 278.0 168.3 276.0 168.2 274.0 168.3 272.0 169.2 271.2 170.0 270.0 170.8 268.8 172.0 268.0 172.5 266.0 173.8 265.7 174.0 264.0 174.7 262.0 175.4 260.0 175.8 258.0 175.8 256.0 175.4 254.0 174.5 253.3 174.0 252.0 172.7 251.2 172.0 250.0 170.8 248.9 170.0 248.0 169.4 246.0 168.2 245.8 168.0 244.0 166.2 243.8 166.0 243.5 164.0 244.0 162.9 244.4 162.0 246.0 160.5 246.7 160.0 248.0 159.4 250.0 158.7 252.0 158.3 254.0 158.3 256.0 158.5 258.0 159.0 260.0 159.3 262.0 158.9 262.9 158.0 263.6 156.0 264.0 154.2 264.0 154.0 264.4 152.0 264.8 150.0 265.3 148.0 266.0 146.0 266.0 146.0 266.9 144.0 268.0 142.2 268.2 142.0 269.9 140.0 270.0 139.9 272.0 138.3 272.6 138.0 274.0 137.2 276.0 136.4 277.5 136.0ZM425.2 168.0 426.0 167.7 428.0 167.1 430.0 166.8 432.0 166.7 434.0 166.8 436.0 167.1 438.0 167.6 439.0 168.0 440.0 168.3 442.0 169.2 443.3 170.0 444.0 170.4 445.9 172.0 446.0 172.1 447.7 174.0 448.0 174.4 449.1 176.0 449.9 178.0 450.0 178.6 450.4 180.0 450.6 182.0 450.5 184.0 450.0 186.0 450.0 186.0 449.5 188.0 448.7 190.0 448.0 191.7 447.9 192.0 447.6 194.0 447.9 196.0 448.0 196.2 448.8 198.0 449.7 200.0 450.0 200.9 450.5 202.0 451.2 204.0 451.6 206.0 451.9 208.0 452.0 208.6 452.2 210.0 452.3 212.0 452.3 214.0 452.1 216.0 452.0 216.4 451.8 218.0 451.4 220.0 450.8 222.0 450.0 223.7 449.9 224.0 448.9 226.0 448.0 227.3 447.5 228.0 446.0 229.6 445.6 230.0 444.0 231.4 443.0 232.0 442.0 232.6 440.0 233.4 438.0 233.9 436.9 234.0 436.0 234.1 434.0 234.2 432.0 234.0 431.8 234.0 430.0 233.8 428.0 233.6 426.0 233.4 424.0 233.1 422.0 232.8 420.0 232.6 418.0 232.6 416.0 232.7 414.0 233.1 412.0 233.6 410.6 234.0 410.0 234.3 408.0 235.4 406.2 236.0 406.0 236.1 404.0 237.0 402.0 237.4 400.0 237.5 398.0 237.5 396.0 237.4 394.0 237.2 392.0 237.0 390.0 236.7 388.0 236.4 386.0 236.1 385.5 236.0 384.0 235.8 382.0 235.5 380.0 235.2 378.0 234.9 376.0 235.0 374.0 235.5 372.2 236.0 372.0 236.1 370.0 236.9 368.0 237.5 366.0 237.9 364.9 238.0 364.0 238.1 362.0 238.2 360.0 238.1 359.4 238.0 358.0 237.8 356.0 237.4 354.0 236.6 352.8 236.0 352.0 235.6 350.0 234.1 349.8 234.0 348.0 232.1 347.9 232.0 346.5 230.0 346.0 228.4 345.8 228.0 345.5 226.0 345.8 224.0 346.0 223.6 346.5 222.0 348.0 220.0 348.0 220.0 350.0 218.2 350.2 218.0 352.0 216.8 353.2 216.0 354.0 215.6 356.0 214.5 357.3 214.0 358.0 213.7 360.0 212.9 362.0 212.4 364.0 212.0 364.1 212.0 366.0 211.6 368.0 211.3 370.0 210.9 372.0 210.2 372.6 210.0 374.0 209.3 376.0 208.2 376.4 208.0 378.0 207.2 380.0 206.5 382.0 206.2 384.0 206.1 386.0 206.1 388.0 206.3 390.0 206.5 392.0 206.6 394.0 206.8 396.0 206.9 398.0 206.9 400.0 207.0 402.0 207.0 404.0 207.0 406.0 207.1 408.0 207.1 410.0 207.0 412.0 207.0 414.0 207.0 416.0 206.9 418.0 206.8 420.0 206.6 422.0 206.1 422.4 206.0 424.0 205.1 425.4 204.0 426.0 203.3 427.1 202.0 428.0 200.7 428.5 200.0 429.4 198.0 429.7 196.0 429.1 194.0 428.0 192.7 427.6 192.0 426.0 190.0 426.0 190.0 424.5 188.0 424.0 187.4 423.1 186.0 422.0 184.4 421.8 184.0 420.6 182.0 420.0 180.6 419.7 180.0 419.0 178.0 418.8 176.0 419.0 174.0 419.8 172.0 420.0 171.6 421.5 170.0 422.0 169.5 424.0 168.4 425.2 168.0ZM71.0 182.0 72.0 181.6 74.0 180.9 76.0 180.5 78.0 180.2 80.0 180.0 82.0 180.1 84.0 180.2 86.0 180.6 88.0 181.1 90.0 181.7 90.8 182.0 92.0 182.4 94.0 183.0 96.0 183.5 97.7 184.0 98.0 184.1 100.0 184.7 102.0 185.3 103.8 186.0 104.0 186.2 105.8 188.0 105.6 190.0 104.2 192.0 104.0 192.2 102.0 193.8 101.8 194.0 100.0 195.2 98.8 196.0 98.0 196.4 96.0 197.5 94.9 198.0 94.0 198.4 92.0 199.1 90.0 199.7 88.5 200.0 88.0 200.1 86.0 200.4 84.0 200.7 82.0 200.9 80.0 201.1 78.0 201.2 76.0 201.3 74.0 201.4 72.0 201.4 70.0 201.3 68.0 201.2 66.0 201.0 64.0 200.7 62.0 200.3 61.2 200.0 60.0 199.5 58.0 198.1 57.9 198.0 56.6 196.0 56.4 194.0 56.9 192.0 58.0 190.3 58.2 190.0 60.0 188.1 60.1 188.0 62.0 186.5 62.7 186.0 64.0 185.1 66.0 184.1 66.2 184.0 68.0 183.1 70.0 182.3 71.0 182.0ZM297.9 184.0 298.0 183.9 300.0 182.7 302.0 182.4 304.0 182.9 305.8 184.0 306.0 184.1 307.5 186.0 308.0 187.1 308.3 188.0 308.4 190.0 308.0 191.3 307.7 192.0 306.0 193.6 304.6 194.0 304.0 194.1 303.4 194.0 302.0 193.7 300.0 192.7 299.2 192.0 298.0 190.7 297.5 190.0 296.9 188.0 297.0 186.0 297.9 184.0ZM126.2 208.0 128.0 207.6 130.0 207.7 131.1 208.0 132.0 208.3 134.0 209.5 134.6 210.0 136.0 211.9 136.0 212.0 136.7 214.0 136.8 216.0 136.1 218.0 136.0 218.2 134.8 220.0 134.0 220.8 132.3 222.0 132.0 222.2 130.0 223.0 128.0 223.5 126.0 223.6 124.0 223.4 122.0 222.9 120.4 222.0 120.0 221.7 118.4 220.0 118.0 218.9 117.7 218.0 117.8 216.0 118.0 215.6 118.6 214.0 120.0 212.0 120.0 212.0 122.0 210.1 122.2 210.0 124.0 208.8 126.0 208.0 126.2 208.0ZM160.6 208.0 162.0 207.4 164.0 206.9 166.0 206.6 168.0 206.4 170.0 206.4 172.0 206.4 174.0 206.6 176.0 206.8 178.0 207.1 180.0 207.5 182.0 207.9 182.3 208.0 184.0 208.4 186.0 209.0 188.0 209.8 188.4 210.0 190.0 210.8 191.8 212.0 192.0 212.2 193.7 214.0 194.0 214.7 194.6 216.0 194.5 218.0 194.0 219.1 193.6 220.0 192.0 221.6 191.5 222.0 190.0 222.9 188.0 223.9 187.6 224.0 186.0 224.6 184.0 225.2 182.0 225.5 180.0 225.7 178.0 225.8 176.0 225.8 174.0 225.7 172.0 225.5 170.0 225.2 168.0 224.7 166.1 224.0 166.0 224.0 164.0 223.2 162.0 222.0 161.9 222.0 160.0 220.6 159.3 220.0 158.0 218.5 157.6 218.0 156.5 216.0 156.1 214.0 156.4 212.0 157.7 210.0 158.0 209.7 160.0 208.3 160.6 208.0Z"/>
<path fill="#eaeaff" fill-rule="evenodd" d="M142.1 92.0 144.0 91.7 146.0 91.6 148.0 91.6 150.0 91.7 151.9 92.0 152.0 92.0 154.0 92.4 156.0 92.9 158.0 93.6 159.0 94.0 160.0 94.4 162.0 95.4 163.3 96.0 164.0 96.3 166.0 97.0 168.0 97.4 170.0 97.5 172.0 97.4 174.0 97.3 176.0 97.1 178.0 96.9 180.0 96.7 182.0 96.6 184.0 96.6 186.0 96.6 188.0 96.6 190.0 96.7 192.0 97.0 194.0 97.3 196.0 98.0 196.1 98.0 198.0 98.7 199.8 100.0 200.0 100.2 201.3 102.0 201.7 104.0 201.6 106.0 201.4 108.0 201.4 110.0 201.6 112.0 202.0 113.8 202.0 114.0 202.7 116.0 203.4 118.0 204.0 119.4 204.3 120.0 205.2 122.0 205.9 124.0 206.0 124.5 206.4 126.0 206.3 128.0 206.0 128.8 205.6 130.0 204.5 132.0 204.0 132.7 202.8 134.0 202.0 134.9 200.0 135.6 198.0 135.3 196.0 134.3 195.6 134.0 194.0 133.1 192.8 132.0 192.0 131.5 190.4 130.0 190.0 129.6 188.4 128.0 188.0 127.6 186.6 126.0 186.0 125.4 184.8 124.0 184.0 123.0 183.2 122.0 182.0 120.3 181.7 120.0 180.4 118.0 180.0 117.2 179.3 116.0 178.1 114.0 178.0 113.8 176.2 112.0 176.0 111.8 174.0 110.8 172.0 110.0 171.8 110.0 170.0 109.5 168.0 109.1 166.0 109.0 164.0 109.0 162.0 109.3 160.0 109.9 159.7 110.0 158.0 110.5 156.0 111.4 154.7 112.0 154.0 112.4 152.0 113.5 151.0 114.0 150.0 114.6 148.0 115.5 146.4 116.0 146.0 116.2 144.0 116.6 142.0 116.8 140.0 116.8 138.0 116.5 136.3 116.0 136.0 115.9 134.0 115.2 132.0 114.0 131.9 114.0 130.0 112.5 129.4 112.0 128.0 110.2 127.8 110.0 126.8 108.0 126.4 106.0 126.3 104.0 126.8 102.0 127.8 100.0 128.0 99.7 129.3 98.0 130.0 97.4 131.7 96.0 132.0 95.8 134.0 94.6 135.2 94.0 136.0 93.6 138.0 92.9 140.0 92.4 142.0 92.0 142.1 92.0ZM239.5 122.0 240.0 121.9 242.0 121.7 244.0 121.6 246.0 121.6 248.0 121.8 249.6 122.0 250.0 122.1 252.0 122.5 254.0 123.1 256.0 123.9 256.1 124.0 258.0 125.4 258.8 126.0 259.6 128.0 258.0 129.7 257.6 130.0 256.0 130.5 254.0 130.9 252.0 131.0 250.0 131.1 248.0 131.0 246.0 130.8 244.0 130.6 242.0 130.3 240.1 130.0 240.0 130.0 238.0 129.5 236.0 128.9 234.0 128.2 233.3 128.0 232.0 126.6 231.5 126.0 232.0 125.3 233.1 124.0 234.0 123.6 236.0 122.8 238.0 122.3 239.5 122.0ZM125.7 134.0 126.0 133.9 128.0 133.5 130.0 133.4 132.0 133.5 133.8 134.0 134.0 134.1 136.0 135.0 137.3 136.0 138.0 136.7 138.9 138.0 139.5 140.0 139.3 142.0 138.0 144.0 138.0 144.0 136.0 145.4 134.7 146.0 134.0 146.3 132.0 146.7 130.0 146.8 128.0 146.7 126.0 146.2 125.5 146.0 124.0 145.4 122.0 144.0 122.0 144.0 120.5 142.0 120.0 140.0 120.5 138.0 122.0 136.0 122.0 136.0 124.0 134.7 125.7 134.0ZM284.6 138.0 286.0 137.8 288.0 137.6 290.0 137.5 292.0 137.6 294.0 137.7 295.8 138.0 296.0 138.0 298.0 138.5 300.0 139.1 302.0 139.8 302.4 140.0 304.0 140.7 306.0 141.8 306.5 142.0 308.0 142.8 310.0 143.5 312.0 144.0 312.0 144.0 314.0 144.1 314.8 144.0 316.0 143.9 318.0 143.6 320.0 143.2 322.0 142.9 324.0 142.7 326.0 142.6 328.0 142.6 330.0 142.6 332.0 142.8 334.0 143.1 336.0 143.5 338.0 144.0 338.1 144.0 340.0 144.4 342.0 145.0 344.0 145.6 345.1 146.0 346.0 146.3 348.0 146.8 350.0 147.0 352.0 146.1 352.1 146.0 353.8 144.0 354.0 143.9 355.8 142.0 356.0 141.8 358.0 140.2 358.3 140.0 360.0 139.0 362.0 138.1 362.2 138.0 364.0 137.3 366.0 136.7 368.0 136.5 370.0 136.5 372.0 136.9 374.0 137.9 374.2 138.0 376.0 139.4 376.4 140.0 377.8 142.0 378.0 142.5 378.6 144.0 379.0 146.0 379.1 148.0 378.9 150.0 378.3 152.0 378.0 152.5 377.0 154.0 376.0 155.0 374.5 156.0 374.0 156.3 372.0 157.3 370.0 157.8 368.9 158.0 368.0 158.2 366.0 158.5 364.0 158.7 362.0 159.0 360.2 160.0 360.0 160.3 359.3 162.0 358.6 164.0 358.0 165.0 357.5 166.0 356.0 167.7 355.8 168.0 354.0 169.4 353.1 170.0 352.0 170.6 350.0 171.5 348.9 172.0 348.0 172.3 346.0 173.0 344.0 173.5 342.0 173.9 341.6 174.0 340.0 174.3 338.0 174.6 336.0 174.8 334.0 175.0 332.0 175.0 330.0 175.0 328.0 174.9 326.0 174.6 324.0 174.1 323.5 174.0 322.0 173.6 320.0 172.8 318.4 172.0 318.0 171.8 316.0 170.6 315.1 170.0 314.0 169.2 312.4 168.0 312.0 167.6 310.0 166.2 309.6 166.0 308.0 165.1 306.0 164.6 304.0 164.5 302.0 164.9 300.0 165.3 298.0 165.8 296.7 166.0 296.0 166.1 294.0 166.4 292.0 166.6 290.0 166.6 288.0 166.5 286.0 166.3 284.5 166.0 284.0 165.9 282.0 165.4 280.0 164.9 278.0 164.1 277.6 164.0 276.0 163.2 274.0 162.0 274.0 162.0 272.0 160.1 271.9 160.0 270.6 158.0 270.0 156.5 269.8 156.0 269.3 154.0 269.3 152.0 269.5 150.0 270.0 148.4 270.1 148.0 271.1 146.0 272.0 144.7 272.6 144.0 274.0 142.6 274.8 142.0 276.0 141.1 278.0 140.0 278.1 140.0 280.0 139.2 282.0 138.6 284.0 138.1 284.6 138.0ZM197.7 142.0 198.0 141.6 200.0 140.3 202.0 140.0 204.0 140.5 206.0 141.6 206.5 142.0 208.0 143.2 208.7 144.0 210.0 145.9 210.1 146.0 211.0 148.0 211.6 150.0 211.9 152.0 211.9 154.0 211.6 156.0 210.9 158.0 210.0 159.7 209.8 160.0 208.2 162.0 208.0 162.2 206.2 164.0 206.0 164.2 204.0 165.9 203.9 166.0 202.0 167.3 200.8 168.0 200.0 168.5 198.0 169.4 196.3 170.0 196.0 170.1 194.0 170.7 192.0 171.1 190.0 171.4 188.0 171.5 186.0 171.5 184.0 171.5 182.0 171.3 180.0 171.0 178.0 170.5 176.3 170.0 176.0 169.9 174.0 169.1 172.0 168.1 171.8 168.0 170.0 166.6 169.2 166.0 168.7 164.0 170.0 162.6 170.4 162.0 172.0 161.2 174.0 160.1 174.1 160.0 176.0 159.3 178.0 158.6 179.4 158.0 180.0 157.8 182.0 156.9 183.7 156.0 184.0 155.8 186.0 154.3 186.3 154.0 188.0 152.2 188.1 152.0 189.8 150.0 190.0 149.8 191.6 148.0 192.0 147.5 193.4 146.0 194.0 145.4 195.5 144.0 196.0 143.4 197.7 142.0ZM136.5 160.0 138.0 159.3 140.0 158.7 142.0 158.3 144.0 158.1 146.0 158.2 148.0 158.3 150.0 158.7 152.0 159.3 153.9 160.0 154.0 160.1 156.0 161.2 157.2 162.0 158.0 162.9 159.0 164.0 158.9 166.0 158.0 167.0 157.1 168.0 156.0 168.7 154.0 169.9 153.9 170.0 152.0 170.7 150.0 171.3 148.0 171.7 146.0 171.8 144.0 171.8 142.0 171.6 140.0 171.2 138.0 170.6 136.6 170.0 136.0 169.7 134.0 168.1 133.9 168.0 132.8 166.0 132.8 164.0 133.9 162.0 134.0 161.9 136.0 160.3 136.5 160.0ZM257.7 168.0 258.0 167.8 260.0 167.2 262.0 167.2 264.0 167.9 264.2 168.0 264.9 170.0 264.0 171.2 263.1 172.0 262.0 172.4 260.0 172.5 258.5 172.0 258.0 171.4 257.2 170.0 257.7 168.0ZM425.7 170.0 426.0 169.9 428.0 169.2 430.0 168.9 432.0 168.8 434.0 168.9 436.0 169.2 438.0 169.8 438.5 170.0 440.0 170.5 442.0 171.7 442.4 172.0 444.0 173.2 444.8 174.0 446.0 175.6 446.3 176.0 447.4 178.0 447.9 180.0 448.0 181.1 448.1 182.0 448.0 183.4 448.0 184.0 447.6 186.0 446.8 188.0 446.0 189.5 445.7 190.0 444.7 192.0 444.0 194.0 444.3 196.0 445.3 198.0 446.0 199.1 446.5 200.0 447.6 202.0 448.0 203.1 448.4 204.0 449.0 206.0 449.5 208.0 449.7 210.0 449.8 212.0 449.8 214.0 449.6 216.0 449.3 218.0 448.7 220.0 448.0 221.7 447.9 222.0 446.9 224.0 446.0 225.3 445.5 226.0 444.0 227.6 443.5 228.0 442.0 229.1 440.2 230.0 440.0 230.1 438.0 230.8 436.0 231.2 434.0 231.4 432.0 231.4 430.0 231.5 428.0 231.5 426.0 231.6 424.0 231.7 422.0 231.7 420.0 231.7 418.0 231.8 416.0 232.0 416.0 232.0 414.0 232.4 412.0 233.0 410.0 233.6 408.4 234.0 408.0 234.2 406.0 235.0 404.0 235.4 402.0 235.7 400.0 235.7 398.0 235.7 396.0 235.6 394.0 235.4 392.0 235.2 390.0 234.9 388.0 234.6 386.0 234.2 385.0 234.0 384.0 233.8 382.0 233.5 380.0 233.0 378.0 232.6 376.0 232.5 374.0 232.9 372.0 233.7 371.2 234.0 370.0 234.5 368.0 235.2 366.0 235.7 364.0 236.0 363.3 236.0 362.0 236.1 361.0 236.0 360.0 235.9 358.0 235.6 356.0 235.1 354.0 234.1 353.9 234.0 352.0 232.8 351.1 232.0 350.0 230.8 349.4 230.0 348.4 228.0 348.0 226.2 347.9 226.0 348.0 224.1 348.0 224.0 348.5 222.0 349.9 220.0 350.0 219.9 351.9 218.0 352.0 217.9 354.0 216.6 355.0 216.0 356.0 215.5 358.0 214.6 359.9 214.0 360.0 213.9 362.0 213.4 364.0 213.1 366.0 212.9 368.0 212.7 370.0 212.5 372.0 212.0 372.0 212.0 374.0 211.0 375.7 210.0 376.0 209.8 378.0 208.6 379.3 208.0 380.0 207.7 382.0 207.1 384.0 206.8 386.0 206.8 388.0 206.9 390.0 207.0 392.0 207.1 394.0 207.2 396.0 207.2 398.0 207.3 400.0 207.3 402.0 207.3 404.0 207.4 406.0 207.4 408.0 207.4 410.0 207.4 412.0 207.4 414.0 207.5 416.0 207.5 418.0 207.5 420.0 207.4 422.0 207.1 424.0 206.4 424.7 206.0 426.0 204.9 426.9 204.0 428.0 202.6 428.5 202.0 429.8 200.0 430.0 199.6 430.9 198.0 431.2 196.0 430.3 194.0 430.0 193.8 428.6 192.0 428.0 191.5 426.7 190.0 426.0 189.3 425.0 188.0 424.0 186.7 423.5 186.0 422.2 184.0 422.0 183.5 421.2 182.0 420.4 180.0 420.0 178.3 419.9 178.0 419.9 176.0 420.0 175.7 420.6 174.0 422.0 172.2 422.2 172.0 424.0 170.7 425.7 170.0ZM80.0 182.0 80.0 182.0 82.0 181.8 84.0 181.9 84.9 182.0 86.0 182.1 88.0 182.5 90.0 183.0 92.0 183.6 93.4 184.0 94.0 184.2 96.0 185.0 98.0 185.8 98.4 186.0 100.0 187.2 100.9 188.0 101.3 190.0 100.3 192.0 100.0 192.2 98.2 194.0 98.0 194.1 96.0 195.5 95.1 196.0 94.0 196.6 92.0 197.5 90.5 198.0 90.0 198.2 88.0 198.7 86.0 199.2 84.0 199.5 82.0 199.8 80.0 200.0 79.2 200.0 78.0 200.1 76.0 200.1 74.0 200.1 72.0 200.0 71.6 200.0 70.0 199.8 68.0 199.5 66.0 198.9 64.0 198.1 63.8 198.0 62.0 196.4 61.7 196.0 61.0 194.0 61.4 192.0 62.0 191.1 62.7 190.0 64.0 188.7 64.7 188.0 66.0 187.1 67.8 186.0 68.0 185.9 70.0 184.8 72.0 184.0 72.1 184.0 74.0 183.3 76.0 182.7 78.0 182.3 80.0 182.0ZM169.2 208.0 170.0 207.9 172.0 207.9 173.4 208.0 174.0 208.0 176.0 208.3 178.0 208.6 180.0 209.1 182.0 209.7 183.0 210.0 184.0 210.4 186.0 211.4 187.0 212.0 188.0 212.8 189.3 214.0 190.0 215.4 190.3 216.0 190.2 218.0 190.0 218.2 188.8 220.0 188.0 220.6 186.0 221.8 185.6 222.0 184.0 222.6 182.0 223.2 180.0 223.5 178.0 223.6 176.0 223.6 174.0 223.5 172.0 223.3 170.0 222.8 168.0 222.1 167.7 222.0 166.0 221.2 164.0 220.0 164.0 220.0 162.0 218.2 161.8 218.0 160.5 216.0 160.1 214.0 160.5 212.0 162.0 210.4 162.4 210.0 164.0 209.2 166.0 208.5 168.0 208.1 169.2 208.0ZM123.2 212.0 124.0 211.4 126.0 210.7 128.0 210.5 130.0 211.1 131.4 212.0 132.0 212.9 132.6 214.0 132.7 216.0 132.0 217.4 131.6 218.0 130.0 219.3 128.5 220.0 128.0 220.2 126.0 220.4 124.0 220.0 123.9 220.0 122.0 218.8 121.3 218.0 120.8 216.0 121.4 214.0 122.0 213.2 123.2 212.0Z"/>
<path fill="#e1e1ff" fill-rule="evenodd" d="M142.4 94.0 144.0 93.7 146.0 93.6 148.0 93.6 150.0 93.7 151.6 94.0 152.0 94.1 154.0 94.5 156.0 95.1 158.0 96.0 158.1 96.0 160.0 96.9 162.0 97.9 162.1 98.0 164.0 98.8 166.0 99.4 168.0 99.5 170.0 99.4 172.0 99.1 174.0 98.7 176.0 98.4 178.0 98.2 180.0 98.0 180.5 98.0 182.0 97.9 184.0 97.8 186.0 97.8 188.0 97.9 188.9 98.0 190.0 98.1 192.0 98.3 194.0 98.8 196.0 99.5 196.9 100.0 198.0 100.7 199.4 102.0 200.0 103.2 200.3 104.0 200.6 106.0 200.6 108.0 200.7 110.0 201.0 112.0 201.5 114.0 202.0 115.7 202.1 116.0 202.8 118.0 203.6 120.0 204.0 121.3 204.3 122.0 204.8 124.0 205.0 126.0 204.6 128.0 204.0 129.2 203.6 130.0 202.0 131.8 201.8 132.0 200.0 133.1 198.0 133.4 196.0 132.9 194.2 132.0 194.0 131.9 192.0 130.5 191.4 130.0 190.0 128.8 189.2 128.0 188.0 126.8 187.3 126.0 186.0 124.5 185.6 124.0 184.0 122.0 184.0 122.0 182.6 120.0 182.0 118.9 181.4 118.0 180.5 116.0 180.0 114.8 179.6 114.0 178.2 112.0 178.0 111.8 176.0 110.4 175.2 110.0 174.0 109.5 172.0 108.8 170.0 108.2 168.9 108.0 168.0 107.8 166.0 107.6 164.0 107.8 163.3 108.0 162.0 108.2 160.0 108.8 158.0 109.6 157.2 110.0 156.0 110.5 154.0 111.5 153.0 112.0 152.0 112.5 150.0 113.5 148.6 114.0 148.0 114.2 146.0 114.8 144.0 115.1 142.0 115.1 140.0 114.9 138.0 114.4 136.9 114.0 136.0 113.6 134.0 112.5 133.3 112.0 132.0 110.8 131.2 110.0 130.0 108.0 130.0 107.9 129.4 106.0 129.4 104.0 130.0 102.0 130.0 102.0 131.1 100.0 132.0 99.0 133.1 98.0 134.0 97.3 136.0 96.1 136.2 96.0 138.0 95.2 140.0 94.5 142.0 94.1 142.4 94.0ZM238.9 124.0 240.0 123.7 242.0 123.4 244.0 123.2 246.0 123.2 248.0 123.4 250.0 123.7 251.4 124.0 252.0 124.2 254.0 125.2 255.2 126.0 255.5 128.0 254.0 128.8 252.0 129.4 250.0 129.7 248.0 129.7 246.0 129.6 244.0 129.4 242.0 129.0 240.0 128.6 238.0 128.0 237.9 128.0 236.0 126.1 235.9 126.0 236.0 126.0 238.0 124.5 238.9 124.0ZM127.8 136.0 128.0 135.9 130.0 135.8 132.0 136.0 132.0 136.0 134.0 136.9 135.4 138.0 136.0 139.3 136.2 140.0 136.0 140.9 135.6 142.0 134.0 143.3 132.4 144.0 132.0 144.1 130.0 144.3 128.0 144.1 127.6 144.0 126.0 143.3 124.3 142.0 124.0 141.2 123.6 140.0 124.0 138.8 124.3 138.0 126.0 136.7 127.8 136.0ZM364.8 138.0 366.0 137.7 368.0 137.5 370.0 137.6 371.3 138.0 372.0 138.2 374.0 139.1 375.0 140.0 376.0 141.0 376.7 142.0 377.7 144.0 378.0 145.1 378.2 146.0 378.3 148.0 378.0 149.8 378.0 150.0 377.1 152.0 376.0 153.4 375.3 154.0 374.0 155.0 372.0 156.0 371.8 156.0 370.0 156.7 368.0 157.0 366.0 157.2 364.0 157.2 362.0 157.1 360.0 157.1 358.0 158.0 358.0 158.0 357.6 160.0 357.3 162.0 356.8 164.0 356.0 165.6 355.8 166.0 354.2 168.0 354.0 168.1 352.0 169.6 351.5 170.0 350.0 170.8 348.0 171.7 347.1 172.0 346.0 172.4 344.0 173.0 342.0 173.4 340.0 173.8 338.4 174.0 338.0 174.1 336.0 174.3 334.0 174.4 332.0 174.4 330.0 174.2 328.2 174.0 328.0 174.0 326.0 173.6 324.0 173.1 322.0 172.3 321.4 172.0 320.0 171.3 318.0 170.0 318.0 170.0 316.0 168.5 315.3 168.0 314.0 166.7 313.2 166.0 312.0 164.7 311.2 164.0 310.0 162.8 308.9 162.0 308.0 161.2 306.0 160.6 304.0 160.7 302.0 161.2 300.0 161.8 299.5 162.0 298.0 162.5 296.0 163.0 294.0 163.4 292.0 163.6 290.0 163.7 288.0 163.6 286.0 163.3 284.0 162.8 282.0 162.2 281.5 162.0 280.0 161.3 278.0 160.1 277.8 160.0 276.0 158.4 275.7 158.0 274.3 156.0 274.0 155.1 273.6 154.0 273.4 152.0 273.7 150.0 274.0 149.1 274.4 148.0 275.8 146.0 276.0 145.8 277.9 144.0 278.0 143.9 280.0 142.7 281.5 142.0 282.0 141.8 284.0 141.1 286.0 140.7 288.0 140.5 290.0 140.4 292.0 140.4 294.0 140.7 296.0 141.1 298.0 141.7 298.7 142.0 300.0 142.5 302.0 143.6 302.8 144.0 304.0 144.8 305.9 146.0 306.0 146.1 308.0 147.1 310.0 147.6 312.0 147.5 314.0 147.0 316.0 146.4 317.2 146.0 318.0 145.8 320.0 145.2 322.0 144.7 324.0 144.4 326.0 144.1 328.0 144.0 330.0 144.0 332.0 144.1 334.0 144.3 336.0 144.6 338.0 145.1 340.0 145.6 341.2 146.0 342.0 146.2 344.0 146.9 346.0 147.7 346.8 148.0 348.0 148.5 350.0 149.1 352.0 149.2 353.0 148.0 354.0 146.6 354.2 146.0 355.4 144.0 356.0 143.3 357.1 142.0 358.0 141.3 359.8 140.0 360.0 139.9 362.0 138.9 364.0 138.2 364.8 138.0ZM197.4 144.0 198.0 143.5 200.0 142.6 202.0 142.4 204.0 142.8 206.0 143.9 206.1 144.0 208.0 145.7 208.2 146.0 209.4 148.0 210.0 149.7 210.1 150.0 210.4 152.0 210.2 154.0 210.0 154.8 209.6 156.0 208.6 158.0 208.0 158.8 206.9 160.0 206.0 161.0 204.9 162.0 204.0 162.8 202.5 164.0 202.0 164.4 200.0 165.8 199.6 166.0 198.0 166.9 196.0 167.9 195.6 168.0 194.0 168.6 192.0 169.1 190.0 169.4 188.0 169.6 186.0 169.6 184.0 169.5 182.0 169.2 180.0 168.7 178.0 168.0 177.9 168.0 176.0 166.8 175.1 166.0 174.4 164.0 175.7 162.0 176.0 161.8 178.0 160.5 178.9 160.0 180.0 159.5 182.0 158.6 183.0 158.0 184.0 157.5 186.0 156.0 186.0 156.0 188.0 154.0 188.0 154.0 189.5 152.0 190.0 151.4 191.0 150.0 192.0 148.9 192.8 148.0 194.0 146.7 194.8 146.0 196.0 144.9 197.4 144.0ZM140.9 164.0 142.0 163.3 144.0 162.7 146.0 162.6 148.0 163.2 149.4 164.0 149.4 166.0 148.0 166.8 146.0 167.4 144.0 167.3 142.0 166.7 140.9 166.0 140.9 164.0ZM424.7 172.0 426.0 171.3 428.0 170.6 430.0 170.3 432.0 170.2 434.0 170.3 436.0 170.6 438.0 171.2 439.7 172.0 440.0 172.1 442.0 173.4 442.7 174.0 444.0 175.4 444.5 176.0 445.6 178.0 446.0 179.2 446.3 180.0 446.6 182.0 446.4 184.0 446.0 185.3 445.8 186.0 444.9 188.0 444.0 189.5 443.6 190.0 442.2 192.0 442.0 192.4 440.9 194.0 440.9 196.0 442.0 197.4 442.4 198.0 444.0 199.9 444.0 200.0 445.4 202.0 446.0 203.2 446.4 204.0 447.2 206.0 447.7 208.0 448.0 210.0 448.0 210.7 448.1 212.0 448.0 214.0 448.0 214.3 447.8 216.0 447.4 218.0 446.8 220.0 446.0 221.7 445.9 222.0 444.6 224.0 444.0 224.7 442.7 226.0 442.0 226.6 440.0 227.9 439.7 228.0 438.0 228.7 436.0 229.2 434.0 229.4 432.0 229.6 430.0 229.8 428.0 230.0 428.0 230.0 426.0 230.3 424.0 230.7 422.0 230.9 420.0 231.1 418.0 231.3 416.0 231.5 414.0 231.9 413.2 232.0 412.0 232.4 410.0 233.0 408.0 233.5 406.0 234.0 405.7 234.0 404.0 234.4 402.0 234.7 400.0 234.7 398.0 234.7 396.0 234.5 394.0 234.2 392.7 234.0 392.0 233.9 390.0 233.7 388.0 233.4 386.0 233.1 384.0 232.6 382.0 232.0 381.9 232.0 380.0 231.5 378.0 231.0 376.0 230.8 374.0 231.1 372.0 231.9 371.8 232.0 370.0 232.9 368.0 233.6 366.7 234.0 366.0 234.2 364.0 234.6 362.0 234.7 360.0 234.5 358.0 234.1 357.8 234.0 356.0 233.4 354.0 232.3 353.6 232.0 352.0 230.6 351.4 230.0 350.2 228.0 350.0 227.3 349.6 226.0 349.5 224.0 350.0 222.5 350.1 222.0 351.3 220.0 352.0 219.3 353.4 218.0 354.0 217.6 356.0 216.4 356.8 216.0 358.0 215.5 360.0 214.8 362.0 214.4 364.0 214.1 366.0 214.0 368.0 214.0 368.3 214.0 370.0 213.9 372.0 213.5 374.0 212.5 374.8 212.0 376.0 211.2 377.7 210.0 378.0 209.8 380.0 208.7 382.0 208.0 382.1 208.0 384.0 207.6 386.0 207.5 388.0 207.5 390.0 207.5 392.0 207.6 394.0 207.6 396.0 207.6 398.0 207.6 400.0 207.6 402.0 207.7 404.0 207.7 406.0 207.7 408.0 207.7 410.0 207.8 412.0 207.8 414.0 207.9 415.8 208.0 416.0 208.0 418.0 208.1 420.0 208.2 422.0 208.1 422.5 208.0 424.0 207.6 426.0 206.5 426.5 206.0 428.0 204.4 428.3 204.0 429.9 202.0 430.0 201.8 431.4 200.0 432.0 199.0 432.8 198.0 433.4 196.0 432.0 194.1 431.9 194.0 430.0 192.5 429.6 192.0 428.0 190.7 427.4 190.0 426.0 188.6 425.6 188.0 424.0 186.0 424.0 186.0 422.7 184.0 422.0 182.5 421.7 182.0 421.0 180.0 420.7 178.0 421.0 176.0 422.0 174.2 422.2 174.0 424.0 172.4 424.7 172.0ZM77.2 184.0 78.0 183.8 80.0 183.4 82.0 183.2 84.0 183.2 86.0 183.3 88.0 183.7 89.4 184.0 90.0 184.1 92.0 184.8 94.0 185.6 95.0 186.0 96.0 186.7 97.6 188.0 98.0 189.4 98.2 190.0 98.0 190.4 97.3 192.0 96.0 193.3 95.2 194.0 94.0 194.8 92.0 195.9 91.8 196.0 90.0 196.8 88.0 197.4 86.0 197.9 85.7 198.0 84.0 198.3 82.0 198.6 80.0 198.8 78.0 198.9 76.0 199.0 74.0 198.9 72.0 198.6 70.0 198.3 69.1 198.0 68.0 197.6 66.0 196.4 65.5 196.0 64.4 194.0 64.7 192.0 65.9 190.0 66.0 189.9 68.0 188.1 68.1 188.0 70.0 186.8 71.6 186.0 72.0 185.8 74.0 185.0 76.0 184.3 77.2 184.0ZM167.0 210.0 168.0 209.7 170.0 209.4 172.0 209.3 174.0 209.4 176.0 209.6 177.9 210.0 178.0 210.0 180.0 210.6 182.0 211.4 183.3 212.0 184.0 212.5 186.0 214.0 186.0 214.1 187.1 216.0 186.8 218.0 186.0 218.9 184.9 220.0 184.0 220.5 182.0 221.2 180.0 221.7 178.0 221.9 176.0 222.0 174.0 221.8 172.0 221.5 170.0 220.9 168.0 220.1 167.9 220.0 166.0 218.8 165.0 218.0 164.0 216.7 163.5 216.0 163.0 214.0 163.8 212.0 164.0 211.8 166.0 210.4 167.0 210.0ZM125.8 216.0 126.0 215.5 126.5 216.0 126.0 216.1 125.8 216.0Z"/>
<path fill="#d9d9ff" fill-rule="evenodd" d="M141.2 96.0 142.0 95.8 144.0 95.4 146.0 95.2 148.0 95.2 150.0 95.4 152.0 95.8 152.8 96.0 154.0 96.3 156.0 97.1 157.9 98.0 158.0 98.0 160.0 99.2 161.4 100.0 162.0 100.5 164.0 101.5 166.0 101.9 168.0 101.8 170.0 101.2 172.0 100.6 174.0 100.0 174.1 100.0 176.0 99.6 178.0 99.2 180.0 99.0 182.0 98.8 184.0 98.7 186.0 98.7 188.0 98.9 190.0 99.1 192.0 99.4 193.9 100.0 194.0 100.0 196.0 100.9 197.5 102.0 198.0 102.5 199.0 104.0 199.5 106.0 199.8 108.0 200.0 109.7 200.0 110.0 200.4 112.0 200.9 114.0 201.5 116.0 202.0 117.4 202.2 118.0 202.9 120.0 203.5 122.0 203.8 124.0 203.7 126.0 203.0 128.0 202.0 129.6 201.6 130.0 200.0 131.3 198.0 131.9 196.0 131.7 194.0 130.9 192.6 130.0 192.0 129.6 190.1 128.0 190.0 127.9 188.1 126.0 188.0 125.9 186.3 124.0 186.0 123.6 184.8 122.0 184.0 120.8 183.4 120.0 182.3 118.0 182.0 117.1 181.5 116.0 180.8 114.0 180.0 112.2 179.9 112.0 178.0 110.2 177.7 110.0 176.0 109.1 174.0 108.2 173.4 108.0 172.0 107.4 170.0 106.6 168.0 106.0 167.9 106.0 166.0 105.4 164.0 106.0 164.0 106.0 162.0 106.6 160.0 107.6 159.3 108.0 158.0 108.5 156.0 109.5 155.1 110.0 154.0 110.5 152.0 111.5 150.9 112.0 150.0 112.4 148.0 113.1 146.0 113.5 144.0 113.7 142.0 113.6 140.0 113.2 138.0 112.5 136.9 112.0 136.0 111.4 134.2 110.0 134.0 109.8 132.7 108.0 132.0 106.0 132.0 104.0 132.6 102.0 134.0 100.1 134.0 100.0 136.0 98.3 136.5 98.0 138.0 97.2 140.0 96.4 141.2 96.0ZM241.7 126.0 242.0 125.9 244.0 125.4 246.0 125.3 248.0 125.5 250.0 126.0 250.1 126.0 250.0 126.2 248.4 128.0 248.0 128.0 246.0 128.1 245.3 128.0 244.0 127.5 242.0 126.3 241.7 126.0ZM361.4 140.0 362.0 139.7 364.0 138.9 366.0 138.5 368.0 138.4 370.0 138.5 372.0 139.1 373.5 140.0 374.0 140.3 375.7 142.0 376.0 142.5 376.8 144.0 377.4 146.0 377.5 148.0 377.0 150.0 376.0 151.9 375.9 152.0 374.0 153.8 373.7 154.0 372.0 155.0 370.0 155.6 368.0 156.0 367.1 156.0 366.0 156.1 364.9 156.0 364.0 156.0 362.0 155.7 360.0 155.2 358.0 154.5 356.6 154.0 356.0 153.4 355.1 154.0 355.4 156.0 355.6 158.0 355.8 160.0 355.8 162.0 355.4 164.0 354.5 166.0 354.0 166.6 352.8 168.0 352.0 168.6 350.1 170.0 350.0 170.0 348.0 171.0 346.0 171.8 345.4 172.0 344.0 172.4 342.0 172.9 340.0 173.3 338.0 173.6 336.0 173.7 334.0 173.8 332.0 173.8 330.0 173.6 328.0 173.3 326.0 172.8 324.0 172.1 323.9 172.0 322.0 171.2 320.0 170.0 320.0 170.0 318.0 168.5 317.3 168.0 316.0 166.7 315.3 166.0 314.0 164.4 313.6 164.0 312.2 162.0 312.0 161.7 310.8 160.0 310.0 158.3 309.7 158.0 308.6 156.0 308.4 154.0 310.0 152.5 310.3 152.0 312.0 150.9 313.2 150.0 314.0 149.6 316.0 148.5 316.9 148.0 318.0 147.5 320.0 146.7 322.0 146.1 322.6 146.0 324.0 145.7 326.0 145.3 328.0 145.1 330.0 145.0 332.0 145.1 334.0 145.3 336.0 145.7 337.5 146.0 338.0 146.1 340.0 146.6 342.0 147.3 343.8 148.0 344.0 148.1 346.0 148.9 348.0 149.9 348.1 150.0 350.0 151.0 351.9 152.0 352.0 152.1 354.0 153.2 354.9 152.0 354.8 150.0 355.0 148.0 355.6 146.0 356.0 145.4 356.6 144.0 358.0 142.5 358.4 142.0 360.0 140.8 361.4 140.0ZM284.4 144.0 286.0 143.5 288.0 143.2 290.0 143.1 292.0 143.2 294.0 143.5 295.7 144.0 296.0 144.1 298.0 145.0 299.8 146.0 300.0 146.1 302.0 147.8 302.3 148.0 304.0 150.0 304.0 150.0 305.3 152.0 305.6 154.0 304.0 155.5 303.6 156.0 302.0 157.0 300.6 158.0 300.0 158.3 298.0 159.3 296.1 160.0 296.0 160.0 294.0 160.5 292.0 160.8 290.0 160.9 288.0 160.8 286.0 160.4 284.4 160.0 284.0 159.9 282.0 158.9 280.6 158.0 280.0 157.5 278.6 156.0 278.0 154.8 277.6 154.0 277.3 152.0 277.6 150.0 278.0 149.2 278.7 148.0 280.0 146.5 280.6 146.0 282.0 145.1 284.0 144.1 284.4 144.0ZM196.4 146.0 198.0 145.0 200.0 144.3 202.0 144.2 204.0 144.7 206.0 146.0 206.0 146.0 207.7 148.0 208.0 148.7 208.5 150.0 208.8 152.0 208.5 154.0 208.0 155.2 207.6 156.0 206.2 158.0 206.0 158.2 204.1 160.0 204.0 160.1 202.0 161.7 201.5 162.0 200.0 163.1 198.7 164.0 198.0 164.4 196.0 165.6 195.2 166.0 194.0 166.5 192.0 167.1 190.0 167.6 188.0 167.8 186.0 167.8 184.0 167.5 182.0 167.0 180.0 166.1 179.8 166.0 178.7 164.0 179.8 162.0 180.0 161.9 182.0 160.6 182.9 160.0 184.0 159.4 186.0 158.1 186.1 158.0 188.0 156.3 188.2 156.0 189.6 154.0 190.0 153.5 190.9 152.0 192.0 150.4 192.3 150.0 194.0 148.0 194.0 148.0 196.0 146.3 196.4 146.0ZM427.4 172.0 428.0 171.7 430.0 171.3 432.0 171.1 434.0 171.3 436.0 171.7 436.9 172.0 438.0 172.4 440.0 173.4 440.9 174.0 442.0 175.0 443.0 176.0 444.0 177.6 444.3 178.0 445.0 180.0 445.3 182.0 445.1 184.0 444.5 186.0 444.0 186.9 443.4 188.0 442.0 189.9 441.9 190.0 440.0 191.9 439.8 192.0 438.0 193.5 436.0 193.9 434.0 193.6 432.0 192.7 431.1 192.0 430.0 191.5 428.2 190.0 428.0 189.9 426.1 188.0 426.0 187.9 424.5 186.0 424.0 185.2 423.2 184.0 422.3 182.0 422.0 181.0 421.7 180.0 421.6 178.0 422.0 176.4 422.1 176.0 423.7 174.0 424.0 173.7 426.0 172.5 427.4 172.0ZM75.2 186.0 76.0 185.7 78.0 185.1 80.0 184.7 82.0 184.4 84.0 184.4 86.0 184.5 88.0 184.8 90.0 185.4 91.8 186.0 92.0 186.1 94.0 187.4 94.9 188.0 95.6 190.0 94.8 192.0 94.0 192.7 92.5 194.0 92.0 194.3 90.0 195.3 88.4 196.0 88.0 196.2 86.0 196.8 84.0 197.2 82.0 197.5 80.0 197.7 78.0 197.8 76.0 197.8 74.0 197.6 72.0 197.2 70.0 196.5 69.1 196.0 68.0 194.9 67.4 194.0 67.4 192.0 68.0 191.0 68.6 190.0 70.0 188.8 71.1 188.0 72.0 187.4 74.0 186.5 75.2 186.0ZM433.4 200.0 434.0 199.3 436.0 198.1 438.0 198.0 440.0 198.8 441.5 200.0 442.0 200.4 443.4 202.0 444.0 202.8 444.7 204.0 445.6 206.0 446.0 207.3 446.2 208.0 446.6 210.0 446.8 212.0 446.7 214.0 446.4 216.0 446.0 217.7 445.9 218.0 445.2 220.0 444.1 222.0 444.0 222.2 442.5 224.0 442.0 224.5 440.0 226.0 440.0 226.0 438.0 227.0 436.0 227.5 434.0 227.8 432.5 228.0 432.0 228.1 430.0 228.4 428.0 228.8 426.0 229.3 424.0 229.7 422.5 230.0 422.0 230.1 420.0 230.5 418.0 230.8 416.0 231.1 414.0 231.4 412.0 231.8 411.2 232.0 410.0 232.4 408.0 233.0 406.0 233.4 404.0 233.7 402.0 233.8 400.0 233.8 398.0 233.8 396.0 233.6 394.0 233.4 392.0 233.2 390.0 232.8 388.0 232.5 386.0 232.0 386.0 232.0 384.0 231.6 382.0 231.1 380.0 230.4 378.9 230.0 378.0 229.7 376.0 229.4 374.0 229.6 373.1 230.0 372.0 230.4 370.0 231.5 368.8 232.0 368.0 232.4 366.0 233.0 364.0 233.4 362.0 233.5 360.0 233.3 358.0 232.9 356.0 232.0 356.0 232.0 354.0 230.7 353.2 230.0 352.0 228.4 351.7 228.0 351.0 226.0 350.9 224.0 351.4 222.0 352.0 221.0 352.7 220.0 354.0 218.7 354.9 218.0 356.0 217.3 358.0 216.3 359.0 216.0 360.0 215.6 362.0 215.2 364.0 215.0 366.0 215.0 368.0 215.1 370.0 215.1 372.0 214.8 373.8 214.0 374.0 213.9 376.0 212.4 376.5 212.0 378.0 210.9 379.4 210.0 380.0 209.7 382.0 208.8 384.0 208.3 386.0 208.1 388.0 208.0 390.0 208.0 392.0 208.0 394.0 208.0 396.0 208.0 396.3 208.0 398.0 208.0 400.0 208.0 402.0 208.0 404.0 208.0 404.2 208.0 406.0 208.0 408.0 208.1 410.0 208.1 412.0 208.2 414.0 208.3 416.0 208.5 418.0 208.7 420.0 208.8 422.0 208.9 424.0 208.7 425.8 208.0 426.0 207.9 428.0 206.1 428.1 206.0 429.7 204.0 430.0 203.6 431.4 202.0 432.0 201.3 433.4 200.0ZM167.2 212.0 168.0 211.6 170.0 211.0 172.0 210.7 174.0 210.8 176.0 211.0 178.0 211.5 179.5 212.0 180.0 212.2 182.0 213.4 182.9 214.0 184.0 215.8 184.1 216.0 184.0 216.6 183.6 218.0 182.0 219.2 180.1 220.0 180.0 220.0 178.0 220.4 176.0 220.4 174.0 220.3 172.7 220.0 172.0 219.8 170.0 219.1 168.1 218.0 168.0 217.9 166.3 216.0 166.0 214.9 165.8 214.0 166.0 213.7 167.2 212.0Z"/>
<path fill="#d0d0ff" fill-rule="evenodd" d="M140.3 98.0 142.0 97.4 144.0 97.0 146.0 96.8 148.0 96.8 150.0 97.0 152.0 97.4 153.9 98.0 154.0 98.0 156.0 99.0 157.7 100.0 158.0 100.3 160.0 102.0 160.0 102.0 160.9 104.0 160.0 105.3 159.6 106.0 158.0 107.0 156.8 108.0 156.0 108.4 154.0 109.4 153.0 110.0 152.0 110.4 150.0 111.3 148.0 111.9 147.5 112.0 146.0 112.3 144.0 112.3 142.0 112.1 141.6 112.0 140.0 111.5 138.0 110.6 137.1 110.0 136.0 108.9 135.2 108.0 134.4 106.0 134.4 104.0 135.1 102.0 136.0 100.9 136.9 100.0 138.0 99.2 140.0 98.1 140.3 98.0ZM179.4 100.0 180.0 99.9 182.0 99.7 184.0 99.6 186.0 99.6 188.0 99.8 189.7 100.0 190.0 100.0 192.0 100.5 194.0 101.2 195.6 102.0 196.0 102.3 197.6 104.0 198.0 104.8 198.5 106.0 198.9 108.0 199.3 110.0 199.7 112.0 200.0 112.8 200.3 114.0 200.9 116.0 201.6 118.0 202.0 119.4 202.2 120.0 202.7 122.0 202.8 124.0 202.5 126.0 202.0 127.2 201.5 128.0 200.0 129.6 199.2 130.0 198.0 130.5 196.0 130.6 194.3 130.0 194.0 129.9 192.0 128.7 191.1 128.0 190.0 127.1 188.9 126.0 188.0 125.0 187.1 124.0 186.0 122.6 185.5 122.0 184.2 120.0 184.0 119.5 183.2 118.0 182.5 116.0 182.0 114.0 182.0 114.0 181.3 112.0 180.0 110.4 179.6 110.0 178.0 109.0 176.2 108.0 176.0 107.9 174.0 106.8 172.4 106.0 172.0 105.5 170.7 104.0 172.0 102.6 172.5 102.0 174.0 101.4 176.0 100.7 178.0 100.2 179.4 100.0ZM363.1 140.0 364.0 139.7 366.0 139.2 368.0 139.1 370.0 139.4 371.8 140.0 372.0 140.1 374.0 141.4 374.6 142.0 376.0 144.0 376.0 144.1 376.6 146.0 376.6 148.0 376.1 150.0 376.0 150.2 374.8 152.0 374.0 152.7 372.0 154.0 372.0 154.0 370.0 154.8 368.0 155.2 366.0 155.3 364.0 155.1 362.0 154.6 360.6 154.0 360.0 153.7 358.0 152.2 357.7 152.0 356.6 150.0 356.4 148.0 356.8 146.0 357.8 144.0 358.0 143.7 359.6 142.0 360.0 141.7 362.0 140.5 363.1 140.0ZM199.4 146.0 200.0 145.8 202.0 145.8 202.5 146.0 204.0 146.6 205.7 148.0 206.0 148.4 206.8 150.0 207.1 152.0 206.7 154.0 206.0 155.3 205.5 156.0 204.0 157.6 203.6 158.0 202.0 159.2 200.7 160.0 200.0 160.5 198.0 161.7 197.5 162.0 196.0 162.9 194.0 164.0 194.0 164.0 192.0 164.7 190.0 165.3 188.0 165.5 186.0 165.3 184.0 164.3 183.6 164.0 184.0 163.0 184.4 162.0 186.0 160.9 187.0 160.0 188.0 159.3 189.2 158.0 190.0 156.8 190.4 156.0 191.3 154.0 192.0 152.7 192.3 152.0 193.7 150.0 194.0 149.6 195.6 148.0 196.0 147.7 198.0 146.5 199.4 146.0ZM283.7 148.0 284.0 147.8 286.0 146.8 288.0 146.2 290.0 146.0 292.0 146.2 294.0 146.7 296.0 147.6 296.6 148.0 298.0 149.4 298.5 150.0 299.1 152.0 298.7 154.0 298.0 154.8 296.8 156.0 296.0 156.5 294.0 157.3 292.0 157.8 290.0 158.0 288.0 157.8 286.0 157.2 284.0 156.2 283.7 156.0 282.0 154.1 282.0 154.0 281.5 152.0 282.0 150.0 282.0 149.9 283.7 148.0ZM320.3 148.0 322.0 147.3 324.0 146.7 326.0 146.3 328.0 146.1 330.0 146.0 332.0 146.1 334.0 146.2 336.0 146.5 338.0 146.9 340.0 147.5 341.4 148.0 342.0 148.2 344.0 149.0 345.9 150.0 346.0 150.1 348.0 151.2 349.3 152.0 350.0 152.6 351.7 154.0 352.0 154.4 353.2 156.0 354.0 158.0 354.0 158.1 354.5 160.0 354.6 162.0 354.2 164.0 354.0 164.4 353.3 166.0 352.0 167.5 351.6 168.0 350.0 169.2 348.8 170.0 348.0 170.4 346.0 171.3 344.0 171.9 343.7 172.0 342.0 172.5 340.0 172.8 338.0 173.1 336.0 173.3 334.0 173.3 332.0 173.2 330.0 173.0 328.0 172.6 326.1 172.0 326.0 172.0 324.0 171.2 322.0 170.2 321.8 170.0 320.0 168.8 318.9 168.0 318.0 167.1 316.9 166.0 316.0 164.9 315.2 164.0 314.0 162.0 314.0 161.9 313.0 160.0 312.4 158.0 312.3 156.0 312.8 154.0 314.0 152.4 314.2 152.0 316.0 150.4 316.6 150.0 318.0 149.1 320.0 148.1 320.3 148.0ZM425.3 174.0 426.0 173.5 428.0 172.7 430.0 172.2 432.0 172.1 434.0 172.2 436.0 172.6 438.0 173.4 439.1 174.0 440.0 174.5 441.7 176.0 442.0 176.4 443.1 178.0 443.9 180.0 444.0 180.8 444.2 182.0 444.0 183.6 444.0 184.0 443.3 186.0 442.1 188.0 442.0 188.1 440.2 190.0 440.0 190.2 438.0 191.6 436.5 192.0 436.0 192.2 434.0 192.2 433.6 192.0 432.0 191.6 430.0 190.7 429.2 190.0 428.0 189.2 426.8 188.0 426.0 187.2 425.1 186.0 424.0 184.4 423.7 184.0 422.8 182.0 422.3 180.0 422.4 178.0 423.2 176.0 424.0 175.0 425.3 174.0ZM79.5 186.0 80.0 185.9 82.0 185.6 84.0 185.5 86.0 185.6 88.0 186.0 88.0 186.0 90.0 186.7 92.0 187.8 92.2 188.0 93.2 190.0 92.4 192.0 92.0 192.3 90.0 193.9 89.8 194.0 88.0 194.8 86.0 195.5 84.4 196.0 84.0 196.1 82.0 196.4 80.0 196.6 78.0 196.7 76.0 196.5 74.0 196.2 73.3 196.0 72.0 195.4 70.2 194.0 70.0 192.6 69.9 192.0 70.0 191.9 71.2 190.0 72.0 189.3 73.9 188.0 74.0 187.9 76.0 187.1 78.0 186.4 79.5 186.0ZM433.3 202.0 434.0 201.3 436.0 200.4 438.0 200.3 440.0 201.0 441.3 202.0 442.0 202.6 443.1 204.0 444.0 205.6 444.2 206.0 444.9 208.0 445.3 210.0 445.5 212.0 445.5 214.0 445.2 216.0 444.6 218.0 444.0 219.5 443.8 220.0 442.5 222.0 442.0 222.6 440.4 224.0 440.0 224.3 438.0 225.4 436.1 226.0 436.0 226.0 434.0 226.5 432.0 226.8 430.0 227.2 428.0 227.7 427.0 228.0 426.0 228.3 424.0 228.9 422.0 229.4 420.0 229.9 419.2 230.0 418.0 230.2 416.0 230.6 414.0 231.0 412.0 231.5 410.0 231.9 409.3 232.0 408.0 232.4 406.0 232.8 404.0 233.1 402.0 233.3 400.0 233.3 398.0 233.2 396.0 233.0 394.0 232.7 392.0 232.4 390.0 232.0 390.0 232.0 388.0 231.7 386.0 231.3 384.0 230.8 382.0 230.1 381.7 230.0 380.0 229.4 378.0 228.6 376.0 228.1 374.0 228.2 372.0 229.1 370.4 230.0 370.0 230.2 368.0 231.2 366.0 231.9 365.6 232.0 364.0 232.4 362.0 232.5 360.0 232.3 358.9 232.0 358.0 231.8 356.0 230.8 354.9 230.0 354.0 229.1 353.1 228.0 352.2 226.0 352.1 224.0 352.6 222.0 353.9 220.0 354.0 219.9 356.0 218.2 356.4 218.0 358.0 217.2 360.0 216.5 362.0 216.1 362.7 216.0 364.0 215.9 366.0 216.0 366.5 216.0 368.0 216.1 370.0 216.3 372.0 216.1 372.3 216.0 374.0 215.2 375.5 214.0 376.0 213.6 377.9 212.0 378.0 211.9 380.0 210.5 381.0 210.0 382.0 209.5 384.0 208.9 386.0 208.7 388.0 208.5 390.0 208.5 392.0 208.4 394.0 208.4 396.0 208.3 398.0 208.3 400.0 208.3 402.0 208.3 404.0 208.3 406.0 208.3 408.0 208.4 410.0 208.5 412.0 208.6 414.0 208.7 416.0 209.0 418.0 209.2 420.0 209.5 422.0 209.7 424.0 209.7 426.0 209.2 427.7 208.0 428.0 207.7 429.5 206.0 430.0 205.4 431.2 204.0 432.0 203.1 433.3 202.0ZM169.1 214.0 170.0 213.2 172.0 212.4 174.0 212.3 176.0 212.7 178.0 213.3 179.4 214.0 180.0 214.7 180.9 216.0 180.0 217.6 179.6 218.0 178.0 218.5 176.0 218.7 174.0 218.5 172.0 218.0 172.0 218.0 170.0 216.6 169.3 216.0 169.1 214.0Z"/>
<path fill="#c8c8ff" fill-rule="evenodd" d="M139.9 100.0 140.0 100.0 142.0 99.1 144.0 98.5 146.0 98.3 148.0 98.3 150.0 98.5 152.0 99.0 154.0 99.8 154.3 100.0 156.0 101.3 156.8 102.0 157.7 104.0 156.9 106.0 156.0 106.7 154.4 108.0 154.0 108.2 152.0 109.2 150.3 110.0 150.0 110.1 148.0 110.7 146.0 111.0 144.0 110.9 142.0 110.5 140.5 110.0 140.0 109.7 138.0 108.2 137.8 108.0 136.7 106.0 136.7 104.0 137.6 102.0 138.0 101.6 139.9 100.0ZM175.8 102.0 176.0 101.9 178.0 101.3 180.0 100.9 182.0 100.6 184.0 100.5 186.0 100.5 188.0 100.6 190.0 101.0 192.0 101.5 193.4 102.0 194.0 102.3 196.0 103.8 196.1 104.0 197.3 106.0 198.0 108.0 198.0 108.1 198.5 110.0 199.0 112.0 199.7 114.0 200.0 114.9 200.3 116.0 201.0 118.0 201.5 120.0 201.9 122.0 201.8 124.0 201.3 126.0 200.0 128.0 200.0 128.0 198.0 129.2 196.0 129.5 194.0 129.0 192.3 128.0 192.0 127.8 190.0 126.2 189.8 126.0 188.0 124.1 187.9 124.0 186.3 122.0 186.0 121.5 185.0 120.0 184.1 118.0 184.0 117.7 183.5 116.0 183.1 114.0 182.6 112.0 182.0 111.0 181.3 110.0 180.0 109.0 178.5 108.0 178.0 107.7 176.0 106.5 175.1 106.0 174.0 104.3 173.8 104.0 174.0 103.8 175.8 102.0ZM365.7 140.0 366.0 139.9 368.0 139.8 369.0 140.0 370.0 140.2 372.0 140.9 373.5 142.0 374.0 142.5 375.1 144.0 375.8 146.0 375.8 148.0 375.2 150.0 374.0 151.6 373.6 152.0 372.0 153.1 370.0 153.9 369.7 154.0 368.0 154.4 366.0 154.5 364.0 154.2 363.4 154.0 362.0 153.6 360.0 152.5 359.4 152.0 358.0 150.0 358.0 150.0 357.5 148.0 357.8 146.0 358.0 145.6 358.8 144.0 360.0 142.7 360.8 142.0 362.0 141.2 364.0 140.4 365.7 140.0ZM198.0 148.0 198.0 148.0 200.0 147.4 202.0 147.6 202.9 148.0 204.0 148.9 204.8 150.0 205.2 152.0 204.6 154.0 204.0 154.9 203.0 156.0 202.0 156.8 200.0 158.0 200.0 158.0 198.0 158.8 196.0 159.3 194.0 159.2 193.1 158.0 193.0 156.0 193.3 154.0 194.0 152.0 194.0 152.0 195.4 150.0 196.0 149.4 198.0 148.0ZM323.2 148.0 324.0 147.7 326.0 147.2 328.0 146.9 330.0 146.8 332.0 146.8 334.0 147.0 336.0 147.3 338.0 147.7 338.9 148.0 340.0 148.3 342.0 149.0 344.0 150.0 344.1 150.0 346.0 151.0 347.5 152.0 348.0 152.3 350.0 154.0 350.0 154.0 351.7 156.0 352.0 156.6 352.8 158.0 353.3 160.0 353.5 162.0 353.2 164.0 352.2 166.0 352.0 166.3 350.5 168.0 350.0 168.4 348.0 169.7 347.5 170.0 346.0 170.7 344.0 171.4 342.0 172.0 341.8 172.0 340.0 172.4 338.0 172.6 336.0 172.8 334.0 172.8 332.0 172.7 330.0 172.4 328.5 172.0 328.0 171.9 326.0 171.3 324.0 170.4 323.3 170.0 322.0 169.2 320.3 168.0 320.0 167.7 318.2 166.0 318.0 165.7 316.6 164.0 316.0 163.0 315.4 162.0 314.6 160.0 314.2 158.0 314.3 156.0 314.9 154.0 316.0 152.5 316.4 152.0 318.0 150.6 318.9 150.0 320.0 149.3 322.0 148.4 323.2 148.0ZM289.8 152.0 290.0 151.9 290.3 152.0 290.0 152.1 289.8 152.0ZM427.0 174.0 428.0 173.5 430.0 173.0 432.0 172.8 434.0 173.0 436.0 173.4 437.3 174.0 438.0 174.3 440.0 175.6 440.4 176.0 442.0 177.9 442.0 178.0 443.0 180.0 443.3 182.0 443.0 184.0 442.2 186.0 442.0 186.4 440.9 188.0 440.0 188.9 438.4 190.0 438.0 190.3 436.0 191.1 434.0 191.2 432.0 190.8 430.3 190.0 430.0 189.9 428.0 188.5 427.5 188.0 426.0 186.5 425.6 186.0 424.3 184.0 424.0 183.4 423.4 182.0 422.9 180.0 423.2 178.0 424.0 176.4 424.3 176.0 426.0 174.5 427.0 174.0ZM77.1 188.0 78.0 187.7 80.0 187.1 82.0 186.8 84.0 186.8 86.0 187.0 88.0 187.5 89.2 188.0 90.0 188.8 90.7 190.0 90.0 191.7 89.9 192.0 88.0 193.3 86.7 194.0 86.0 194.3 84.0 194.8 82.0 195.2 80.0 195.4 78.0 195.4 76.0 195.0 74.0 194.3 73.4 194.0 72.5 192.0 73.7 190.0 74.0 189.8 76.0 188.6 77.1 188.0ZM432.9 204.0 434.0 203.1 436.0 202.1 438.0 202.1 440.0 202.9 441.3 204.0 442.0 204.8 442.8 206.0 443.6 208.0 444.0 209.4 444.1 210.0 444.4 212.0 444.3 214.0 444.0 215.9 444.0 216.0 443.4 218.0 442.4 220.0 442.0 220.6 440.8 222.0 440.0 222.7 438.0 223.9 437.9 224.0 436.0 224.7 434.0 225.1 432.0 225.5 430.0 226.0 430.0 226.0 428.0 226.6 426.0 227.4 424.4 228.0 424.0 228.1 422.0 228.8 420.0 229.3 418.0 229.8 416.8 230.0 416.0 230.2 414.0 230.6 412.0 231.1 410.0 231.5 408.0 231.9 407.2 232.0 406.0 232.3 404.0 232.6 402.0 232.7 400.0 232.7 398.0 232.6 396.0 232.3 394.0 232.0 393.9 232.0 392.0 231.7 390.0 231.4 388.0 231.1 386.0 230.6 384.0 230.0 384.0 230.0 382.0 229.4 380.0 228.5 378.9 228.0 378.0 227.6 376.0 226.8 374.0 226.8 372.0 227.7 371.6 228.0 370.0 229.0 368.3 230.0 368.0 230.1 366.0 231.0 364.0 231.4 362.0 231.6 360.0 231.3 358.0 230.7 356.6 230.0 356.0 229.6 354.4 228.0 354.0 227.3 353.4 226.0 353.2 224.0 353.7 222.0 354.0 221.5 355.1 220.0 356.0 219.3 358.0 218.0 358.0 218.0 360.0 217.2 362.0 216.8 364.0 216.7 366.0 216.8 368.0 217.1 370.0 217.5 372.0 217.5 374.0 216.6 374.6 216.0 376.0 214.8 376.7 214.0 378.0 212.9 379.0 212.0 380.0 211.3 382.0 210.2 382.7 210.0 384.0 209.6 386.0 209.2 388.0 209.0 390.0 208.9 392.0 208.9 394.0 208.8 396.0 208.7 398.0 208.6 400.0 208.6 402.0 208.6 404.0 208.6 406.0 208.6 408.0 208.7 410.0 208.8 412.0 208.9 414.0 209.1 416.0 209.4 418.0 209.8 419.2 210.0 420.0 210.1 422.0 210.5 424.0 210.6 426.0 210.4 426.8 210.0 428.0 209.3 429.3 208.0 430.0 207.2 431.0 206.0 432.0 204.8 432.9 204.0Z"/>
<path fill="#bfbfff" fill-rule="evenodd" d="M144.9 100.0 146.0 99.8 148.0 99.8 149.2 100.0 150.0 100.2 152.0 100.9 153.7 102.0 154.0 102.4 154.9 104.0 154.2 106.0 154.0 106.2 152.0 107.8 151.6 108.0 150.0 108.7 148.0 109.3 146.0 109.5 144.0 109.3 142.0 108.7 140.8 108.0 140.0 107.2 139.2 106.0 139.2 104.0 140.0 102.6 140.4 102.0 142.0 101.0 144.0 100.2 144.9 100.0ZM179.3 102.0 180.0 101.8 182.0 101.5 184.0 101.3 186.0 101.3 188.0 101.5 190.0 101.9 190.5 102.0 192.0 102.5 194.0 103.6 194.5 104.0 196.0 105.9 196.1 106.0 196.9 108.0 197.6 110.0 198.0 110.9 198.3 112.0 199.0 114.0 199.7 116.0 200.0 116.9 200.3 118.0 200.8 120.0 201.0 122.0 200.9 124.0 200.1 126.0 200.0 126.2 198.0 128.0 197.8 128.0 196.0 128.4 194.0 128.0 194.0 128.0 192.0 126.9 190.8 126.0 190.0 125.3 188.7 124.0 188.0 123.1 187.1 122.0 186.0 120.2 185.8 120.0 184.9 118.0 184.4 116.0 184.1 114.0 184.0 113.2 183.8 112.0 182.9 110.0 182.0 109.1 180.6 108.0 180.0 107.6 178.0 106.3 177.5 106.0 176.4 104.0 178.0 102.7 179.3 102.0ZM362.0 142.0 362.0 142.0 364.0 141.0 366.0 140.6 368.0 140.5 370.0 140.9 372.0 141.8 372.3 142.0 374.0 143.7 374.2 144.0 375.0 146.0 375.0 148.0 374.3 150.0 374.0 150.4 372.4 152.0 372.0 152.3 370.0 153.2 368.0 153.6 366.0 153.7 364.0 153.4 362.0 152.6 361.0 152.0 360.0 151.1 359.1 150.0 358.5 148.0 358.7 146.0 359.7 144.0 360.0 143.7 362.0 142.0ZM326.5 148.0 328.0 147.7 330.0 147.5 332.0 147.5 334.0 147.7 335.9 148.0 336.0 148.0 338.0 148.4 340.0 149.0 342.0 149.8 342.4 150.0 344.0 150.7 346.0 151.9 346.1 152.0 348.0 153.4 348.7 154.0 350.0 155.4 350.5 156.0 351.7 158.0 352.0 159.0 352.3 160.0 352.5 162.0 352.2 164.0 352.0 164.4 351.3 166.0 350.0 167.4 349.5 168.0 348.0 169.0 346.3 170.0 346.0 170.1 344.0 170.9 342.0 171.5 340.0 171.9 339.3 172.0 338.0 172.2 336.0 172.3 334.0 172.3 332.0 172.1 331.3 172.0 330.0 171.8 328.0 171.3 326.0 170.6 324.8 170.0 324.0 169.6 322.0 168.3 321.6 168.0 320.0 166.6 319.3 166.0 318.0 164.3 317.7 164.0 316.6 162.0 316.0 160.4 315.8 160.0 315.5 158.0 315.7 156.0 316.0 155.3 316.5 154.0 318.0 152.1 318.1 152.0 320.0 150.5 320.8 150.0 322.0 149.4 324.0 148.6 326.0 148.1 326.5 148.0ZM198.1 150.0 200.0 149.5 201.9 150.0 202.0 150.1 202.7 152.0 202.0 153.8 201.9 154.0 200.0 155.2 198.0 155.7 196.0 154.3 195.9 154.0 196.0 153.4 196.3 152.0 198.0 150.0 198.1 150.0ZM429.2 174.0 430.0 173.8 432.0 173.6 434.0 173.7 435.0 174.0 436.0 174.2 438.0 175.1 439.2 176.0 440.0 176.7 441.1 178.0 442.0 180.0 442.0 180.0 442.4 182.0 442.1 184.0 442.0 184.2 441.3 186.0 440.0 187.6 439.6 188.0 438.0 189.3 436.2 190.0 436.0 190.1 434.0 190.3 432.1 190.0 432.0 190.0 430.0 189.2 428.2 188.0 428.0 187.9 426.2 186.0 426.0 185.8 424.8 184.0 424.0 182.2 423.9 182.0 423.6 180.0 423.9 178.0 424.0 177.9 425.3 176.0 426.0 175.4 428.0 174.3 429.2 174.0ZM76.8 190.0 78.0 189.4 80.0 188.7 82.0 188.2 84.0 188.2 86.0 188.7 87.9 190.0 86.9 192.0 86.0 192.5 84.0 193.3 82.0 193.9 80.7 194.0 80.0 194.0 79.4 194.0 78.0 193.8 76.0 192.5 75.6 192.0 76.0 191.3 76.8 190.0ZM435.5 204.0 436.0 203.7 438.0 203.7 438.6 204.0 440.0 204.7 441.2 206.0 442.0 207.2 442.4 208.0 443.0 210.0 443.2 212.0 443.2 214.0 442.8 216.0 442.1 218.0 442.0 218.2 440.9 220.0 440.0 221.0 438.8 222.0 438.0 222.5 436.0 223.3 434.0 223.9 433.4 224.0 432.0 224.3 430.0 224.8 428.0 225.6 427.2 226.0 426.0 226.5 424.0 227.4 422.5 228.0 422.0 228.2 420.0 228.8 418.0 229.3 416.0 229.8 414.9 230.0 414.0 230.2 412.0 230.7 410.0 231.1 408.0 231.5 406.0 231.8 404.0 232.0 404.0 232.0 402.0 232.1 400.0 232.1 398.6 232.0 398.0 232.0 396.0 231.8 394.0 231.6 392.0 231.2 390.0 230.9 388.0 230.4 386.3 230.0 386.0 229.9 384.0 229.4 382.0 228.6 380.7 228.0 380.0 227.7 378.0 226.6 376.7 226.0 376.0 225.5 374.0 225.1 372.2 226.0 372.0 226.1 370.0 227.7 369.6 228.0 368.0 229.0 366.0 230.0 366.0 230.0 364.0 230.5 362.0 230.7 360.0 230.4 358.7 230.0 358.0 229.7 356.0 228.3 355.7 228.0 354.5 226.0 354.2 224.0 354.8 222.0 356.0 220.4 356.4 220.0 358.0 218.9 360.0 218.0 360.2 218.0 362.0 217.6 364.0 217.5 366.0 217.7 367.3 218.0 368.0 218.2 370.0 218.8 372.0 219.1 374.0 218.2 374.1 218.0 376.0 216.1 376.0 216.0 377.8 214.0 378.0 213.8 380.0 212.1 380.2 212.0 382.0 210.9 384.0 210.2 384.8 210.0 386.0 209.8 388.0 209.5 390.0 209.4 392.0 209.3 394.0 209.1 396.0 209.0 398.0 208.9 400.0 208.9 402.0 208.8 404.0 208.8 406.0 208.9 408.0 209.0 410.0 209.1 412.0 209.3 414.0 209.6 416.0 209.9 416.6 210.0 418.0 210.3 420.0 210.7 422.0 211.2 424.0 211.5 426.0 211.5 428.0 210.7 428.9 210.0 430.0 208.9 430.8 208.0 432.0 206.6 432.6 206.0 434.0 204.7 435.5 204.0Z"/>
<path fill="#b7b7ff" fill-rule="evenodd" d="M145.1 102.0 146.0 101.8 148.0 101.8 148.9 102.0 150.0 102.5 151.6 104.0 151.0 106.0 150.0 106.6 148.0 107.4 146.0 107.6 144.0 107.1 142.4 106.0 142.2 104.0 144.0 102.5 145.1 102.0ZM179.1 104.0 180.0 103.5 182.0 102.7 184.0 102.3 186.0 102.3 188.0 102.5 190.0 103.0 192.0 103.7 192.5 104.0 194.0 105.3 194.6 106.0 195.7 108.0 196.0 108.4 196.6 110.0 197.5 112.0 198.0 113.0 198.4 114.0 199.0 116.0 199.7 118.0 200.0 119.5 200.1 120.0 200.2 122.0 200.0 123.5 199.9 124.0 198.6 126.0 198.0 126.6 196.0 127.3 194.0 127.0 192.0 126.0 192.0 126.0 190.0 124.4 189.6 124.0 188.0 122.1 187.9 122.0 186.7 120.0 186.0 118.5 185.8 118.0 185.3 116.0 185.1 114.0 185.0 112.0 184.5 110.0 184.0 109.4 182.7 108.0 182.0 107.4 180.0 106.0 180.0 106.0 179.1 104.0ZM363.4 142.0 364.0 141.7 366.0 141.2 368.0 141.2 370.0 141.6 370.8 142.0 372.0 142.7 373.3 144.0 374.0 145.5 374.2 146.0 374.2 148.0 374.0 148.6 373.3 150.0 372.0 151.3 371.0 152.0 370.0 152.5 368.0 153.0 366.0 153.0 364.0 152.6 362.5 152.0 362.0 151.7 360.2 150.0 360.0 149.5 359.4 148.0 359.6 146.0 360.0 145.2 360.7 144.0 362.0 142.8 363.4 142.0ZM322.7 150.0 324.0 149.4 326.0 148.8 328.0 148.4 330.0 148.2 332.0 148.2 334.0 148.3 336.0 148.6 338.0 149.1 340.0 149.7 340.7 150.0 342.0 150.5 344.0 151.5 344.8 152.0 346.0 152.8 347.6 154.0 348.0 154.4 349.5 156.0 350.0 156.8 350.7 158.0 351.4 160.0 351.6 162.0 351.3 164.0 350.4 166.0 350.0 166.4 348.5 168.0 348.0 168.3 346.0 169.6 345.1 170.0 344.0 170.4 342.0 171.0 340.0 171.5 338.0 171.7 336.0 171.8 334.0 171.8 332.0 171.6 330.0 171.3 328.0 170.7 326.2 170.0 326.0 169.9 324.0 168.9 322.7 168.0 322.0 167.4 320.4 166.0 320.0 165.5 318.7 164.0 318.0 162.7 317.6 162.0 316.9 160.0 316.6 158.0 316.9 156.0 317.9 154.0 318.0 153.8 319.6 152.0 320.0 151.7 322.0 150.4 322.7 150.0ZM426.5 176.0 428.0 175.1 430.0 174.5 432.0 174.3 434.0 174.4 436.0 175.0 438.0 176.0 438.0 176.0 440.0 177.9 440.1 178.0 441.2 180.0 441.5 182.0 441.3 184.0 440.3 186.0 440.0 186.4 438.4 188.0 438.0 188.3 436.0 189.3 434.0 189.6 432.0 189.3 430.0 188.6 429.2 188.0 428.0 187.2 426.8 186.0 426.0 185.0 425.3 184.0 424.5 182.0 424.2 180.0 424.8 178.0 426.0 176.4 426.5 176.0ZM434.7 206.0 436.0 205.4 438.0 205.4 439.0 206.0 440.0 206.7 440.9 208.0 441.7 210.0 442.0 211.4 442.1 212.0 442.1 214.0 442.0 214.3 441.6 216.0 440.8 218.0 440.0 219.1 439.2 220.0 438.0 221.0 436.0 222.0 436.0 222.0 434.0 222.5 432.0 223.0 430.0 223.6 429.3 224.0 428.0 224.5 426.0 225.6 425.4 226.0 424.0 226.7 422.0 227.6 420.9 228.0 420.0 228.3 418.0 228.9 416.0 229.4 414.0 229.8 413.2 230.0 412.0 230.3 410.0 230.8 408.0 231.2 406.0 231.5 404.0 231.6 402.0 231.7 400.0 231.7 398.0 231.6 396.0 231.4 394.0 231.1 392.0 230.7 390.0 230.3 388.7 230.0 388.0 229.9 386.0 229.4 384.0 228.8 382.2 228.0 382.0 227.9 380.0 226.9 378.6 226.0 378.0 225.5 376.0 224.1 375.8 224.0 374.0 222.1 372.0 222.7 371.8 224.0 370.2 226.0 370.0 226.2 368.0 227.9 367.9 228.0 366.0 229.0 364.0 229.6 362.0 229.8 360.0 229.5 358.0 228.6 357.1 228.0 356.0 226.6 355.6 226.0 355.3 224.0 355.9 222.0 356.0 221.8 357.7 220.0 358.0 219.8 360.0 218.9 362.0 218.4 364.0 218.4 366.0 218.7 368.0 219.3 369.7 220.0 370.0 220.3 372.0 221.8 374.0 221.8 374.4 220.0 375.6 218.0 376.0 217.6 377.0 216.0 378.0 214.8 378.7 214.0 380.0 212.9 381.2 212.0 382.0 211.5 384.0 210.7 386.0 210.3 388.0 210.0 388.2 210.0 390.0 209.8 392.0 209.7 394.0 209.5 396.0 209.3 398.0 209.2 400.0 209.2 402.0 209.1 404.0 209.1 406.0 209.2 408.0 209.3 410.0 209.4 412.0 209.7 414.0 210.0 414.2 210.0 416.0 210.3 418.0 210.8 420.0 211.3 422.0 211.9 422.7 212.0 424.0 212.3 426.0 212.5 428.0 212.1 428.2 212.0 430.0 210.7 430.6 210.0 432.0 208.4 432.4 208.0 434.0 206.4 434.7 206.0Z"/>
<path fill="#aeaeff" fill-rule="evenodd" d="M182.7 104.0 184.0 103.7 186.0 103.5 188.0 103.7 189.5 104.0 190.0 104.2 192.0 105.4 192.7 106.0 194.0 107.6 194.3 108.0 195.5 110.0 196.0 110.7 196.6 112.0 197.6 114.0 198.0 114.9 198.4 116.0 198.9 118.0 199.3 120.0 199.3 122.0 198.7 124.0 198.0 125.0 196.4 126.0 196.0 126.2 194.0 126.0 193.9 126.0 192.0 125.0 190.7 124.0 190.0 123.4 188.8 122.0 188.0 120.8 187.5 120.0 186.7 118.0 186.2 116.0 186.2 114.0 186.3 112.0 186.1 110.0 186.0 109.8 184.9 108.0 184.0 107.1 182.7 106.0 182.7 104.0ZM365.5 142.0 366.0 141.9 368.0 141.8 368.7 142.0 370.0 142.4 372.0 143.6 372.4 144.0 373.4 146.0 373.4 148.0 372.4 150.0 372.0 150.4 370.0 151.7 369.1 152.0 368.0 152.3 366.0 152.3 364.5 152.0 364.0 151.9 362.0 150.7 361.3 150.0 360.3 148.0 360.5 146.0 361.7 144.0 362.0 143.7 364.0 142.5 365.5 142.0ZM324.7 150.0 326.0 149.5 328.0 149.1 330.0 148.9 332.0 148.8 334.0 148.9 336.0 149.2 338.0 149.7 338.9 150.0 340.0 150.3 342.0 151.2 343.6 152.0 344.0 152.2 346.0 153.6 346.5 154.0 348.0 155.4 348.5 156.0 349.8 158.0 350.0 158.5 350.6 160.0 350.9 162.0 350.5 164.0 350.0 165.0 349.5 166.0 348.0 167.6 347.5 168.0 346.0 169.0 344.0 169.9 343.8 170.0 342.0 170.6 340.0 171.0 338.0 171.3 336.0 171.4 334.0 171.4 332.0 171.2 330.0 170.8 328.0 170.1 327.7 170.0 326.0 169.3 324.0 168.1 323.8 168.0 322.0 166.6 321.4 166.0 320.0 164.4 319.7 164.0 318.5 162.0 318.0 160.3 317.9 160.0 317.7 158.0 318.0 156.2 318.0 156.0 319.0 154.0 320.0 152.9 321.0 152.0 322.0 151.3 324.0 150.3 324.7 150.0ZM427.8 176.0 428.0 175.9 430.0 175.1 432.0 174.9 434.0 175.1 436.0 175.7 436.6 176.0 438.0 176.9 439.2 178.0 440.0 179.3 440.4 180.0 440.7 182.0 440.4 184.0 440.0 184.9 439.3 186.0 438.0 187.3 436.9 188.0 436.0 188.5 434.0 188.9 432.0 188.7 430.2 188.0 430.0 187.9 428.0 186.6 427.4 186.0 426.0 184.2 425.9 184.0 425.1 182.0 424.9 180.0 425.6 178.0 426.0 177.5 427.8 176.0ZM434.4 208.0 436.0 207.2 438.0 207.3 438.9 208.0 440.0 209.3 440.3 210.0 440.8 212.0 440.8 214.0 440.3 216.0 440.0 216.7 439.2 218.0 438.0 219.3 436.9 220.0 436.0 220.5 434.0 221.1 432.0 221.6 431.0 222.0 430.0 222.3 428.0 223.4 427.2 224.0 426.0 224.7 424.0 225.9 423.9 226.0 422.0 227.0 420.0 227.8 419.5 228.0 418.0 228.5 416.0 229.0 414.0 229.5 412.0 229.9 411.6 230.0 410.0 230.4 408.0 230.8 406.0 231.1 404.0 231.3 402.0 231.3 400.0 231.3 398.0 231.2 396.0 230.9 394.0 230.6 392.0 230.2 391.0 230.0 390.0 229.8 388.0 229.4 386.0 228.9 384.0 228.2 383.6 228.0 382.0 227.3 380.0 226.1 379.8 226.0 378.0 224.5 377.4 224.0 376.1 222.0 376.0 220.0 376.6 218.0 377.9 216.0 378.0 215.9 379.6 214.0 380.0 213.6 382.0 212.2 382.3 212.0 384.0 211.2 386.0 210.7 388.0 210.4 390.0 210.2 392.0 210.0 392.5 210.0 394.0 209.9 396.0 209.7 398.0 209.5 400.0 209.4 402.0 209.4 404.0 209.4 406.0 209.5 408.0 209.6 410.0 209.8 411.9 210.0 412.0 210.0 414.0 210.3 416.0 210.7 418.0 211.2 420.0 211.9 420.5 212.0 422.0 212.5 424.0 213.1 426.0 213.6 428.0 213.5 430.0 212.5 430.5 212.0 432.0 210.4 432.4 210.0 434.0 208.2 434.4 208.0ZM359.5 220.0 360.0 219.7 362.0 219.3 364.0 219.3 366.0 219.6 367.0 220.0 368.0 220.7 369.5 222.0 369.7 224.0 368.6 226.0 368.0 226.5 366.1 228.0 366.0 228.0 364.0 228.7 362.0 228.9 360.0 228.5 358.8 228.0 358.0 227.4 356.8 226.0 356.4 224.0 357.1 222.0 358.0 221.0 359.5 220.0Z"/>
<path fill="#a6a6ff" fill-rule="evenodd" d="M188.0 106.0 188.0 106.0 188.0 106.0 190.0 106.8 191.8 108.0 192.0 108.1 194.0 110.0 194.0 110.0 195.5 112.0 196.0 112.6 196.7 114.0 197.6 116.0 198.0 117.2 198.2 118.0 198.5 120.0 198.4 122.0 198.0 123.0 197.3 124.0 196.0 124.9 194.0 124.9 192.0 124.1 191.9 124.0 190.0 122.3 189.8 122.0 188.4 120.0 188.0 119.1 187.6 118.0 187.2 116.0 187.3 114.0 187.7 112.0 188.0 110.3 188.1 110.0 188.0 108.9 187.9 108.0 188.0 106.0ZM362.8 144.0 364.0 143.2 366.0 142.6 368.0 142.6 370.0 143.2 371.3 144.0 372.0 145.0 372.6 146.0 372.6 148.0 372.0 149.1 371.3 150.0 370.0 150.9 368.0 151.5 366.0 151.6 364.0 151.0 362.4 150.0 362.0 149.4 361.3 148.0 361.4 146.0 362.0 145.0 362.8 144.0ZM327.0 150.0 328.0 149.7 330.0 149.5 332.0 149.4 334.0 149.5 336.0 149.8 336.8 150.0 338.0 150.3 340.0 150.9 342.0 151.8 342.4 152.0 344.0 152.9 345.5 154.0 346.0 154.4 347.6 156.0 348.0 156.5 349.0 158.0 349.8 160.0 350.0 161.6 350.1 162.0 350.0 162.4 349.7 164.0 348.7 166.0 348.0 166.7 346.6 168.0 346.0 168.4 344.0 169.4 342.4 170.0 342.0 170.1 340.0 170.6 338.0 170.9 336.0 171.0 334.0 170.9 332.0 170.7 330.0 170.2 329.2 170.0 328.0 169.6 326.0 168.7 324.9 168.0 324.0 167.4 322.3 166.0 322.0 165.7 320.6 164.0 320.0 163.0 319.4 162.0 318.7 160.0 318.6 158.0 319.0 156.0 320.0 154.2 320.2 154.0 322.0 152.2 322.3 152.0 324.0 151.0 326.0 150.2 327.0 150.0ZM429.5 176.0 430.0 175.8 432.0 175.6 434.0 175.8 434.8 176.0 436.0 176.4 438.0 177.8 438.2 178.0 439.5 180.0 440.0 182.0 439.6 184.0 438.4 186.0 438.0 186.4 436.0 187.7 434.7 188.0 434.0 188.2 432.0 188.0 431.9 188.0 430.0 187.3 428.1 186.0 428.0 185.9 426.5 184.0 426.0 182.9 425.6 182.0 425.6 180.0 426.0 178.8 426.5 178.0 428.0 176.7 429.5 176.0ZM396.0 210.0 398.0 209.8 400.0 209.7 402.0 209.7 404.0 209.7 406.0 209.8 408.0 209.9 409.1 210.0 410.0 210.1 412.0 210.3 414.0 210.7 416.0 211.1 418.0 211.7 418.9 212.0 420.0 212.4 422.0 213.1 424.0 213.9 424.2 214.0 426.0 214.7 428.0 215.2 430.0 214.8 430.8 214.0 432.0 212.9 432.7 212.0 434.0 210.5 434.7 210.0 436.0 209.3 438.0 209.7 438.3 210.0 439.2 212.0 439.2 214.0 438.6 216.0 438.0 217.0 436.9 218.0 436.0 218.6 434.0 219.2 432.0 219.7 431.4 220.0 430.0 220.5 428.2 222.0 428.0 222.1 426.0 223.7 425.7 224.0 424.0 225.2 422.8 226.0 422.0 226.4 420.0 227.3 418.2 228.0 418.0 228.1 416.0 228.7 414.0 229.2 412.0 229.6 410.1 230.0 410.0 230.0 408.0 230.4 406.0 230.7 404.0 230.9 402.0 231.0 400.0 230.9 398.0 230.8 396.0 230.5 394.0 230.2 393.2 230.0 392.0 229.8 390.0 229.4 388.0 228.9 386.0 228.4 385.0 228.0 384.0 227.6 382.0 226.7 380.9 226.0 380.0 225.3 378.5 224.0 378.0 223.1 377.2 222.0 377.0 220.0 377.5 218.0 378.0 217.2 378.6 216.0 380.0 214.4 380.4 214.0 382.0 212.8 383.5 212.0 384.0 211.8 386.0 211.2 388.0 210.8 390.0 210.6 392.0 210.4 394.0 210.2 396.0 210.0 396.0 210.0ZM358.4 222.0 360.0 220.8 362.0 220.2 364.0 220.2 366.0 220.9 367.5 222.0 368.0 223.6 368.1 224.0 368.0 224.1 367.0 226.0 366.0 226.7 364.0 227.7 362.0 228.0 360.0 227.4 358.1 226.0 358.0 225.8 357.5 224.0 358.0 222.7 358.4 222.0Z"/>
<path fill="#9d9dff" fill-rule="evenodd" d="M189.6 112.0 190.0 111.4 192.0 110.8 194.0 112.0 194.0 112.0 195.7 114.0 196.0 114.5 196.7 116.0 197.3 118.0 197.6 120.0 197.1 122.0 196.0 123.4 194.0 123.8 192.0 122.8 191.1 122.0 190.0 120.8 189.4 120.0 188.6 118.0 188.3 116.0 188.7 114.0 189.6 112.0ZM364.0 144.0 366.0 143.3 368.0 143.3 370.0 144.0 370.1 144.0 371.6 146.0 371.7 148.0 370.1 150.0 370.0 150.1 368.0 150.8 366.0 150.8 364.0 150.2 363.7 150.0 362.2 148.0 362.3 146.0 364.0 144.0 364.0 144.0ZM331.4 150.0 332.0 150.0 332.5 150.0 334.0 150.1 336.0 150.3 338.0 150.8 340.0 151.5 341.1 152.0 342.0 152.4 344.0 153.6 344.5 154.0 346.0 155.2 346.8 156.0 348.0 157.7 348.2 158.0 349.1 160.0 349.4 162.0 349.0 164.0 348.0 165.8 347.9 166.0 346.0 167.7 345.6 168.0 344.0 168.9 342.0 169.7 340.7 170.0 340.0 170.2 338.0 170.5 336.0 170.6 334.0 170.5 332.0 170.2 331.0 170.0 330.0 169.7 328.0 169.1 326.0 168.1 325.9 168.0 324.0 166.7 323.2 166.0 322.0 164.7 321.4 164.0 320.2 162.0 320.0 161.3 319.6 160.0 319.4 158.0 320.0 156.0 320.0 155.9 321.2 154.0 322.0 153.2 323.7 152.0 324.0 151.8 326.0 150.9 328.0 150.4 330.0 150.1 331.4 150.0ZM427.4 178.0 428.0 177.5 430.0 176.5 432.0 176.2 434.0 176.4 436.0 177.2 437.2 178.0 438.0 178.9 438.7 180.0 439.2 182.0 438.8 184.0 438.0 185.2 437.3 186.0 436.0 186.9 434.0 187.5 432.0 187.4 430.0 186.6 429.1 186.0 428.0 185.1 427.2 184.0 426.3 182.0 426.3 180.0 427.4 178.0ZM401.2 210.0 402.0 210.0 404.0 210.0 404.3 210.0 406.0 210.1 408.0 210.2 410.0 210.4 412.0 210.6 414.0 211.0 416.0 211.5 417.5 212.0 418.0 212.2 420.0 212.9 422.0 213.8 422.5 214.0 424.0 214.8 426.0 215.9 426.3 216.0 428.0 217.6 428.5 218.0 428.0 220.0 428.0 220.0 426.7 222.0 426.0 222.5 424.6 224.0 424.0 224.4 422.0 225.8 421.7 226.0 420.0 226.8 418.0 227.6 416.9 228.0 416.0 228.3 414.0 228.8 412.0 229.3 410.0 229.7 408.3 230.0 408.0 230.1 406.0 230.4 404.0 230.5 402.0 230.6 400.0 230.5 398.0 230.4 396.0 230.1 395.5 230.0 394.0 229.8 392.0 229.4 390.0 229.0 388.0 228.5 386.5 228.0 386.0 227.9 384.0 227.1 382.0 226.0 381.9 226.0 380.0 224.5 379.5 224.0 378.2 222.0 378.0 220.6 377.9 220.0 378.0 219.5 378.3 218.0 379.3 216.0 380.0 215.2 381.2 214.0 382.0 213.4 384.0 212.3 384.9 212.0 386.0 211.7 388.0 211.3 390.0 211.0 392.0 210.7 394.0 210.5 396.0 210.3 398.0 210.1 400.0 210.0 401.2 210.0ZM435.0 214.0 436.0 213.2 436.4 214.0 436.0 214.8 435.0 214.0ZM360.1 222.0 362.0 221.4 364.0 221.4 365.3 222.0 366.0 223.0 366.4 224.0 366.0 224.7 364.9 226.0 364.0 226.5 362.0 226.7 360.0 226.1 359.9 226.0 359.0 224.0 360.0 222.1 360.1 222.0Z"/>
<path fill="#9090ff" fill-rule="evenodd" d="M190.5 114.0 192.0 113.1 194.0 113.8 194.2 114.0 195.6 116.0 196.0 116.9 196.3 118.0 196.4 120.0 196.0 121.2 195.0 122.0 194.0 122.3 193.1 122.0 192.0 121.4 190.7 120.0 190.0 118.7 189.7 118.0 189.6 116.0 190.0 114.6 190.5 114.0ZM363.4 146.0 364.0 145.3 366.0 144.1 368.0 144.0 370.0 145.3 370.6 146.0 370.6 148.0 370.0 148.8 368.1 150.0 368.0 150.0 366.0 150.1 365.8 150.0 364.0 148.9 363.3 148.0 363.4 146.0ZM325.1 152.0 326.0 151.6 328.0 150.9 330.0 150.6 332.0 150.5 334.0 150.6 336.0 150.9 338.0 151.3 339.8 152.0 340.0 152.1 342.0 153.0 343.6 154.0 344.0 154.3 345.9 156.0 346.0 156.1 347.5 158.0 348.0 159.2 348.4 160.0 348.7 162.0 348.3 164.0 348.0 164.5 347.1 166.0 346.0 167.0 344.7 168.0 344.0 168.4 342.0 169.2 340.0 169.7 338.3 170.0 338.0 170.0 336.0 170.1 334.0 170.1 333.6 170.0 332.0 169.8 330.0 169.3 328.0 168.5 327.0 168.0 326.0 167.4 324.0 166.0 324.0 166.0 322.2 164.0 322.0 163.7 321.0 162.0 320.3 160.0 320.3 158.0 320.8 156.0 322.0 154.3 322.2 154.0 324.0 152.6 325.1 152.0ZM428.5 178.0 430.0 177.2 432.0 176.9 434.0 177.1 436.0 178.0 436.0 178.0 437.9 180.0 438.0 180.4 438.4 182.0 438.0 183.7 437.9 184.0 436.1 186.0 436.0 186.1 434.0 186.7 432.0 186.7 430.0 186.0 430.0 186.0 428.0 184.2 427.8 184.0 427.0 182.0 427.0 180.0 428.0 178.5 428.5 178.0ZM386.5 212.0 388.0 211.7 390.0 211.4 392.0 211.1 394.0 210.8 396.0 210.6 398.0 210.4 400.0 210.3 402.0 210.2 404.0 210.2 406.0 210.3 408.0 210.4 410.0 210.6 412.0 211.0 414.0 211.4 416.0 211.9 416.3 212.0 418.0 212.6 420.0 213.4 421.2 214.0 422.0 214.5 424.0 215.7 424.5 216.0 426.0 217.7 426.3 218.0 426.5 220.0 426.0 220.7 425.5 222.0 424.0 223.5 423.6 224.0 422.0 225.1 420.7 226.0 420.0 226.3 418.0 227.2 416.0 227.9 415.8 228.0 414.0 228.5 412.0 229.0 410.0 229.4 408.0 229.8 406.0 230.0 406.0 230.0 404.0 230.2 402.0 230.2 400.0 230.2 398.2 230.0 398.0 230.0 396.0 229.8 394.0 229.4 392.0 229.0 390.0 228.6 388.0 228.0 388.0 228.0 386.0 227.4 384.0 226.6 382.9 226.0 382.0 225.4 380.3 224.0 380.0 223.5 379.0 222.0 378.6 220.0 379.0 218.0 380.0 216.1 380.1 216.0 382.0 214.0 382.0 214.0 384.0 212.8 386.0 212.1 386.5 212.0ZM361.4 224.0 362.0 223.5 364.0 224.0 362.0 224.5 361.4 224.0Z"/>
<path fill="#8080ff" fill-rule="evenodd" d="M328.4 152.0 330.0 151.7 332.0 151.5 334.0 151.6 336.0 151.9 336.5 152.0 338.0 152.4 340.0 153.1 341.7 154.0 342.0 154.2 344.0 155.7 344.4 156.0 346.0 157.9 346.1 158.0 347.0 160.0 347.3 162.0 346.9 164.0 346.0 165.4 345.5 166.0 344.0 167.2 342.5 168.0 342.0 168.2 340.0 168.9 338.0 169.2 336.0 169.3 334.0 169.2 332.0 168.9 330.0 168.3 329.2 168.0 328.0 167.4 326.0 166.2 325.7 166.0 324.0 164.4 323.7 164.0 322.4 162.0 322.0 160.6 321.8 160.0 321.8 158.0 322.0 157.4 322.5 156.0 324.0 154.2 324.3 154.0 326.0 152.9 328.0 152.1 328.4 152.0ZM428.9 180.0 430.0 179.0 432.0 178.4 434.0 178.7 435.9 180.0 436.0 180.1 436.6 182.0 436.0 183.8 435.9 184.0 434.0 185.1 432.0 185.2 430.0 184.4 429.6 184.0 428.5 182.0 428.9 180.0ZM390.6 212.0 392.0 211.8 394.0 211.4 396.0 211.1 398.0 210.9 400.0 210.8 402.0 210.7 404.0 210.7 406.0 210.8 408.0 211.0 410.0 211.2 412.0 211.6 413.8 212.0 414.0 212.1 416.0 212.7 418.0 213.5 419.2 214.0 420.0 214.5 422.0 215.8 422.2 216.0 423.9 218.0 424.0 218.6 424.3 220.0 424.0 220.7 423.6 222.0 422.0 223.8 421.8 224.0 420.0 225.3 418.9 226.0 418.0 226.4 416.0 227.2 414.0 227.9 413.5 228.0 412.0 228.4 410.0 228.8 408.0 229.2 406.0 229.5 404.0 229.6 402.0 229.6 400.0 229.6 398.0 229.4 396.0 229.1 394.0 228.8 392.0 228.3 390.9 228.0 390.0 227.8 388.0 227.2 386.0 226.5 384.9 226.0 384.0 225.5 382.0 224.1 381.9 224.0 380.4 222.0 380.0 220.3 379.9 220.0 380.0 219.5 380.2 218.0 381.4 216.0 382.0 215.3 383.7 214.0 384.0 213.8 386.0 213.0 388.0 212.5 390.0 212.1 390.6 212.0Z"/>
<path fill="#6f6fff" fill-rule="evenodd" d="M326.5 154.0 328.0 153.3 330.0 152.7 332.0 152.5 334.0 152.5 336.0 152.8 338.0 153.4 339.5 154.0 340.0 154.2 342.0 155.4 342.8 156.0 344.0 157.2 344.7 158.0 345.7 160.0 346.0 162.0 345.5 164.0 344.0 165.9 343.9 166.0 342.0 167.2 340.0 168.0 339.9 168.0 338.0 168.4 336.0 168.5 334.0 168.4 332.0 168.0 332.0 168.0 330.0 167.3 328.0 166.4 327.4 166.0 326.0 164.8 325.1 164.0 324.0 162.3 323.8 162.0 323.2 160.0 323.3 158.0 324.0 156.3 324.2 156.0 326.0 154.3 326.5 154.0ZM431.1 182.0 432.0 180.9 434.0 181.9 434.1 182.0 434.0 182.1 432.0 182.8 431.1 182.0ZM394.3 212.0 396.0 211.7 398.0 211.5 400.0 211.3 402.0 211.2 404.0 211.2 406.0 211.3 408.0 211.5 410.0 211.8 411.1 212.0 412.0 212.2 414.0 212.7 416.0 213.4 417.4 214.0 418.0 214.3 420.0 215.6 420.6 216.0 422.0 217.7 422.2 218.0 422.7 220.0 422.0 222.0 422.0 222.0 420.3 224.0 420.0 224.2 418.0 225.6 417.2 226.0 416.0 226.5 414.0 227.2 412.0 227.8 411.1 228.0 410.0 228.3 408.0 228.6 406.0 228.9 404.0 229.0 402.0 229.1 400.0 229.0 398.0 228.8 396.0 228.5 394.0 228.1 393.7 228.0 392.0 227.6 390.0 227.0 388.0 226.4 387.0 226.0 386.0 225.6 384.0 224.5 383.4 224.0 382.0 222.4 381.7 222.0 381.1 220.0 381.4 218.0 382.0 217.0 382.7 216.0 384.0 214.9 385.7 214.0 386.0 213.9 388.0 213.3 390.0 212.8 392.0 212.4 394.0 212.0 394.3 212.0Z"/>
<path fill="#5d5dff" fill-rule="evenodd" d="M329.3 154.0 330.0 153.8 332.0 153.5 334.0 153.5 336.0 153.8 336.8 154.0 338.0 154.4 340.0 155.3 341.1 156.0 342.0 156.7 343.3 158.0 344.0 159.2 344.4 160.0 344.7 162.0 344.1 164.0 344.0 164.1 342.1 166.0 342.0 166.1 340.0 167.0 338.0 167.5 336.0 167.6 334.0 167.5 332.0 167.1 330.0 166.4 329.3 166.0 328.0 165.2 326.6 164.0 326.0 163.2 325.2 162.0 324.5 160.0 324.7 158.0 325.9 156.0 326.0 155.9 328.0 154.5 329.3 154.0ZM398.0 212.0 400.0 211.8 402.0 211.7 404.0 211.7 406.0 211.8 407.7 212.0 408.0 212.0 410.0 212.3 412.0 212.8 414.0 213.4 415.7 214.0 416.0 214.2 418.0 215.3 419.1 216.0 420.0 217.0 420.8 218.0 421.3 220.0 420.7 222.0 420.0 222.8 419.0 224.0 418.0 224.7 416.0 225.8 415.6 226.0 414.0 226.6 412.0 227.2 410.0 227.7 408.4 228.0 408.0 228.1 406.0 228.3 404.0 228.5 402.0 228.5 400.0 228.4 398.0 228.2 396.8 228.0 396.0 227.9 394.0 227.5 392.0 226.9 390.0 226.3 389.1 226.0 388.0 225.6 386.0 224.7 384.9 224.0 384.0 223.2 382.9 222.0 382.3 220.0 382.6 218.0 384.0 216.1 384.1 216.0 386.0 214.8 388.0 214.0 388.1 214.0 390.0 213.5 392.0 213.0 394.0 212.6 396.0 212.3 398.0 212.0 398.0 212.0Z"/>
<path fill="#4d4dff" fill-rule="evenodd" d="M327.8 156.0 328.0 155.9 330.0 154.9 332.0 154.5 334.0 154.5 336.0 154.8 338.0 155.4 339.2 156.0 340.0 156.5 341.8 158.0 342.0 158.3 343.1 160.0 343.3 162.0 342.6 164.0 342.0 164.6 340.0 166.0 339.9 166.0 338.0 166.5 336.0 166.7 334.0 166.6 332.0 166.2 331.6 166.0 330.0 165.2 328.2 164.0 328.0 163.8 326.6 162.0 326.0 160.3 325.9 160.0 326.0 159.4 326.2 158.0 327.8 156.0ZM390.7 214.0 392.0 213.7 394.0 213.2 396.0 212.8 398.0 212.5 400.0 212.3 402.0 212.2 404.0 212.2 406.0 212.3 408.0 212.5 410.0 212.9 412.0 213.3 414.0 214.0 414.0 214.0 416.0 215.0 417.7 216.0 418.0 216.3 419.6 218.0 420.0 219.7 420.1 220.0 420.0 220.3 419.5 222.0 418.0 223.6 417.6 224.0 416.0 225.0 414.0 226.0 414.0 226.0 412.0 226.7 410.0 227.2 408.0 227.6 406.0 227.8 404.0 228.0 402.0 228.0 400.0 227.9 398.0 227.7 396.0 227.3 394.0 226.9 392.0 226.3 391.1 226.0 390.0 225.6 388.0 224.8 386.5 224.0 386.0 223.6 384.2 222.0 384.0 221.5 383.4 220.0 383.8 218.0 384.0 217.8 385.7 216.0 386.0 215.8 388.0 214.9 390.0 214.2 390.7 214.0Z"/>
<path fill="#3c3cff" fill-rule="evenodd" d="M330.5 156.0 332.0 155.6 334.0 155.5 336.0 155.8 336.6 156.0 338.0 156.6 340.0 157.8 340.2 158.0 341.6 160.0 341.9 162.0 340.8 164.0 340.0 164.6 338.0 165.5 336.0 165.8 334.0 165.6 332.0 165.0 330.0 164.1 329.9 164.0 328.0 162.0 328.0 162.0 327.4 160.0 327.9 158.0 328.0 157.8 330.0 156.2 330.5 156.0ZM393.1 214.0 394.0 213.8 396.0 213.3 398.0 213.0 400.0 212.8 402.0 212.7 404.0 212.7 406.0 212.8 408.0 213.0 410.0 213.4 412.0 213.9 412.3 214.0 414.0 214.7 416.0 215.7 416.4 216.0 418.0 217.6 418.4 218.0 419.0 220.0 418.3 222.0 418.0 222.4 416.4 224.0 416.0 224.2 414.0 225.3 412.3 226.0 412.0 226.1 410.0 226.7 408.0 227.1 406.0 227.3 404.0 227.5 402.0 227.5 400.0 227.4 398.0 227.1 396.0 226.8 394.0 226.3 393.1 226.0 392.0 225.6 390.0 224.8 388.2 224.0 388.0 223.9 386.0 222.4 385.6 222.0 384.7 220.0 385.2 218.0 386.0 217.1 387.4 216.0 388.0 215.7 390.0 215.0 392.0 214.3 393.1 214.0Z"/>
<path fill="#2b2bff" fill-rule="evenodd" d="M329.9 158.0 330.0 157.9 332.0 157.0 334.0 156.7 336.0 157.1 338.0 157.9 338.2 158.0 340.0 159.9 340.1 160.0 340.3 162.0 340.0 162.4 338.5 164.0 338.0 164.2 336.0 164.6 334.0 164.5 332.3 164.0 332.0 163.9 330.0 162.3 329.7 162.0 329.1 160.0 329.9 158.0ZM395.3 214.0 396.0 213.8 398.0 213.5 400.0 213.2 402.0 213.1 404.0 213.1 406.0 213.3 408.0 213.5 410.0 213.9 410.3 214.0 412.0 214.5 414.0 215.4 415.1 216.0 416.0 216.7 417.3 218.0 417.9 220.0 417.2 222.0 416.0 223.2 415.1 224.0 414.0 224.6 412.0 225.5 410.4 226.0 410.0 226.1 408.0 226.6 406.0 226.8 404.0 227.0 402.0 227.0 400.0 226.9 398.0 226.6 396.0 226.2 395.2 226.0 394.0 225.6 392.0 224.9 390.0 224.1 389.8 224.0 388.0 222.8 387.0 222.0 386.0 220.1 386.0 220.0 386.0 219.8 386.6 218.0 388.0 216.8 389.3 216.0 390.0 215.7 392.0 215.0 394.0 214.4 395.3 214.0Z"/>
<path fill="#1a1aff" fill-rule="evenodd" d="M331.2 160.0 332.0 159.0 334.0 158.2 336.0 158.7 337.9 160.0 338.0 160.8 338.1 162.0 338.0 162.1 336.0 163.0 334.0 162.9 332.0 162.0 331.9 162.0 331.2 160.0ZM397.9 214.0 398.0 214.0 400.0 213.7 402.0 213.6 404.0 213.6 406.0 213.7 408.0 214.0 408.0 214.0 410.0 214.5 412.0 215.1 413.9 216.0 414.0 216.1 416.0 217.8 416.2 218.0 416.8 220.0 416.2 222.0 416.0 222.2 414.0 223.9 413.9 224.0 412.0 224.9 410.0 225.6 408.2 226.0 408.0 226.1 406.0 226.4 404.0 226.5 402.0 226.5 400.0 226.4 398.0 226.1 397.5 226.0 396.0 225.6 394.0 225.0 392.0 224.3 391.4 224.0 390.0 223.1 388.4 222.0 388.0 221.2 387.3 220.0 388.0 218.2 388.1 218.0 390.0 216.7 391.1 216.0 392.0 215.7 394.0 215.0 396.0 214.4 397.9 214.0Z"/>
<path fill="#0909ff" fill-rule="evenodd" d="M392.9 216.0 394.0 215.6 396.0 215.0 398.0 214.5 400.0 214.2 402.0 214.1 404.0 214.1 406.0 214.2 408.0 214.5 410.0 215.0 412.0 215.8 412.5 216.0 414.0 217.1 415.1 218.0 415.8 220.0 415.1 222.0 414.0 222.9 412.5 224.0 412.0 224.3 410.0 225.0 408.0 225.5 406.0 225.9 404.3 226.0 404.0 226.0 402.0 226.0 401.6 226.0 400.0 225.9 398.0 225.6 396.0 225.1 394.0 224.4 393.0 224.0 392.0 223.4 390.0 222.1 389.9 222.0 388.8 220.0 389.6 218.0 390.0 217.7 392.0 216.5 392.9 216.0Z"/>
<path fill="#0000f9" fill-rule="evenodd" d="M394.6 216.0 396.0 215.5 398.0 215.0 400.0 214.7 402.0 214.5 404.0 214.5 406.0 214.7 408.0 215.1 410.0 215.6 411.1 216.0 412.0 216.5 414.0 218.0 414.0 218.0 414.8 220.0 414.0 222.0 414.0 222.0 412.0 223.5 411.1 224.0 410.0 224.4 408.0 225.0 406.0 225.3 404.0 225.5 402.0 225.5 400.0 225.4 398.0 225.0 396.0 224.5 394.6 224.0 394.0 223.7 392.0 222.5 391.3 222.0 390.2 220.0 391.1 218.0 392.0 217.4 394.0 216.3 394.6 216.0Z"/>
<path fill="#0000ed" fill-rule="evenodd" d="M396.3 216.0 398.0 215.6 400.0 215.2 402.0 215.0 404.0 215.0 406.0 215.2 408.0 215.6 409.5 216.0 410.0 216.2 412.0 217.4 412.8 218.0 413.7 220.0 412.8 222.0 412.0 222.6 410.0 223.8 409.5 224.0 408.0 224.4 406.0 224.8 404.0 225.0 402.0 225.0 400.0 224.8 398.0 224.5 396.3 224.0 396.0 223.9 394.0 222.8 392.6 222.0 392.0 220.9 391.5 220.0 392.0 219.0 392.6 218.0 394.0 217.1 396.0 216.1 396.3 216.0Z"/>
<path fill="#0000e1" fill-rule="evenodd" d="M398.5 216.0 400.0 215.7 402.0 215.5 404.0 215.5 406.0 215.7 407.4 216.0 408.0 216.2 410.0 217.0 411.6 218.0 412.0 218.7 412.6 220.0 412.0 221.4 411.7 222.0 410.0 223.0 408.0 223.9 407.6 224.0 406.0 224.3 404.0 224.5 402.0 224.5 400.0 224.3 398.3 224.0 398.0 223.9 396.0 223.1 394.0 222.0 394.0 222.0 392.9 220.0 394.0 218.0 394.0 218.0 396.0 216.9 398.0 216.1 398.5 216.0Z"/>
<path fill="#0000d5" fill-rule="evenodd" d="M395.4 218.0 396.0 217.7 398.0 216.9 400.0 216.3 402.0 216.0 404.0 216.0 406.0 216.3 408.0 216.9 410.0 217.8 410.3 218.0 411.5 220.0 410.4 222.0 410.0 222.2 408.0 223.1 406.0 223.7 404.0 224.0 404.0 224.0 402.0 224.0 402.0 224.0 400.0 223.7 398.0 223.2 396.0 222.3 395.4 222.0 394.2 220.0 395.4 218.0Z"/>
<path fill="#0000c9" fill-rule="evenodd" d="M397.0 218.0 398.0 217.6 400.0 217.0 402.0 216.7 404.0 216.7 406.0 217.0 408.0 217.6 408.8 218.0 410.0 219.6 410.2 220.0 410.0 220.4 408.9 222.0 408.0 222.4 406.0 223.0 404.0 223.3 402.0 223.3 400.0 223.0 398.0 222.4 397.0 222.0 396.0 220.7 395.6 220.0 396.0 219.3 397.0 218.0Z"/>
<path fill="#0000be" fill-rule="evenodd" d="M399.0 218.0 400.0 217.7 402.0 217.4 404.0 217.4 406.0 217.7 406.9 218.0 408.0 219.0 408.8 220.0 408.0 221.1 406.9 222.0 406.0 222.3 404.0 222.6 402.0 222.6 400.0 222.3 399.0 222.0 398.0 221.1 397.1 220.0 398.0 218.9 399.0 218.0Z"/>
<path fill="#0000b2" fill-rule="evenodd" d="M399.0 220.0 400.0 219.1 402.0 218.3 404.0 218.3 406.0 219.1 407.0 220.0 406.0 220.9 404.0 221.8 402.0 221.8 400.0 220.9 399.0 220.0Z"/>
</g></g>
<polygon points="96.5,237.5 93.0,234.5 88.0,232.5 83.4,230.3 76.0,225.5 71.3,220.6 68.0,215.0 66.8,208.3 64.5,201.4 63.0,194.5 61.0,188.8 57.6,186.5 54.2,185.4 55.3,181.9 58.7,179.7 62.2,177.4 66.8,172.8 67.9,164.8 69.0,157.9 72.5,155.6 74.8,151.5 81.6,151.0 86.2,148.7 88.5,144.2 89.7,135.0 90.5,128.0 91.8,119.7 93.6,114.0 96.4,109.4 99.8,104.3 103.8,100.8 107.8,98.6 116.0,98.0 123.8,97.4 124.2,92.0 123.5,88.0 123.0,75.0 124.0,68.0 126.4,66.3 132.0,62.2 138.0,57.5 145.0,52.0 149.0,45.0 153.6,39.5 157.0,36.5 160.0,35.0 168.0,33.0 173.0,31.5 176.0,30.2 176.0,28.4 181.7,27.8 186.3,28.1 190.9,28.7 196.6,29.3 202.3,28.7 205.7,27.8 206.0,30.5 196.0,31.5 187.0,32.0 181.0,33.3 181.6,37.4 192.0,43.8 196.8,48.6 206.4,51.0 216.0,53.4 220.8,47.0 224.0,48.6 230.4,49.4 232.8,53.4 235.2,57.4 230.4,59.8 224.0,62.5 221.0,61.9 217.3,64.6 211.7,68.4 206.1,72.1 202.4,73.9 200.6,77.6 202.4,79.5 206.1,80.4 211.7,81.3 217.3,84.1 222.8,86.9 227.5,89.7 230.3,93.4 230.6,99.0 229.3,104.5 228.4,109.2 224.7,111.0 227.5,113.8 234.0,116.6 239.5,118.5 245.0,116.5 251.2,111.4 256.0,109.5 260.8,107.8 266.0,106.0 270.4,104.2 274.0,101.0 277.6,97.0 280.0,94.5 282.4,92.2 288.0,90.5 294.0,91.5 300.0,91.5 305.0,89.0 308.0,86.5 309.6,82.4 312.8,80.0 318.0,82.0 326.0,92.0 333.4,99.3 336.8,103.6 342.0,105.3 347.1,105.3 348.8,107.0 355.0,111.0 357.0,113.0 359.0,116.0 362.0,117.5 365.0,118.0 370.0,118.5 374.0,120.5 377.0,123.0 381.0,125.5 384.0,128.0 387.0,131.0 389.5,133.5 391.9,134.9 395.3,138.7 398.7,142.1 402.1,144.7 405.6,148.1 409.0,151.1 411.6,154.1 413.7,155.0 418.3,156.7 421.7,161.3 426.3,163.0 432.0,164.1 436.5,165.3 441.1,168.1 444.5,172.7 450.0,176.0 454.0,178.0 457.0,184.0 460.5,190.3 463.5,201.3 465.0,212.4 463.0,222.1 460.0,226.4 455.0,231.4 450.0,235.7 445.0,239.3 440.0,242.9 435.0,245.7 430.0,247.9 425.0,249.3 420.0,250.7 415.0,250.0 410.0,248.5 405.0,247.5 400.0,245.4 395.0,247.1 390.0,247.6 385.0,248.9 380.0,250.6 375.0,252.7 370.0,254.5 365.0,253.5 360.0,252.5 355.0,251.2 353.0,250.0 351.0,247.5 349.0,247.5 347.0,249.0 345.0,249.5 340.0,248.0 335.0,245.6 330.0,243.2 325.0,241.6 320.0,242.9 315.0,242.4 310.0,236.8 306.0,231.0 302.0,228.5 297.0,226.0 295.0,226.4 290.0,227.2 285.0,225.1 281.0,222.3 278.0,218.8 276.0,214.6 275.0,212.5 273.0,211.1 271.5,209.7 270.0,210.4 268.0,213.2 265.0,215.3 260.0,216.3 255.0,216.0 250.0,215.3 244.0,214.2 230.0,214.2 224.4,213.4 214.0,217.3 201.0,222.5 188.0,229.0 177.6,234.2 170.0,238.0 165.0,241.0 163.0,246.0 155.0,247.5 148.0,247.0 140.0,244.5 133.4,243.3 123.0,242.0 115.0,241.3 102.8,237.6" fill="none" stroke="#4a4a4a" stroke-width="0.55" stroke-linejoin="round"/>
<polygon points="265.2,47.8 267.8,45.3 272.8,44.0 277.8,41.5 280.0,40.3 284.6,36.3 289.1,32.9 292.6,29.4 296.0,27.7 300.6,27.7 302.9,29.4 304.6,28.3 307.4,25.4 310.9,23.9 314.3,23.1 320.0,21.0 330.0,17.0 333.6,16.2 338.4,11.4 348.0,10.2 357.6,9.0 364.8,6.6 372.0,5.9 381.6,5.9 385.2,7.3 381.6,10.2 376.8,12.6 372.0,15.0 369.6,17.5 400.0,30.0 400.0,60.0 330.0,80.0 316.0,79.0 313.6,77.6 309.6,76.8 304.8,75.2 298.4,76.8 294.4,77.6 292.8,76.0 290.4,79.2 285.6,82.4 280.8,80.8 274.4,74.4 269.6,66.4 267.2,60.0 265.5,54.0" fill="none" stroke="#4a4a4a" stroke-width="0.55" stroke-linejoin="round"/>
<polygon points="25.0,259.0 32.0,260.0 42.0,258.0 47.0,250.0 52.0,246.0 60.0,245.0 68.0,244.0 75.0,245.5 85.0,247.5 92.0,248.0 96.0,248.5 100.0,252.0 103.0,256.0 110.0,258.0 118.0,259.6 120.0,260.0 114.0,261.0 104.0,262.0 96.0,265.0 94.0,269.0 90.0,272.0 84.0,271.0 78.0,269.0 70.0,269.0 60.0,269.0 54.0,268.0 48.0,266.0 42.0,267.0 36.0,268.0 25.0,268.0" fill="none" stroke="#4a4a4a" stroke-width="0.55" stroke-linejoin="round"/>
<polygon points="100.5,89.5 104.0,88.5 107.0,89.5 106.0,92.0 105.0,94.0 107.0,96.0 106.0,98.0 103.0,98.0 101.0,96.5 102.5,94.0 101.0,92.0" fill="#fff" stroke="#4a4a4a" stroke-width="0.5"/>
<polygon points="103.0,99.5 101.5,102.0 99.5,105.0 97.5,108.0 95.8,110.5 95.0,109.5 96.3,106.0 98.2,102.5 100.5,100.0" fill="#fff" stroke="#4a4a4a" stroke-width="0.5"/>
<polygon points="128.5,63.3 131.0,60.5 134.0,58.5 137.5,55.6 138.3,56.4 135.0,59.5 131.5,62.0 129.0,64.0" fill="#fff" stroke="#4a4a4a" stroke-width="0.5"/>
<polygon points="48.0,259.0 52.0,257.5 56.0,259.0 53.5,261.5 49.0,261.0" fill="#d3d3d3" stroke="#4a4a4a" stroke-width="0.5"/>
<polygon points="52.0,265.0 57.0,263.5 63.0,265.0 61.0,268.0 55.0,268.0" fill="#d3d3d3" stroke="#4a4a4a" stroke-width="0.5"/>
<polyline points="184.0,4.0 185.1,8.7 186.9,12.1 188.6,15.6 189.1,19.0 187.4,21.9 188.6,24.7 190.0,27.8" fill="none" stroke="#4a4a4a" stroke-width="0.55"/>
<polyline points="174.3,20.7 176.0,25.9 178.9,20.1" fill="none" stroke="#4a4a4a" stroke-width="0.55"/>
<polyline points="176.0,25.9 176.0,28.5" fill="none" stroke="#4a4a4a" stroke-width="0.55"/>
<polyline points="95.8,238.0 95.3,243.0 94.6,247.3" fill="none" stroke="#4a4a4a" stroke-width="0.55"/>
<polyline points="175.2,38.2 180.8,42.2 192.0,46.2 200.0,49.0" fill="none" stroke="#4a4a4a" stroke-width="0.55"/>
<polyline points="274.0,35.2 277.8,40.2" fill="none" stroke="#4a4a4a" stroke-width="0.55"/>
<polyline points="270.3,50.3 279.0,42.8" fill="none" stroke="#4a4a4a" stroke-width="0.55"/>
<path d="M20.0 281.9 L25.0 282.4 L30.0 282.9 L35.0 283.4 L40.0 283.8 L45.0 284.3 L50.0 284.7 L55.0 285.2 L60.0 285.6 L65.0 286.0 L70.0 286.4 L75.0 286.8 L80.0 287.2 L85.0 287.5 L90.0 287.9 L95.0 288.3 L100.0 288.6 L105.0 288.9 L110.0 289.2 L115.0 289.5 L120.0 289.8 L125.0 290.1 L130.0 290.4 L135.0 290.7 L140.0 290.9 L145.0 291.2 L150.0 291.4 L155.0 291.6 L160.0 291.8 L165.0 292.0 L170.0 292.2 L175.0 292.4 L180.0 292.6 L185.0 292.7 L190.0 292.9 L195.0 293.0 L200.0 293.1 L205.0 293.3 L210.0 293.4 L215.0 293.5 L220.0 293.5 L225.0 293.6 L230.0 293.7 L235.0 293.7 L240.0 293.8 L245.0 293.8 L250.0 293.8 L255.0 293.8 L260.0 293.8 L265.0 293.8 L270.0 293.8 L275.0 293.8 L280.0 293.7 L285.0 293.7 L290.0 293.6 L295.0 293.6 L300.0 293.5 L305.0 293.4 L310.0 293.3 L315.0 293.2 L320.0 293.0 L325.0 292.9 L330.0 292.8 L335.0 292.6 L340.0 292.4 L345.0 292.3 L350.0 292.1 L355.0 291.9 L360.0 291.7 L365.0 291.4 L370.0 291.2 L375.0 291.0 L380.0 290.7 L385.0 290.5 L390.0 290.2 L395.0 289.9 L400.0 289.6 L405.0 289.3 L410.0 289.0 L415.0 288.7 L420.0 288.3 L425.0 288.0 L430.0 287.6 L435.0 287.2 L440.0 286.9 L445.0 286.5 L450.0 286.1 L455.0 285.7 L460.0 285.2 L465.0 284.8 L470.0 284.4 L475.0 283.9 L480.0 283.5 L485.0 283.0 L490.0 282.5 L495.0 282.0 L500.0 281.5 M20.0 241.8 L25.0 242.4 L30.0 242.8 L35.0 243.3 L40.0 243.8 L45.0 244.3 L50.0 244.7 L55.0 245.2 L60.0 245.6 L65.0 246.0 L70.0 246.4 L75.0 246.8 L80.0 247.2 L85.0 247.6 L90.0 248.0 L95.0 248.3 L100.0 248.7 L105.0 249.0 L110.0 249.3 L115.0 249.6 L120.0 249.9 L125.0 250.2 L130.0 250.5 L135.0 250.8 L140.0 251.0 L145.0 251.3 L150.0 251.5 L155.0 251.7 L160.0 251.9 L165.0 252.1 L170.0 252.3 L175.0 252.5 L180.0 252.7 L185.0 252.9 L190.0 253.0 L195.0 253.2 L200.0 253.3 L205.0 253.4 L210.0 253.5 L215.0 253.6 L220.0 253.7 L225.0 253.8 L230.0 253.8 L235.0 253.9 L240.0 253.9 L245.0 254.0 L250.0 254.0 L255.0 254.0 L260.0 254.0 L265.0 254.0 L270.0 254.0 L275.0 253.9 L280.0 253.9 L285.0 253.8 L290.0 253.8 L295.0 253.7 L300.0 253.6 L305.0 253.5 L310.0 253.4 L315.0 253.3 L320.0 253.2 L325.0 253.0 L330.0 252.9 L335.0 252.7 L340.0 252.6 L345.0 252.4 L350.0 252.2 L355.0 252.0 L360.0 251.8 L365.0 251.5 L370.0 251.3 L375.0 251.1 L380.0 250.8 L385.0 250.5 L390.0 250.3 L395.0 250.0 L400.0 249.7 L405.0 249.4 L410.0 249.0 L415.0 248.7 L420.0 248.4 L425.0 248.0 L430.0 247.7 L435.0 247.3 L440.0 246.9 L445.0 246.5 L450.0 246.1 L455.0 245.7 L460.0 245.2 L465.0 244.8 L470.0 244.4 L475.0 243.9 L480.0 243.4 L485.0 242.9 L490.0 242.5 L495.0 241.9 L500.0 241.4 M20.0 201.8 L25.0 202.3 L30.0 202.8 L35.0 203.3 L40.0 203.8 L45.0 204.2 L50.0 204.7 L55.0 205.2 L60.0 205.6 L65.0 206.0 L70.0 206.4 L75.0 206.8 L80.0 207.2 L85.0 207.6 L90.0 208.0 L95.0 208.4 L100.0 208.7 L105.0 209.0 L110.0 209.4 L115.0 209.7 L120.0 210.0 L125.0 210.3 L130.0 210.6 L135.0 210.9 L140.0 211.1 L145.0 211.4 L150.0 211.6 L155.0 211.8 L160.0 212.1 L165.0 212.3 L170.0 212.5 L175.0 212.6 L180.0 212.8 L185.0 213.0 L190.0 213.1 L195.0 213.3 L200.0 213.4 L205.0 213.5 L210.0 213.6 L215.0 213.7 L220.0 213.8 L225.0 213.9 L230.0 214.0 L235.0 214.0 L240.0 214.1 L245.0 214.1 L250.0 214.1 L255.0 214.1 L260.0 214.1 L265.0 214.1 L270.0 214.1 L275.0 214.1 L280.0 214.0 L285.0 214.0 L290.0 213.9 L295.0 213.9 L300.0 213.8 L305.0 213.7 L310.0 213.6 L315.0 213.4 L320.0 213.3 L325.0 213.2 L330.0 213.0 L335.0 212.9 L340.0 212.7 L345.0 212.5 L350.0 212.3 L355.0 212.1 L360.0 211.9 L365.0 211.7 L370.0 211.4 L375.0 211.2 L380.0 210.9 L385.0 210.6 L390.0 210.4 L395.0 210.1 L400.0 209.8 L405.0 209.4 L410.0 209.1 L415.0 208.8 L420.0 208.4 L425.0 208.1 L430.0 207.7 L435.0 207.3 L440.0 206.9 L445.0 206.5 L450.0 206.1 L455.0 205.7 L460.0 205.2 L465.0 204.8 L470.0 204.3 L475.0 203.9 L480.0 203.4 L485.0 202.9 L490.0 202.4 L495.0 201.9 L500.0 201.4 M20.0 161.7 L25.0 162.2 L30.0 162.8 L35.0 163.3 L40.0 163.7 L45.0 164.2 L50.0 164.7 L55.0 165.1 L60.0 165.6 L65.0 166.0 L70.0 166.5 L75.0 166.9 L80.0 167.3 L85.0 167.7 L90.0 168.0 L95.0 168.4 L100.0 168.8 L105.0 169.1 L110.0 169.4 L115.0 169.8 L120.0 170.1 L125.0 170.4 L130.0 170.7 L135.0 170.9 L140.0 171.2 L145.0 171.5 L150.0 171.7 L155.0 171.9 L160.0 172.2 L165.0 172.4 L170.0 172.6 L175.0 172.8 L180.0 173.0 L185.0 173.1 L190.0 173.3 L195.0 173.4 L200.0 173.6 L205.0 173.7 L210.0 173.8 L215.0 173.9 L220.0 174.0 L225.0 174.1 L230.0 174.1 L235.0 174.2 L240.0 174.2 L245.0 174.3 L250.0 174.3 L255.0 174.3 L260.0 174.3 L265.0 174.3 L270.0 174.3 L275.0 174.2 L280.0 174.2 L285.0 174.1 L290.0 174.1 L295.0 174.0 L300.0 173.9 L305.0 173.8 L310.0 173.7 L315.0 173.6 L320.0 173.4 L325.0 173.3 L330.0 173.2 L335.0 173.0 L340.0 172.8 L345.0 172.6 L350.0 172.4 L355.0 172.2 L360.0 172.0 L365.0 171.8 L370.0 171.5 L375.0 171.3 L380.0 171.0 L385.0 170.7 L390.0 170.4 L395.0 170.1 L400.0 169.8 L405.0 169.5 L410.0 169.2 L415.0 168.8 L420.0 168.5 L425.0 168.1 L430.0 167.7 L435.0 167.3 L440.0 166.9 L445.0 166.5 L450.0 166.1 L455.0 165.7 L460.0 165.2 L465.0 164.8 L470.0 164.3 L475.0 163.8 L480.0 163.4 L485.0 162.9 L490.0 162.3 L495.0 161.8 L500.0 161.3 M20.0 121.6 L25.0 122.2 L30.0 122.7 L35.0 123.2 L40.0 123.7 L45.0 124.2 L50.0 124.7 L55.0 125.1 L60.0 125.6 L65.0 126.0 L70.0 126.5 L75.0 126.9 L80.0 127.3 L85.0 127.7 L90.0 128.1 L95.0 128.4 L100.0 128.8 L105.0 129.2 L110.0 129.5 L115.0 129.8 L120.0 130.1 L125.0 130.5 L130.0 130.8 L135.0 131.0 L140.0 131.3 L145.0 131.6 L150.0 131.8 L155.0 132.1 L160.0 132.3 L165.0 132.5 L170.0 132.7 L175.0 132.9 L180.0 133.1 L185.0 133.2 L190.0 133.4 L195.0 133.6 L200.0 133.7 L205.0 133.8 L210.0 133.9 L215.0 134.0 L220.0 134.1 L225.0 134.2 L230.0 134.3 L235.0 134.3 L240.0 134.4 L245.0 134.4 L250.0 134.4 L255.0 134.4 L260.0 134.4 L265.0 134.4 L270.0 134.4 L275.0 134.4 L280.0 134.3 L285.0 134.3 L290.0 134.2 L295.0 134.1 L300.0 134.1 L305.0 134.0 L310.0 133.8 L315.0 133.7 L320.0 133.6 L325.0 133.4 L330.0 133.3 L335.0 133.1 L340.0 132.9 L345.0 132.7 L350.0 132.5 L355.0 132.3 L360.0 132.1 L365.0 131.9 L370.0 131.6 L375.0 131.4 L380.0 131.1 L385.0 130.8 L390.0 130.5 L395.0 130.2 L400.0 129.9 L405.0 129.6 L410.0 129.2 L415.0 128.9 L420.0 128.5 L425.0 128.1 L430.0 127.8 L435.0 127.4 L440.0 127.0 L445.0 126.5 L450.0 126.1 L455.0 125.7 L460.0 125.2 L465.0 124.8 L470.0 124.3 L475.0 123.8 L480.0 123.3 L485.0 122.8 L490.0 122.3 L495.0 121.7 L500.0 121.2 M20.0 81.5 L25.0 82.1 L30.0 82.6 L35.0 83.1 L40.0 83.7 L45.0 84.2 L50.0 84.6 L55.0 85.1 L60.0 85.6 L65.0 86.0 L70.0 86.5 L75.0 86.9 L80.0 87.3 L85.0 87.7 L90.0 88.1 L95.0 88.5 L100.0 88.9 L105.0 89.2 L110.0 89.6 L115.0 89.9 L120.0 90.2 L125.0 90.5 L130.0 90.8 L135.0 91.1 L140.0 91.4 L145.0 91.7 L150.0 91.9 L155.0 92.2 L160.0 92.4 L165.0 92.6 L170.0 92.8 L175.0 93.0 L180.0 93.2 L185.0 93.4 L190.0 93.5 L195.0 93.7 L200.0 93.8 L205.0 94.0 L210.0 94.1 L215.0 94.2 L220.0 94.3 L225.0 94.3 L230.0 94.4 L235.0 94.5 L240.0 94.5 L245.0 94.6 L250.0 94.6 L255.0 94.6 L260.0 94.6 L265.0 94.6 L270.0 94.6 L275.0 94.5 L280.0 94.5 L285.0 94.4 L290.0 94.4 L295.0 94.3 L300.0 94.2 L305.0 94.1 L310.0 94.0 L315.0 93.9 L320.0 93.7 L325.0 93.6 L330.0 93.4 L335.0 93.2 L340.0 93.1 L345.0 92.9 L350.0 92.7 L355.0 92.4 L360.0 92.2 L365.0 92.0 L370.0 91.7 L375.0 91.5 L380.0 91.2 L385.0 90.9 L390.0 90.6 L395.0 90.3 L400.0 90.0 L405.0 89.6 L410.0 89.3 L415.0 88.9 L420.0 88.6 L425.0 88.2 L430.0 87.8 L435.0 87.4 L440.0 87.0 L445.0 86.6 L450.0 86.1 L455.0 85.7 L460.0 85.2 L465.0 84.7 L470.0 84.3 L475.0 83.8 L480.0 83.2 L485.0 82.7 L490.0 82.2 L495.0 81.7 L500.0 81.1 M20.0 41.5 L25.0 42.0 L30.0 42.6 L35.0 43.1 L40.0 43.6 L45.0 44.1 L50.0 44.6 L55.0 45.1 L60.0 45.6 L65.0 46.0 L70.0 46.5 L75.0 46.9 L80.0 47.3 L85.0 47.7 L90.0 48.1 L95.0 48.5 L100.0 48.9 L105.0 49.3 L110.0 49.6 L115.0 50.0 L120.0 50.3 L125.0 50.6 L130.0 50.9 L135.0 51.2 L140.0 51.5 L145.0 51.8 L150.0 52.0 L155.0 52.3 L160.0 52.5 L165.0 52.7 L170.0 52.9 L175.0 53.1 L180.0 53.3 L185.0 53.5 L190.0 53.7 L195.0 53.8 L200.0 54.0 L205.0 54.1 L210.0 54.2 L215.0 54.3 L220.0 54.4 L225.0 54.5 L230.0 54.6 L235.0 54.6 L240.0 54.7 L245.0 54.7 L250.0 54.7 L255.0 54.7 L260.0 54.7 L265.0 54.7 L270.0 54.7 L275.0 54.7 L280.0 54.6 L285.0 54.6 L290.0 54.5 L295.0 54.4 L300.0 54.3 L305.0 54.2 L310.0 54.1 L315.0 54.0 L320.0 53.9 L325.0 53.7 L330.0 53.5 L335.0 53.4 L340.0 53.2 L345.0 53.0 L350.0 52.8 L355.0 52.5 L360.0 52.3 L365.0 52.1 L370.0 51.8 L375.0 51.5 L380.0 51.3 L385.0 51.0 L390.0 50.7 L395.0 50.4 L400.0 50.0 L405.0 49.7 L410.0 49.3 L415.0 49.0 L420.0 48.6 L425.0 48.2 L430.0 47.8 L435.0 47.4 L440.0 47.0 L445.0 46.6 L450.0 46.1 L455.0 45.6 L460.0 45.2 L465.0 44.7 L470.0 44.2 L475.0 43.7 L480.0 43.2 L485.0 42.7 L490.0 42.1 L495.0 41.6 L500.0 41.0 M20.0 1.3 L25.0 1.9 L30.0 2.5 L35.0 3.0 L40.0 3.5 L45.0 4.1 L50.0 4.6 L55.0 5.1 L60.0 5.5 L65.0 6.0 L70.0 6.5 L75.0 6.9 L80.0 7.3 L85.0 7.8 L90.0 8.2 L95.0 8.6 L100.0 8.9 L105.0 9.3 L110.0 9.7 L115.0 10.0 L120.0 10.4 L125.0 10.7 L130.0 11.0 L135.0 11.3 L140.0 11.6 L145.0 11.9 L150.0 12.1 L155.0 12.4 L160.0 12.6 L165.0 12.8 L170.0 13.1 L175.0 13.3 L180.0 13.4 L185.0 13.6 L190.0 13.8 L195.0 14.0 L200.0 14.1 L205.0 14.2 L210.0 14.4 L215.0 14.5 L220.0 14.6 L225.0 14.6 L230.0 14.7 L235.0 14.8 L240.0 14.8 L245.0 14.9 L250.0 14.9 L255.0 14.9 L260.0 14.9 L265.0 14.9 L270.0 14.9 L275.0 14.8 L280.0 14.8 L285.0 14.7 L290.0 14.7 L295.0 14.6 L300.0 14.5 L305.0 14.4 L310.0 14.3 L315.0 14.1 L320.0 14.0 L325.0 13.8 L330.0 13.7 L335.0 13.5 L340.0 13.3 L345.0 13.1 L350.0 12.9 L355.0 12.7 L360.0 12.4 L365.0 12.2 L370.0 11.9 L375.0 11.6 L380.0 11.3 L385.0 11.1 L390.0 10.7 L395.0 10.4 L400.0 10.1 L405.0 9.7 L410.0 9.4 L415.0 9.0 L420.0 8.6 L425.0 8.2 L430.0 7.8 L435.0 7.4 L440.0 7.0 L445.0 6.5 L450.0 6.1 L455.0 5.6 L460.0 5.1 L465.0 4.7 L470.0 4.2 L475.0 3.6 L480.0 3.1 L485.0 2.6 L490.0 2.0 L495.0 1.5 L500.0 0.9 M20.0 -38.8 L25.0 -38.2 L30.0 -37.6 L35.0 -37.1 L40.0 -36.5 L45.0 -36.0 L50.0 -35.5 L55.0 -35.0 L60.0 -34.5 L65.0 -34.0 L70.0 -33.6 L75.0 -33.1 L80.0 -32.7 L85.0 -32.2 L90.0 -31.8 L95.0 -31.4 L100.0 -31.0 L105.0 -30.6 L110.0 -30.3 L115.0 -29.9 L120.0 -29.6 L125.0 -29.3 L130.0 -28.9 L135.0 -28.6 L140.0 -28.3 L145.0 -28.1 L150.0 -27.8 L155.0 -27.5 L160.0 -27.3 L165.0 -27.1 L170.0 -26.8 L175.0 -26.6 L180.0 -26.4 L185.0 -26.2 L190.0 -26.1 L195.0 -25.9 L200.0 -25.8 L205.0 -25.6 L210.0 -25.5 L215.0 -25.4 L220.0 -25.3 L225.0 -25.2 L230.0 -25.1 L235.0 -25.1 L240.0 -25.0 L245.0 -25.0 L250.0 -25.0 L255.0 -25.0 L260.0 -25.0 L265.0 -25.0 L270.0 -25.0 L275.0 -25.0 L280.0 -25.1 L285.0 -25.1 L290.0 -25.2 L295.0 -25.3 L300.0 -25.4 L305.0 -25.5 L310.0 -25.6 L315.0 -25.7 L320.0 -25.9 L325.0 -26.0 L330.0 -26.2 L335.0 -26.4 L340.0 -26.6 L345.0 -26.8 L350.0 -27.0 L355.0 -27.2 L360.0 -27.5 L365.0 -27.7 L370.0 -28.0 L375.0 -28.3 L380.0 -28.6 L385.0 -28.9 L390.0 -29.2 L395.0 -29.5 L400.0 -29.9 L405.0 -30.2 L410.0 -30.6 L415.0 -31.0 L420.0 -31.3 L425.0 -31.7 L430.0 -32.2 L435.0 -32.6 L440.0 -33.0 L445.0 -33.5 L450.0 -33.9 L455.0 -34.4 L460.0 -34.9 L465.0 -35.4 L470.0 -35.9 L475.0 -36.4 L480.0 -37.0 L485.0 -37.5 L490.0 -38.1 L495.0 -38.6 L500.0 -39.2 M24.4 363.7 L26.1 343.5 L27.8 323.4 L29.6 303.3 L31.3 283.2 L33.0 263.2 L34.7 243.2 L36.4 223.3 L38.1 203.4 L39.8 183.5 L41.5 163.7 L43.2 143.9 L44.9 124.2 L46.6 104.4 L48.2 84.8 L49.9 65.1 L51.6 45.6 L53.3 26.0 L54.9 6.5 L56.6 -13.0 L58.3 -32.4 L59.9 -51.8 L61.6 -71.2 L63.2 -90.5 L64.9 -109.8 M85.9 368.2 L87.2 348.0 L88.4 327.9 L89.7 307.7 L90.9 287.6 L92.2 267.6 L93.4 247.6 L94.7 227.6 L95.9 207.7 L97.1 187.8 L98.4 167.9 L99.6 148.1 L100.8 128.3 L102.0 108.5 L103.3 88.8 L104.5 69.2 L105.7 49.5 L106.9 30.0 L108.1 10.4 L109.3 -9.1 L110.6 -28.6 L111.8 -48.0 L113.0 -67.4 L114.2 -86.8 L115.4 -106.1 M147.6 371.3 L148.4 351.1 L149.1 330.9 L149.9 310.8 L150.7 290.6 L151.5 270.6 L152.2 250.5 L153.0 230.5 L153.8 210.6 L154.6 190.6 L155.3 170.8 L156.1 150.9 L156.9 131.1 L157.6 111.3 L158.4 91.6 L159.1 71.9 L159.9 52.3 L160.7 32.7 L161.4 13.1 L162.2 -6.5 L162.9 -25.9 L163.7 -45.4 L164.4 -64.8 L165.2 -84.2 L165.9 -103.5 M209.3 373.0 L209.6 352.8 L209.9 332.6 L210.2 312.4 L210.5 292.3 L210.8 272.2 L211.1 252.1 L211.4 232.1 L211.7 212.1 L212.0 192.2 L212.3 172.3 L212.6 152.4 L212.9 132.6 L213.2 112.8 L213.5 93.1 L213.8 73.4 L214.1 53.7 L214.4 34.1 L214.7 14.5 L215.0 -5.0 L215.3 -24.5 L215.6 -44.0 L215.9 -63.4 L216.2 -82.8 L216.5 -102.2 M271.0 373.2 L270.8 353.0 L270.7 332.8 L270.5 312.6 L270.3 292.5 L270.2 272.4 L270.0 252.3 L269.8 232.3 L269.7 212.3 L269.5 192.4 L269.4 172.5 L269.2 152.6 L269.0 132.8 L268.9 113.0 L268.7 93.3 L268.6 73.6 L268.4 53.9 L268.2 34.3 L268.1 14.7 L267.9 -4.8 L267.7 -24.4 L267.6 -43.8 L267.4 -63.3 L267.3 -82.6 L267.1 -102.0 M332.7 372.0 L332.1 351.8 L331.4 331.6 L330.8 311.4 L330.2 291.3 L329.5 271.2 L328.9 251.1 L328.3 231.1 L327.6 211.2 L327.0 191.2 L326.4 171.4 L325.8 151.5 L325.1 131.7 L324.5 111.9 L323.9 92.2 L323.3 72.5 L322.6 52.8 L322.0 33.2 L321.4 13.6 L320.8 -5.9 L320.2 -25.4 L319.6 -44.9 L318.9 -64.3 L318.3 -83.7 L317.7 -103.0 M394.4 369.3 L393.3 349.1 L392.2 328.9 L391.0 308.8 L389.9 288.7 L388.8 268.6 L387.7 248.6 L386.6 228.6 L385.5 208.7 L384.4 188.8 L383.4 168.9 L382.3 149.1 L381.2 129.3 L380.1 109.5 L379.0 89.8 L377.9 70.1 L376.8 50.5 L375.8 30.9 L374.7 11.3 L373.6 -8.2 L372.5 -27.7 L371.5 -47.1 L370.4 -66.5 L369.3 -85.9 L368.3 -105.2 M456.0 365.2 L454.4 345.0 L452.8 324.9 L451.2 304.8 L449.6 284.7 L448.1 264.7 L446.5 244.7 L444.9 224.7 L443.4 204.8 L441.8 184.9 L440.3 165.1 L438.7 145.3 L437.1 125.5 L435.6 105.8 L434.1 86.1 L432.5 66.5 L431.0 46.9 L429.4 27.3 L427.9 7.8 L426.4 -11.7 L424.9 -31.2 L423.3 -50.6 L421.8 -69.9 L420.3 -89.3 L418.8 -108.6" fill="none" stroke="#000" stroke-opacity="0.09" stroke-width="0.8"/>
<path d="M91.4 210.0 L89.7 203.7 L88.5 199.1 L87.0 194.5 L85.1 185.4 L86.2 180.8 L89.7 173.9 L92.0 166.0 L96.5 162.5 L102.9 160.0 L111.4 154.3 L118.6 151.4 L124.0 151.0 L128.6 151.4 L136.0 148.0 L140.0 147.0 L144.0 143.0 L148.0 145.0 L150.0 138.0 L158.0 135.0 L164.0 130.0 L170.0 125.0 L173.0 118.0 L175.7 115.0 L178.0 112.0 L181.4 109.3 L188.6 107.9 L195.7 107.9 L202.9 112.1 L210.0 115.0 L217.3 117.5 L222.8 119.4 L225.6 124.0 L228.5 128.5 L231.4 129.3 L239.0 128.5 L242.9 127.9 L248.8 123.1 L254.4 115.7 L260.0 110.1 L267.4 108.3 L272.9 108.6 L284.3 110.0 L295.7 110.0 L301.4 115.7 L307.1 118.6 L315.7 115.7 L324.3 112.9 L340.3 110.4 L347.1 112.1 L354.0 116.5 L358.0 121.0 L361.0 122.5 L365.0 124.0 L368.0 126.0 L372.0 128.0 L375.0 131.0 L378.0 133.0 L381.4 135.0 L384.8 138.0 L388.4 142.8 L391.9 142.6 L394.4 144.7 L396.1 147.7 L398.7 150.3 L402.1 152.4 L404.6 155.0 L406.8 157.8 L410.3 159.0 L413.7 161.8 L414.8 167.0 L416.0 171.5 L418.3 174.4 L424.0 178.0 L430.0 178.5 L436.0 180.5 L441.8 185.6 L446.5 195.0 L449.6 209.2 L451.5 217.8 L453.0 219.3 L454.0 223.6 L452.0 226.4 L450.0 230.7 L445.0 235.0 L440.0 237.9 L435.0 240.0 L430.0 241.4 L425.0 242.4 L420.0 242.9 L415.0 243.9 L410.0 242.9 L405.0 242.0 L400.0 242.4 L395.0 241.6 L390.0 243.3 L385.0 245.4 L380.0 245.9 L375.0 246.3 L370.0 242.4 L366.0 244.0 L363.0 243.5 L360.0 242.5 L356.0 241.5 L352.0 242.5 L348.0 243.5 L343.0 244.0 L341.0 242.0 L340.0 236.0 L336.0 231.0 L332.0 225.0 L329.9 221.6 L325.3 214.8 L320.8 208.0 L316.2 205.7 L312.8 208.0 L310.5 222.8 L307.1 221.6 L309.4 215.9 L304.8 212.5 L295.7 212.5 L285.0 211.8 L280.0 205.5 L275.0 203.4 L270.0 202.0 L266.0 201.3 L262.0 202.0 L258.0 203.4 L255.0 202.7 L250.0 202.0 L245.0 200.6 L240.0 199.9 L236.0 202.0 L232.0 206.9 L230.0 208.3 L222.0 207.6 L215.0 209.0 L212.0 212.2 L204.0 215.4 L194.4 219.4 L188.0 222.6 L183.2 221.8 L178.4 228.2 L172.0 231.4 L164.0 233.8 L154.4 236.2 L145.7 237.1 L143.8 238.1 L141.2 235.5 L137.1 232.9 L136.0 230.3 L125.6 229.0 L122.9 231.4 L108.6 225.7 L95.7 221.4 L91.4 210.0" fill="none" stroke="#000" stroke-width="0.85" stroke-dasharray="2.8 1.7"/>
<path d="M102.9 161.4 L90.0 201.4" fill="none" stroke="#000" stroke-width="2.1" stroke-linecap="round" stroke-dasharray="0 1.9"/>
<path d="M112.0 152.9 L135.7 198.6" fill="none" stroke="#000" stroke-width="2.1" stroke-linecap="round" stroke-dasharray="0 1.9"/>
<path d="M138.6 204.3 L153.7 236.6" fill="none" stroke="#000" stroke-width="2.1" stroke-linecap="round" stroke-dasharray="0 1.9"/>
<path d="M340.9 111.4 L377.6 234.6" fill="none" stroke="#000" stroke-width="2.1" stroke-linecap="round" stroke-dasharray="0 1.9"/>
<path d="M388.1 143.7 L367.8 243.0" fill="none" stroke="#000" stroke-width="2.1" stroke-linecap="round" stroke-dasharray="0 1.9"/>
<path d="M429.8 181.0 L429.5 191.9" fill="none" stroke="#000" stroke-width="2.1" stroke-linecap="round" stroke-dasharray="0 1.9"/>
<path d="M429.4 195.2 L429.0 208.3" fill="none" stroke="#000" stroke-width="2.1" stroke-linecap="round" stroke-dasharray="0 1.9"/>
<path d="M428.9 211.6 L428.0 241.6" fill="none" stroke="#000" stroke-width="2.1" stroke-linecap="round" stroke-dasharray="0 1.9"/>
<path d="M103.7 160.0 L117.7 232.9" fill="none" stroke="#ffa500" stroke-width="2.1" stroke-linecap="round" stroke-dasharray="0 2.3"/>
<path d="M211.3 115.4 L230.9 207.1" fill="none" stroke="#ffa500" stroke-width="2.1" stroke-linecap="round" stroke-dasharray="0 2.3"/>
<path d="M301.4 118.6 L279.2 209.1" fill="none" stroke="#ffa500" stroke-width="2.1" stroke-linecap="round" stroke-dasharray="0 2.3"/>
<path d="M304.3 118.6 L315.1 206.8" fill="none" stroke="#ffa500" stroke-width="2.1" stroke-linecap="round" stroke-dasharray="0 2.3"/>
<path d="M381.9 137.6 L336.3 225.1" fill="none" stroke="#ffa500" stroke-width="2.1" stroke-linecap="round" stroke-dasharray="0 2.3"/>
<path d="M118.6 151.4 L95.7 220.0" fill="none" stroke="#00ff00" stroke-width="2.1" stroke-linecap="round" stroke-dasharray="0 2.3"/>
<path d="M135.7 147.1 L91.4 208.6" fill="none" stroke="#00ff00" stroke-width="2.1" stroke-linecap="round" stroke-dasharray="0 2.3"/>
<path d="M210.3 115.4 L178.5 228.0" fill="none" stroke="#00ff00" stroke-width="2.1" stroke-linecap="round" stroke-dasharray="0 2.3"/>
<path d="M275.7 112.9 L285.5 148.6" fill="none" stroke="#00ff00" stroke-width="2.1" stroke-linecap="round" stroke-dasharray="0 2.3"/>
<path d="M286.6 152.6 L289.9 164.5" fill="none" stroke="#00ff00" stroke-width="2.1" stroke-linecap="round" stroke-dasharray="0 2.3"/>
<path d="M291.0 168.5 L294.3 180.4" fill="none" stroke="#00ff00" stroke-width="2.1" stroke-linecap="round" stroke-dasharray="0 2.3"/>
<path d="M295.4 184.3 L303.0 212.1" fill="none" stroke="#00ff00" stroke-width="2.1" stroke-linecap="round" stroke-dasharray="0 2.3"/>
<path d="M405.2 157.5 L401.8 241.6" fill="none" stroke="#00ff00" stroke-width="2.1" stroke-linecap="round" stroke-dasharray="0 2.3"/>
<path d="M183.9 109.6 L206.9 210.5" fill="none" stroke="#ff00ff" stroke-width="2.1" stroke-linecap="round" stroke-dasharray="0 2.3"/>
<path d="M172.5 123.3 L219.2 205.7" fill="none" stroke="#ff00ff" stroke-width="2.1" stroke-linecap="round" stroke-dasharray="0 2.3"/>
<path d="M278.6 114.3 L290.6 212.1" fill="none" stroke="#ff00ff" stroke-width="2.1" stroke-linecap="round" stroke-dasharray="0 2.3"/>
<path d="M349.4 115.7 L327.2 215.9" fill="none" stroke="#ff00ff" stroke-width="2.1" stroke-linecap="round" stroke-dasharray="0 2.3"/>
<path d="M385.3 145.5 L365.8 243.3" fill="none" stroke="#ff00ff" stroke-width="2.1" stroke-linecap="round" stroke-dasharray="0 2.3"/>
<path d="M150.7 110.3L155.3 114.9M150.7 114.9L155.3 110.3" stroke="#000" stroke-width="1.1"/>
<path d="M226.2 131.3L230.8 135.9M226.2 135.9L230.8 131.3" stroke="#000" stroke-width="1.1"/>
<path d="M319.5 124.9L324.1 129.5M319.5 129.5L324.1 124.9" stroke="#000" stroke-width="1.1"/>
<path d="M104.0 185.7L108.6 190.3M104.0 190.3L108.6 185.7" stroke="#000" stroke-width="1.1"/>
<path d="M154.2 147.7L158.8 152.3M154.2 152.3L158.8 147.7" stroke="#ffa500" stroke-width="1.1"/>
<path d="M234.3 154.7L238.9 159.3M234.3 159.3L238.9 154.7" stroke="#ffa500" stroke-width="1.1"/>
<path d="M88.6 204.3L93.2 208.9M88.6 208.9L93.2 204.3" stroke="#00ff00" stroke-width="1.1"/>
<path d="M433.6 216.9L438.2 221.5M433.6 221.5L438.2 216.9" stroke="#00ff00" stroke-width="1.1"/>
<path d="M348.9 217.3L353.5 221.9M348.9 221.9L353.5 217.3" stroke="#ff00ff" stroke-width="1.1"/>
<polygon points="70.0,234.0 106.5,236.9 104.0,264.3 68.3,261.9" fill="none" stroke="#e8282a" stroke-width="1"/>
<path d="M154.0 37.4L156.4 41.8L151.6 41.8Z" fill="#000"/>
<text x="135.6" y="34.4" font-size="10.8" fill="#222" textLength="39.2" lengthAdjust="spacingAndGlyphs">Dniester</text>
<path d="M182.0 35.2L184.4 39.6L179.6 39.6Z" fill="#000"/>
<text x="188" y="38" font-size="10.8" fill="#222" textLength="36" lengthAdjust="spacingAndGlyphs">Dnieper</text>
<path d="M122.2 92.0L124.6 96.4L119.8 96.4Z" fill="#000"/>
<text x="128" y="94.6" font-size="10.8" fill="#222" textLength="36.8" lengthAdjust="spacingAndGlyphs">Danube</text>
<path d="M143.2 243.1L145.6 247.5L140.8 247.5Z" fill="#000"/>
<text x="137" y="256.6" font-size="10.8" fill="#222" textLength="38" lengthAdjust="spacingAndGlyphs">Sakarya</text>
<path d="M297.6 221.9L300.0 226.3L295.2 226.3Z" fill="#000"/>
<text x="288.8" y="237.2" font-size="10.8" fill="#222" textLength="47.6" lengthAdjust="spacingAndGlyphs">Kizilirmak</text>
<path d="M466.1 214.4L468.5 218.8L463.7 218.8Z" fill="#000"/>
<text x="461.8" y="212.8" font-size="10.8" fill="#222" textLength="23.4" lengthAdjust="spacingAndGlyphs">Rioni</text>
</g>
<rect x="36.6" y="11.6" width="89.6" height="76.2" rx="2.8" fill="#fff" fill-opacity="0.8" stroke="#9a9a9a" stroke-width="0.9"/>
<text x="40.4" y="22.7" font-size="10.8" fill="#111" textLength="81" lengthAdjust="spacingAndGlyphs">Observation Day</text>
<circle cx="45.5" cy="35.6" r="1" fill="#000"/>
<path d="M55.4 33.5L59.6 37.7M55.4 37.7L59.6 33.5" stroke="#000" stroke-width="0.75"/>
<text x="64.8" y="38.2" font-size="10.8" fill="#111" textLength="55.3" lengthAdjust="spacingAndGlyphs">07/01/2020</text>
<circle cx="45.5" cy="50.400000000000006" r="1" fill="#ffa500"/>
<path d="M55.4 48.300000000000004L59.6 52.50000000000001M55.4 52.50000000000001L59.6 48.300000000000004" stroke="#ffa500" stroke-width="0.75"/>
<text x="64.8" y="53.0" font-size="10.8" fill="#111" textLength="55.3" lengthAdjust="spacingAndGlyphs">08/01/2020</text>
<circle cx="45.5" cy="65.2" r="1" fill="#00ff00"/>
<path d="M55.4 63.1L59.6 67.3M55.4 67.3L59.6 63.1" stroke="#00ff00" stroke-width="0.75"/>
<text x="64.8" y="67.8" font-size="10.8" fill="#111" textLength="55.3" lengthAdjust="spacingAndGlyphs">09/01/2020</text>
<circle cx="45.5" cy="80.0" r="1" fill="#ff00ff"/>
<path d="M55.4 77.9L59.6 82.1M55.4 82.1L59.6 77.9" stroke="#ff00ff" stroke-width="0.75"/>
<text x="64.8" y="82.6" font-size="10.8" fill="#111" textLength="55.3" lengthAdjust="spacingAndGlyphs">10/01/2020</text>
<g clip-path="url(#iclip)">
<rect x="314.3" y="17.3" width="103.69999999999999" height="80.7" fill="#d3d3d3"/>
<polygon points="314.3,42.0 322.0,43.5 332.8,49.0 340.0,51.7 342.8,51.5 343.6,42.7 346.3,45.4 346.3,50.8 349.0,54.4 354.4,55.3 363.4,54.4 368.8,56.2 374.2,54.4 379.6,51.7 384.1,49.9 386.8,53.5 390.4,57.1 395.8,60.7 401.2,64.3 406.6,67.0 410.0,72.9 414.3,77.0 416.5,80.0 418.5,84.3 418.5,86.0 408.6,88.6 398.0,91.0 388.6,92.9 382.0,95.0 377.0,98.5 314.0,98.5" fill="#fff"/>
<polygon points="371.6,17.3 418.5,17.3 418.5,26.8 416.6,26.8 408.8,25.6 401.1,25.0 396.0,26.2 392.1,24.3 383.1,23.0 376.7,20.5" fill="#fff"/>
<g clip-path="url(#isea)">
<rect x="327.9" y="48.6" width="75.1" height="37.8" fill="#e6f5c0"/>
<path fill="#ceecb3" fill-rule="evenodd" d="M327.9 48.6 328.6 48.6 329.4 48.6 330.1 48.6 330.9 48.6 331.6 48.6 332.4 48.6 333.1 48.6 333.9 48.6 334.6 48.6 335.4 48.6 336.1 48.6 336.9 48.6 337.6 48.6 338.4 48.6 339.1 48.6 339.9 48.6 340.6 48.6 341.4 48.6 342.1 48.6 342.9 48.6 343.6 48.6 344.4 48.6 345.1 48.6 345.9 48.6 346.6 48.6 347.4 48.6 348.1 48.6 348.9 48.6 349.6 48.6 350.4 48.6 351.1 48.6 351.9 48.6 352.6 48.6 353.4 48.6 354.1 48.6 354.9 48.6 355.6 48.6 356.4 48.6 357.1 48.6 357.9 48.6 358.6 48.6 359.4 48.6 360.1 48.6 360.9 48.6 361.6 48.6 362.4 48.6 363.1 48.6 363.9 48.6 364.6 48.6 365.4 48.6 366.1 48.6 366.9 48.6 367.6 48.6 368.4 48.6 369.1 48.6 369.9 48.6 370.6 48.6 371.4 48.6 372.1 48.6 372.9 48.6 373.6 48.6 374.4 48.6 375.1 48.6 375.9 48.6 376.6 48.6 377.4 48.6 378.1 48.6 378.9 48.6 379.6 48.6 380.4 48.6 381.1 48.6 381.9 48.6 382.6 48.6 383.4 48.6 384.1 48.6 384.9 48.6 385.6 48.6 386.4 48.6 387.1 48.6 387.9 48.6 388.6 48.6 389.4 48.6 390.1 48.6 390.9 48.6 391.6 48.6 392.4 48.6 393.1 48.6 393.9 48.6 394.6 48.6 395.4 48.6 396.1 48.6 396.9 48.6 397.6 48.6 398.4 48.6 399.1 48.6 399.9 48.6 400.6 48.6 401.4 48.6 402.1 48.6 402.9 48.6 402.9 49.4 402.9 50.1 402.9 50.9 402.9 51.6 402.9 52.4 402.9 53.1 402.9 53.9 402.9 54.6 402.9 55.4 402.9 56.1 402.9 56.9 402.9 57.6 402.9 58.4 402.9 59.1 402.9 59.9 402.9 60.6 402.9 61.4 402.9 62.1 402.9 62.9 402.9 63.6 402.9 64.3 402.9 65.1 402.9 65.8 402.9 66.6 402.9 67.3 402.9 68.1 402.9 68.8 402.9 69.6 402.9 70.3 402.9 71.1 402.9 71.8 402.9 72.6 402.9 73.3 402.9 74.1 402.9 74.8 402.9 75.6 402.9 76.3 402.9 77.1 402.9 77.8 402.9 78.6 402.9 79.3 402.9 80.1 402.9 80.8 402.9 81.6 402.9 82.3 402.9 83.1 402.9 83.8 402.9 84.6 402.9 85.3 402.9 86.1 402.1 86.1 401.4 86.1 400.6 86.1 399.9 86.1 399.1 86.1 398.4 86.1 397.6 86.1 396.9 86.1 396.1 86.1 395.4 86.1 394.6 86.1 393.9 86.1 393.1 86.1 392.4 86.1 391.6 86.1 390.9 86.1 390.1 86.1 389.4 86.1 388.6 86.1 387.9 86.1 387.1 86.1 386.4 86.1 385.6 86.1 384.9 86.1 384.1 86.1 383.4 86.1 382.6 86.1 381.9 86.1 381.1 86.1 380.4 86.1 379.6 86.1 378.9 86.1 378.1 86.1 377.4 86.1 376.6 86.1 375.9 86.1 375.1 86.1 374.4 86.1 373.6 86.1 372.9 86.1 372.1 86.1 371.4 86.1 370.6 86.1 369.9 86.1 369.1 86.1 368.4 86.1 367.6 86.1 366.9 86.1 366.1 86.1 365.4 86.1 364.6 86.1 363.9 86.1 363.1 86.1 362.4 86.1 361.6 86.1 360.9 86.1 360.1 86.1 359.4 86.1 358.6 86.1 357.9 86.1 357.1 86.1 356.4 86.1 355.6 86.1 354.9 86.1 354.1 86.1 353.4 86.1 352.6 86.1 351.9 86.1 351.1 86.1 350.4 86.1 349.6 86.1 348.9 86.1 348.1 86.1 347.4 86.1 346.6 86.1 345.9 86.1 345.1 86.1 344.4 86.1 343.6 86.1 342.9 86.1 342.1 86.1 341.4 86.1 340.6 86.1 339.9 86.1 339.1 86.1 338.4 86.1 337.6 86.1 336.9 86.1 336.1 86.1 335.4 86.1 334.6 86.1 333.9 86.1 333.1 86.1 332.4 86.1 331.6 86.1 330.9 86.1 330.1 86.1 329.4 86.1 328.6 86.1 327.9 86.1 327.9 85.3 327.9 84.6 327.9 83.8 327.9 83.1 327.9 82.3 327.9 81.6 327.9 80.8 327.9 80.1 327.9 79.3 327.9 78.6 327.9 77.8 327.9 77.1 327.9 76.3 327.9 75.6 327.9 74.8 327.9 74.1 327.9 73.3 327.9 72.6 327.9 71.8 327.9 71.1 327.9 70.3 327.9 69.6 327.9 68.8 327.9 68.1 327.9 67.3 327.9 66.6 327.9 65.8 327.9 65.1 327.9 64.3 327.9 63.6 327.9 62.9 327.9 62.1 327.9 61.4 327.9 60.6 327.9 59.9 327.9 59.1 327.9 58.4 327.9 57.6 327.9 56.9 327.9 56.1 327.9 55.4 327.9 54.6 327.9 53.9 327.9 53.1 327.9 52.4 327.9 51.6 327.9 50.9 327.9 50.1 327.9 49.4 327.9 48.6ZM389.4 56.0 389.2 56.1 388.6 56.5 388.2 56.9 387.9 57.4 387.8 57.6 387.8 58.4 387.9 58.6 388.2 59.1 388.6 59.6 389.1 59.8 389.4 60.0 390.1 60.3 390.9 60.5 391.6 60.5 392.4 60.5 393.1 60.5 393.9 60.3 394.6 60.0 394.9 59.9 395.4 59.5 395.8 59.1 396.1 58.5 396.2 58.4 396.2 57.6 396.1 57.5 395.8 56.9 395.4 56.5 394.8 56.1 394.6 56.0 393.9 55.7 393.1 55.5 392.4 55.5 391.6 55.5 390.9 55.5 390.1 55.7 389.4 56.0Z"/>
<path fill="#b9e4a8" fill-rule="evenodd" d="M327.9 48.6 328.6 48.6 329.4 48.6 330.1 48.6 330.9 48.6 331.6 48.6 332.4 48.6 333.1 48.6 333.9 48.6 334.6 48.6 335.4 48.6 336.1 48.6 336.9 48.6 337.6 48.6 338.4 48.6 339.1 48.6 339.9 48.6 340.6 48.6 341.4 48.6 342.1 48.6 342.9 48.6 343.6 48.6 344.4 48.6 345.1 48.6 345.9 48.6 346.6 48.6 347.4 48.6 348.1 48.6 348.9 48.6 349.6 48.6 350.4 48.6 351.1 48.6 351.9 48.6 352.6 48.6 353.4 48.6 354.1 48.6 354.9 48.6 355.6 48.6 356.4 48.6 357.1 48.6 357.9 48.6 358.6 48.6 359.4 48.6 360.1 48.6 360.9 48.6 361.6 48.6 362.4 48.6 363.1 48.6 363.9 48.6 364.6 48.6 365.4 48.6 366.1 48.6 366.9 48.6 367.6 48.6 368.4 48.6 369.1 48.6 369.9 48.6 370.6 48.6 371.4 48.6 372.1 48.6 372.9 48.6 373.6 48.6 374.4 48.6 375.1 48.6 375.9 48.6 376.6 48.6 377.4 48.6 378.1 48.6 378.9 48.6 379.6 48.6 380.4 48.6 381.1 48.6 381.9 48.6 382.6 48.6 383.4 48.6 384.1 48.6 384.9 48.6 385.6 48.6 386.4 48.6 387.1 48.6 387.9 48.6 388.6 48.6 389.4 48.6 390.1 48.6 390.9 48.6 391.6 48.6 392.4 48.6 393.1 48.6 393.9 48.6 394.6 48.6 395.4 48.6 396.1 48.6 396.9 48.6 397.6 48.6 398.4 48.6 399.1 48.6 399.9 48.6 400.6 48.6 401.4 48.6 402.1 48.6 402.9 48.6 402.9 49.4 402.9 50.1 402.9 50.9 402.9 51.6 402.9 52.4 402.9 53.1 402.9 53.9 402.9 54.6 402.9 55.4 402.9 56.1 402.9 56.9 402.9 57.6 402.9 58.4 402.9 59.1 402.9 59.9 402.9 60.6 402.9 61.4 402.9 62.1 402.9 62.9 402.9 63.6 402.9 64.3 402.9 65.1 402.9 65.8 402.9 66.6 402.9 67.3 402.9 68.1 402.9 68.8 402.9 69.6 402.9 70.3 402.9 71.1 402.9 71.8 402.9 72.6 402.9 73.3 402.9 74.1 402.9 74.8 402.9 75.6 402.9 76.3 402.9 77.1 402.9 77.8 402.9 78.6 402.9 79.3 402.9 80.1 402.9 80.8 402.9 81.6 402.9 82.3 402.9 83.1 402.9 83.8 402.9 84.6 402.9 85.3 402.9 86.1 402.1 86.1 401.4 86.1 400.6 86.1 399.9 86.1 399.1 86.1 398.4 86.1 397.6 86.1 396.9 86.1 396.1 86.1 395.4 86.1 394.6 86.1 393.9 86.1 393.1 86.1 392.4 86.1 391.6 86.1 390.9 86.1 390.1 86.1 389.4 86.1 388.6 86.1 387.9 86.1 387.1 86.1 386.4 86.1 385.6 86.1 384.9 86.1 384.1 86.1 383.4 86.1 382.6 86.1 381.9 86.1 381.1 86.1 380.4 86.1 379.6 86.1 378.9 86.1 378.1 86.1 377.4 86.1 376.6 86.1 375.9 86.1 375.1 86.1 374.4 86.1 373.6 86.1 372.9 86.1 372.1 86.1 371.4 86.1 370.6 86.1 369.9 86.1 369.1 86.1 368.4 86.1 367.6 86.1 366.9 86.1 366.1 86.1 365.4 86.1 364.6 86.1 363.9 86.1 363.1 86.1 362.4 86.1 361.6 86.1 360.9 86.1 360.1 86.1 359.4 86.1 358.6 86.1 357.9 86.1 357.1 86.1 356.4 86.1 355.6 86.1 354.9 86.1 354.1 86.1 353.4 86.1 352.6 86.1 351.9 86.1 351.1 86.1 350.4 86.1 349.6 86.1 348.9 86.1 348.1 86.1 347.4 86.1 346.6 86.1 345.9 86.1 345.1 86.1 344.4 86.1 343.6 86.1 342.9 86.1 342.1 86.1 341.4 86.1 340.6 86.1 339.9 86.1 339.1 86.1 338.4 86.1 337.6 86.1 336.9 86.1 336.1 86.1 335.4 86.1 334.6 86.1 333.9 86.1 333.1 86.1 332.4 86.1 331.6 86.1 330.9 86.1 330.1 86.1 329.4 86.1 328.6 86.1 327.9 86.1 327.9 85.3 327.9 84.6 327.9 83.8 327.9 83.1 327.9 82.3 327.9 81.6 327.9 80.8 327.9 80.1 327.9 79.3 327.9 78.6 327.9 77.8 327.9 77.1 327.9 76.3 327.9 75.6 327.9 74.8 327.9 74.1 327.9 73.3 327.9 72.6 327.9 71.8 327.9 71.1 327.9 70.3 327.9 69.6 327.9 68.8 327.9 68.1 327.9 67.3 327.9 66.6 327.9 65.8 327.9 65.1 327.9 64.3 327.9 63.6 327.9 62.9 327.9 62.1 327.9 61.4 327.9 60.6 327.9 59.9 327.9 59.1 327.9 58.4 327.9 57.6 327.9 56.9 327.9 56.1 327.9 55.4 327.9 54.6 327.9 53.9 327.9 53.1 327.9 52.4 327.9 51.6 327.9 50.9 327.9 50.1 327.9 49.4 327.9 48.6ZM387.9 52.9 387.4 53.1 387.1 53.2 386.4 53.5 385.7 53.9 385.6 53.9 384.9 54.3 384.6 54.6 384.1 55.0 383.7 55.4 383.4 55.8 383.2 56.1 382.8 56.9 382.7 57.6 382.7 58.4 382.8 59.1 383.2 59.9 383.4 60.1 383.9 60.6 384.1 60.7 384.9 61.2 385.2 61.4 385.6 61.6 386.4 61.9 386.9 62.1 387.1 62.2 387.9 62.4 388.6 62.6 389.4 62.9 389.4 62.9 390.1 63.0 390.9 63.2 391.6 63.3 392.4 63.4 393.1 63.4 393.9 63.4 394.6 63.4 395.4 63.2 396.1 63.0 396.7 62.9 396.9 62.8 397.6 62.5 398.4 62.1 398.4 62.1 399.1 61.6 399.5 61.4 399.9 61.0 400.3 60.6 400.6 60.1 400.8 59.9 401.2 59.1 401.3 58.4 401.3 57.6 401.2 56.9 400.8 56.1 400.6 55.9 400.3 55.4 399.9 55.0 399.4 54.6 399.1 54.4 398.4 53.9 398.3 53.9 397.6 53.5 396.9 53.2 396.6 53.1 396.1 53.0 395.4 52.8 394.6 52.6 393.9 52.5 393.1 52.4 392.4 52.4 391.6 52.4 390.9 52.4 390.1 52.5 389.4 52.6 388.6 52.8 387.9 52.9Z"/>
<path fill="#a4dc9e" fill-rule="evenodd" d="M327.9 48.6 328.6 48.6 329.4 48.6 330.1 48.6 330.9 48.6 331.6 48.6 332.4 48.6 333.1 48.6 333.9 48.6 334.6 48.6 335.4 48.6 336.1 48.6 336.9 48.6 337.6 48.6 338.4 48.6 339.1 48.6 339.9 48.6 340.6 48.6 341.4 48.6 342.1 48.6 342.9 48.6 343.6 48.6 344.4 48.6 345.1 48.6 345.9 48.6 345.9 48.6 346.6 48.6 347.4 48.6 348.1 49.4 348.1 49.4 348.9 49.4 349.6 49.4 350.4 50.1 350.4 50.1 351.1 50.1 351.9 50.1 352.6 50.1 353.4 50.9 353.4 50.9 354.1 50.9 354.9 50.9 355.6 51.6 355.6 51.6 356.4 51.6 357.1 51.6 357.9 52.4 357.9 52.4 358.6 52.4 359.4 52.4 360.1 52.4 360.8 53.1 360.9 53.1 361.6 53.1 362.4 53.2 363.1 53.9 363.1 53.9 363.9 53.9 364.6 53.9 365.2 54.6 365.4 54.6 366.1 54.6 366.9 54.8 367.4 55.4 367.6 55.4 368.4 55.5 369.1 55.8 369.4 56.1 369.9 56.2 370.6 56.4 371.3 56.9 371.4 56.9 372.1 57.1 372.9 57.4 373.1 57.6 373.6 57.8 374.4 58.1 374.8 58.3 375.1 58.5 375.9 58.8 376.4 59.1 376.6 59.2 377.4 59.5 378.0 59.9 378.1 59.9 378.9 60.2 379.6 60.6 379.6 60.6 380.4 60.9 381.1 61.3 381.3 61.3 381.9 61.6 382.6 61.9 383.1 62.1 383.4 62.2 384.1 62.5 384.9 62.8 385.1 62.8 385.6 63.0 386.4 63.3 387.1 63.5 387.4 63.6 387.9 63.7 388.6 63.9 389.4 64.1 390.1 64.3 390.2 64.3 390.9 64.5 391.6 64.7 392.4 64.8 393.1 65.0 393.7 65.1 393.9 65.1 394.6 65.3 395.4 65.4 396.1 65.5 396.9 65.6 397.6 65.8 398.1 65.8 398.4 65.9 399.1 66.0 399.9 66.1 400.6 66.2 401.4 66.3 402.1 66.5 402.7 66.6 402.9 66.6 402.9 67.3 402.9 68.1 402.9 68.8 402.9 69.6 402.9 70.3 402.9 71.1 402.9 71.8 402.9 72.6 402.9 73.3 402.9 74.1 402.9 74.8 402.9 75.6 402.9 76.3 402.9 77.1 402.9 77.8 402.9 78.6 402.9 79.3 402.9 80.1 402.9 80.8 402.9 81.6 402.9 82.3 402.9 83.1 402.9 83.8 402.9 84.6 402.9 85.3 402.9 86.1 402.1 86.1 401.4 86.1 400.6 86.1 399.9 86.1 399.1 86.1 398.4 86.1 397.6 86.1 396.9 86.1 396.1 86.1 395.4 86.1 394.6 86.1 393.9 86.1 393.1 86.1 392.4 86.1 391.6 86.1 390.9 86.1 390.1 86.1 389.4 86.1 388.6 86.1 387.9 86.1 387.1 86.1 386.4 86.1 385.6 86.1 384.9 86.1 384.1 86.1 383.4 86.1 382.6 86.1 381.9 86.1 381.1 86.1 380.4 86.1 379.6 86.1 378.9 86.1 378.1 86.1 377.4 86.1 376.6 86.1 375.9 86.1 375.1 86.1 374.4 86.1 373.6 86.1 372.9 86.1 372.1 86.1 371.4 86.1 370.6 86.1 369.9 86.1 369.1 86.1 368.4 86.1 367.6 86.1 366.9 86.1 366.1 86.1 365.4 86.1 364.6 86.1 363.9 86.1 363.1 86.1 362.4 86.1 361.6 86.1 360.9 86.1 360.1 86.1 359.4 86.1 358.6 86.1 357.9 86.1 357.1 86.1 356.4 86.1 355.6 86.1 354.9 86.1 354.1 86.1 353.4 86.1 352.6 86.1 351.9 86.1 351.1 86.1 350.4 86.1 349.6 86.1 348.9 86.1 348.1 86.1 347.4 86.1 346.6 86.1 345.9 86.1 345.1 86.1 344.4 86.1 343.6 86.1 342.9 86.1 342.1 86.1 341.4 86.1 340.6 86.1 339.9 86.1 339.1 86.1 338.4 86.1 337.6 86.1 336.9 86.1 336.1 86.1 335.4 86.1 334.6 86.1 333.9 86.1 333.1 86.1 332.4 86.1 331.6 86.1 330.9 86.1 330.1 86.1 329.4 86.1 328.6 86.1 327.9 86.1 327.9 85.3 327.9 84.6 327.9 83.8 327.9 83.1 327.9 82.3 327.9 81.6 327.9 80.8 327.9 80.1 327.9 79.3 327.9 78.6 327.9 77.8 327.9 77.1 327.9 76.3 327.9 75.6 327.9 74.8 327.9 74.1 327.9 73.3 327.9 72.6 327.9 71.8 327.9 71.1 327.9 70.3 327.9 69.6 327.9 68.8 327.9 68.1 327.9 67.3 327.9 66.6 327.9 65.8 327.9 65.1 327.9 64.3 327.9 63.6 327.9 62.9 327.9 62.1 327.9 61.4 327.9 60.6 327.9 59.9 327.9 59.1 327.9 58.4 327.9 57.6 327.9 56.9 327.9 56.1 327.9 55.4 327.9 54.6 327.9 53.9 327.9 53.1 327.9 52.4 327.9 51.6 327.9 50.9 327.9 50.1 327.9 49.4 327.9 48.6Z"/>
<path fill="#8ed39c" fill-rule="evenodd" d="M327.9 50.9 327.9 50.2 328.6 50.4 329.4 50.6 330.1 50.8 330.9 50.8 331.6 50.8 332.4 50.8 333.1 50.8 333.9 50.8 334.6 50.8 334.7 50.9 335.4 50.9 336.1 50.9 336.9 50.9 337.6 50.9 338.4 50.9 339.1 50.9 339.9 51.0 340.6 51.0 341.4 51.0 342.1 51.0 342.9 51.1 343.6 51.1 344.4 51.1 345.1 51.2 345.9 51.4 346.5 51.6 346.6 51.6 347.4 51.9 348.1 52.1 348.9 52.3 349.0 52.4 349.6 52.5 350.4 52.8 351.1 53.0 351.5 53.1 351.9 53.2 352.6 53.4 353.4 53.7 354.0 53.9 354.1 53.9 354.9 54.1 355.6 54.3 356.4 54.6 356.5 54.6 357.1 54.8 357.9 55.0 358.6 55.2 359.0 55.4 359.4 55.5 360.1 55.7 360.9 55.9 361.5 56.1 361.6 56.1 362.4 56.4 363.1 56.6 363.9 56.8 364.0 56.9 364.6 57.0 365.4 57.3 366.1 57.5 366.5 57.6 366.9 57.7 367.6 57.9 368.4 58.2 368.9 58.4 369.1 58.4 369.9 58.6 370.6 58.9 371.3 59.1 371.4 59.1 372.1 59.3 372.9 59.6 373.6 59.9 373.6 59.9 374.4 60.1 375.1 60.3 375.8 60.6 375.9 60.6 376.6 60.9 377.4 61.1 377.9 61.4 378.1 61.4 378.9 61.7 379.6 62.0 379.9 62.1 380.4 62.3 381.1 62.5 381.9 62.8 382.0 62.9 382.6 63.1 383.4 63.3 384.1 63.6 384.2 63.6 384.9 63.8 385.6 64.1 386.4 64.3 386.5 64.3 387.1 64.5 387.9 64.7 388.6 65.0 389.2 65.1 389.4 65.2 390.1 65.3 390.9 65.5 391.6 65.7 392.1 65.8 392.4 65.9 393.1 66.1 393.9 66.3 394.6 66.4 395.3 66.6 395.4 66.6 396.1 66.8 396.9 67.0 397.6 67.2 398.3 67.3 398.4 67.4 399.1 67.5 399.9 67.7 400.6 67.9 401.2 68.1 401.4 68.1 402.1 68.3 402.9 68.6 402.9 68.8 402.9 69.6 402.9 70.3 402.9 71.1 402.9 71.8 402.9 72.6 402.9 73.3 402.9 74.1 402.9 74.8 402.9 75.6 402.9 76.3 402.9 77.1 402.9 77.8 402.9 78.6 402.9 79.3 402.9 80.1 402.9 80.8 402.9 81.6 402.9 82.3 402.9 83.1 402.9 83.8 402.9 84.6 402.9 85.3 402.9 86.1 402.1 86.1 401.4 86.1 400.6 86.1 399.9 86.1 399.1 86.1 398.4 86.1 397.6 86.1 396.9 86.1 396.1 86.1 395.4 86.1 394.6 86.1 393.9 86.1 393.1 86.1 392.4 86.1 391.6 86.1 390.9 86.1 390.1 86.1 389.4 86.1 388.6 86.1 387.9 86.1 387.1 86.1 386.4 86.1 385.6 86.1 384.9 86.1 384.1 86.1 383.4 86.1 382.6 86.1 381.9 86.1 381.1 86.1 380.4 86.1 379.6 86.1 378.9 86.1 378.1 86.1 377.4 86.1 376.6 86.1 375.9 86.1 375.1 86.1 374.4 86.1 373.6 86.1 372.9 86.1 372.1 86.1 371.4 86.1 370.6 86.1 369.9 86.1 369.1 86.1 368.4 86.1 367.6 86.1 366.9 86.1 366.1 86.1 365.4 86.1 364.6 86.1 363.9 86.1 363.1 86.1 362.4 86.1 361.6 86.1 360.9 86.1 360.1 86.1 359.4 86.1 358.6 86.1 357.9 86.1 357.1 86.1 356.4 86.1 355.6 86.1 354.9 86.1 354.1 86.1 353.4 86.1 352.6 86.1 351.9 86.1 351.1 86.1 350.4 86.1 349.6 86.1 348.9 86.1 348.1 86.1 347.4 86.1 346.6 86.1 345.9 86.1 345.1 86.1 344.4 86.1 343.6 86.1 342.9 86.1 342.1 86.1 341.4 86.1 340.6 86.1 339.9 86.1 339.1 86.1 338.4 86.1 337.6 86.1 336.9 86.1 336.1 86.1 335.4 86.1 334.6 86.1 333.9 86.1 333.1 86.1 332.4 86.1 331.6 86.1 330.9 86.1 330.1 86.1 329.4 86.1 328.6 86.1 327.9 86.1 327.9 85.3 327.9 84.6 327.9 83.8 327.9 83.1 327.9 82.3 327.9 81.6 327.9 80.8 327.9 80.1 327.9 79.3 327.9 78.6 327.9 77.8 327.9 77.1 327.9 76.3 327.9 75.6 327.9 74.8 327.9 74.1 327.9 73.3 327.9 72.6 327.9 71.8 327.9 71.1 327.9 70.3 327.9 69.6 327.9 68.8 327.9 68.1 327.9 67.3 327.9 66.6 327.9 65.8 327.9 65.1 327.9 64.3 327.9 63.6 327.9 62.9 327.9 62.1 327.9 61.4 327.9 60.6 327.9 59.9 327.9 59.1 327.9 58.4 327.9 57.6 327.9 56.9 327.9 56.1 327.9 55.4 327.9 54.6 327.9 53.9 327.9 53.1 327.9 52.4 327.9 51.6 327.9 50.9Z"/>
<path fill="#79ca9b" fill-rule="evenodd" d="M327.9 52.4 327.9 51.6 328.6 51.8 329.4 52.0 330.1 52.1 330.9 52.1 331.6 52.1 332.4 52.1 333.1 52.1 333.9 52.1 334.6 52.1 335.4 52.1 336.1 52.1 336.9 52.1 337.6 52.1 338.4 52.1 339.1 52.1 339.9 52.2 340.6 52.2 341.4 52.2 342.1 52.2 342.9 52.3 343.6 52.3 344.4 52.3 344.6 52.4 345.1 52.4 345.9 52.6 346.6 52.8 347.4 53.1 347.5 53.1 348.1 53.3 348.9 53.5 349.6 53.7 350.0 53.9 350.4 54.0 351.1 54.2 351.9 54.4 352.5 54.6 352.6 54.6 353.4 54.9 354.1 55.1 354.9 55.3 355.0 55.4 355.6 55.5 356.4 55.8 357.1 56.0 357.5 56.1 357.9 56.2 358.6 56.4 359.4 56.7 360.0 56.9 360.1 56.9 360.9 57.1 361.6 57.3 362.4 57.6 362.5 57.6 363.1 57.8 363.9 58.0 364.6 58.2 365.0 58.4 365.4 58.5 366.1 58.7 366.9 58.9 367.5 59.1 367.6 59.1 368.4 59.4 369.1 59.6 369.9 59.8 369.9 59.9 370.6 60.1 371.4 60.3 372.1 60.5 372.4 60.6 372.9 60.8 373.6 61.0 374.4 61.2 374.7 61.4 375.1 61.5 375.9 61.7 376.6 62.0 377.0 62.1 377.4 62.2 378.1 62.5 378.9 62.8 379.2 62.9 379.6 63.0 380.4 63.3 381.1 63.5 381.4 63.6 381.9 63.8 382.6 64.0 383.4 64.3 383.7 64.3 384.1 64.5 384.9 64.7 385.6 65.0 386.1 65.1 386.4 65.2 387.1 65.4 387.9 65.6 388.6 65.8 388.7 65.8 389.4 66.0 390.1 66.2 390.9 66.4 391.5 66.6 391.6 66.6 392.4 66.8 393.1 67.0 393.9 67.2 394.3 67.3 394.6 67.4 395.4 67.6 396.1 67.8 396.9 68.0 397.1 68.1 397.6 68.2 398.4 68.4 399.1 68.6 399.8 68.8 399.9 68.9 400.6 69.1 401.4 69.3 402.1 69.5 402.4 69.6 402.9 69.7 402.9 70.3 402.9 71.1 402.9 71.8 402.9 72.6 402.9 73.3 402.9 74.1 402.9 74.8 402.9 75.6 402.9 76.3 402.9 77.1 402.9 77.8 402.9 78.6 402.9 79.3 402.9 80.1 402.9 80.8 402.9 81.6 402.9 82.3 402.9 83.1 402.9 83.8 402.9 84.6 402.9 85.3 402.9 86.1 402.1 86.1 401.4 86.1 400.6 86.1 399.9 86.1 399.1 86.1 398.4 86.1 397.6 86.1 396.9 86.1 396.1 86.1 395.4 86.1 394.6 86.1 393.9 86.1 393.1 86.1 392.4 86.1 391.6 86.1 390.9 86.1 390.1 86.1 389.4 86.1 388.6 86.1 387.9 86.1 387.1 86.1 386.4 86.1 385.6 86.1 384.9 86.1 384.1 86.1 383.4 86.1 382.6 86.1 381.9 86.1 381.1 86.1 380.4 86.1 379.6 86.1 378.9 86.1 378.1 86.1 377.4 86.1 376.6 86.1 375.9 86.1 375.1 86.1 374.4 86.1 373.6 86.1 372.9 86.1 372.1 86.1 371.4 86.1 370.6 86.1 369.9 86.1 369.1 86.1 368.4 86.1 367.6 86.1 366.9 86.1 366.1 86.1 365.4 86.1 364.6 86.1 363.9 86.1 363.1 86.1 362.4 86.1 361.6 86.1 360.9 86.1 360.1 86.1 359.4 86.1 358.6 86.1 357.9 86.1 357.1 86.1 356.4 86.1 355.6 86.1 354.9 86.1 354.1 86.1 353.4 86.1 352.6 86.1 351.9 86.1 351.1 86.1 350.4 86.1 349.6 86.1 348.9 86.1 348.1 86.1 347.4 86.1 346.6 86.1 345.9 86.1 345.1 86.1 344.4 86.1 343.6 86.1 342.9 86.1 342.1 86.1 341.4 86.1 340.6 86.1 339.9 86.1 339.1 86.1 338.4 86.1 337.6 86.1 336.9 86.1 336.1 86.1 335.4 86.1 334.6 86.1 333.9 86.1 333.1 86.1 332.4 86.1 331.6 86.1 330.9 86.1 330.1 86.1 329.4 86.1 328.6 86.1 327.9 86.1 327.9 85.3 327.9 84.6 327.9 83.8 327.9 83.1 327.9 82.3 327.9 81.6 327.9 80.8 327.9 80.1 327.9 79.3 327.9 78.6 327.9 77.8 327.9 77.1 327.9 76.3 327.9 75.6 327.9 74.8 327.9 74.1 327.9 73.3 327.9 72.6 327.9 71.8 327.9 71.1 327.9 70.3 327.9 69.6 327.9 68.8 327.9 68.1 327.9 67.3 327.9 66.6 327.9 65.8 327.9 65.1 327.9 64.3 327.9 63.6 327.9 62.9 327.9 62.1 327.9 61.4 327.9 60.6 327.9 59.9 327.9 59.1 327.9 58.4 327.9 57.6 327.9 56.9 327.9 56.1 327.9 55.4 327.9 54.6 327.9 53.9 327.9 53.1 327.9 52.4Z"/>
<path fill="#69bf9c" fill-rule="evenodd" d="M327.9 53.1 327.9 52.8 328.6 52.9 329.3 53.1 329.4 53.1 330.1 53.3 330.9 53.2 331.7 53.2 332.4 53.2 333.1 53.2 333.9 53.1 334.6 53.1 335.4 53.1 336.1 53.1 336.9 53.1 337.6 53.1 338.4 53.1 339.1 53.1 339.9 53.1 340.6 53.2 341.4 53.2 342.1 53.2 342.9 53.2 343.6 53.3 344.4 53.3 345.1 53.4 345.9 53.6 346.6 53.8 346.8 53.9 347.4 54.0 348.1 54.3 348.9 54.5 349.3 54.6 349.6 54.7 350.4 54.9 351.1 55.2 351.8 55.4 351.9 55.4 352.6 55.6 353.4 55.8 354.1 56.1 354.3 56.1 354.9 56.3 355.6 56.5 356.4 56.7 356.8 56.9 357.1 57.0 357.9 57.2 358.6 57.4 359.3 57.6 359.4 57.6 360.1 57.9 360.9 58.1 361.6 58.3 361.8 58.4 362.4 58.5 363.1 58.8 363.9 59.0 364.3 59.1 364.6 59.2 365.4 59.4 366.1 59.7 366.8 59.9 366.9 59.9 367.6 60.1 368.4 60.3 369.1 60.6 369.2 60.6 369.9 60.8 370.6 61.0 371.4 61.3 371.7 61.4 372.1 61.5 372.9 61.7 373.6 62.0 374.1 62.1 374.4 62.2 375.1 62.4 375.9 62.7 376.4 62.9 376.6 62.9 377.4 63.1 378.1 63.4 378.8 63.6 378.9 63.6 379.6 63.9 380.4 64.1 381.1 64.3 381.1 64.4 381.9 64.6 382.6 64.8 383.4 65.1 383.4 65.1 384.1 65.3 384.9 65.5 385.6 65.8 385.9 65.8 386.4 66.0 387.1 66.2 387.9 66.4 388.5 66.6 388.6 66.6 389.4 66.9 390.1 67.1 390.9 67.3 391.2 67.3 391.6 67.5 392.4 67.7 393.1 67.9 393.9 68.1 393.9 68.1 394.6 68.3 395.4 68.5 396.1 68.7 396.6 68.8 396.9 68.9 397.6 69.2 398.4 69.4 399.1 69.6 399.2 69.6 399.9 69.8 400.6 70.0 401.4 70.2 401.7 70.3 402.1 70.5 402.9 70.7 402.9 71.1 402.9 71.8 402.9 72.6 402.9 73.3 402.9 74.1 402.9 74.8 402.9 75.6 402.9 76.3 402.9 77.1 402.9 77.8 402.9 78.6 402.9 79.3 402.9 80.1 402.9 80.8 402.9 81.6 402.9 82.3 402.9 83.1 402.9 83.8 402.9 84.6 402.9 85.3 402.9 86.1 402.1 86.1 401.4 86.1 400.6 86.1 399.9 86.1 399.1 86.1 398.4 86.1 397.6 86.1 396.9 86.1 396.1 86.1 395.4 86.1 394.6 86.1 393.9 86.1 393.1 86.1 392.4 86.1 391.6 86.1 390.9 86.1 390.1 86.1 389.4 86.1 388.6 86.1 387.9 86.1 387.1 86.1 386.4 86.1 385.6 86.1 384.9 86.1 384.1 86.1 383.4 86.1 382.6 86.1 381.9 86.1 381.1 86.1 380.4 86.1 379.6 86.1 378.9 86.1 378.1 86.1 377.4 86.1 376.6 86.1 375.9 86.1 375.1 86.1 374.4 86.1 373.6 86.1 372.9 86.1 372.1 86.1 371.4 86.1 370.6 86.1 369.9 86.1 369.1 86.1 368.4 86.1 367.6 86.1 366.9 86.1 366.1 86.1 365.4 86.1 364.6 86.1 363.9 86.1 363.1 86.1 362.4 86.1 361.6 86.1 360.9 86.1 360.1 86.1 359.4 86.1 358.6 86.1 357.9 86.1 357.1 86.1 356.4 86.1 355.6 86.1 354.9 86.1 354.1 86.1 353.4 86.1 352.6 86.1 351.9 86.1 351.1 86.1 350.4 86.1 349.6 86.1 348.9 86.1 348.1 86.1 347.4 86.1 346.6 86.1 345.9 86.1 345.1 86.1 344.4 86.1 343.6 86.1 342.9 86.1 342.1 86.1 341.4 86.1 340.6 86.1 339.9 86.1 339.1 86.1 338.4 86.1 337.6 86.1 336.9 86.1 336.1 86.1 335.4 86.1 334.6 86.1 333.9 86.1 333.1 86.1 332.4 86.1 331.6 86.1 330.9 86.1 330.1 86.1 329.4 86.1 328.6 86.1 327.9 86.1 327.9 85.3 327.9 84.6 327.9 83.8 327.9 83.1 327.9 82.3 327.9 81.6 327.9 80.8 327.9 80.1 327.9 79.3 327.9 78.6 327.9 77.8 327.9 77.1 327.9 76.3 327.9 75.6 327.9 74.8 327.9 74.1 327.9 73.3 327.9 72.6 327.9 71.8 327.9 71.1 327.9 70.3 327.9 69.6 327.9 68.8 327.9 68.1 327.9 67.3 327.9 66.6 327.9 65.8 327.9 65.1 327.9 64.3 327.9 63.6 327.9 62.9 327.9 62.1 327.9 61.4 327.9 60.6 327.9 59.9 327.9 59.1 327.9 58.4 327.9 57.6 327.9 56.9 327.9 56.1 327.9 55.4 327.9 54.6 327.9 53.9 327.9 53.1Z"/>
<path fill="#58b49d" fill-rule="evenodd" d="M327.9 53.9 327.9 53.8 328.0 53.9 328.6 54.0 329.4 54.2 330.1 54.3 330.9 54.3 331.6 54.2 332.4 54.2 333.1 54.1 333.9 54.1 334.6 54.1 335.4 54.1 336.1 54.0 336.9 54.0 337.6 54.0 338.4 54.0 339.1 54.0 339.9 54.0 340.6 54.0 341.4 54.0 342.1 54.1 342.9 54.1 343.6 54.1 344.4 54.1 345.1 54.2 345.9 54.4 346.4 54.6 346.6 54.7 347.4 54.9 348.1 55.1 348.9 55.3 348.9 55.4 349.6 55.6 350.4 55.8 351.1 56.0 351.4 56.1 351.9 56.2 352.6 56.5 353.4 56.7 353.9 56.9 354.1 56.9 354.9 57.1 355.6 57.4 356.4 57.6 356.4 57.6 357.1 57.8 357.9 58.0 358.6 58.3 358.9 58.3 359.4 58.5 360.1 58.7 360.9 58.9 361.4 59.1 361.6 59.2 362.4 59.4 363.1 59.6 363.9 59.8 363.9 59.9 364.6 60.1 365.4 60.3 366.1 60.5 366.4 60.6 366.9 60.7 367.6 61.0 368.4 61.2 368.9 61.4 369.1 61.4 369.9 61.6 370.6 61.9 371.4 62.1 371.4 62.1 372.1 62.3 372.9 62.6 373.6 62.8 373.8 62.9 374.4 63.0 375.1 63.3 375.9 63.5 376.2 63.6 376.6 63.7 377.4 64.0 378.1 64.2 378.6 64.3 378.9 64.4 379.6 64.7 380.4 64.9 381.0 65.1 381.2 65.2 381.9 65.4 382.6 65.6 383.4 65.8 383.4 65.9 384.1 66.1 384.9 66.3 385.6 66.5 385.9 66.6 386.4 66.8 387.1 67.0 387.9 67.2 388.4 67.3 388.6 67.4 389.4 67.6 390.1 67.8 390.9 68.1 391.0 68.1 391.6 68.3 392.4 68.5 393.1 68.7 393.7 68.8 393.9 68.9 394.6 69.1 395.4 69.3 396.1 69.6 396.3 69.6 396.9 69.8 397.6 70.0 398.4 70.2 398.9 70.3 399.1 70.4 399.9 70.6 400.6 70.9 401.4 71.1 401.4 71.1 402.1 71.3 402.9 71.5 402.9 71.8 402.9 72.6 402.9 73.3 402.9 74.1 402.9 74.8 402.9 75.6 402.9 76.3 402.9 77.1 402.9 77.8 402.9 78.6 402.9 79.3 402.9 80.1 402.9 80.8 402.9 81.6 402.9 82.3 402.9 83.1 402.9 83.8 402.9 84.6 402.9 85.3 402.9 86.1 402.1 86.1 401.4 86.1 400.6 86.1 399.9 86.1 399.1 86.1 398.4 86.1 397.6 86.1 396.9 86.1 396.1 86.1 395.4 86.1 394.6 86.1 393.9 86.1 393.1 86.1 392.4 86.1 391.6 86.1 390.9 86.1 390.1 86.1 389.4 86.1 388.6 86.1 387.9 86.1 387.1 86.1 386.4 86.1 385.6 86.1 384.9 86.1 384.1 86.1 383.4 86.1 382.6 86.1 381.9 86.1 381.1 86.1 380.4 86.1 379.6 86.1 378.9 86.1 378.1 86.1 377.4 86.1 376.6 86.1 375.9 86.1 375.1 86.1 374.4 86.1 373.6 86.1 372.9 86.1 372.1 86.1 371.4 86.1 370.6 86.1 369.9 86.1 369.1 86.1 368.4 86.1 367.6 86.1 366.9 86.1 366.1 86.1 365.4 86.1 364.6 86.1 363.9 86.1 363.1 86.1 362.4 86.1 361.6 86.1 360.9 86.1 360.1 86.1 359.4 86.1 358.6 86.1 357.9 86.1 357.1 86.1 356.4 86.1 355.6 86.1 354.9 86.1 354.1 86.1 353.4 86.1 352.6 86.1 351.9 86.1 351.1 86.1 350.4 86.1 349.6 86.1 348.9 86.1 348.1 86.1 347.4 86.1 346.6 86.1 345.9 86.1 345.1 86.1 344.4 86.1 343.6 86.1 342.9 86.1 342.1 86.1 341.4 86.1 340.6 86.1 339.9 86.1 339.1 86.1 338.4 86.1 337.6 86.1 336.9 86.1 336.1 86.1 335.4 86.1 334.6 86.1 333.9 86.1 333.1 86.1 332.4 86.1 331.6 86.1 330.9 86.1 330.1 86.1 329.4 86.1 328.6 86.1 327.9 86.1 327.9 85.3 327.9 84.6 327.9 83.8 327.9 83.1 327.9 82.3 327.9 81.6 327.9 80.8 327.9 80.1 327.9 79.3 327.9 78.6 327.9 77.8 327.9 77.1 327.9 76.3 327.9 75.6 327.9 74.8 327.9 74.1 327.9 73.3 327.9 72.6 327.9 71.8 327.9 71.1 327.9 70.3 327.9 69.6 327.9 68.8 327.9 68.1 327.9 67.3 327.9 66.6 327.9 65.8 327.9 65.1 327.9 64.3 327.9 63.6 327.9 62.9 327.9 62.1 327.9 61.4 327.9 60.6 327.9 59.9 327.9 59.1 327.9 58.4 327.9 57.6 327.9 56.9 327.9 56.1 327.9 55.4 327.9 54.6 327.9 53.9Z"/>
<path fill="#4fa89c" fill-rule="evenodd" d="M327.9 55.4 327.9 54.9 328.6 55.0 329.4 55.2 330.1 55.3 330.9 55.2 331.6 55.2 332.4 55.1 333.1 55.1 333.9 55.0 334.6 55.0 335.4 54.9 336.1 54.9 336.9 54.9 337.6 54.9 338.4 54.8 339.1 54.8 339.9 54.8 340.6 54.8 341.4 54.8 342.1 54.9 342.9 54.9 343.6 54.9 344.4 54.9 345.1 55.0 345.9 55.2 346.3 55.4 346.6 55.5 347.4 55.7 348.1 55.9 348.8 56.1 348.9 56.1 349.6 56.4 350.4 56.6 351.1 56.8 351.3 56.9 351.9 57.0 352.6 57.3 353.4 57.5 353.8 57.6 354.1 57.7 354.9 57.9 355.6 58.2 356.3 58.3 356.4 58.4 357.1 58.6 357.9 58.8 358.6 59.1 358.8 59.1 359.4 59.3 360.1 59.5 360.9 59.7 361.3 59.9 361.6 60.0 362.4 60.2 363.1 60.4 363.8 60.6 363.9 60.6 364.6 60.9 365.4 61.1 366.1 61.3 366.3 61.4 366.9 61.5 367.6 61.8 368.4 62.0 368.8 62.1 369.1 62.2 369.9 62.4 370.6 62.7 371.3 62.9 371.4 62.9 372.1 63.1 372.9 63.3 373.6 63.6 373.7 63.6 374.4 63.8 375.1 64.0 375.9 64.3 376.1 64.3 376.6 64.5 377.4 64.7 378.1 65.0 378.5 65.1 378.9 65.2 379.6 65.4 380.4 65.7 381.0 65.8 381.1 65.9 381.9 66.1 382.6 66.4 383.4 66.6 383.4 66.6 384.1 66.8 384.9 67.0 385.6 67.3 385.9 67.3 386.4 67.5 387.1 67.7 387.9 67.9 388.5 68.1 388.6 68.2 389.4 68.4 390.1 68.6 390.9 68.8 391.1 68.8 391.6 69.0 392.4 69.2 393.1 69.5 393.7 69.6 393.9 69.7 394.6 69.9 395.4 70.1 396.1 70.3 396.2 70.3 396.9 70.5 397.6 70.8 398.4 71.0 398.8 71.1 399.1 71.2 399.9 71.4 400.6 71.7 401.3 71.8 401.4 71.9 402.1 72.1 402.9 72.3 402.9 72.6 402.9 73.3 402.9 74.1 402.9 74.8 402.9 75.6 402.9 76.3 402.9 77.1 402.9 77.8 402.9 78.6 402.9 79.3 402.9 80.1 402.9 80.8 402.9 81.6 402.9 82.3 402.9 83.1 402.9 83.8 402.9 84.6 402.9 85.3 402.9 86.1 402.1 86.1 401.4 86.1 400.6 86.1 399.9 86.1 399.1 86.1 398.4 86.1 397.6 86.1 396.9 86.1 396.1 86.1 395.4 86.1 394.6 86.1 393.9 86.1 393.1 86.1 392.4 86.1 391.6 86.1 390.9 86.1 390.1 86.1 389.4 86.1 388.6 86.1 387.9 86.1 387.1 86.1 386.4 86.1 385.6 86.1 384.9 86.1 384.1 86.1 383.4 86.1 382.6 86.1 381.9 86.1 381.1 86.1 380.4 86.1 379.6 86.1 378.9 86.1 378.1 86.1 377.4 86.1 376.6 86.1 375.9 86.1 375.1 86.1 374.4 86.1 373.6 86.1 372.9 86.1 372.1 86.1 371.4 86.1 370.6 86.1 369.9 86.1 369.1 86.1 368.4 86.1 367.6 86.1 366.9 86.1 366.1 86.1 365.4 86.1 364.6 86.1 363.9 86.1 363.1 86.1 362.4 86.1 361.6 86.1 360.9 86.1 360.1 86.1 359.4 86.1 358.6 86.1 357.9 86.1 357.1 86.1 356.4 86.1 355.6 86.1 354.9 86.1 354.1 86.1 353.4 86.1 352.6 86.1 351.9 86.1 351.1 86.1 350.4 86.1 349.6 86.1 348.9 86.1 348.1 86.1 347.4 86.1 346.6 86.1 345.9 86.1 345.1 86.1 344.4 86.1 343.6 86.1 342.9 86.1 342.1 86.1 341.4 86.1 340.6 86.1 339.9 86.1 339.1 86.1 338.4 86.1 337.6 86.1 336.9 86.1 336.1 86.1 335.4 86.1 334.6 86.1 333.9 86.1 333.1 86.1 332.4 86.1 331.6 86.1 330.9 86.1 330.1 86.1 329.4 86.1 328.6 86.1 327.9 86.1 327.9 85.3 327.9 84.6 327.9 83.8 327.9 83.1 327.9 82.3 327.9 81.6 327.9 80.8 327.9 80.1 327.9 79.3 327.9 78.6 327.9 77.8 327.9 77.1 327.9 76.3 327.9 75.6 327.9 74.8 327.9 74.1 327.9 73.3 327.9 72.6 327.9 71.8 327.9 71.1 327.9 70.3 327.9 69.6 327.9 68.8 327.9 68.1 327.9 67.3 327.9 66.6 327.9 65.8 327.9 65.1 327.9 64.3 327.9 63.6 327.9 62.9 327.9 62.1 327.9 61.4 327.9 60.6 327.9 59.9 327.9 59.1 327.9 58.4 327.9 57.6 327.9 56.9 327.9 56.1 327.9 55.4Z"/>
<path fill="#469b9a" fill-rule="evenodd" d="M327.9 56.1 327.9 55.9 328.6 56.1 328.9 56.1 329.4 56.2 330.1 56.3 330.9 56.2 331.7 56.1 332.1 56.1 332.4 56.1 333.1 56.0 333.9 55.9 334.6 55.9 335.4 55.8 336.1 55.8 336.9 55.7 337.6 55.7 338.4 55.7 339.1 55.6 339.9 55.6 340.6 55.6 341.4 55.6 342.1 55.6 342.9 55.6 343.6 55.7 344.4 55.7 345.1 55.8 345.9 56.0 346.3 56.1 346.6 56.2 347.4 56.4 348.1 56.7 348.8 56.9 348.9 56.9 349.6 57.1 350.4 57.3 351.1 57.6 351.3 57.6 351.9 57.8 352.6 58.0 353.4 58.2 353.8 58.4 354.1 58.5 354.9 58.7 355.6 58.9 356.3 59.1 356.4 59.1 357.1 59.4 357.9 59.6 358.6 59.8 358.8 59.8 359.4 60.0 360.1 60.3 360.9 60.5 361.3 60.6 361.6 60.7 362.4 60.9 363.1 61.2 363.8 61.4 363.9 61.4 364.6 61.6 365.4 61.8 366.1 62.1 366.3 62.1 366.9 62.3 367.6 62.5 368.4 62.7 368.8 62.9 369.1 63.0 369.9 63.2 370.6 63.4 371.3 63.6 371.4 63.6 372.1 63.9 372.9 64.1 373.6 64.3 373.7 64.3 374.4 64.6 375.1 64.8 375.9 65.0 376.2 65.1 376.6 65.2 377.4 65.5 378.1 65.7 378.6 65.8 378.9 65.9 379.6 66.2 380.4 66.4 381.1 66.6 381.1 66.6 381.9 66.9 382.6 67.1 383.4 67.3 383.5 67.3 384.1 67.5 384.9 67.8 385.6 68.0 386.1 68.1 386.4 68.2 387.1 68.4 387.9 68.6 388.6 68.8 388.6 68.9 389.4 69.1 390.1 69.3 390.9 69.5 391.2 69.6 391.7 69.7 392.4 70.0 393.1 70.2 393.7 70.3 393.9 70.4 394.6 70.6 395.4 70.8 396.1 71.1 396.3 71.1 396.9 71.3 397.6 71.5 398.4 71.7 398.8 71.8 399.1 72.0 399.9 72.2 400.6 72.4 401.3 72.6 401.4 72.6 402.1 72.9 402.9 73.1 402.9 73.3 402.9 74.1 402.9 74.8 402.9 75.6 402.9 76.3 402.9 77.1 402.9 77.8 402.9 78.6 402.9 79.3 402.9 80.1 402.9 80.8 402.9 81.6 402.9 82.3 402.9 83.1 402.9 83.8 402.9 84.6 402.9 85.3 402.9 86.1 402.1 86.1 401.4 86.1 400.6 86.1 399.9 86.1 399.1 86.1 398.4 86.1 397.6 86.1 396.9 86.1 396.1 86.1 395.4 86.1 394.6 86.1 393.9 86.1 393.1 86.1 392.4 86.1 391.6 86.1 390.9 86.1 390.1 86.1 389.4 86.1 388.6 86.1 387.9 86.1 387.1 86.1 386.4 86.1 385.6 86.1 384.9 86.1 384.1 86.1 383.4 86.1 382.6 86.1 381.9 86.1 381.1 86.1 380.4 86.1 379.6 86.1 378.9 86.1 378.1 86.1 377.4 86.1 376.6 86.1 375.9 86.1 375.1 86.1 374.4 86.1 373.6 86.1 372.9 86.1 372.1 86.1 371.4 86.1 370.6 86.1 369.9 86.1 369.1 86.1 368.4 86.1 367.6 86.1 366.9 86.1 366.1 86.1 365.4 86.1 364.6 86.1 363.9 86.1 363.1 86.1 362.4 86.1 361.6 86.1 360.9 86.1 360.1 86.1 359.4 86.1 358.6 86.1 357.9 86.1 357.1 86.1 356.4 86.1 355.6 86.1 354.9 86.1 354.1 86.1 353.4 86.1 352.6 86.1 351.9 86.1 351.1 86.1 350.4 86.1 349.6 86.1 348.9 86.1 348.1 86.1 347.4 86.1 346.6 86.1 345.9 86.1 345.1 86.1 344.4 86.1 343.6 86.1 342.9 86.1 342.4 86.1 342.1 85.9 341.4 85.4 341.2 85.3 340.6 85.1 339.9 84.9 339.1 84.8 338.4 84.7 337.6 84.7 336.9 84.8 336.1 84.9 335.4 85.1 334.8 85.3 334.6 85.4 333.9 85.9 333.6 86.1 333.1 86.1 332.4 86.1 331.6 86.1 330.9 86.1 330.1 86.1 329.4 86.1 328.6 86.1 327.9 86.1 327.9 85.3 327.9 84.6 327.9 83.8 327.9 83.1 327.9 82.3 327.9 81.6 327.9 80.8 327.9 80.1 327.9 79.3 327.9 78.6 327.9 77.8 327.9 77.1 327.9 76.3 327.9 75.6 327.9 74.8 327.9 74.1 327.9 73.3 327.9 72.6 327.9 71.8 327.9 71.1 327.9 70.3 327.9 69.6 327.9 68.8 327.9 68.1 327.9 67.3 327.9 66.6 327.9 65.8 327.9 65.1 327.9 64.3 327.9 63.6 327.9 62.9 327.9 62.1 327.9 61.4 327.9 60.6 327.9 59.9 327.9 59.1 327.9 58.4 327.9 57.6 327.9 56.9 327.9 56.1Z"/>
<path fill="#428e98" fill-rule="evenodd" d="M333.8 56.9 333.9 56.8 334.6 56.8 335.4 56.7 336.1 56.6 336.9 56.6 337.6 56.5 338.4 56.5 339.1 56.4 339.9 56.4 340.6 56.4 341.4 56.4 342.1 56.4 342.9 56.4 343.6 56.4 344.4 56.4 345.1 56.5 345.9 56.7 346.4 56.8 346.6 56.9 347.4 57.2 348.1 57.4 348.9 57.6 348.9 57.6 349.6 57.8 350.4 58.1 351.1 58.3 351.4 58.3 351.9 58.5 352.6 58.7 353.4 59.0 353.9 59.1 354.2 59.2 354.9 59.4 355.6 59.6 356.4 59.9 356.4 59.9 357.1 60.1 357.9 60.3 358.6 60.5 358.9 60.6 359.4 60.8 360.1 61.0 360.9 61.2 361.4 61.4 361.6 61.4 362.4 61.7 363.1 61.9 363.9 62.1 363.9 62.1 364.6 62.3 365.4 62.6 366.1 62.8 366.4 62.8 366.9 63.0 367.6 63.2 368.4 63.5 368.9 63.6 369.1 63.7 369.9 63.9 370.6 64.1 371.4 64.3 371.4 64.4 372.1 64.6 372.9 64.8 373.6 65.0 373.8 65.1 374.4 65.3 375.1 65.5 375.9 65.7 376.3 65.8 376.7 66.0 377.4 66.2 378.1 66.4 378.8 66.6 378.9 66.6 379.6 66.9 380.4 67.1 381.1 67.3 381.2 67.3 381.9 67.6 382.6 67.8 383.4 68.0 383.7 68.1 384.1 68.2 384.9 68.5 385.6 68.7 386.2 68.8 386.4 68.9 387.1 69.1 387.9 69.3 388.6 69.6 388.8 69.6 389.4 69.8 390.1 70.0 390.9 70.2 391.3 70.3 391.6 70.5 392.4 70.7 393.1 70.9 393.8 71.1 393.9 71.1 394.6 71.3 395.4 71.6 396.1 71.8 396.4 71.8 396.9 72.0 397.6 72.2 398.4 72.5 398.9 72.6 399.1 72.7 399.9 72.9 400.6 73.1 401.4 73.3 401.4 73.4 402.1 73.6 402.9 73.8 402.9 74.1 402.9 74.8 402.9 75.6 402.9 76.3 402.9 77.1 402.9 77.8 402.9 78.6 402.9 79.3 402.9 80.1 402.9 80.8 402.9 81.6 402.9 82.3 402.9 83.1 402.9 83.8 402.9 84.6 402.9 85.3 402.9 86.1 402.1 86.1 401.4 86.1 400.6 86.1 399.9 86.1 399.1 86.1 398.4 86.1 397.6 86.1 396.9 86.1 396.1 86.1 395.4 86.1 394.6 86.1 393.9 86.1 393.1 86.1 392.4 86.1 391.6 86.1 390.9 86.1 390.1 86.1 389.4 86.1 388.6 86.1 387.9 86.1 387.1 86.1 386.4 86.1 385.6 86.1 384.9 86.1 384.1 86.1 383.4 86.1 382.6 86.1 381.9 86.1 381.1 86.1 380.4 86.1 379.6 86.1 378.9 86.1 378.1 86.1 377.4 86.1 376.6 86.1 375.9 86.1 375.1 86.1 374.4 86.1 373.6 86.1 372.9 86.1 372.1 86.1 371.4 86.1 370.6 86.1 369.9 86.1 369.1 86.1 368.4 86.1 367.6 86.1 366.9 86.1 366.1 86.1 365.4 86.1 364.6 86.1 363.9 86.1 363.1 86.1 362.4 86.1 361.6 86.1 360.9 86.1 360.1 86.1 359.4 86.1 358.6 86.1 357.9 86.1 357.1 86.1 356.4 86.1 355.6 86.1 354.9 86.1 354.1 86.1 353.4 86.1 352.6 86.1 351.9 86.1 351.1 86.1 350.4 86.1 349.6 86.1 348.9 86.1 348.1 86.1 347.4 86.1 346.6 86.1 345.9 86.1 345.1 86.1 345.1 86.1 344.5 85.3 344.4 85.3 343.6 84.7 343.4 84.6 342.9 84.3 342.1 84.0 341.8 83.8 341.4 83.7 340.6 83.5 339.9 83.4 339.1 83.3 338.4 83.2 337.6 83.2 336.9 83.3 336.1 83.4 335.4 83.5 334.6 83.7 334.2 83.8 333.9 83.9 333.1 84.3 332.6 84.6 332.4 84.7 331.6 85.3 331.5 85.3 330.9 86.1 330.9 86.1 330.1 86.1 329.4 86.1 328.6 86.1 327.9 86.1 327.9 85.3 327.9 84.6 327.9 83.8 327.9 83.1 327.9 82.3 327.9 81.6 327.9 80.8 327.9 80.1 327.9 79.3 327.9 78.6 327.9 77.8 327.9 77.1 327.9 76.3 327.9 75.6 327.9 74.8 327.9 74.1 327.9 73.3 327.9 72.6 327.9 71.8 327.9 71.1 327.9 70.3 327.9 69.6 327.9 68.8 327.9 68.1 327.9 67.3 327.9 66.6 327.9 65.8 327.9 65.1 327.9 64.3 327.9 63.6 327.9 62.9 327.9 62.1 327.9 61.4 327.9 60.6 327.9 59.9 327.9 59.1 327.9 58.4 327.9 57.6 327.9 57.0 328.6 57.1 329.4 57.2 330.1 57.3 330.9 57.2 331.6 57.1 332.4 57.0 333.1 56.9 333.8 56.9Z"/>
<path fill="#3e8195" fill-rule="evenodd" d="M335.3 57.6 335.4 57.6 336.1 57.5 336.9 57.4 337.6 57.3 338.4 57.3 339.1 57.2 339.9 57.2 340.6 57.1 341.4 57.1 342.1 57.1 342.9 57.1 343.6 57.1 344.4 57.1 345.1 57.2 345.9 57.4 346.5 57.6 346.6 57.6 347.4 57.9 348.1 58.1 348.9 58.3 349.0 58.3 349.6 58.5 350.4 58.8 351.1 59.0 351.5 59.1 351.9 59.2 352.6 59.4 353.4 59.7 354.0 59.9 354.2 59.9 354.9 60.1 355.6 60.3 356.4 60.6 356.5 60.6 357.1 60.8 357.9 61.0 358.6 61.2 359.0 61.4 359.4 61.5 360.1 61.7 360.9 61.9 361.5 62.1 361.6 62.1 362.4 62.4 363.1 62.6 363.9 62.8 364.0 62.9 364.6 63.0 365.4 63.3 366.1 63.5 366.5 63.6 366.9 63.7 367.6 63.9 368.4 64.2 369.0 64.3 369.2 64.4 369.9 64.6 370.6 64.8 371.4 65.1 371.5 65.1 372.1 65.3 372.9 65.5 373.6 65.8 374.0 65.8 374.4 66.0 375.1 66.2 375.9 66.4 376.4 66.6 376.6 66.7 377.4 66.9 378.1 67.1 378.9 67.3 378.9 67.3 379.6 67.6 380.4 67.8 381.1 68.0 381.4 68.1 381.9 68.3 382.6 68.5 383.4 68.7 383.9 68.8 384.1 68.9 384.9 69.1 385.6 69.4 386.4 69.6 386.4 69.6 387.1 69.8 387.9 70.0 388.6 70.3 388.9 70.3 389.4 70.5 390.1 70.7 390.9 70.9 391.5 71.1 391.6 71.2 392.4 71.4 393.1 71.6 393.9 71.8 394.0 71.8 394.6 72.0 395.4 72.3 396.1 72.5 396.5 72.6 396.9 72.7 397.6 72.9 398.4 73.2 399.0 73.3 399.1 73.4 399.9 73.6 400.6 73.8 401.4 74.1 401.5 74.1 402.1 74.3 402.9 74.5 402.9 74.8 402.9 75.6 402.9 76.3 402.9 77.1 402.9 77.8 402.9 78.6 402.9 79.3 402.9 80.1 402.9 80.8 402.9 81.6 402.9 82.3 402.9 83.1 402.9 83.8 402.9 84.6 402.9 85.3 402.9 86.1 402.1 86.1 401.4 86.1 400.6 86.1 399.9 86.1 399.1 86.1 398.4 86.1 397.6 86.1 396.9 86.1 396.1 86.1 395.4 86.1 394.6 86.1 393.9 86.1 393.1 86.1 392.4 86.1 391.6 86.1 390.9 86.1 390.1 86.1 389.4 86.1 388.6 86.1 387.9 86.1 387.1 86.1 386.4 86.1 385.6 86.1 384.9 86.1 384.1 86.1 383.4 86.1 382.6 86.1 381.9 86.1 381.1 86.1 380.4 86.1 379.6 86.1 378.9 86.1 378.1 86.1 377.4 86.1 376.6 86.1 375.9 86.1 375.1 86.1 374.4 86.1 373.6 86.1 372.9 86.1 372.1 86.1 371.4 86.1 370.6 86.1 369.9 86.1 369.1 86.1 368.4 86.1 367.6 86.1 366.9 86.1 366.1 86.1 365.4 86.1 364.6 86.1 363.9 86.1 363.1 86.1 362.4 86.1 361.6 86.1 360.9 86.1 360.1 86.1 359.4 86.1 358.6 86.1 357.9 86.1 357.1 86.1 356.4 86.1 355.6 86.1 354.9 86.1 354.1 86.1 353.4 86.1 352.6 86.1 351.9 86.1 351.1 86.1 350.4 86.1 349.6 86.1 348.9 86.1 348.1 86.1 347.5 86.1 347.4 86.0 347.0 85.3 346.6 85.0 346.3 84.6 345.9 84.3 345.3 83.8 345.1 83.8 344.4 83.3 343.9 83.1 343.6 83.0 342.9 82.7 342.1 82.4 341.8 82.3 341.4 82.2 340.6 82.1 339.9 82.0 339.1 81.9 338.4 81.9 337.6 81.9 336.9 81.9 336.1 82.0 335.4 82.1 334.6 82.2 334.2 82.3 333.9 82.4 333.1 82.7 332.4 82.9 332.1 83.1 331.6 83.3 330.9 83.7 330.7 83.8 330.1 84.3 329.7 84.6 329.4 84.9 329.0 85.3 328.6 85.9 328.5 86.1 327.9 86.1 327.9 85.3 327.9 84.6 327.9 83.8 327.9 83.1 327.9 82.3 327.9 81.6 327.9 80.8 327.9 80.1 327.9 79.3 327.9 78.6 327.9 77.8 327.9 77.1 327.9 76.3 327.9 75.6 327.9 74.8 327.9 74.1 327.9 73.3 327.9 72.6 327.9 71.8 327.9 71.1 327.9 70.3 327.9 69.6 327.9 68.8 327.9 68.1 327.9 67.3 327.9 66.6 327.9 65.8 327.9 65.1 327.9 64.3 327.9 63.6 327.9 62.9 327.9 62.1 327.9 61.4 327.9 60.6 327.9 59.9 327.9 59.1 327.9 58.4 327.9 58.1 328.6 58.2 329.4 58.3 329.6 58.3 330.1 58.4 330.5 58.4 330.9 58.3 331.6 58.2 332.4 58.0 333.1 57.9 333.9 57.8 334.6 57.7 335.3 57.6Z"/>
<path fill="#3e7392" fill-rule="evenodd" d="M336.6 58.3 336.9 58.3 337.6 58.2 338.4 58.1 339.1 58.0 339.9 58.0 340.6 57.9 341.4 57.9 342.1 57.9 342.9 57.8 343.6 57.8 344.4 57.8 345.1 57.9 345.9 58.1 346.6 58.3 346.7 58.4 347.4 58.6 348.1 58.8 348.9 59.0 349.2 59.1 349.6 59.2 350.4 59.5 351.1 59.7 351.7 59.9 351.9 59.9 352.6 60.1 353.4 60.4 354.1 60.6 354.2 60.6 354.9 60.8 355.6 61.0 356.4 61.3 356.7 61.4 357.1 61.5 357.9 61.7 358.6 61.9 359.2 62.1 359.4 62.2 360.1 62.4 360.9 62.6 361.6 62.8 361.7 62.9 362.4 63.1 363.1 63.3 363.9 63.5 364.2 63.6 364.6 63.7 365.4 64.0 366.1 64.2 366.7 64.3 366.9 64.4 367.6 64.7 368.4 64.9 369.1 65.1 369.1 65.1 369.9 65.3 370.6 65.6 371.4 65.8 371.6 65.8 372.1 66.0 372.9 66.2 373.6 66.5 374.1 66.6 374.4 66.7 375.1 66.9 375.9 67.1 376.6 67.3 376.6 67.4 377.4 67.6 378.1 67.8 378.9 68.0 379.1 68.1 379.6 68.3 380.4 68.5 381.1 68.7 381.6 68.8 381.9 68.9 382.6 69.2 383.4 69.4 384.1 69.6 384.1 69.6 384.9 69.8 385.6 70.1 386.4 70.3 386.6 70.3 387.1 70.5 387.9 70.7 388.6 71.0 389.1 71.1 389.4 71.2 390.1 71.4 390.9 71.6 391.6 71.8 391.6 71.9 392.4 72.1 393.1 72.3 393.9 72.5 394.1 72.6 394.6 72.8 395.4 73.0 396.1 73.2 396.6 73.3 396.9 73.4 397.6 73.7 398.4 73.9 399.1 74.1 399.2 74.1 399.9 74.3 400.6 74.5 401.4 74.8 401.7 74.8 402.1 75.0 402.9 75.2 402.9 75.6 402.9 76.3 402.9 77.1 402.9 77.8 402.9 78.6 402.9 79.3 402.9 80.1 402.9 80.8 402.9 81.6 402.9 82.3 402.9 83.1 402.9 83.8 402.9 84.6 402.9 85.3 402.9 86.1 402.1 86.1 401.4 86.1 400.6 86.1 399.9 86.1 399.1 86.1 398.4 86.1 397.6 86.1 396.9 86.1 396.1 86.1 395.4 86.1 394.6 86.1 393.9 86.1 393.1 86.1 392.4 86.1 391.6 86.1 390.9 86.1 390.1 86.1 389.4 86.1 388.6 86.1 387.9 86.1 387.1 86.1 386.4 86.1 385.6 86.1 384.9 86.1 384.1 86.1 383.4 86.1 382.6 86.1 381.9 86.1 381.1 86.1 380.4 86.1 379.6 86.1 378.9 86.1 378.1 86.1 377.4 86.1 376.6 86.1 375.9 86.1 375.1 86.1 374.4 86.1 373.6 86.1 372.9 86.1 372.1 86.1 371.4 86.1 370.6 86.1 369.9 86.1 369.1 86.1 368.4 86.1 367.6 86.1 366.9 86.1 366.1 86.1 365.4 86.1 364.6 86.1 363.9 86.1 363.1 86.1 362.4 86.1 361.6 86.1 360.9 86.1 360.1 86.1 359.4 86.1 358.6 86.1 357.9 86.1 357.1 86.1 356.4 86.1 355.6 86.1 354.9 86.1 354.1 86.1 353.4 86.1 352.6 86.1 351.9 86.1 351.1 86.1 350.4 86.1 349.7 86.1 349.6 86.0 349.3 85.3 348.9 84.9 348.7 84.6 348.1 84.0 348.0 83.8 347.4 83.4 347.1 83.1 346.6 82.8 346.0 82.3 345.9 82.3 345.1 81.9 344.4 81.6 344.4 81.6 343.6 81.3 342.9 81.1 342.1 80.9 341.7 80.8 341.4 80.8 340.6 80.7 339.9 80.6 339.1 80.5 338.4 80.5 337.6 80.5 336.9 80.5 336.1 80.6 335.4 80.7 334.6 80.8 334.3 80.8 333.9 80.9 333.1 81.1 332.4 81.3 331.6 81.6 331.6 81.6 330.9 81.9 330.1 82.2 330.0 82.3 329.4 82.7 328.8 83.1 328.6 83.2 327.9 83.8 327.9 83.1 327.9 82.3 327.9 81.6 327.9 80.8 327.9 80.1 327.9 79.3 327.9 78.6 327.9 77.8 327.9 77.1 327.9 76.3 327.9 75.6 327.9 74.8 327.9 74.1 327.9 73.3 327.9 72.6 327.9 71.8 327.9 71.1 327.9 70.3 327.9 69.6 327.9 68.8 327.9 68.1 327.9 67.3 327.9 66.6 327.9 65.8 327.9 65.1 327.9 64.3 327.9 63.6 327.9 62.9 327.9 62.1 327.9 61.4 327.9 60.6 327.9 59.9 327.9 59.3 328.6 59.4 329.4 59.5 330.1 59.6 330.9 59.4 331.6 59.3 332.4 59.1 332.5 59.1 333.1 59.0 333.9 58.8 334.6 58.7 335.4 58.5 336.1 58.4 336.6 58.3Z"/>
<path fill="#3e668f" fill-rule="evenodd" d="M337.9 59.1 338.4 59.0 339.1 58.9 339.9 58.8 340.6 58.7 341.4 58.7 342.1 58.6 342.9 58.6 343.6 58.6 344.4 58.6 345.1 58.6 345.9 58.8 346.6 59.1 346.8 59.1 347.4 59.3 348.1 59.5 348.9 59.7 349.3 59.9 349.6 60.0 350.4 60.2 351.1 60.4 351.8 60.6 351.9 60.6 352.6 60.9 353.4 61.1 354.1 61.3 354.3 61.4 354.9 61.5 355.6 61.8 356.4 62.0 356.8 62.1 357.1 62.2 357.9 62.4 358.6 62.7 359.3 62.9 359.4 62.9 360.1 63.1 360.9 63.3 361.6 63.6 361.8 63.6 362.4 63.8 363.1 64.0 363.9 64.2 364.3 64.3 364.6 64.5 365.4 64.7 366.1 64.9 366.8 65.1 366.9 65.1 367.6 65.4 368.4 65.6 369.1 65.8 369.3 65.8 369.9 66.0 370.6 66.3 371.4 66.5 371.8 66.6 372.1 66.7 372.9 66.9 373.6 67.2 374.3 67.3 374.4 67.4 375.1 67.6 375.9 67.8 376.6 68.1 376.8 68.1 377.4 68.3 378.1 68.5 378.9 68.7 379.2 68.8 379.6 69.0 380.4 69.2 381.1 69.4 381.7 69.6 381.9 69.6 382.6 69.9 383.4 70.1 384.1 70.3 384.2 70.3 384.9 70.5 385.6 70.8 386.4 71.0 386.7 71.1 387.1 71.2 387.9 71.4 388.6 71.7 389.3 71.8 389.4 71.9 390.1 72.1 390.9 72.3 391.6 72.6 391.8 72.6 392.4 72.8 393.1 73.0 393.9 73.2 394.3 73.3 394.6 73.5 395.4 73.7 396.1 73.9 396.8 74.1 396.9 74.1 397.6 74.4 398.4 74.6 399.1 74.8 399.3 74.8 399.9 75.0 400.6 75.3 401.4 75.5 401.8 75.6 402.1 75.7 402.9 75.9 402.9 76.3 402.9 77.1 402.9 77.8 402.9 78.6 402.9 79.3 402.9 80.1 402.9 80.8 402.9 81.6 402.9 82.3 402.9 83.1 402.9 83.8 402.9 84.6 402.9 85.3 402.9 86.1 402.1 86.1 401.4 86.1 400.6 86.1 399.9 86.1 399.1 86.1 398.4 86.1 397.6 86.1 396.9 86.1 396.1 86.1 395.4 86.1 394.6 86.1 393.9 86.1 393.1 86.1 392.4 86.1 391.6 86.1 390.9 86.1 390.1 86.1 389.4 86.1 388.6 86.1 387.9 86.1 387.1 86.1 386.4 86.1 385.6 86.1 384.9 86.1 384.1 86.1 383.4 86.1 382.6 86.1 381.9 86.1 381.1 86.1 380.4 86.1 379.6 86.1 378.9 86.1 378.1 86.1 377.4 86.1 376.6 86.1 375.9 86.1 375.1 86.1 374.4 86.1 373.6 86.1 372.9 86.1 372.1 86.1 371.4 86.1 370.6 86.1 369.9 86.1 369.1 86.1 368.4 86.1 367.6 86.1 366.9 86.1 366.1 86.1 365.4 86.1 364.6 86.1 363.9 86.1 363.1 86.1 362.4 86.1 361.6 86.1 360.9 86.1 360.1 86.1 359.4 86.1 358.6 86.1 357.9 86.1 357.1 86.1 356.4 86.1 355.6 86.1 354.9 86.1 354.1 86.1 353.4 86.1 352.6 86.1 351.9 86.1 351.7 86.1 351.2 85.3 351.1 85.2 350.7 84.6 350.4 84.3 350.1 83.8 349.6 83.4 349.3 83.1 348.9 82.7 348.5 82.3 348.1 82.1 347.5 81.6 347.4 81.5 346.6 81.0 346.3 80.8 345.9 80.6 345.1 80.2 344.9 80.1 344.4 79.9 343.6 79.6 342.9 79.4 342.7 79.3 342.1 79.2 341.4 79.1 340.6 79.0 339.9 78.9 339.1 78.9 338.4 78.9 337.6 78.9 336.9 78.9 336.1 78.9 335.4 79.0 334.6 79.1 333.9 79.2 333.2 79.3 333.1 79.4 332.4 79.5 331.6 79.7 330.9 80.0 330.5 80.1 330.1 80.2 329.4 80.5 328.8 80.8 328.6 80.9 327.9 81.3 327.9 80.8 327.9 80.1 327.9 79.3 327.9 78.6 327.9 77.8 327.9 77.1 327.9 76.3 327.9 75.6 327.9 74.8 327.9 74.1 327.9 73.3 327.9 72.6 327.9 71.8 327.9 71.1 327.9 70.3 327.9 69.6 327.9 68.8 327.9 68.1 327.9 67.3 327.9 66.6 327.9 65.8 327.9 65.1 327.9 64.3 327.9 63.6 327.9 62.9 327.9 62.1 327.9 61.4 327.9 60.6 328.6 60.8 329.4 60.9 330.1 60.9 330.9 60.8 331.5 60.6 331.6 60.6 332.4 60.4 333.1 60.2 333.9 60.0 334.3 59.9 334.6 59.8 335.4 59.6 336.1 59.4 336.9 59.3 337.6 59.1 337.9 59.1Z"/>
<path fill="#3f5887" fill-rule="evenodd" d="M339.2 59.9 339.9 59.7 340.6 59.6 341.4 59.5 342.1 59.5 342.9 59.4 343.6 59.4 344.4 59.3 345.1 59.4 345.9 59.6 346.6 59.8 346.9 59.9 347.4 60.0 348.1 60.2 348.9 60.5 349.4 60.6 349.6 60.7 350.4 60.9 351.1 61.1 351.9 61.4 351.9 61.4 352.6 61.6 353.4 61.8 354.1 62.0 354.4 62.1 354.9 62.3 355.6 62.5 356.4 62.7 356.9 62.9 357.1 62.9 357.9 63.2 358.6 63.4 359.4 63.6 359.4 63.6 360.1 63.8 360.9 64.1 361.6 64.3 361.9 64.3 362.4 64.5 363.1 64.7 363.9 65.0 364.4 65.1 364.6 65.2 365.4 65.4 366.1 65.6 366.9 65.8 366.9 65.9 367.6 66.1 368.4 66.3 369.1 66.5 369.4 66.6 369.9 66.8 370.6 67.0 371.4 67.2 371.9 67.3 372.1 67.4 372.9 67.7 373.6 67.9 374.4 68.1 374.4 68.1 375.1 68.3 375.9 68.6 376.6 68.8 376.8 68.8 377.4 69.0 378.1 69.2 378.9 69.5 379.3 69.6 379.6 69.7 380.4 69.9 381.1 70.1 381.8 70.3 381.9 70.4 382.6 70.6 383.4 70.8 384.1 71.0 384.3 71.1 384.9 71.3 385.6 71.5 386.4 71.7 386.8 71.8 387.1 71.9 387.9 72.2 388.6 72.4 389.4 72.6 389.4 72.6 390.1 72.8 390.9 73.1 391.6 73.3 391.9 73.3 392.4 73.5 393.1 73.7 393.9 74.0 394.4 74.1 394.6 74.2 395.4 74.4 396.1 74.6 396.9 74.8 396.9 74.9 397.6 75.1 398.4 75.3 399.1 75.5 399.4 75.6 399.9 75.8 400.6 76.0 401.4 76.2 401.9 76.3 402.1 76.4 402.9 76.7 402.9 77.1 402.9 77.8 402.9 78.6 402.9 79.3 402.9 80.1 402.9 80.8 402.9 81.6 402.9 82.3 402.9 83.1 402.9 83.8 402.9 84.6 402.9 85.3 402.9 86.1 402.1 86.1 401.4 86.1 400.6 86.1 399.9 86.1 399.1 86.1 398.4 86.1 397.6 86.1 396.9 86.1 396.1 86.1 395.4 86.1 394.6 86.1 393.9 86.1 393.1 86.1 392.4 86.1 391.6 86.1 390.9 86.1 390.1 86.1 389.4 86.1 388.6 86.1 387.9 86.1 387.1 86.1 386.4 86.1 385.6 86.1 384.9 86.1 384.1 86.1 383.4 86.1 382.6 86.1 381.9 86.1 381.1 86.1 380.4 86.1 379.6 86.1 378.9 86.1 378.1 86.1 377.4 86.1 376.6 86.1 375.9 86.1 375.1 86.1 374.4 86.1 373.6 86.1 372.9 86.1 372.1 86.1 371.4 86.1 370.6 86.1 369.9 86.1 369.1 86.1 368.4 86.1 367.6 86.1 366.9 86.1 366.1 86.1 365.4 86.1 364.6 86.1 363.9 86.1 363.1 86.1 362.4 86.1 361.6 86.1 360.9 86.1 360.1 86.1 359.4 86.1 358.6 86.1 357.9 86.1 357.1 86.1 356.4 86.1 355.6 86.1 354.9 86.1 354.1 86.1 353.5 86.1 353.4 85.9 353.1 85.3 352.6 84.8 352.5 84.6 351.9 83.8 351.9 83.8 351.3 83.1 351.1 83.0 350.5 82.3 350.4 82.2 349.7 81.6 349.6 81.5 348.9 80.9 348.8 80.8 348.1 80.4 347.8 80.1 347.4 79.8 346.7 79.3 346.6 79.3 345.9 78.9 345.4 78.6 345.1 78.5 344.4 78.1 343.9 77.8 343.7 77.7 342.9 77.4 342.1 77.1 342.1 77.1 341.4 76.9 340.6 76.7 339.9 76.6 339.1 76.5 338.4 76.5 337.6 76.5 336.9 76.5 336.1 76.6 335.4 76.6 334.6 76.7 333.9 76.8 333.1 76.9 332.4 77.1 332.3 77.1 331.6 77.2 330.9 77.4 330.1 77.6 329.4 77.8 329.4 77.8 328.6 78.1 327.9 78.4 327.9 77.8 327.9 77.1 327.9 76.3 327.9 75.6 327.9 74.8 327.9 74.1 327.9 73.3 327.9 72.6 327.9 71.8 327.9 71.1 327.9 70.3 327.9 69.6 327.9 68.8 327.9 68.1 327.9 67.3 327.9 66.6 327.9 65.8 327.9 65.1 327.9 64.3 327.9 63.6 327.9 62.9 327.9 62.3 328.6 62.5 329.4 62.6 330.1 62.6 330.9 62.4 331.6 62.2 331.8 62.1 332.4 61.9 333.1 61.6 333.9 61.4 333.9 61.3 334.6 61.1 335.4 60.8 336.1 60.6 336.1 60.6 336.9 60.4 337.6 60.2 338.4 60.0 339.1 59.9 339.2 59.9Z"/>
<path fill="#404a80" fill-rule="evenodd" d="M340.7 60.6 341.4 60.5 342.1 60.4 342.9 60.3 343.6 60.2 344.4 60.1 345.1 60.2 345.9 60.3 346.6 60.5 346.8 60.6 347.4 60.8 348.1 61.0 348.9 61.2 349.4 61.4 349.6 61.4 350.4 61.7 351.1 61.9 351.9 62.1 351.9 62.1 352.6 62.3 353.4 62.6 354.1 62.8 354.4 62.9 354.9 63.0 355.6 63.2 356.4 63.5 356.9 63.6 357.1 63.7 357.9 63.9 358.6 64.1 359.4 64.3 359.4 64.4 360.1 64.6 360.9 64.8 361.6 65.0 361.9 65.1 362.4 65.3 363.1 65.5 363.9 65.7 364.4 65.8 364.6 65.9 365.4 66.2 366.1 66.4 366.9 66.6 366.9 66.6 367.6 66.8 368.4 67.1 369.1 67.3 369.4 67.3 369.9 67.5 370.6 67.7 371.4 68.0 371.9 68.1 372.1 68.2 372.9 68.4 373.6 68.6 374.4 68.8 374.4 68.9 375.1 69.1 375.9 69.3 376.6 69.5 376.9 69.6 377.4 69.8 378.1 70.0 378.9 70.2 379.4 70.3 379.6 70.4 380.4 70.7 381.1 70.9 381.9 71.1 381.9 71.1 382.6 71.3 383.4 71.6 384.1 71.8 384.4 71.8 384.9 72.0 385.6 72.2 386.4 72.5 386.9 72.6 387.1 72.7 387.9 72.9 388.6 73.1 389.4 73.3 389.4 73.4 390.1 73.6 390.9 73.8 391.6 74.0 391.9 74.1 392.4 74.3 393.1 74.5 393.9 74.7 394.4 74.8 394.6 74.9 395.4 75.2 396.1 75.4 396.9 75.6 396.9 75.6 397.6 75.8 398.4 76.1 399.1 76.3 399.4 76.3 399.9 76.5 400.6 76.7 401.4 77.0 401.9 77.1 402.1 77.2 402.9 77.4 402.9 77.8 402.9 78.6 402.9 79.3 402.9 80.1 402.9 80.8 402.9 81.6 402.9 82.3 402.9 83.1 402.9 83.8 402.9 84.6 402.9 85.3 402.9 86.1 402.1 86.1 401.4 86.1 400.6 86.1 399.9 86.1 399.1 86.1 398.4 86.1 397.6 86.1 396.9 86.1 396.1 86.1 395.4 86.1 394.6 86.1 393.9 86.1 393.1 86.1 392.4 86.1 391.6 86.1 390.9 86.1 390.1 86.1 389.4 86.1 388.6 86.1 387.9 86.1 387.1 86.1 386.4 86.1 385.6 86.1 384.9 86.1 384.1 86.1 383.4 86.1 382.6 86.1 381.9 86.1 381.1 86.1 380.4 86.1 379.6 86.1 378.9 86.1 378.1 86.1 377.4 86.1 376.6 86.1 375.9 86.1 375.1 86.1 374.4 86.1 373.6 86.1 372.9 86.1 372.1 86.1 371.4 86.1 370.6 86.1 369.9 86.1 369.1 86.1 368.4 86.1 367.6 86.1 366.9 86.1 366.1 86.1 365.4 86.1 364.6 86.1 363.9 86.1 363.1 86.1 362.4 86.1 361.6 86.1 360.9 86.1 360.1 86.1 359.4 86.1 358.6 86.1 357.9 86.1 357.1 86.1 356.4 86.1 355.6 86.1 355.4 86.1 354.9 85.3 354.9 85.3 354.4 84.6 354.1 84.3 353.8 83.8 353.4 83.4 353.2 83.1 352.6 82.5 352.5 82.3 351.9 81.8 351.7 81.6 351.1 81.0 350.9 80.8 350.4 80.4 350.1 80.1 349.6 79.7 349.1 79.3 348.9 79.1 348.2 78.6 348.1 78.6 347.4 78.0 347.1 77.8 346.6 77.5 346.1 77.1 345.9 77.0 345.1 76.5 344.9 76.3 344.4 76.0 343.8 75.6 343.6 75.5 342.9 75.0 342.7 74.8 342.1 74.5 341.5 74.1 341.4 74.0 340.6 73.5 340.4 73.3 339.9 73.0 339.4 72.6 339.1 72.4 338.4 71.8 338.4 71.8 337.6 71.2 337.5 71.1 336.9 70.6 336.6 70.3 336.1 70.0 335.7 69.6 335.4 69.3 335.0 68.8 334.6 68.5 334.2 68.1 333.9 67.8 333.5 67.3 333.1 67.0 332.8 66.6 332.4 66.1 332.1 65.8 332.2 65.1 332.4 64.9 332.8 64.3 333.1 64.1 333.7 63.6 333.9 63.4 334.6 62.9 334.7 62.9 335.4 62.5 336.1 62.1 336.1 62.1 336.9 61.7 337.7 61.4 337.9 61.4 338.4 61.2 339.1 61.0 339.9 60.8 340.6 60.6 340.7 60.6Z"/>
<path fill="#3d3d6d" fill-rule="evenodd" d="M342.4 61.4 342.9 61.2 343.6 61.1 344.4 61.0 345.1 61.0 345.9 61.2 346.6 61.3 346.6 61.4 347.4 61.6 348.1 61.8 348.9 62.0 349.2 62.1 349.6 62.2 350.4 62.5 351.1 62.7 351.7 62.9 351.9 62.9 352.6 63.1 353.4 63.4 354.1 63.6 354.2 63.6 354.9 63.8 355.6 64.0 356.4 64.3 356.7 64.3 357.1 64.5 357.9 64.7 358.6 64.9 359.2 65.1 359.4 65.2 360.1 65.4 360.9 65.6 361.6 65.8 361.7 65.8 362.4 66.1 363.1 66.3 363.9 66.5 364.2 66.6 364.6 66.7 365.4 67.0 366.1 67.2 366.7 67.3 366.9 67.4 367.6 67.6 368.4 67.9 369.1 68.1 369.2 68.1 369.9 68.3 370.6 68.5 371.4 68.8 371.7 68.8 372.1 69.0 372.9 69.2 373.6 69.4 374.2 69.6 374.4 69.7 375.1 69.9 375.9 70.1 376.6 70.3 376.7 70.3 377.4 70.6 378.1 70.8 378.9 71.0 379.2 71.1 379.6 71.2 380.4 71.5 381.1 71.7 381.7 71.8 381.9 71.9 382.6 72.1 383.4 72.4 384.1 72.6 384.2 72.6 384.9 72.8 385.6 73.0 386.4 73.3 386.7 73.3 387.1 73.5 387.9 73.7 388.6 73.9 389.2 74.1 389.4 74.2 390.1 74.4 390.9 74.6 391.6 74.8 391.7 74.8 392.4 75.1 393.1 75.3 393.9 75.5 394.2 75.6 394.7 75.7 395.4 76.0 396.1 76.2 396.7 76.3 396.9 76.4 397.6 76.6 398.4 76.9 399.1 77.1 399.2 77.1 399.9 77.3 400.6 77.5 401.4 77.8 401.7 77.8 402.1 78.0 402.9 78.2 402.9 78.6 402.9 79.3 402.9 80.1 402.9 80.8 402.9 81.6 402.9 82.3 402.9 83.1 402.9 83.8 402.9 84.6 402.9 85.3 402.9 86.1 402.1 86.1 401.4 86.1 400.6 86.1 399.9 86.1 399.1 86.1 398.4 86.1 397.6 86.1 396.9 86.1 396.1 86.1 395.4 86.1 394.6 86.1 393.9 86.1 393.1 86.1 392.4 86.1 391.6 86.1 390.9 86.1 390.1 86.1 389.4 86.1 388.6 86.1 387.9 86.1 387.1 86.1 386.4 86.1 385.6 86.1 384.9 86.1 384.1 86.1 383.4 86.1 382.6 86.1 381.9 86.1 381.1 86.1 380.4 86.1 379.6 86.1 378.9 86.1 378.1 86.1 377.4 86.1 376.6 86.1 375.9 86.1 375.1 86.1 374.4 86.1 373.6 86.1 372.9 86.1 372.1 86.1 371.4 86.1 370.6 86.1 369.9 86.1 369.1 86.1 368.4 86.1 367.6 86.1 366.9 86.1 366.1 86.1 365.4 86.1 364.6 86.1 363.9 86.1 363.1 86.1 362.4 86.1 361.6 86.1 360.9 86.1 360.1 86.1 359.4 86.1 358.6 86.1 357.9 86.1 357.4 86.1 357.1 85.8 356.8 85.3 356.4 84.8 356.3 84.6 355.7 83.8 355.6 83.8 355.1 83.1 354.9 82.9 354.4 82.3 354.1 82.1 353.7 81.6 353.4 81.3 353.0 80.8 352.6 80.5 352.2 80.1 351.9 79.8 351.4 79.3 351.1 79.1 350.5 78.6 350.4 78.5 349.7 77.8 349.6 77.8 348.9 77.2 348.8 77.1 348.1 76.6 347.8 76.3 347.4 76.0 346.9 75.6 346.6 75.4 346.0 74.8 345.9 74.8 345.1 74.1 345.1 74.1 344.4 73.5 344.3 73.3 343.6 72.8 343.4 72.6 342.9 72.1 342.6 71.8 342.1 71.4 341.8 71.1 341.4 70.7 341.1 70.3 340.6 69.9 340.3 69.6 339.9 69.1 339.6 68.8 339.1 68.3 338.9 68.1 338.4 67.5 338.2 67.3 337.6 66.7 337.6 66.6 336.9 65.8 336.9 65.8 336.7 65.1 336.8 64.3 336.9 64.3 337.4 63.6 337.6 63.4 338.3 62.9 338.4 62.8 339.1 62.4 339.8 62.1 339.9 62.1 340.6 61.8 341.4 61.6 342.1 61.4 342.4 61.4Z"/>
<path fill="#3a305a" fill-rule="evenodd" d="M344.4 62.1 344.4 62.1 345.1 62.0 345.6 62.1 345.9 62.2 346.6 62.3 347.4 62.5 348.1 62.7 348.8 62.9 348.9 62.9 349.6 63.1 350.4 63.3 351.1 63.5 351.4 63.6 351.9 63.8 352.6 64.0 353.4 64.2 353.9 64.3 354.1 64.4 354.9 64.7 355.6 64.9 356.4 65.1 356.4 65.1 357.1 65.3 357.9 65.6 358.6 65.8 358.9 65.8 359.4 66.0 360.1 66.2 360.9 66.5 361.4 66.6 361.6 66.7 362.4 66.9 363.1 67.1 363.9 67.3 363.9 67.4 364.6 67.6 365.4 67.8 366.1 68.0 366.4 68.1 366.9 68.3 367.6 68.5 368.4 68.7 368.9 68.8 369.2 68.9 369.9 69.2 370.6 69.4 371.4 69.6 371.4 69.6 372.1 69.8 372.9 70.1 373.6 70.3 373.9 70.3 374.4 70.5 375.1 70.7 375.9 71.0 376.4 71.1 376.7 71.2 377.4 71.4 378.1 71.6 378.9 71.8 378.9 71.9 379.6 72.1 380.4 72.3 381.1 72.5 381.4 72.6 381.9 72.8 382.6 73.0 383.4 73.2 383.9 73.3 384.1 73.4 384.9 73.7 385.6 73.9 386.4 74.1 386.4 74.1 387.1 74.3 387.9 74.6 388.6 74.8 388.9 74.8 389.4 75.0 390.1 75.2 390.9 75.5 391.4 75.6 391.6 75.7 392.4 75.9 393.1 76.1 393.9 76.3 393.9 76.4 394.6 76.6 395.4 76.8 396.1 77.0 396.4 77.1 396.9 77.3 397.6 77.5 398.4 77.7 398.9 77.8 399.1 77.9 399.9 78.2 400.6 78.4 401.4 78.6 401.4 78.6 402.1 78.8 402.9 79.1 402.9 79.3 402.9 80.1 402.9 80.8 402.9 81.6 402.9 82.3 402.9 83.1 402.9 83.8 402.9 84.6 402.9 85.3 402.9 86.1 402.1 86.1 401.4 86.1 400.6 86.1 399.9 86.1 399.1 86.1 398.4 86.1 397.6 86.1 396.9 86.1 396.1 86.1 395.4 86.1 394.6 86.1 393.9 86.1 393.1 86.1 392.4 86.1 391.6 86.1 390.9 86.1 390.1 86.1 389.4 86.1 388.6 86.1 387.9 86.1 387.1 86.1 386.4 86.1 385.6 86.1 384.9 86.1 384.1 86.1 383.4 86.1 382.6 86.1 381.9 86.1 381.1 86.1 380.4 86.1 379.6 86.1 378.9 86.1 378.1 86.1 377.4 86.1 376.6 86.1 375.9 86.1 375.1 86.1 374.4 86.1 373.6 86.1 372.9 86.1 372.1 86.1 371.4 86.1 370.6 86.1 369.9 86.1 369.1 86.1 368.4 86.1 367.6 86.1 366.9 86.1 366.1 86.1 365.4 86.1 364.6 86.1 363.9 86.1 363.1 86.1 362.4 86.1 361.6 86.1 360.9 86.1 360.1 86.1 359.4 86.1 359.4 86.0 358.9 85.3 358.6 85.0 358.3 84.6 357.9 84.1 357.7 83.8 357.1 83.2 357.1 83.1 356.5 82.3 356.4 82.3 355.8 81.6 355.6 81.5 355.1 80.8 354.9 80.7 354.4 80.1 354.1 79.9 353.6 79.3 353.4 79.2 352.8 78.6 352.6 78.4 352.0 77.8 351.9 77.7 351.2 77.1 351.1 77.0 350.4 76.4 350.4 76.3 349.6 75.7 349.6 75.6 348.9 75.0 348.8 74.8 348.1 74.3 347.9 74.1 347.4 73.6 347.1 73.3 346.6 72.9 346.4 72.6 345.9 72.1 345.6 71.8 345.1 71.4 344.9 71.1 344.4 70.6 344.1 70.3 343.6 69.8 343.4 69.6 342.9 69.0 342.7 68.8 342.1 68.2 342.0 68.1 341.4 67.4 341.3 67.3 340.7 66.6 340.6 66.6 340.1 65.8 339.9 65.3 339.8 65.1 339.9 64.9 340.0 64.3 340.6 63.6 340.7 63.6 341.4 63.1 341.9 62.9 342.1 62.8 342.9 62.5 343.6 62.3 344.4 62.1Z"/>
<path fill="#312543" fill-rule="evenodd" d="M344.4 63.6 344.4 63.6 345.1 63.4 345.9 63.4 346.6 63.5 347.4 63.6 347.4 63.6 348.1 63.7 348.9 63.9 349.6 64.1 350.4 64.3 350.6 64.3 351.1 64.5 351.9 64.7 352.6 65.0 353.2 65.1 353.4 65.2 354.1 65.4 354.9 65.6 355.6 65.8 355.7 65.8 356.4 66.1 357.1 66.3 357.9 66.5 358.2 66.6 358.6 66.8 359.4 67.0 360.1 67.2 360.7 67.3 360.9 67.4 361.6 67.7 362.4 67.9 363.1 68.1 363.2 68.1 363.9 68.3 364.6 68.6 365.4 68.8 365.7 68.8 366.1 69.0 366.9 69.2 367.6 69.5 368.2 69.6 368.4 69.7 369.1 69.9 369.9 70.1 370.6 70.3 370.7 70.3 371.4 70.6 372.1 70.8 372.9 71.0 373.2 71.1 373.6 71.3 374.4 71.5 375.1 71.7 375.7 71.8 375.9 71.9 376.6 72.2 377.4 72.4 378.1 72.6 378.2 72.6 378.9 72.8 379.6 73.1 380.4 73.3 380.7 73.3 381.1 73.5 381.9 73.7 382.6 74.0 383.2 74.1 383.4 74.2 384.1 74.4 384.9 74.6 385.6 74.8 385.7 74.8 386.4 75.1 387.1 75.3 387.9 75.5 388.2 75.6 388.6 75.8 389.4 76.0 390.1 76.2 390.7 76.3 390.9 76.4 391.6 76.7 392.4 76.9 393.1 77.1 393.2 77.1 393.9 77.3 394.6 77.6 395.4 77.8 395.7 77.8 396.1 78.0 396.9 78.2 397.6 78.5 398.2 78.6 398.4 78.7 399.1 78.9 399.9 79.1 400.6 79.3 400.7 79.3 401.4 79.6 402.1 79.8 402.9 80.0 402.9 80.1 402.9 80.8 402.9 81.6 402.9 82.3 402.9 83.1 402.9 83.8 402.9 84.6 402.9 85.3 402.9 86.1 402.1 86.1 401.4 86.1 400.6 86.1 399.9 86.1 399.1 86.1 398.4 86.1 397.6 86.1 396.9 86.1 396.1 86.1 395.4 86.1 394.6 86.1 393.9 86.1 393.1 86.1 392.4 86.1 391.6 86.1 390.9 86.1 390.1 86.1 389.4 86.1 388.6 86.1 387.9 86.1 387.1 86.1 386.4 86.1 385.6 86.1 384.9 86.1 384.1 86.1 383.4 86.1 382.6 86.1 381.9 86.1 381.1 86.1 380.4 86.1 379.6 86.1 378.9 86.1 378.1 86.1 377.4 86.1 376.6 86.1 375.9 86.1 375.1 86.1 374.4 86.1 373.6 86.1 372.9 86.1 372.1 86.1 371.4 86.1 370.6 86.1 369.9 86.1 369.1 86.1 368.4 86.1 367.6 86.1 366.9 86.1 366.1 86.1 365.4 86.1 364.6 86.1 363.9 86.1 363.1 86.1 362.4 86.1 361.8 86.1 361.6 85.9 361.2 85.3 360.9 85.0 360.6 84.6 360.1 84.1 360.0 83.8 359.4 83.2 359.4 83.1 358.7 82.4 358.6 82.3 358.1 81.6 357.9 81.4 357.4 80.8 357.1 80.6 356.7 80.1 356.4 79.8 356.0 79.3 355.6 79.0 355.2 78.6 354.9 78.3 354.5 77.8 354.1 77.5 353.7 77.1 353.4 76.8 353.0 76.3 352.6 76.0 352.2 75.6 351.9 75.3 351.4 74.8 351.1 74.6 350.7 74.1 350.4 73.8 349.9 73.3 349.6 73.1 349.2 72.6 348.9 72.3 348.4 71.8 348.1 71.5 347.7 71.1 347.4 70.8 347.0 70.3 346.6 70.0 346.3 69.6 345.9 69.2 345.6 68.8 345.1 68.4 344.9 68.1 344.4 67.5 344.2 67.3 343.6 66.7 343.5 66.6 343.0 65.8 342.9 65.1 342.9 65.1 342.9 65.1 343.3 64.3 343.6 64.1 344.4 63.6Z"/>
<path fill="#281a2c" fill-rule="evenodd" d="M346.8 65.8 347.4 65.5 348.1 65.4 348.9 65.4 349.6 65.5 350.4 65.6 351.1 65.7 351.6 65.8 351.9 65.9 352.6 66.2 353.4 66.4 354.1 66.6 354.2 66.6 354.9 66.8 355.6 67.1 356.4 67.3 356.7 67.3 357.1 67.5 357.9 67.7 358.6 68.0 359.2 68.1 359.4 68.2 360.1 68.4 360.9 68.6 361.6 68.8 361.7 68.8 362.4 69.1 363.1 69.3 363.9 69.5 364.2 69.6 364.6 69.8 365.4 70.0 366.1 70.2 366.7 70.3 366.9 70.4 367.6 70.7 368.4 70.9 369.1 71.1 369.2 71.1 369.9 71.3 370.6 71.6 371.4 71.8 371.7 71.8 372.1 72.0 372.9 72.2 373.6 72.5 374.2 72.6 374.4 72.7 375.1 72.9 375.9 73.1 376.6 73.3 376.7 73.3 377.4 73.6 378.1 73.8 378.9 74.0 379.2 74.1 379.6 74.3 380.4 74.5 381.1 74.7 381.7 74.8 381.9 74.9 382.6 75.2 383.4 75.4 384.1 75.6 384.2 75.6 384.9 75.8 385.6 76.1 386.4 76.3 386.7 76.3 387.1 76.5 387.9 76.7 388.6 77.0 389.2 77.1 389.4 77.2 390.1 77.4 390.9 77.6 391.6 77.8 391.7 77.8 392.4 78.1 393.1 78.3 393.9 78.5 394.2 78.6 394.6 78.8 395.4 79.0 396.1 79.2 396.7 79.3 396.9 79.4 397.6 79.7 398.4 79.9 399.1 80.1 399.2 80.1 399.9 80.3 400.6 80.6 401.4 80.8 401.7 80.8 402.1 81.0 402.9 81.2 402.9 81.6 402.9 82.3 402.9 83.1 402.9 83.8 402.9 84.6 402.9 85.3 402.9 86.1 402.1 86.1 401.4 86.1 400.6 86.1 399.9 86.1 399.1 86.1 398.4 86.1 397.6 86.1 396.9 86.1 396.1 86.1 395.4 86.1 394.6 86.1 393.9 86.1 393.1 86.1 392.4 86.1 391.6 86.1 390.9 86.1 390.1 86.1 389.4 86.1 388.6 86.1 387.9 86.1 387.1 86.1 386.4 86.1 385.6 86.1 384.9 86.1 384.1 86.1 383.4 86.1 382.6 86.1 381.9 86.1 381.1 86.1 380.4 86.1 379.6 86.1 378.9 86.1 378.1 86.1 377.4 86.1 376.6 86.1 375.9 86.1 375.1 86.1 374.4 86.1 373.6 86.1 372.9 86.1 372.1 86.1 371.4 86.1 370.6 86.1 369.9 86.1 369.1 86.1 368.4 86.1 367.6 86.1 366.9 86.1 366.1 86.1 365.4 86.1 364.6 86.1 364.6 86.1 364.0 85.3 363.9 85.2 363.4 84.6 363.1 84.3 362.7 83.8 362.4 83.4 362.1 83.1 361.6 82.6 361.5 82.3 360.9 81.7 360.8 81.6 360.1 80.9 360.1 80.8 359.5 80.1 359.4 80.0 358.8 79.3 358.6 79.2 358.1 78.6 357.9 78.4 357.4 77.8 357.1 77.6 356.7 77.1 356.4 76.8 355.9 76.3 355.6 76.1 355.2 75.6 354.9 75.3 354.5 74.8 354.1 74.5 353.7 74.1 353.4 73.8 353.0 73.3 352.6 73.0 352.3 72.6 351.9 72.2 351.6 71.8 351.1 71.4 350.9 71.1 350.4 70.6 350.2 70.3 349.6 69.8 349.5 69.6 348.9 69.0 348.8 68.8 348.1 68.2 348.1 68.1 347.4 67.4 347.4 67.3 346.8 66.6 346.8 65.8Z"/>
</g>
<polygon points="344,52 349,54.4 354.4,55.3 360,55.5 362,57 360,59.5 352,60 346,59" fill="#fff"/><polygon points="364,56 368.8,56.2 374.2,54.4 377,56 375,59 370,60.5 365,59.5" fill="#fff"/><path d="M385 64.5 C388 62.5 393 63 396.5 65 C398.5 67 398 71 395 72 C392 72.5 389 70 386 67.5Z" fill="#fff"/><polygon points="373,17.3 418.5,17.3 418.5,25.3 408.8,24 401.1,23.4 396,24.6 392.1,22.7 383.1,21.4 376.7,18.9" fill="#b2dfa6"/><polygon points="388,22.6 398,24.8 394.5,28.5 391.8,31.5 390.5,27" fill="#a9dba2"/><polyline points="394.1,25.9 391.5,29.8 388.9,33 387.6,34.3 389.6,36.2 388.5,40.1 387,43.9 384.4,47.1 383.1,49.7" fill="none" stroke="#666" stroke-width="1.9"/><polyline points="394.1,25.9 391.5,29.8 388.9,33 387.6,34.3 389.6,36.2 388.5,40.1 387,43.9 384.4,47.1 383.1,49.7" fill="none" stroke="#9bd3a0" stroke-width="1.1"/>
<polygon points="314.3,42.0 322.0,43.5 332.8,49.0 340.0,51.7 342.8,51.5 343.6,42.7 346.3,45.4 346.3,50.8 349.0,54.4 354.4,55.3 363.4,54.4 368.8,56.2 374.2,54.4 379.6,51.7 384.1,49.9 386.8,53.5 390.4,57.1 395.8,60.7 401.2,64.3 406.6,67.0 410.0,72.9 414.3,77.0 416.5,80.0 418.5,84.3 418.5,86.0 408.6,88.6 398.0,91.0 388.6,92.9 382.0,95.0 377.0,98.5 314.0,98.5" fill="none" stroke="#555" stroke-width="0.5"/>
<polygon points="371.6,17.3 418.5,17.3 418.5,26.8 416.6,26.8 408.8,25.6 401.1,25.0 396.0,26.2 392.1,24.3 383.1,23.0 376.7,20.5" fill="none" stroke="#555" stroke-width="0.5"/>
<path d="M332.6 17.3V98.0M349.9 17.3V98.0M366.9 17.3V98.0M383.8 17.3V98.0M400.9 17.3V98.0M314.3 28.5H418.0M314.3 40.4H418.0M314.3 52.3H418.0M314.3 64.2H418.0M314.3 76.1H418.0M314.3 88.0H418.0" stroke="#888" stroke-opacity="0.6" stroke-width="0.7" fill="none"/>
<text x="316" y="69.2" font-size="10.6" font-weight="bold" fill="#000">A</text>
<text x="363.2" y="97.2" font-size="10.6" font-weight="bold" fill="#000">B</text>
<text x="404.6" y="86" font-size="10.6" font-weight="bold" fill="#000">C</text>
</g>
<rect x="314.3" y="17.3" width="103.69999999999999" height="80.7" fill="none" stroke="#b83a3a" stroke-width="1"/>
<rect x="422.3" y="27.1" width="5.3" height="62" fill="url(#deepv)"/>
<path d="M422.3 27.1L424.95 21.8L427.6 27.1Z" fill="#281a2c"/>
<path d="M422.3 89.1L424.95 94L427.6 89.1Z" fill="#fdfecc" stroke="#ddd" stroke-width="0.3"/>
<path d="M427.6 25.9h2" stroke="#222" stroke-width="0.6"/>
<text x="432" y="29.5" font-size="10.4" fill="#222" textLength="22.0" lengthAdjust="spacingAndGlyphs">1300</text>
<path d="M427.6 38.1h2" stroke="#222" stroke-width="0.6"/>
<text x="432" y="41.7" font-size="10.4" fill="#222" textLength="22.0" lengthAdjust="spacingAndGlyphs">1000</text>
<path d="M427.6 53.9h2" stroke="#222" stroke-width="0.6"/>
<text x="432" y="57.5" font-size="10.4" fill="#222" textLength="16.5" lengthAdjust="spacingAndGlyphs">600</text>
<path d="M427.6 68h2" stroke="#222" stroke-width="0.6"/>
<text x="432" y="71.6" font-size="10.4" fill="#222" textLength="16.5" lengthAdjust="spacingAndGlyphs">250</text>
<path d="M427.6 78.6h2" stroke="#222" stroke-width="0.6"/>
<text x="432" y="82.2" font-size="10.4" fill="#222" textLength="11.0" lengthAdjust="spacingAndGlyphs">70</text>
<path d="M427.6 90.8h2" stroke="#222" stroke-width="0.6"/>
<text x="432" y="94.4" font-size="10.4" fill="#222" textLength="11.0" lengthAdjust="spacingAndGlyphs">10</text>
<text transform="translate(462.8 58) rotate(-90)" text-anchor="middle" font-size="10.4" fill="#222" textLength="45" lengthAdjust="spacingAndGlyphs">Depth (m)</text>
<rect x="31.5" y="5.5" width="463" height="277" fill="none" stroke="#7a7a7a" stroke-width="1"/>
<text x="28.6" y="44.8" transform="rotate(4.7 28.6 40.9)" text-anchor="end" font-size="11" font-weight="bold" fill="#111" textLength="23.5" lengthAdjust="spacingAndGlyphs">46°N</text>
<text x="28.6" y="84.8" transform="rotate(4.7 28.6 80.9)" text-anchor="end" font-size="11" font-weight="bold" fill="#111" textLength="23.5" lengthAdjust="spacingAndGlyphs">45°N</text>
<text x="28.6" y="124.8" transform="rotate(4.7 28.6 120.9)" text-anchor="end" font-size="11" font-weight="bold" fill="#111" textLength="23.5" lengthAdjust="spacingAndGlyphs">44°N</text>
<text x="28.6" y="164.8" transform="rotate(4.7 28.6 160.9)" text-anchor="end" font-size="11" font-weight="bold" fill="#111" textLength="23.5" lengthAdjust="spacingAndGlyphs">43°N</text>
<text x="28.6" y="204.8" transform="rotate(4.7 28.6 200.9)" text-anchor="end" font-size="11" font-weight="bold" fill="#111" textLength="23.5" lengthAdjust="spacingAndGlyphs">42°N</text>
<text x="28.6" y="244.8" transform="rotate(4.7 28.6 240.9)" text-anchor="end" font-size="11" font-weight="bold" fill="#111" textLength="23.5" lengthAdjust="spacingAndGlyphs">41°N</text>
<text transform="translate(30.2 286.2) rotate(-85.11)" dy="3.5" text-anchor="end" font-size="9.9" font-weight="bold" fill="#111" textLength="22.3" lengthAdjust="spacingAndGlyphs">27°E</text>
<text transform="translate(90.3 286.2) rotate(-86.45)" dy="3.5" text-anchor="end" font-size="9.9" font-weight="bold" fill="#111" textLength="22.3" lengthAdjust="spacingAndGlyphs">29°E</text>
<text transform="translate(150.5 286.2) rotate(-87.79)" dy="3.5" text-anchor="end" font-size="9.9" font-weight="bold" fill="#111" textLength="22.3" lengthAdjust="spacingAndGlyphs">31°E</text>
<text transform="translate(210.6 286.2) rotate(-89.13)" dy="3.5" text-anchor="end" font-size="9.9" font-weight="bold" fill="#111" textLength="22.3" lengthAdjust="spacingAndGlyphs">33°E</text>
<text transform="translate(271.0 286.2) rotate(-90.47)" dy="3.5" text-anchor="end" font-size="9.9" font-weight="bold" fill="#111" textLength="22.3" lengthAdjust="spacingAndGlyphs">35°E</text>
<text transform="translate(331.0 286.2) rotate(-91.81)" dy="3.5" text-anchor="end" font-size="9.9" font-weight="bold" fill="#111" textLength="22.3" lengthAdjust="spacingAndGlyphs">37°E</text>
<text transform="translate(390.9 286.2) rotate(-93.15)" dy="3.5" text-anchor="end" font-size="9.9" font-weight="bold" fill="#111" textLength="22.3" lengthAdjust="spacingAndGlyphs">39°E</text>
<text transform="translate(450.8 286.2) rotate(-94.49)" dy="3.5" text-anchor="end" font-size="9.9" font-weight="bold" fill="#111" textLength="22.3" lengthAdjust="spacingAndGlyphs">41°E</text>
<rect x="58.2" y="313.0" width="382.3" height="9.600000000000023" fill="url(#cb)"/>
<path d="M58.2 313.0L39.4 317.8L58.2 322.6Z" fill="#0b0b8a"/>
<path d="M440.5 313.0L459.4 317.8L440.5 322.6Z" fill="#2e0000"/>
<path d="M58.2 322.6v2" stroke="#444" stroke-width="0.5"/>
<text x="58.2" y="333.2" text-anchor="middle" font-size="9.6" fill="#222" textLength="19.6" lengthAdjust="spacingAndGlyphs">−1.5</text>
<path d="M96.4 322.6v2" stroke="#444" stroke-width="0.5"/>
<text x="96.4" y="333.2" text-anchor="middle" font-size="9.6" fill="#222" textLength="19.6" lengthAdjust="spacingAndGlyphs">−1.2</text>
<path d="M134.7 322.6v2" stroke="#444" stroke-width="0.5"/>
<text x="134.7" y="333.2" text-anchor="middle" font-size="9.6" fill="#222" textLength="19.6" lengthAdjust="spacingAndGlyphs">−0.9</text>
<path d="M172.9 322.6v2" stroke="#444" stroke-width="0.5"/>
<text x="172.9" y="333.2" text-anchor="middle" font-size="9.6" fill="#222" textLength="19.6" lengthAdjust="spacingAndGlyphs">−0.6</text>
<path d="M211.1 322.6v2" stroke="#444" stroke-width="0.5"/>
<text x="211.1" y="333.2" text-anchor="middle" font-size="9.6" fill="#222" textLength="19.6" lengthAdjust="spacingAndGlyphs">−0.3</text>
<path d="M249.4 322.6v2" stroke="#444" stroke-width="0.5"/>
<text x="249.4" y="333.2" text-anchor="middle" font-size="9.6" fill="#222" textLength="12" lengthAdjust="spacingAndGlyphs">0.0</text>
<path d="M287.6 322.6v2" stroke="#444" stroke-width="0.5"/>
<text x="287.6" y="333.2" text-anchor="middle" font-size="9.6" fill="#222" textLength="12" lengthAdjust="spacingAndGlyphs">0.3</text>
<path d="M325.8 322.6v2" stroke="#444" stroke-width="0.5"/>
<text x="325.8" y="333.2" text-anchor="middle" font-size="9.6" fill="#222" textLength="12" lengthAdjust="spacingAndGlyphs">0.6</text>
<path d="M364.0 322.6v2" stroke="#444" stroke-width="0.5"/>
<text x="364.0" y="333.2" text-anchor="middle" font-size="9.6" fill="#222" textLength="12" lengthAdjust="spacingAndGlyphs">0.9</text>
<path d="M402.3 322.6v2" stroke="#444" stroke-width="0.5"/>
<text x="402.3" y="333.2" text-anchor="middle" font-size="9.6" fill="#222" textLength="12" lengthAdjust="spacingAndGlyphs">1.2</text>
<path d="M440.5 322.6v2" stroke="#444" stroke-width="0.5"/>
<text x="440.5" y="333.2" text-anchor="middle" font-size="9.6" fill="#222" textLength="12" lengthAdjust="spacingAndGlyphs">1.5</text>
<text x="249.5" y="344.8" text-anchor="middle" font-size="10.4" fill="#222" textLength="11" lengthAdjust="spacingAndGlyphs">°C</text>
</svg></body></html>
